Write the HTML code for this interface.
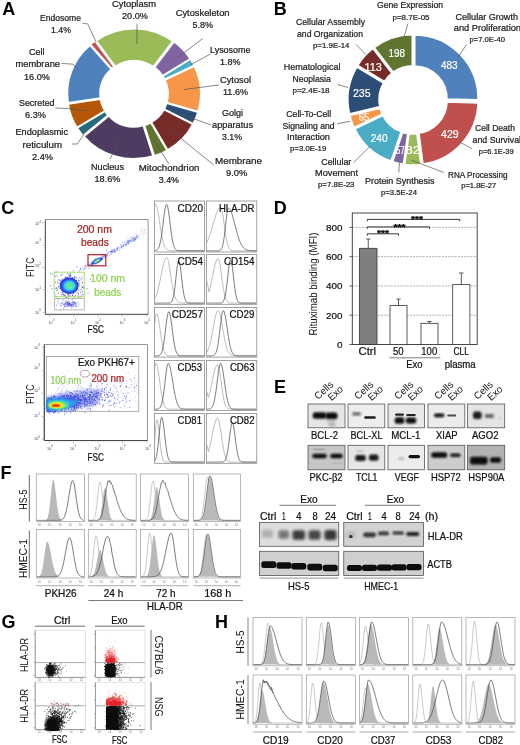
<!DOCTYPE html>
<html><head><meta charset="utf-8"><title>Figure</title>
<style>
html,body{margin:0;padding:0;background:#fff;}
body{width:520px;height:745px;overflow:hidden;font-family:"Liberation Sans",sans-serif;}
svg{display:block;font-family:"Liberation Sans",sans-serif;filter:blur(0.35px);}
</style></head><body>
<svg width="520" height="745" viewBox="0 0 520 745">
<rect width="520" height="745" fill="#fff"/>
<text x="2.20" y="14.80" font-size="18" font-weight="bold" fill="#000">A</text>
<g transform="translate(134 93.8) scale(1.012 0.988) translate(-134 -93.3)">
<path d="M69.01,102.26 A63.85,63.85 0 0 1 90.44,44.24 L111.40,68.56 A31.75,31.75 0 0 0 100.74,97.41 Z" fill="#4F81BD" stroke="#fff" stroke-width="1.5" stroke-linejoin="miter"/>
<path d="M91.08,43.36 A63.85,63.85 0 0 1 95.52,39.87 L114.24,65.94 A31.75,31.75 0 0 0 112.04,67.68 Z" fill="#C0504D" stroke="#fff" stroke-width="1.5" stroke-linejoin="miter"/>
<path d="M96.78,39.44 A63.85,63.85 0 0 1 172.22,40.14 L153.02,65.86 A31.75,31.75 0 0 0 115.50,65.51 Z" fill="#9BBB59" stroke="#fff" stroke-width="1.5" stroke-linejoin="miter"/>
<path d="M173.67,40.78 A63.85,63.85 0 0 1 189.47,57.88 L162.32,75.00 A31.75,31.75 0 0 0 154.47,66.50 Z" fill="#8064A2" stroke="#fff" stroke-width="1.5" stroke-linejoin="miter"/>
<path d="M189.75,58.27 A63.85,63.85 0 0 1 193.27,64.62 L164.35,78.55 A31.75,31.75 0 0 0 162.60,75.39 Z" fill="#4BACC6" stroke="#fff" stroke-width="1.5" stroke-linejoin="miter"/>
<path d="M193.52,65.42 A63.85,63.85 0 0 1 197.28,111.05 L166.47,102.04 A31.75,31.75 0 0 0 164.60,79.36 Z" fill="#F79646" stroke="#fff" stroke-width="1.5" stroke-linejoin="miter"/>
<path d="M197.14,111.96 A63.85,63.85 0 0 1 192.48,123.55 L164.01,108.72 A31.75,31.75 0 0 0 166.33,102.95 Z" fill="#2C4D75" stroke="#fff" stroke-width="1.5" stroke-linejoin="miter"/>
<path d="M192.07,124.18 A63.85,63.85 0 0 1 167.26,150.04 L151.26,122.21 A31.75,31.75 0 0 0 163.60,109.35 Z" fill="#772C2A" stroke="#fff" stroke-width="1.5" stroke-linejoin="miter"/>
<path d="M166.62,150.49 A63.85,63.85 0 0 1 154.08,156.00 L144.39,125.40 A31.75,31.75 0 0 0 150.63,122.66 Z" fill="#5F7530" stroke="#fff" stroke-width="1.5" stroke-linejoin="miter"/>
<path d="M152.72,156.09 A63.85,63.85 0 0 1 84.68,136.44 L109.20,115.72 A31.75,31.75 0 0 0 143.03,125.49 Z" fill="#4D3B62" stroke="#fff" stroke-width="1.5" stroke-linejoin="miter"/>
<path d="M83.62,135.69 A63.85,63.85 0 0 1 77.95,127.85 L105.31,111.07 A31.75,31.75 0 0 0 108.13,114.97 Z" fill="#276A7C" stroke="#fff" stroke-width="1.5" stroke-linejoin="miter"/>
<path d="M77.69,127.37 A63.85,63.85 0 0 1 69.01,103.65 L100.74,98.79 A31.75,31.75 0 0 0 105.06,110.58 Z" fill="#B65708" stroke="#fff" stroke-width="1.5" stroke-linejoin="miter"/>
</g>
<polyline points="82.50,23.40 87.70,23.80 96.20,42.30" fill="none" stroke="#555" stroke-width="0.7" stroke-linejoin="round" />
<polyline points="61.50,63.40 73.00,64.20 79.00,70.00" fill="none" stroke="#555" stroke-width="0.7" stroke-linejoin="round" />
<polyline points="55.20,108.00 67.70,108.50 87.60,110.90" fill="none" stroke="#555" stroke-width="0.7" stroke-linejoin="round" />
<polyline points="72.00,144.00 77.20,144.00 84.10,133.90" fill="none" stroke="#555" stroke-width="0.7" stroke-linejoin="round" />
<line x1="110.10" y1="159.00" x2="118.70" y2="141.40" stroke="#555" stroke-width="0.7" />
<line x1="137.00" y1="24.00" x2="137.00" y2="44.00" stroke="#555" stroke-width="0.7" />
<line x1="202.50" y1="38.75" x2="177.50" y2="57.50" stroke="#555" stroke-width="0.7" />
<line x1="210.50" y1="54.00" x2="191.00" y2="64.50" stroke="#555" stroke-width="0.7" />
<line x1="219.00" y1="85.00" x2="184.00" y2="89.50" stroke="#555" stroke-width="0.7" />
<line x1="211.00" y1="125.00" x2="180.00" y2="113.75" stroke="#555" stroke-width="0.7" />
<line x1="213.75" y1="165.00" x2="170.00" y2="129.50" stroke="#555" stroke-width="0.7" />
<line x1="168.75" y1="163.75" x2="153.75" y2="140.00" stroke="#555" stroke-width="0.7" />
<text x="40.00" y="20.50" font-size="8.6" fill="#1c1c1c" stroke="#1c1c1c" stroke-width="0.22" textLength="41.00" lengthAdjust="spacingAndGlyphs" >Endosome</text>
<text x="51.00" y="33.00" font-size="8.6" fill="#1c1c1c" stroke="#1c1c1c" stroke-width="0.22" textLength="20.00" lengthAdjust="spacingAndGlyphs" >1.4%</text>
<text x="29.00" y="54.50" font-size="8.6" fill="#1c1c1c" stroke="#1c1c1c" stroke-width="0.22" textLength="15.50" lengthAdjust="spacingAndGlyphs" >Cell</text>
<text x="15.50" y="67.00" font-size="8.6" fill="#1c1c1c" stroke="#1c1c1c" stroke-width="0.22" textLength="44.50" lengthAdjust="spacingAndGlyphs" >membrane</text>
<text x="24.00" y="79.50" font-size="8.6" fill="#1c1c1c" stroke="#1c1c1c" stroke-width="0.22" textLength="26.00" lengthAdjust="spacingAndGlyphs" >16.0%</text>
<text x="19.00" y="105.50" font-size="8.6" fill="#1c1c1c" stroke="#1c1c1c" stroke-width="0.22" textLength="35.50" lengthAdjust="spacingAndGlyphs" >Secreted</text>
<text x="25.00" y="118.00" font-size="8.6" fill="#1c1c1c" stroke="#1c1c1c" stroke-width="0.22" textLength="21.00" lengthAdjust="spacingAndGlyphs" >6.3%</text>
<text x="15.50" y="135.00" font-size="8.6" fill="#1c1c1c" stroke="#1c1c1c" stroke-width="0.22" textLength="52.50" lengthAdjust="spacingAndGlyphs" >Endoplasmic</text>
<text x="22.50" y="147.50" font-size="8.6" fill="#1c1c1c" stroke="#1c1c1c" stroke-width="0.22" textLength="39.50" lengthAdjust="spacingAndGlyphs" >reticulum</text>
<text x="32.00" y="160.00" font-size="8.6" fill="#1c1c1c" stroke="#1c1c1c" stroke-width="0.22" textLength="21.00" lengthAdjust="spacingAndGlyphs" >2.4%</text>
<text x="91.00" y="169.50" font-size="8.6" fill="#1c1c1c" stroke="#1c1c1c" stroke-width="0.22" textLength="33.00" lengthAdjust="spacingAndGlyphs" >Nucleus</text>
<text x="94.50" y="182.00" font-size="8.6" fill="#1c1c1c" stroke="#1c1c1c" stroke-width="0.22" textLength="26.00" lengthAdjust="spacingAndGlyphs" >18.6%</text>
<text x="112.00" y="7.00" font-size="8.6" fill="#1c1c1c" stroke="#1c1c1c" stroke-width="0.22" textLength="44.00" lengthAdjust="spacingAndGlyphs" >Cytoplasm</text>
<text x="122.00" y="19.00" font-size="8.6" fill="#1c1c1c" stroke="#1c1c1c" stroke-width="0.22" textLength="26.00" lengthAdjust="spacingAndGlyphs" >20.0%</text>
<text x="175.75" y="15.50" font-size="8.6" fill="#1c1c1c" stroke="#1c1c1c" stroke-width="0.22" textLength="53.75" lengthAdjust="spacingAndGlyphs" >Cytoskeleton</text>
<text x="192.50" y="28.00" font-size="8.6" fill="#1c1c1c" stroke="#1c1c1c" stroke-width="0.22" textLength="20.50" lengthAdjust="spacingAndGlyphs" >5.8%</text>
<text x="210.00" y="52.50" font-size="8.6" fill="#1c1c1c" stroke="#1c1c1c" stroke-width="0.22" textLength="40.50" lengthAdjust="spacingAndGlyphs" >Lysosome</text>
<text x="220.00" y="65.00" font-size="8.6" fill="#1c1c1c" stroke="#1c1c1c" stroke-width="0.22" textLength="20.50" lengthAdjust="spacingAndGlyphs" >1.8%</text>
<text x="220.00" y="82.50" font-size="8.6" fill="#1c1c1c" stroke="#1c1c1c" stroke-width="0.22" textLength="31.00" lengthAdjust="spacingAndGlyphs" >Cytosol</text>
<text x="223.00" y="94.50" font-size="8.6" fill="#1c1c1c" stroke="#1c1c1c" stroke-width="0.22" textLength="25.00" lengthAdjust="spacingAndGlyphs" >11.6%</text>
<text x="222.00" y="115.50" font-size="8.6" fill="#1c1c1c" stroke="#1c1c1c" stroke-width="0.22" textLength="21.00" lengthAdjust="spacingAndGlyphs" >Golgi</text>
<text x="212.00" y="127.50" font-size="8.6" fill="#1c1c1c" stroke="#1c1c1c" stroke-width="0.22" textLength="41.00" lengthAdjust="spacingAndGlyphs" >apparatus</text>
<text x="222.00" y="139.50" font-size="8.6" fill="#1c1c1c" stroke="#1c1c1c" stroke-width="0.22" textLength="20.00" lengthAdjust="spacingAndGlyphs" >3.1%</text>
<text x="215.00" y="163.75" font-size="8.6" fill="#1c1c1c" stroke="#1c1c1c" stroke-width="0.22" textLength="47.00" lengthAdjust="spacingAndGlyphs" >Membrane</text>
<text x="226.00" y="175.75" font-size="8.6" fill="#1c1c1c" stroke="#1c1c1c" stroke-width="0.22" textLength="21.50" lengthAdjust="spacingAndGlyphs" >9.0%</text>
<text x="138.75" y="171.00" font-size="8.6" fill="#1c1c1c" stroke="#1c1c1c" stroke-width="0.22" textLength="60.75" lengthAdjust="spacingAndGlyphs" >Mitochondrion</text>
<text x="158.75" y="183.00" font-size="8.6" fill="#1c1c1c" stroke="#1c1c1c" stroke-width="0.22" textLength="20.25" lengthAdjust="spacingAndGlyphs" >3.4%</text>
<text x="273.69" y="14.80" font-size="18" font-weight="bold" fill="#000">B</text>
<path d="M414.27,34.50 A64.25,64.25 0 0 1 478.50,100.34 L446.51,99.55 A32.25,32.25 0 0 0 414.27,66.50 Z" fill="#4F81BD" stroke="#fff" stroke-width="2.5" stroke-linejoin="miter"/>
<path d="M478.54,102.40 A64.25,64.25 0 0 1 422.57,164.52 L418.46,132.79 A32.25,32.25 0 0 0 446.55,101.60 Z" fill="#C0504D" stroke="#fff" stroke-width="2.5" stroke-linejoin="miter"/>
<path d="M421.44,165.02 A64.25,64.25 0 0 1 404.09,164.90 L408.62,133.23 A32.25,32.25 0 0 0 417.33,133.28 Z" fill="#9BBB59" stroke="#fff" stroke-width="2.5" stroke-linejoin="miter"/>
<path d="M403.75,164.86 A64.25,64.25 0 0 1 392.01,162.03 L402.39,131.76 A32.25,32.25 0 0 0 408.28,133.18 Z" fill="#8064A2" stroke="#fff" stroke-width="2.5" stroke-linejoin="miter"/>
<path d="M391.36,161.70 A64.25,64.25 0 0 1 354.28,128.73 L383.13,114.88 A32.25,32.25 0 0 0 401.74,131.43 Z" fill="#4BACC6" stroke="#fff" stroke-width="2.5" stroke-linejoin="miter"/>
<path d="M353.87,128.11 A64.25,64.25 0 0 1 349.27,115.13 L380.41,107.74 A32.25,32.25 0 0 0 382.71,114.26 Z" fill="#F79646" stroke="#fff" stroke-width="2.5" stroke-linejoin="miter"/>
<path d="M349.20,114.40 A64.25,64.25 0 0 1 356.72,66.35 L384.11,82.89 A32.25,32.25 0 0 0 380.34,107.01 Z" fill="#2C4D75" stroke="#fff" stroke-width="2.5" stroke-linejoin="miter"/>
<path d="M357.09,65.58 A64.25,64.25 0 0 1 372.99,47.81 L392.46,73.21 A32.25,32.25 0 0 0 384.48,82.12 Z" fill="#772C2A" stroke="#fff" stroke-width="2.5" stroke-linejoin="miter"/>
<path d="M373.63,47.39 A64.25,64.25 0 0 1 412.72,34.13 L412.72,66.13 A32.25,32.25 0 0 0 393.10,72.79 Z" fill="#5F7530" stroke="#fff" stroke-width="2.5" stroke-linejoin="miter"/>
<line x1="356.00" y1="44.50" x2="366.00" y2="54.50" stroke="#555" stroke-width="0.7" />
<line x1="337.50" y1="84.50" x2="348.00" y2="87.50" stroke="#555" stroke-width="0.7" />
<line x1="337.00" y1="123.75" x2="350.50" y2="121.25" stroke="#555" stroke-width="0.7" />
<line x1="353.75" y1="162.50" x2="370.00" y2="146.25" stroke="#555" stroke-width="0.7" />
<line x1="398.75" y1="172.50" x2="399.50" y2="162.50" stroke="#555" stroke-width="0.7" />
<line x1="443.75" y1="172.50" x2="411.25" y2="160.00" stroke="#555" stroke-width="0.7" />
<line x1="472.00" y1="148.75" x2="460.50" y2="142.50" stroke="#555" stroke-width="0.7" />
<line x1="466.50" y1="44.50" x2="458.50" y2="56.50" stroke="#555" stroke-width="0.7" />
<line x1="408.00" y1="23.50" x2="404.00" y2="37.00" stroke="#555" stroke-width="0.7" />
<text x="296.00" y="25.00" font-size="8.6" fill="#1c1c1c" stroke="#1c1c1c" stroke-width="0.22" textLength="69.00" lengthAdjust="spacingAndGlyphs" >Cellular Assembly</text>
<text x="297.00" y="37.00" font-size="8.6" fill="#1c1c1c" stroke="#1c1c1c" stroke-width="0.22" textLength="66.00" lengthAdjust="spacingAndGlyphs" >and Organization</text>
<text x="313.00" y="48.00" font-size="7.9" fill="#1c1c1c" stroke="#1c1c1c" stroke-width="0.22" textLength="36.50" lengthAdjust="spacingAndGlyphs" >p=1.9E-14</text>
<text x="283.75" y="70.00" font-size="8.6" fill="#1c1c1c" stroke="#1c1c1c" stroke-width="0.22" textLength="56.75" lengthAdjust="spacingAndGlyphs" >Hematological</text>
<text x="292.50" y="81.75" font-size="8.6" fill="#1c1c1c" stroke="#1c1c1c" stroke-width="0.22" textLength="38.25" lengthAdjust="spacingAndGlyphs" >Neoplasia</text>
<text x="292.50" y="92.50" font-size="7.9" fill="#1c1c1c" stroke="#1c1c1c" stroke-width="0.22" textLength="37.00" lengthAdjust="spacingAndGlyphs" >p=2.4E-18</text>
<text x="286.25" y="117.00" font-size="8.6" fill="#1c1c1c" stroke="#1c1c1c" stroke-width="0.22" textLength="45.00" lengthAdjust="spacingAndGlyphs" >Cell-To-Cell</text>
<text x="282.50" y="128.75" font-size="8.6" fill="#1c1c1c" stroke="#1c1c1c" stroke-width="0.22" textLength="52.00" lengthAdjust="spacingAndGlyphs" >Signaling and</text>
<text x="287.00" y="140.00" font-size="8.6" fill="#1c1c1c" stroke="#1c1c1c" stroke-width="0.22" textLength="43.00" lengthAdjust="spacingAndGlyphs" >Interaction</text>
<text x="290.00" y="151.25" font-size="7.9" fill="#1c1c1c" stroke="#1c1c1c" stroke-width="0.22" textLength="36.25" lengthAdjust="spacingAndGlyphs" >p=3.0E-19</text>
<text x="321.25" y="165.00" font-size="8.6" fill="#1c1c1c" stroke="#1c1c1c" stroke-width="0.22" textLength="30.00" lengthAdjust="spacingAndGlyphs" >Cellular</text>
<text x="315.00" y="176.25" font-size="8.6" fill="#1c1c1c" stroke="#1c1c1c" stroke-width="0.22" textLength="43.00" lengthAdjust="spacingAndGlyphs" >Movement</text>
<text x="318.00" y="187.00" font-size="7.9" fill="#1c1c1c" stroke="#1c1c1c" stroke-width="0.22" textLength="36.50" lengthAdjust="spacingAndGlyphs" >p=7.8E-23</text>
<text x="365.00" y="183.75" font-size="8.6" fill="#1c1c1c" stroke="#1c1c1c" stroke-width="0.22" textLength="69.50" lengthAdjust="spacingAndGlyphs" >Protein Synthesis</text>
<text x="381.00" y="194.50" font-size="7.9" fill="#1c1c1c" stroke="#1c1c1c" stroke-width="0.22" textLength="36.00" lengthAdjust="spacingAndGlyphs" >p=3.5E-24</text>
<text x="448.00" y="177.50" font-size="8.6" fill="#1c1c1c" stroke="#1c1c1c" stroke-width="0.22" textLength="59.50" lengthAdjust="spacingAndGlyphs" >RNA Processing</text>
<text x="461.25" y="188.00" font-size="7.9" fill="#1c1c1c" stroke="#1c1c1c" stroke-width="0.22" textLength="35.00" lengthAdjust="spacingAndGlyphs" >p=1.8E-27</text>
<text x="475.00" y="131.00" font-size="8.6" fill="#1c1c1c" stroke="#1c1c1c" stroke-width="0.22" textLength="40.00" lengthAdjust="spacingAndGlyphs" >Cell Death</text>
<text x="472.50" y="143.00" font-size="8.6" fill="#1c1c1c" stroke="#1c1c1c" stroke-width="0.22" textLength="48.50" lengthAdjust="spacingAndGlyphs" >and Survival</text>
<text x="478.75" y="153.75" font-size="7.9" fill="#1c1c1c" stroke="#1c1c1c" stroke-width="0.22" textLength="35.00" lengthAdjust="spacingAndGlyphs" >p=6.1E-39</text>
<text x="455.50" y="20.00" font-size="8.6" fill="#1c1c1c" stroke="#1c1c1c" stroke-width="0.22" textLength="62.50" lengthAdjust="spacingAndGlyphs" >Cellular Growth</text>
<text x="453.75" y="31.00" font-size="8.6" fill="#1c1c1c" stroke="#1c1c1c" stroke-width="0.22" textLength="67.25" lengthAdjust="spacingAndGlyphs" >and Proliferation</text>
<text x="469.50" y="42.00" font-size="7.9" fill="#1c1c1c" stroke="#1c1c1c" stroke-width="0.22" textLength="35.50" lengthAdjust="spacingAndGlyphs" >p=7.0E-40</text>
<text x="377.00" y="8.00" font-size="8.6" fill="#1c1c1c" stroke="#1c1c1c" stroke-width="0.22" textLength="66.00" lengthAdjust="spacingAndGlyphs" >Gene Expression</text>
<text x="392.50" y="20.00" font-size="7.9" fill="#1c1c1c" stroke="#1c1c1c" stroke-width="0.22" textLength="37.00" lengthAdjust="spacingAndGlyphs" >p=8.7E-05</text>
<text x="441.00" y="68.60" font-size="10.2" fill="#fff" stroke="#fff" stroke-width="0.22" textLength="16.50" lengthAdjust="spacingAndGlyphs" >483</text>
<text x="441.00" y="138.10" font-size="10.2" fill="#fff" stroke="#fff" stroke-width="0.22" textLength="17.75" lengthAdjust="spacingAndGlyphs" >429</text>
<text x="405.50" y="154.35" font-size="10.2" fill="#fff" stroke="#fff" stroke-width="0.22" textLength="14.50" lengthAdjust="spacingAndGlyphs" >82</text>
<text x="395.50" y="154.35" font-size="10.2" fill="#fff" stroke="#fff" stroke-width="0.22" textLength="9.50" lengthAdjust="spacingAndGlyphs" >57</text>
<text x="370.75" y="141.85" font-size="10.2" fill="#fff" stroke="#fff" stroke-width="0.22" textLength="16.75" lengthAdjust="spacingAndGlyphs" >240</text>
<text x="358.75" y="120.60" font-size="10.2" fill="#fff" stroke="#fff" stroke-width="0.22" textLength="10.50" lengthAdjust="spacingAndGlyphs" >65</text>
<text x="353.00" y="96.60" font-size="10.2" fill="#fff" stroke="#fff" stroke-width="0.22" textLength="17.50" lengthAdjust="spacingAndGlyphs" >235</text>
<text x="364.50" y="71.10" font-size="10.2" fill="#fff" stroke="#fff" stroke-width="0.22" textLength="17.25" lengthAdjust="spacingAndGlyphs" >113</text>
<text x="388.50" y="56.90" font-size="10.2" fill="#fff" stroke="#fff" stroke-width="0.22" textLength="16.50" lengthAdjust="spacingAndGlyphs" >198</text>
<text x="1.37" y="213.60" font-size="18" font-weight="bold" fill="#000">C</text>
<rect x="45.40" y="219.60" width="102.70" height="94.70" fill="none" stroke="#7d7d7d" stroke-width="0.8" />
<line x1="45.40" y1="219.60" x2="45.40" y2="314.30" stroke="#555" stroke-width="0.9" />
<line x1="45.40" y1="314.30" x2="148.10" y2="314.30" stroke="#555" stroke-width="0.9" />
<line x1="42.60" y1="222.50" x2="45.40" y2="222.50" stroke="#777" stroke-width="0.45" />
<line x1="44.00" y1="225.00" x2="45.40" y2="225.00" stroke="#777" stroke-width="0.45" />
<line x1="44.00" y1="227.50" x2="45.40" y2="227.50" stroke="#777" stroke-width="0.45" />
<line x1="44.00" y1="230.00" x2="45.40" y2="230.00" stroke="#777" stroke-width="0.45" />
<line x1="44.00" y1="232.50" x2="45.40" y2="232.50" stroke="#777" stroke-width="0.45" />
<line x1="44.00" y1="235.00" x2="45.40" y2="235.00" stroke="#777" stroke-width="0.45" />
<line x1="44.00" y1="237.50" x2="45.40" y2="237.50" stroke="#777" stroke-width="0.45" />
<line x1="44.00" y1="240.00" x2="45.40" y2="240.00" stroke="#777" stroke-width="0.45" />
<line x1="44.00" y1="242.50" x2="45.40" y2="242.50" stroke="#777" stroke-width="0.45" />
<line x1="42.60" y1="245.00" x2="45.40" y2="245.00" stroke="#777" stroke-width="0.45" />
<line x1="44.00" y1="247.50" x2="45.40" y2="247.50" stroke="#777" stroke-width="0.45" />
<line x1="44.00" y1="250.00" x2="45.40" y2="250.00" stroke="#777" stroke-width="0.45" />
<line x1="44.00" y1="252.50" x2="45.40" y2="252.50" stroke="#777" stroke-width="0.45" />
<line x1="44.00" y1="255.00" x2="45.40" y2="255.00" stroke="#777" stroke-width="0.45" />
<line x1="44.00" y1="257.50" x2="45.40" y2="257.50" stroke="#777" stroke-width="0.45" />
<line x1="44.00" y1="260.00" x2="45.40" y2="260.00" stroke="#777" stroke-width="0.45" />
<line x1="44.00" y1="262.50" x2="45.40" y2="262.50" stroke="#777" stroke-width="0.45" />
<line x1="44.00" y1="265.00" x2="45.40" y2="265.00" stroke="#777" stroke-width="0.45" />
<line x1="42.60" y1="267.50" x2="45.40" y2="267.50" stroke="#777" stroke-width="0.45" />
<line x1="44.00" y1="270.00" x2="45.40" y2="270.00" stroke="#777" stroke-width="0.45" />
<line x1="44.00" y1="272.50" x2="45.40" y2="272.50" stroke="#777" stroke-width="0.45" />
<line x1="44.00" y1="275.00" x2="45.40" y2="275.00" stroke="#777" stroke-width="0.45" />
<line x1="44.00" y1="277.50" x2="45.40" y2="277.50" stroke="#777" stroke-width="0.45" />
<line x1="44.00" y1="280.00" x2="45.40" y2="280.00" stroke="#777" stroke-width="0.45" />
<line x1="44.00" y1="282.50" x2="45.40" y2="282.50" stroke="#777" stroke-width="0.45" />
<line x1="44.00" y1="285.00" x2="45.40" y2="285.00" stroke="#777" stroke-width="0.45" />
<line x1="44.00" y1="287.50" x2="45.40" y2="287.50" stroke="#777" stroke-width="0.45" />
<line x1="42.60" y1="290.00" x2="45.40" y2="290.00" stroke="#777" stroke-width="0.45" />
<line x1="44.00" y1="292.50" x2="45.40" y2="292.50" stroke="#777" stroke-width="0.45" />
<line x1="44.00" y1="295.00" x2="45.40" y2="295.00" stroke="#777" stroke-width="0.45" />
<line x1="44.00" y1="297.50" x2="45.40" y2="297.50" stroke="#777" stroke-width="0.45" />
<line x1="44.00" y1="300.00" x2="45.40" y2="300.00" stroke="#777" stroke-width="0.45" />
<line x1="44.00" y1="302.50" x2="45.40" y2="302.50" stroke="#777" stroke-width="0.45" />
<line x1="44.00" y1="305.00" x2="45.40" y2="305.00" stroke="#777" stroke-width="0.45" />
<line x1="44.00" y1="307.50" x2="45.40" y2="307.50" stroke="#777" stroke-width="0.45" />
<line x1="44.00" y1="310.00" x2="45.40" y2="310.00" stroke="#777" stroke-width="0.45" />
<line x1="42.60" y1="312.50" x2="45.40" y2="312.50" stroke="#777" stroke-width="0.45" />
<line x1="49.50" y1="314.30" x2="49.50" y2="317.00" stroke="#777" stroke-width="0.45" />
<line x1="52.20" y1="314.30" x2="52.20" y2="315.60" stroke="#777" stroke-width="0.45" />
<line x1="54.90" y1="314.30" x2="54.90" y2="315.60" stroke="#777" stroke-width="0.45" />
<line x1="57.60" y1="314.30" x2="57.60" y2="315.60" stroke="#777" stroke-width="0.45" />
<line x1="60.30" y1="314.30" x2="60.30" y2="315.60" stroke="#777" stroke-width="0.45" />
<line x1="63.00" y1="314.30" x2="63.00" y2="315.60" stroke="#777" stroke-width="0.45" />
<line x1="65.70" y1="314.30" x2="65.70" y2="315.60" stroke="#777" stroke-width="0.45" />
<line x1="68.40" y1="314.30" x2="68.40" y2="315.60" stroke="#777" stroke-width="0.45" />
<line x1="71.10" y1="314.30" x2="71.10" y2="315.60" stroke="#777" stroke-width="0.45" />
<line x1="73.80" y1="314.30" x2="73.80" y2="317.00" stroke="#777" stroke-width="0.45" />
<line x1="76.50" y1="314.30" x2="76.50" y2="315.60" stroke="#777" stroke-width="0.45" />
<line x1="79.20" y1="314.30" x2="79.20" y2="315.60" stroke="#777" stroke-width="0.45" />
<line x1="81.90" y1="314.30" x2="81.90" y2="315.60" stroke="#777" stroke-width="0.45" />
<line x1="84.60" y1="314.30" x2="84.60" y2="315.60" stroke="#777" stroke-width="0.45" />
<line x1="87.30" y1="314.30" x2="87.30" y2="315.60" stroke="#777" stroke-width="0.45" />
<line x1="90.00" y1="314.30" x2="90.00" y2="315.60" stroke="#777" stroke-width="0.45" />
<line x1="92.70" y1="314.30" x2="92.70" y2="315.60" stroke="#777" stroke-width="0.45" />
<line x1="95.40" y1="314.30" x2="95.40" y2="315.60" stroke="#777" stroke-width="0.45" />
<line x1="98.10" y1="314.30" x2="98.10" y2="317.00" stroke="#777" stroke-width="0.45" />
<line x1="100.80" y1="314.30" x2="100.80" y2="315.60" stroke="#777" stroke-width="0.45" />
<line x1="103.50" y1="314.30" x2="103.50" y2="315.60" stroke="#777" stroke-width="0.45" />
<line x1="106.20" y1="314.30" x2="106.20" y2="315.60" stroke="#777" stroke-width="0.45" />
<line x1="108.90" y1="314.30" x2="108.90" y2="315.60" stroke="#777" stroke-width="0.45" />
<line x1="111.60" y1="314.30" x2="111.60" y2="315.60" stroke="#777" stroke-width="0.45" />
<line x1="114.30" y1="314.30" x2="114.30" y2="315.60" stroke="#777" stroke-width="0.45" />
<line x1="117.00" y1="314.30" x2="117.00" y2="315.60" stroke="#777" stroke-width="0.45" />
<line x1="119.70" y1="314.30" x2="119.70" y2="315.60" stroke="#777" stroke-width="0.45" />
<line x1="122.40" y1="314.30" x2="122.40" y2="317.00" stroke="#777" stroke-width="0.45" />
<line x1="125.10" y1="314.30" x2="125.10" y2="315.60" stroke="#777" stroke-width="0.45" />
<line x1="127.80" y1="314.30" x2="127.80" y2="315.60" stroke="#777" stroke-width="0.45" />
<line x1="130.50" y1="314.30" x2="130.50" y2="315.60" stroke="#777" stroke-width="0.45" />
<line x1="133.20" y1="314.30" x2="133.20" y2="315.60" stroke="#777" stroke-width="0.45" />
<line x1="135.90" y1="314.30" x2="135.90" y2="315.60" stroke="#777" stroke-width="0.45" />
<line x1="138.60" y1="314.30" x2="138.60" y2="315.60" stroke="#777" stroke-width="0.45" />
<line x1="141.30" y1="314.30" x2="141.30" y2="315.60" stroke="#777" stroke-width="0.45" />
<line x1="144.00" y1="314.30" x2="144.00" y2="315.60" stroke="#777" stroke-width="0.45" />
<line x1="146.70" y1="314.30" x2="146.70" y2="317.00" stroke="#777" stroke-width="0.45" />
<text x="48.5" y="323.5" font-size="3.7" fill="#4a4a4a">10</text><text x="52.7" y="321.2" font-size="3" fill="#4a4a4a">0</text>
<text x="70.5" y="323.5" font-size="3.7" fill="#4a4a4a">10</text><text x="74.7" y="321.2" font-size="3" fill="#4a4a4a">1</text>
<text x="95.0" y="323.5" font-size="3.7" fill="#4a4a4a">10</text><text x="99.2" y="321.2" font-size="3" fill="#4a4a4a">2</text>
<text x="119.5" y="323.5" font-size="3.7" fill="#4a4a4a">10</text><text x="123.7" y="321.2" font-size="3" fill="#4a4a4a">3</text>
<text x="144.0" y="323.5" font-size="3.7" fill="#4a4a4a">10</text><text x="148.2" y="321.2" font-size="3" fill="#4a4a4a">4</text>
<text x="35.0" y="225.0" font-size="3.7" fill="#4a4a4a">10</text><text x="39.2" y="222.7" font-size="3" fill="#4a4a4a">4</text>
<text x="35.0" y="243.5" font-size="3.7" fill="#4a4a4a">10</text><text x="39.2" y="241.2" font-size="3" fill="#4a4a4a">3</text>
<text x="35.0" y="267.0" font-size="3.7" fill="#4a4a4a">10</text><text x="39.2" y="264.7" font-size="3" fill="#4a4a4a">2</text>
<text x="35.0" y="291.0" font-size="3.7" fill="#4a4a4a">10</text><text x="39.2" y="288.7" font-size="3" fill="#4a4a4a">1</text>
<text x="35.0" y="313.5" font-size="3.7" fill="#4a4a4a">10</text><text x="39.2" y="311.2" font-size="3" fill="#4a4a4a">0</text>
<defs><filter id="b1" x="-30%" y="-30%" width="160%" height="160%"><feGaussianBlur stdDeviation="1.05"/></filter><filter id="b05" x="-30%" y="-30%" width="160%" height="160%"><feGaussianBlur stdDeviation="0.5"/></filter><filter id="b15" x="-30%" y="-30%" width="160%" height="160%"><feGaussianBlur stdDeviation="1.4"/></filter><filter id="b2" x="-30%" y="-30%" width="160%" height="160%"><feGaussianBlur stdDeviation="2"/></filter></defs>
<path d="M69.3 293.7h0.9M69.3 289.6h0.9M67.0 287.5h0.9M72.4 283.6h0.9M61.7 274.3h0.9M82.4 287.4h0.9M73.6 289.8h0.9M71.4 285.9h0.9M67.2 286.2h0.9M58.1 293.2h0.9M77.4 284.1h0.9M68.9 287.2h0.9M76.6 292.2h0.9M71.1 283.4h0.9M59.4 279.8h0.9M70.7 277.0h0.9M82.6 294.5h0.9M74.3 289.5h0.9M60.6 275.2h0.9M68.4 280.5h0.9M70.7 287.5h0.9M65.2 285.4h0.9M62.3 285.3h0.9M62.6 294.7h0.9M56.1 296.6h0.9M69.9 292.1h0.9M69.5 283.7h0.9M69.7 283.4h0.9M75.0 291.6h0.9M73.4 277.9h0.9M72.1 283.6h0.9M67.7 286.5h0.9M69.1 286.6h0.9M72.4 288.5h0.9M68.2 282.4h0.9M78.0 283.1h0.9M72.4 287.0h0.9M69.5 288.2h0.9M76.9 288.8h0.9M69.7 285.7h0.9M66.1 286.1h0.9M65.4 281.9h0.9M72.6 292.5h0.9M70.4 283.3h0.9M67.9 280.1h0.9M68.9 289.9h0.9M55.1 296.1h0.9M70.5 286.6h0.9M73.5 292.2h0.9M75.0 281.1h0.9M57.0 282.6h0.9M83.2 288.2h0.9M59.7 288.7h0.9M73.3 282.9h0.9M80.2 292.4h0.9M71.0 288.5h0.9M71.0 289.6h0.9M62.4 283.5h0.9M56.9 289.8h0.9M67.9 294.0h0.9M70.0 284.6h0.9M68.1 282.2h0.9M61.0 286.2h0.9M65.9 286.2h0.9M69.1 281.9h0.9M65.9 287.9h0.9M67.3 283.8h0.9M70.0 281.0h0.9M62.7 282.2h0.9M61.8 285.4h0.9M76.6 287.2h0.9M68.0 287.8h0.9M55.0 282.2h0.9M68.2 287.6h0.9M59.7 284.4h0.9M69.0 286.9h0.9M72.7 285.1h0.9M76.1 285.3h0.9M66.1 278.6h0.9M67.4 288.8h0.9M70.6 284.5h0.9M66.8 288.0h0.9M69.8 282.7h0.9M69.4 285.2h0.9M56.4 290.7h0.9M69.4 282.3h0.9M79.6 290.1h0.9M67.4 282.0h0.9M70.0 288.4h0.9M67.1 279.1h0.9M70.7 291.6h0.9M72.7 289.1h0.9M74.8 281.5h0.9M72.7 293.2h0.9M69.6 295.3h0.9M71.8 285.1h0.9M67.1 293.6h0.9M72.9 279.5h0.9M62.6 288.5h0.9M73.8 282.0h0.9M67.0 286.2h0.9M73.2 281.0h0.9M71.2 284.7h0.9M67.6 292.5h0.9M63.4 288.7h0.9M72.5 284.8h0.9M74.1 284.8h0.9M71.3 287.1h0.9M75.6 287.6h0.9M59.5 280.5h0.9M66.3 277.7h0.9M80.0 296.3h0.9M72.4 285.0h0.9M67.8 295.5h0.9M58.4 287.2h0.9M60.7 287.3h0.9M70.0 288.6h0.9M67.3 282.4h0.9M69.1 292.6h0.9M66.1 285.5h0.9M64.8 277.2h0.9M68.7 286.8h0.9M68.2 275.9h0.9M67.2 277.6h0.9M67.5 283.0h0.9M64.7 296.2h0.9M71.7 284.0h0.9M69.1 276.3h0.9M61.4 290.2h0.9M90.1 279.1h0.9M72.1 279.0h0.9M74.8 287.4h0.9M56.7 276.0h0.9M61.9 282.7h0.9M68.3 292.2h0.9M67.1 286.5h0.9M68.7 283.3h0.9M69.9 285.1h0.9M60.6 286.7h0.9M67.1 289.7h0.9M73.5 283.1h0.9M68.4 290.7h0.9M72.2 285.9h0.9M79.1 281.1h0.9M55.7 271.9h0.9M65.4 282.1h0.9M67.5 294.7h0.9M70.6 289.6h0.9M62.8 284.3h0.9M63.4 294.3h0.9M72.0 290.4h0.9M75.3 276.8h0.9M67.5 288.6h0.9M72.4 289.5h0.9M57.9 280.0h0.9M63.6 286.8h0.9M72.5 286.7h0.9M66.0 280.3h0.9M71.7 280.0h0.9M73.2 280.8h0.9M60.1 281.8h0.9M66.4 289.4h0.9M69.6 275.8h0.9M67.5 288.0h0.9M63.9 286.7h0.9M81.3 289.3h0.9M68.5 293.9h0.9M66.6 286.2h0.9M76.8 288.5h0.9M68.3 282.3h0.9M76.6 266.8h0.9M81.5 286.0h0.9M65.4 289.1h0.9M67.0 285.8h0.9M66.0 284.2h0.9M67.2 284.9h0.9M66.1 288.2h0.9M62.8 300.2h0.9M67.2 289.0h0.9M68.6 286.2h0.9M66.7 281.3h0.9M72.9 286.0h0.9M60.8 284.6h0.9M63.1 285.0h0.9M72.1 298.9h0.9M66.0 288.8h0.9M72.2 286.9h0.9M81.6 295.0h0.9M61.3 289.4h0.9M64.3 290.0h0.9M69.5 279.4h0.9M69.8 283.9h0.9M86.6 288.7h0.9M78.1 280.8h0.9M63.7 286.4h0.9M74.4 280.2h0.9M54.4 293.0h0.9M74.4 284.3h0.9M71.9 280.0h0.9M70.8 282.5h0.9M66.5 283.6h0.9M65.6 288.8h0.9M67.3 286.5h0.9M65.3 291.8h0.9M73.4 283.2h0.9M66.8 283.2h0.9M70.0 275.7h0.9M62.2 292.9h0.9M70.9 285.0h0.9M72.0 295.2h0.9M71.2 290.1h0.9M74.1 285.4h0.9M58.2 299.2h0.9M74.3 276.9h0.9M69.4 288.1h0.9M55.2 276.3h0.9M66.1 290.6h0.9M52.3 273.9h0.9M69.6 283.9h0.9M63.7 281.5h0.9M67.3 286.3h0.9M71.8 287.9h0.9M76.3 284.5h0.9M68.4 287.5h0.9M72.4 287.2h0.9M69.3 288.5h0.9M73.8 282.2h0.9M77.9 295.9h0.9M64.0 289.2h0.9M69.4 281.8h0.9M66.9 282.2h0.9M75.5 287.5h0.9M65.5 280.9h0.9M70.4 286.9h0.9M76.7 288.5h0.9M67.8 287.1h0.9M76.1 280.6h0.9M74.2 278.8h0.9M69.5 278.3h0.9M68.4 282.9h0.9M56.3 287.7h0.9M69.1 286.0h0.9M73.5 285.3h0.9M68.8 289.7h0.9M60.9 285.3h0.9M70.1 274.9h0.9M67.0 285.3h0.9M67.2 286.2h0.9M64.3 279.0h0.9M58.4 283.1h0.9M82.2 287.2h0.9M71.5 292.7h0.9M51.6 288.8h0.9M81.6 282.4h0.9M74.0 277.2h0.9M72.0 295.4h0.9M72.0 284.9h0.9M73.1 292.3h0.9M66.7 283.1h0.9M71.2 284.6h0.9M61.6 292.7h0.9M65.1 284.1h0.9M76.2 285.5h0.9M67.4 289.3h0.9M70.0 273.7h0.9M76.7 282.9h0.9M68.5 289.5h0.9M56.3 288.5h0.9M73.9 287.0h0.9M71.0 287.3h0.9M66.1 279.0h0.9M63.2 291.6h0.9M70.2 284.3h0.9M65.3 297.2h0.9M60.8 283.3h0.9M64.8 287.0h0.9M68.8 285.0h0.9M73.1 286.0h0.9M50.4 285.7h0.9M62.6 283.4h0.9M72.3 283.1h0.9M71.7 280.6h0.9M72.7 282.0h0.9M66.8 287.7h0.9M70.5 291.7h0.9M62.2 292.5h0.9M82.4 287.5h0.9M71.4 286.0h0.9M73.6 282.6h0.9M80.7 279.8h0.9M68.9 290.4h0.9M67.7 284.7h0.9M59.8 288.5h0.9M68.3 290.5h0.9M68.0 285.1h0.9M71.5 289.0h0.9M69.0 290.4h0.9M65.9 279.9h0.9M62.4 285.5h0.9M64.0 295.1h0.9M71.7 284.6h0.9M75.3 282.7h0.9M62.8 282.3h0.9M72.0 285.9h0.9M70.0 284.6h0.9M66.4 282.0h0.9M54.8 288.3h0.9M66.3 286.9h0.9M67.7 284.9h0.9M82.1 291.6h0.9M77.0 286.1h0.9M64.8 286.0h0.9M66.5 281.0h0.9M64.1 289.1h0.9M70.3 288.2h0.9M67.2 283.7h0.9M74.4 284.7h0.9M77.9 290.0h0.9M74.2 282.2h0.9M69.4 288.6h0.9M64.7 284.3h0.9M74.5 285.3h0.9M67.8 282.0h0.9M66.9 285.7h0.9M71.1 284.3h0.9M76.2 278.6h0.9M71.8 283.2h0.9M75.3 289.9h0.9M71.6 282.3h0.9M72.9 270.7h0.9M67.5 284.5h0.9M72.6 289.8h0.9M72.9 293.5h0.9M65.1 287.6h0.9M63.2 290.2h0.9M67.3 273.7h0.9M63.9 288.3h0.9M77.1 286.5h0.9M62.0 279.0h0.9M66.8 277.7h0.9M78.1 293.2h0.9M70.8 284.9h0.9M67.0 284.5h0.9M71.8 285.8h0.9M61.1 280.7h0.9M76.3 289.3h0.9M64.5 287.2h0.9M73.8 297.0h0.9M66.4 289.5h0.9M65.2 288.0h0.9M71.3 285.1h0.9M87.6 292.9h0.9M69.8 287.1h0.9M75.0 295.5h0.9M69.7 288.9h0.9M62.9 295.0h0.9M63.0 280.1h0.9M66.6 297.6h0.9M69.2 285.5h0.9M68.1 283.1h0.9M72.9 279.3h0.9M81.6 278.0h0.9M68.6 287.1h0.9M66.1 285.5h0.9M70.4 286.9h0.9M69.1 283.2h0.9M68.7 287.8h0.9M65.3 287.0h0.9M68.4 282.4h0.9M64.8 295.6h0.9M71.5 287.8h0.9M74.1 288.3h0.9M78.6 285.5h0.9M65.7 286.9h0.9M65.2 277.2h0.9M75.2 287.0h0.9M58.2 286.4h0.9M63.5 285.9h0.9M79.4 277.8h0.9M64.2 291.3h0.9M66.8 283.3h0.9M67.2 283.0h0.9M67.5 291.2h0.9M75.4 280.9h0.9M72.4 280.7h0.9M71.9 291.7h0.9M67.2 287.1h0.9M72.5 284.8h0.9M61.7 280.1h0.9M72.8 287.0h0.9M71.7 279.6h0.9M72.2 288.2h0.9M68.8 274.2h0.9M69.7 276.0h0.9M72.1 277.6h0.9M76.4 285.2h0.9M82.0 283.0h0.9M78.9 283.7h0.9M50.2 273.6h0.9M69.1 285.1h0.9M69.6 285.8h0.9M70.1 289.1h0.9M77.8 293.8h0.9M78.0 297.3h0.9M64.3 282.2h0.9M62.2 282.5h0.9M68.0 296.8h0.9M69.6 284.8h0.9M67.9 287.2h0.9M60.8 286.0h0.9M69.7 285.9h0.9M71.6 288.8h0.9M60.3 288.9h0.9M78.0 280.0h0.9M66.3 277.6h0.9M61.2 294.6h0.9M62.6 286.6h0.9M62.5 289.0h0.9M71.2 281.9h0.9M68.3 291.3h0.9" stroke="#2b35d6" stroke-width="0.9" fill="none" opacity="0.85"/>
<g filter="url(#b05)">
<ellipse cx="69.2" cy="285.8" rx="9.5" ry="8.2" fill="#2f3fe0"/>
<ellipse cx="69.4" cy="285.8" rx="7.2" ry="6.2" fill="#2f8cf0"/>
<ellipse cx="69.6" cy="285.8" rx="5.6" ry="4.8" fill="#35d6e6"/>
<ellipse cx="69.8" cy="285.8" rx="3.6" ry="3.1" fill="#5ee89a"/>
</g>
<path d="M129.1 241.1h0.8M100.9 257.2h0.8M122.8 245.3h0.8M85.1 265.6h0.8M95.0 258.8h0.8M95.7 259.2h0.8M110.7 253.4h0.8M125.5 242.7h0.8M88.0 264.2h0.8M94.8 259.2h0.8M130.3 240.0h0.8M117.3 249.5h0.8M93.4 261.3h0.8M114.5 250.3h0.8M95.6 264.7h0.8M106.7 256.6h0.8M127.8 244.3h0.8M103.5 256.5h0.8M85.2 268.6h0.8M110.7 251.5h0.8M123.9 244.5h0.8M127.2 240.7h0.8M99.2 259.8h0.8M94.1 262.5h0.8M116.3 248.7h0.8M134.9 238.2h0.8M117.0 248.8h0.8M135.0 239.7h0.8M121.3 246.7h0.8M105.8 255.1h0.8M136.3 237.9h0.8M83.3 269.6h0.8M134.3 238.4h0.8M84.5 266.2h0.8M120.3 247.0h0.8M91.4 260.9h0.8M121.0 247.6h0.8M126.3 244.4h0.8M99.5 260.5h0.8M93.0 263.5h0.8M123.4 246.2h0.8M97.4 262.4h0.8M98.5 259.9h0.8M132.6 241.1h0.8M90.0 264.7h0.8M117.9 247.9h0.8M127.0 242.1h0.8M91.3 264.2h0.8M122.7 244.8h0.8M130.8 241.8h0.8M91.8 265.6h0.8M103.8 258.1h0.8M102.7 257.1h0.8M138.4 238.5h0.8M121.3 247.7h0.8M100.3 259.3h0.8M109.1 255.6h0.8M134.3 239.6h0.8M133.9 240.5h0.8M101.0 258.2h0.8M127.5 242.9h0.8M80.1 269.5h0.8M91.7 263.2h0.8M95.6 260.7h0.8M94.0 260.5h0.8M95.2 262.0h0.8M117.0 248.2h0.8M94.0 260.2h0.8M127.4 241.8h0.8M85.4 265.9h0.8M125.7 245.6h0.8M104.5 254.8h0.8M114.6 251.9h0.8M111.7 251.5h0.8M94.7 261.1h0.8M91.5 264.2h0.8M78.5 270.4h0.8M114.5 252.3h0.8M129.0 241.3h0.8M121.7 246.5h0.8M87.3 265.2h0.8M110.6 251.5h0.8M117.4 250.7h0.8M96.7 261.2h0.8M98.3 259.5h0.8M87.7 265.0h0.8M80.0 268.7h0.8M113.4 250.2h0.8M130.8 240.2h0.8M88.4 264.7h0.8M100.8 259.6h0.8M88.8 262.8h0.8M89.7 262.8h0.8M94.0 260.5h0.8M104.2 256.1h0.8M111.4 252.4h0.8M125.9 244.0h0.8M100.1 258.2h0.8M129.6 241.3h0.8M131.2 241.7h0.8M135.9 237.8h0.8M107.3 253.1h0.8M115.1 251.1h0.8M113.2 251.4h0.8M136.1 235.0h0.8M120.1 245.1h0.8M133.3 240.5h0.8M98.7 258.4h0.8M116.0 249.4h0.8M96.9 259.6h0.8M134.5 239.3h0.8M121.1 248.1h0.8M134.0 238.1h0.8M109.8 252.4h0.8M90.6 265.3h0.8M107.0 255.3h0.8M85.1 265.5h0.8M116.5 247.4h0.8M94.8 260.3h0.8M113.8 249.1h0.8M101.8 258.5h0.8M111.8 252.2h0.8M79.2 271.9h0.8M96.1 259.7h0.8M101.2 258.5h0.8M126.4 243.7h0.8M130.5 240.7h0.8M104.4 255.8h0.8M89.3 268.2h0.8M125.1 245.2h0.8M103.4 254.8h0.8M130.6 239.8h0.8M124.4 242.3h0.8M111.4 250.4h0.8M134.7 241.1h0.8M79.9 269.0h0.8M113.7 251.2h0.8M108.4 251.7h0.8M117.0 249.1h0.8M109.9 251.8h0.8M105.2 254.6h0.8M103.0 255.0h0.8M111.6 251.7h0.8M102.3 259.1h0.8M118.9 250.4h0.8M103.8 255.3h0.8M135.4 239.3h0.8M133.2 239.5h0.8M113.0 249.5h0.8M122.1 242.3h0.8M111.4 250.7h0.8M105.3 256.3h0.8M105.8 255.7h0.8M114.6 251.4h0.8M105.5 254.0h0.8M132.7 240.0h0.8M106.2 250.5h0.8M101.5 256.1h0.8M91.7 265.8h0.8M128.2 241.8h0.8M131.2 237.8h0.8M137.5 236.5h0.8M91.8 264.7h0.8M112.9 252.0h0.8M118.2 246.8h0.8M136.5 236.9h0.8M107.7 253.3h0.8M123.2 245.7h0.8M128.0 240.4h0.8M93.3 261.8h0.8M98.2 258.0h0.8M135.8 236.5h0.8M90.9 266.4h0.8M89.3 265.8h0.8M114.2 249.3h0.8M128.0 242.4h0.8M125.2 245.1h0.8M104.7 257.0h0.8M89.5 264.7h0.8M102.9 256.7h0.8M85.9 266.7h0.8M133.6 238.7h0.8M100.8 260.6h0.8M129.1 243.4h0.8M127.7 243.6h0.8M132.2 238.2h0.8M96.2 261.3h0.8M95.5 263.1h0.8M111.7 251.1h0.8M92.8 263.2h0.8M135.3 239.3h0.8M88.1 264.7h0.8M107.6 254.8h0.8M128.2 242.6h0.8M94.3 262.8h0.8M82.4 267.7h0.8M92.0 262.8h0.8M99.6 258.5h0.8M110.4 251.4h0.8M91.2 264.7h0.8M106.4 255.2h0.8M133.9 238.3h0.8M111.0 254.3h0.8M100.1 258.5h0.8M105.1 257.4h0.8M96.2 260.7h0.8M112.1 250.8h0.8M124.8 244.5h0.8M115.4 250.5h0.8M88.2 268.3h0.8M102.1 256.8h0.8M114.7 250.6h0.8M101.9 258.5h0.8M98.0 262.0h0.8M97.9 260.1h0.8M128.1 241.7h0.8M90.4 264.6h0.8M121.0 245.1h0.8M106.6 252.7h0.8M98.7 258.9h0.8M119.3 248.1h0.8M132.7 237.5h0.8M84.1 268.6h0.8M94.5 262.8h0.8M82.7 270.0h0.8M94.5 261.1h0.8M123.4 246.2h0.8M121.8 245.9h0.8M129.3 240.6h0.8M84.7 267.0h0.8" stroke="#3a48d8" stroke-width="0.8" fill="none" opacity="0.7"/>
<path d="M126.1 243.1h0.7M143.2 235.1h0.7M143.5 233.7h0.7M133.6 234.7h0.7M134.2 241.0h0.7M136.4 236.1h0.7M142.3 230.8h0.7M137.1 237.4h0.7M131.0 236.7h0.7M127.8 240.8h0.7M140.9 232.1h0.7M139.1 234.9h0.7M137.0 235.9h0.7M132.0 238.5h0.7M133.4 240.4h0.7M139.8 234.7h0.7M133.0 237.0h0.7M131.8 241.0h0.7M126.9 240.5h0.7M140.5 230.8h0.7M127.7 238.9h0.7M135.4 233.7h0.7M127.2 242.8h0.7M130.7 240.6h0.7M128.8 238.7h0.7M126.7 242.9h0.7M133.3 238.4h0.7M127.7 242.7h0.7M126.0 237.7h0.7M138.7 236.2h0.7M135.2 238.7h0.7M127.1 241.8h0.7M140.8 233.3h0.7M130.6 240.3h0.7M126.0 239.8h0.7M132.4 240.8h0.7M144.4 230.8h0.7M143.5 229.9h0.7M133.3 241.0h0.7M130.8 239.9h0.7M133.7 236.9h0.7M124.0 241.6h0.7M142.1 228.4h0.7M144.0 229.8h0.7M127.9 242.7h0.7M126.4 241.0h0.7M135.4 236.7h0.7M125.0 242.8h0.7M143.8 232.9h0.7M144.2 229.5h0.7M130.3 237.5h0.7M133.4 238.5h0.7M141.1 230.8h0.7M128.2 242.3h0.7M136.8 235.9h0.7M126.1 243.3h0.7M144.9 232.5h0.7M137.8 236.3h0.7" stroke="#9aa0e0" stroke-width="0.7" fill="none" opacity="0.7"/>
<g filter="url(#b05)"><ellipse cx="97" cy="261" rx="6.5" ry="2.2" fill="#2f45e0" transform="rotate(-28 97 261)"/><ellipse cx="97" cy="261" rx="4.2" ry="1.3" fill="#39d0d8" transform="rotate(-28 97 261)"/><ellipse cx="97" cy="261" rx="2.4" ry="0.8" fill="#cfe83a" transform="rotate(-28 97 261)"/></g>
<path d="M73.9 303.4h0.8M66.7 302.8h0.8M63.8 307.1h0.8M71.9 304.2h0.8M66.9 302.2h0.8M74.7 305.3h0.8M64.9 305.7h0.8M64.2 305.1h0.8M64.8 303.3h0.8M71.1 304.7h0.8M73.4 302.6h0.8M75.8 306.3h0.8M69.0 304.8h0.8M65.6 303.7h0.8M63.3 304.2h0.8M69.9 306.3h0.8M73.1 305.4h0.8M67.4 303.6h0.8M67.5 304.4h0.8M60.7 305.3h0.8M62.2 303.1h0.8M69.1 303.1h0.8M76.2 303.8h0.8M75.8 306.0h0.8M66.9 304.7h0.8M74.6 303.4h0.8M69.4 303.0h0.8M69.3 303.4h0.8M69.4 305.7h0.8M75.0 304.2h0.8M69.9 305.5h0.8M67.7 302.2h0.8M73.8 302.4h0.8M73.0 302.3h0.8M76.9 302.2h0.8M72.7 306.6h0.8M64.8 306.6h0.8M65.4 301.0h0.8M72.1 305.2h0.8M68.1 299.6h0.8M68.8 303.5h0.8M67.4 303.5h0.8M61.3 303.0h0.8M76.8 306.7h0.8M67.4 302.8h0.8M70.7 305.8h0.8M72.1 302.0h0.8M69.7 304.2h0.8M75.2 306.1h0.8M71.3 306.1h0.8M67.3 306.7h0.8M67.2 304.7h0.8M73.0 302.4h0.8M66.0 301.0h0.8M69.7 303.9h0.8M67.6 304.9h0.8M59.9 304.0h0.8M69.4 303.5h0.8M72.4 307.0h0.8M67.1 302.4h0.8M66.4 304.2h0.8M71.5 302.5h0.8M73.3 302.2h0.8M72.6 304.7h0.8M71.0 307.7h0.8M67.9 303.7h0.8M71.1 305.5h0.8M63.2 304.5h0.8M65.8 305.1h0.8M74.9 304.1h0.8M68.5 304.3h0.8M56.2 305.3h0.8M71.4 304.3h0.8M67.3 302.7h0.8M68.2 306.1h0.8M68.6 306.3h0.8M57.9 303.2h0.8M70.2 304.0h0.8M61.8 302.9h0.8M74.4 301.8h0.8M64.7 302.1h0.8M66.6 305.1h0.8M71.6 300.5h0.8M75.3 303.0h0.8M66.5 306.9h0.8M68.6 301.9h0.8M66.2 302.7h0.8M64.6 303.4h0.8M72.8 304.6h0.8M63.0 308.8h0.8M64.7 304.2h0.8M69.1 305.3h0.8M67.6 304.8h0.8M78.1 304.2h0.8M64.3 304.6h0.8M65.5 303.4h0.8M69.8 304.6h0.8M67.8 305.5h0.8M68.2 301.7h0.8M72.8 303.4h0.8M74.2 302.9h0.8M71.5 304.5h0.8M57.3 301.4h0.8M64.2 306.4h0.8M60.8 305.6h0.8M73.7 304.9h0.8M71.9 303.1h0.8M69.0 304.4h0.8M70.8 305.2h0.8M68.1 302.8h0.8" stroke="#3542d6" stroke-width="0.8" fill="none" opacity="0.8"/>
<rect x="88.00" y="254.70" width="17.80" height="11.10" fill="none" stroke="#b3202a" stroke-width="1.2" />
<rect x="54.20" y="272.20" width="30.10" height="24.60" fill="none" stroke="#9ddc5c" stroke-width="0.9" />
<rect x="54.60" y="298.50" width="29.70" height="11.40" fill="none" stroke="#a9a9a9" stroke-width="0.8" />
<text x="76.90" y="233.00" font-size="10.4" fill="#a82222" stroke="#a82222" stroke-width="0.22" textLength="35.10" lengthAdjust="spacingAndGlyphs" >200 nm</text>
<text x="81.00" y="246.20" font-size="10.4" fill="#a82222" stroke="#a82222" stroke-width="0.22" textLength="27.80" lengthAdjust="spacingAndGlyphs" >beads</text>
<text x="90.30" y="282.00" font-size="10.4" fill="#8fd24e" stroke="#8fd24e" stroke-width="0.22" textLength="34.70" lengthAdjust="spacingAndGlyphs" >100 nm</text>
<text x="94.20" y="295.80" font-size="10.4" fill="#8fd24e" stroke="#8fd24e" stroke-width="0.22" textLength="27.00" lengthAdjust="spacingAndGlyphs" >beads</text>
<text x="0" y="0" font-size="10.2" fill="#111" textLength="19.5" lengthAdjust="spacingAndGlyphs" transform="translate(34.2 277) rotate(-90)">FITC</text>
<text x="87.50" y="332.80" font-size="10.6" fill="#111" stroke="#111" stroke-width="0.22" textLength="16.30" lengthAdjust="spacingAndGlyphs" >FSC</text>
<rect x="44.30" y="344.60" width="103.20" height="95.90" fill="none" stroke="#7d7d7d" stroke-width="0.8" />
<line x1="44.30" y1="344.60" x2="44.30" y2="440.50" stroke="#444" stroke-width="1.0" />
<line x1="44.30" y1="440.50" x2="147.50" y2="440.50" stroke="#444" stroke-width="1.0" />
<line x1="41.60" y1="347.50" x2="44.30" y2="347.50" stroke="#777" stroke-width="0.45" />
<line x1="42.90" y1="350.05" x2="44.30" y2="350.05" stroke="#777" stroke-width="0.45" />
<line x1="42.90" y1="352.60" x2="44.30" y2="352.60" stroke="#777" stroke-width="0.45" />
<line x1="42.90" y1="355.15" x2="44.30" y2="355.15" stroke="#777" stroke-width="0.45" />
<line x1="42.90" y1="357.70" x2="44.30" y2="357.70" stroke="#777" stroke-width="0.45" />
<line x1="42.90" y1="360.25" x2="44.30" y2="360.25" stroke="#777" stroke-width="0.45" />
<line x1="42.90" y1="362.80" x2="44.30" y2="362.80" stroke="#777" stroke-width="0.45" />
<line x1="42.90" y1="365.35" x2="44.30" y2="365.35" stroke="#777" stroke-width="0.45" />
<line x1="42.90" y1="367.90" x2="44.30" y2="367.90" stroke="#777" stroke-width="0.45" />
<line x1="41.60" y1="370.45" x2="44.30" y2="370.45" stroke="#777" stroke-width="0.45" />
<line x1="42.90" y1="373.00" x2="44.30" y2="373.00" stroke="#777" stroke-width="0.45" />
<line x1="42.90" y1="375.55" x2="44.30" y2="375.55" stroke="#777" stroke-width="0.45" />
<line x1="42.90" y1="378.10" x2="44.30" y2="378.10" stroke="#777" stroke-width="0.45" />
<line x1="42.90" y1="380.65" x2="44.30" y2="380.65" stroke="#777" stroke-width="0.45" />
<line x1="42.90" y1="383.20" x2="44.30" y2="383.20" stroke="#777" stroke-width="0.45" />
<line x1="42.90" y1="385.75" x2="44.30" y2="385.75" stroke="#777" stroke-width="0.45" />
<line x1="42.90" y1="388.30" x2="44.30" y2="388.30" stroke="#777" stroke-width="0.45" />
<line x1="42.90" y1="390.85" x2="44.30" y2="390.85" stroke="#777" stroke-width="0.45" />
<line x1="41.60" y1="393.40" x2="44.30" y2="393.40" stroke="#777" stroke-width="0.45" />
<line x1="42.90" y1="395.95" x2="44.30" y2="395.95" stroke="#777" stroke-width="0.45" />
<line x1="42.90" y1="398.50" x2="44.30" y2="398.50" stroke="#777" stroke-width="0.45" />
<line x1="42.90" y1="401.05" x2="44.30" y2="401.05" stroke="#777" stroke-width="0.45" />
<line x1="42.90" y1="403.60" x2="44.30" y2="403.60" stroke="#777" stroke-width="0.45" />
<line x1="42.90" y1="406.15" x2="44.30" y2="406.15" stroke="#777" stroke-width="0.45" />
<line x1="42.90" y1="408.70" x2="44.30" y2="408.70" stroke="#777" stroke-width="0.45" />
<line x1="42.90" y1="411.25" x2="44.30" y2="411.25" stroke="#777" stroke-width="0.45" />
<line x1="42.90" y1="413.80" x2="44.30" y2="413.80" stroke="#777" stroke-width="0.45" />
<line x1="41.60" y1="416.35" x2="44.30" y2="416.35" stroke="#777" stroke-width="0.45" />
<line x1="42.90" y1="418.90" x2="44.30" y2="418.90" stroke="#777" stroke-width="0.45" />
<line x1="42.90" y1="421.45" x2="44.30" y2="421.45" stroke="#777" stroke-width="0.45" />
<line x1="42.90" y1="424.00" x2="44.30" y2="424.00" stroke="#777" stroke-width="0.45" />
<line x1="42.90" y1="426.55" x2="44.30" y2="426.55" stroke="#777" stroke-width="0.45" />
<line x1="42.90" y1="429.10" x2="44.30" y2="429.10" stroke="#777" stroke-width="0.45" />
<line x1="42.90" y1="431.65" x2="44.30" y2="431.65" stroke="#777" stroke-width="0.45" />
<line x1="42.90" y1="434.20" x2="44.30" y2="434.20" stroke="#777" stroke-width="0.45" />
<line x1="42.90" y1="436.75" x2="44.30" y2="436.75" stroke="#777" stroke-width="0.45" />
<line x1="41.60" y1="439.30" x2="44.30" y2="439.30" stroke="#777" stroke-width="0.45" />
<line x1="49.00" y1="440.50" x2="49.00" y2="443.20" stroke="#777" stroke-width="0.45" />
<line x1="51.72" y1="440.50" x2="51.72" y2="441.80" stroke="#777" stroke-width="0.45" />
<line x1="54.44" y1="440.50" x2="54.44" y2="441.80" stroke="#777" stroke-width="0.45" />
<line x1="57.16" y1="440.50" x2="57.16" y2="441.80" stroke="#777" stroke-width="0.45" />
<line x1="59.88" y1="440.50" x2="59.88" y2="441.80" stroke="#777" stroke-width="0.45" />
<line x1="62.60" y1="440.50" x2="62.60" y2="441.80" stroke="#777" stroke-width="0.45" />
<line x1="65.32" y1="440.50" x2="65.32" y2="441.80" stroke="#777" stroke-width="0.45" />
<line x1="68.04" y1="440.50" x2="68.04" y2="441.80" stroke="#777" stroke-width="0.45" />
<line x1="70.76" y1="440.50" x2="70.76" y2="441.80" stroke="#777" stroke-width="0.45" />
<line x1="73.48" y1="440.50" x2="73.48" y2="443.20" stroke="#777" stroke-width="0.45" />
<line x1="76.20" y1="440.50" x2="76.20" y2="441.80" stroke="#777" stroke-width="0.45" />
<line x1="78.92" y1="440.50" x2="78.92" y2="441.80" stroke="#777" stroke-width="0.45" />
<line x1="81.64" y1="440.50" x2="81.64" y2="441.80" stroke="#777" stroke-width="0.45" />
<line x1="84.36" y1="440.50" x2="84.36" y2="441.80" stroke="#777" stroke-width="0.45" />
<line x1="87.08" y1="440.50" x2="87.08" y2="441.80" stroke="#777" stroke-width="0.45" />
<line x1="89.80" y1="440.50" x2="89.80" y2="441.80" stroke="#777" stroke-width="0.45" />
<line x1="92.52" y1="440.50" x2="92.52" y2="441.80" stroke="#777" stroke-width="0.45" />
<line x1="95.24" y1="440.50" x2="95.24" y2="441.80" stroke="#777" stroke-width="0.45" />
<line x1="97.96" y1="440.50" x2="97.96" y2="443.20" stroke="#777" stroke-width="0.45" />
<line x1="100.68" y1="440.50" x2="100.68" y2="441.80" stroke="#777" stroke-width="0.45" />
<line x1="103.40" y1="440.50" x2="103.40" y2="441.80" stroke="#777" stroke-width="0.45" />
<line x1="106.12" y1="440.50" x2="106.12" y2="441.80" stroke="#777" stroke-width="0.45" />
<line x1="108.84" y1="440.50" x2="108.84" y2="441.80" stroke="#777" stroke-width="0.45" />
<line x1="111.56" y1="440.50" x2="111.56" y2="441.80" stroke="#777" stroke-width="0.45" />
<line x1="114.28" y1="440.50" x2="114.28" y2="441.80" stroke="#777" stroke-width="0.45" />
<line x1="117.00" y1="440.50" x2="117.00" y2="441.80" stroke="#777" stroke-width="0.45" />
<line x1="119.72" y1="440.50" x2="119.72" y2="441.80" stroke="#777" stroke-width="0.45" />
<line x1="122.44" y1="440.50" x2="122.44" y2="443.20" stroke="#777" stroke-width="0.45" />
<line x1="125.16" y1="440.50" x2="125.16" y2="441.80" stroke="#777" stroke-width="0.45" />
<line x1="127.88" y1="440.50" x2="127.88" y2="441.80" stroke="#777" stroke-width="0.45" />
<line x1="130.60" y1="440.50" x2="130.60" y2="441.80" stroke="#777" stroke-width="0.45" />
<line x1="133.32" y1="440.50" x2="133.32" y2="441.80" stroke="#777" stroke-width="0.45" />
<line x1="136.04" y1="440.50" x2="136.04" y2="441.80" stroke="#777" stroke-width="0.45" />
<line x1="138.76" y1="440.50" x2="138.76" y2="441.80" stroke="#777" stroke-width="0.45" />
<line x1="141.48" y1="440.50" x2="141.48" y2="441.80" stroke="#777" stroke-width="0.45" />
<line x1="144.20" y1="440.50" x2="144.20" y2="441.80" stroke="#777" stroke-width="0.45" />
<line x1="146.92" y1="440.50" x2="146.92" y2="443.20" stroke="#777" stroke-width="0.45" />
<text x="47.0" y="449.5" font-size="3.7" fill="#4a4a4a">10</text><text x="51.2" y="447.2" font-size="3" fill="#4a4a4a">0</text>
<text x="70.0" y="449.5" font-size="3.7" fill="#4a4a4a">10</text><text x="74.2" y="447.2" font-size="3" fill="#4a4a4a">1</text>
<text x="94.5" y="449.5" font-size="3.7" fill="#4a4a4a">10</text><text x="98.7" y="447.2" font-size="3" fill="#4a4a4a">2</text>
<text x="119.5" y="449.5" font-size="3.7" fill="#4a4a4a">10</text><text x="123.7" y="447.2" font-size="3" fill="#4a4a4a">3</text>
<text x="145.0" y="449.5" font-size="3.7" fill="#4a4a4a">10</text><text x="149.2" y="447.2" font-size="3" fill="#4a4a4a">4</text>
<text x="34.0" y="348.5" font-size="3.7" fill="#4a4a4a">10</text><text x="38.2" y="346.2" font-size="3" fill="#4a4a4a">4</text>
<text x="34.0" y="368.5" font-size="3.7" fill="#4a4a4a">10</text><text x="38.2" y="366.2" font-size="3" fill="#4a4a4a">3</text>
<text x="34.0" y="392.0" font-size="3.7" fill="#4a4a4a">10</text><text x="38.2" y="389.7" font-size="3" fill="#4a4a4a">2</text>
<text x="34.0" y="417.0" font-size="3.7" fill="#4a4a4a">10</text><text x="38.2" y="414.7" font-size="3" fill="#4a4a4a">1</text>
<text x="34.0" y="440.0" font-size="3.7" fill="#4a4a4a">10</text><text x="38.2" y="437.7" font-size="3" fill="#4a4a4a">0</text>
<rect x="46.30" y="356.50" width="92.50" height="54.80" fill="none" stroke="#8c8c8c" stroke-width="0.7" />
<path d="M55.2 405.2h0.9M80.4 405.9h0.9M64.3 404.4h0.9M102.6 405.5h0.9M62.1 408.4h0.9M81.9 403.8h0.9M53.6 405.4h0.9M59.6 404.9h0.9M81.9 393.3h0.9M50.6 399.7h0.9M53.2 404.2h0.9M55.3 399.4h0.9M65.8 401.6h0.9M55.6 404.7h0.9M47.3 403.4h0.9M58.1 401.4h0.9M62.0 402.7h0.9M46.7 408.1h0.9M90.6 384.9h0.9M47.5 402.0h0.9M62.7 402.3h0.9M48.2 402.6h0.9M49.4 407.7h0.9M48.1 408.5h0.9M75.1 396.3h0.9M61.6 404.9h0.9M60.3 400.6h0.9M53.3 400.8h0.9M69.5 401.5h0.9M71.0 407.7h0.9M71.9 398.9h0.9M110.9 405.4h0.9M56.8 403.0h0.9M94.6 404.3h0.9M48.9 407.9h0.9M64.6 402.7h0.9M71.8 393.6h0.9M50.9 411.1h0.9M70.5 402.4h0.9M48.9 405.2h0.9M47.6 401.7h0.9M49.9 404.6h0.9M94.3 396.1h0.9M49.8 405.9h0.9M69.3 403.8h0.9M47.0 404.4h0.9M72.1 401.9h0.9M58.2 412.7h0.9M63.7 399.1h0.9M57.0 408.4h0.9M53.2 405.4h0.9M69.0 400.8h0.9M47.7 403.4h0.9M80.4 396.5h0.9M47.6 402.5h0.9M89.3 396.8h0.9M95.8 395.2h0.9M51.4 403.0h0.9M51.7 402.5h0.9M50.4 405.4h0.9M70.7 399.5h0.9M134.4 387.1h0.9M50.7 403.1h0.9M80.3 399.0h0.9M81.1 399.2h0.9M75.9 407.8h0.9M52.1 402.7h0.9M84.2 404.2h0.9M49.5 403.2h0.9M56.8 399.8h0.9M61.2 404.7h0.9M83.1 397.6h0.9M54.1 405.2h0.9M49.9 399.2h0.9M80.4 403.9h0.9M46.9 405.1h0.9M48.5 405.3h0.9M87.7 398.9h0.9M49.3 404.7h0.9M49.6 403.5h0.9M66.0 405.1h0.9M89.1 401.2h0.9M67.9 409.8h0.9M47.1 400.2h0.9M51.0 405.7h0.9M47.2 401.2h0.9M58.4 403.8h0.9M48.4 407.8h0.9M46.8 407.4h0.9M82.3 399.6h0.9M48.7 403.4h0.9M56.0 403.9h0.9M49.9 404.1h0.9M69.3 399.8h0.9M58.3 405.7h0.9M58.2 405.4h0.9M89.2 396.8h0.9M104.8 399.7h0.9M83.0 399.3h0.9M49.8 402.5h0.9M51.7 405.2h0.9M58.6 403.8h0.9M55.4 401.1h0.9M46.7 404.3h0.9M66.3 399.6h0.9M60.0 399.7h0.9M66.4 409.7h0.9M68.0 401.1h0.9M55.2 402.6h0.9M107.9 401.7h0.9M54.8 401.6h0.9M49.1 406.7h0.9M90.8 398.8h0.9M51.5 402.3h0.9M51.2 402.7h0.9M50.3 408.7h0.9M72.5 406.5h0.9M87.2 406.2h0.9M53.2 405.6h0.9M64.2 399.6h0.9M107.1 394.6h0.9M46.5 405.1h0.9M58.6 397.0h0.9M61.8 405.4h0.9M63.4 402.6h0.9M69.6 397.3h0.9M55.0 407.3h0.9M59.2 399.5h0.9M53.1 401.3h0.9M63.4 400.3h0.9M62.6 402.1h0.9M51.7 407.2h0.9M68.2 399.6h0.9M59.0 401.0h0.9M49.1 405.1h0.9M91.1 392.5h0.9M59.2 402.6h0.9M75.0 401.1h0.9M75.8 403.4h0.9M57.0 399.8h0.9M84.7 392.7h0.9M80.9 404.3h0.9M76.8 401.8h0.9M75.4 402.6h0.9M51.4 405.6h0.9M48.3 401.9h0.9M59.0 408.0h0.9M56.8 406.4h0.9M66.7 398.2h0.9M73.7 402.6h0.9M70.7 405.1h0.9M54.3 407.7h0.9M59.0 403.6h0.9M53.6 407.0h0.9M54.7 406.0h0.9M60.9 403.3h0.9M47.5 406.9h0.9M52.0 408.5h0.9M53.2 404.5h0.9M48.1 410.0h0.9M63.7 404.1h0.9M55.9 402.2h0.9M73.2 398.3h0.9M47.3 403.4h0.9M56.4 400.4h0.9M52.4 407.7h0.9M55.4 400.5h0.9M53.9 399.7h0.9M54.8 397.8h0.9M50.1 401.6h0.9M106.9 394.8h0.9M65.1 399.0h0.9M53.3 408.7h0.9M54.6 406.2h0.9M59.2 396.2h0.9M70.6 401.8h0.9M46.9 402.7h0.9M57.0 401.7h0.9M77.6 396.3h0.9M84.1 402.3h0.9M56.4 400.0h0.9M76.1 401.0h0.9M65.4 402.1h0.9M47.2 402.4h0.9M65.9 396.4h0.9M71.5 399.2h0.9M48.6 405.1h0.9M75.4 402.5h0.9M48.3 408.8h0.9M60.6 406.1h0.9M47.5 403.3h0.9M57.7 398.9h0.9M47.5 404.1h0.9M61.4 399.6h0.9M49.2 399.7h0.9M53.4 403.8h0.9M122.7 393.7h0.9M52.0 404.2h0.9M51.5 406.9h0.9M79.8 395.2h0.9M55.8 402.5h0.9M47.4 403.3h0.9M74.0 408.9h0.9M79.5 400.1h0.9M47.4 406.8h0.9M59.6 400.6h0.9M57.9 406.1h0.9M61.4 398.9h0.9M50.3 408.4h0.9M89.3 397.3h0.9M52.9 403.9h0.9M59.4 399.7h0.9M53.1 406.3h0.9M51.9 405.1h0.9M67.6 399.0h0.9M74.1 397.3h0.9M92.9 395.1h0.9M56.5 404.5h0.9M56.2 403.0h0.9M63.8 409.3h0.9M47.8 406.6h0.9M61.9 406.2h0.9M60.5 410.0h0.9M73.9 394.9h0.9M65.6 402.4h0.9M52.4 405.7h0.9M49.2 409.9h0.9M89.0 399.4h0.9M48.2 406.1h0.9M72.6 405.3h0.9M64.8 401.3h0.9M51.6 408.1h0.9M49.4 402.4h0.9M47.5 404.8h0.9M77.2 399.4h0.9M52.4 404.7h0.9M53.0 408.1h0.9M60.5 407.3h0.9M53.2 409.6h0.9M77.8 405.0h0.9M113.1 404.4h0.9M54.9 406.9h0.9M63.9 403.3h0.9M50.8 403.3h0.9M57.1 403.2h0.9M68.6 396.7h0.9M48.6 406.6h0.9M76.5 407.6h0.9M94.2 393.8h0.9M53.8 403.7h0.9M70.1 392.7h0.9M48.2 405.1h0.9M57.8 406.4h0.9M59.7 399.8h0.9M48.1 406.3h0.9M84.5 402.4h0.9M78.2 401.9h0.9M47.1 411.0h0.9M62.0 406.0h0.9M95.6 396.8h0.9M64.7 405.6h0.9M56.7 404.6h0.9M51.3 404.4h0.9M72.8 398.7h0.9M52.5 407.7h0.9M48.2 406.4h0.9M60.1 404.2h0.9M57.0 399.5h0.9M47.1 403.9h0.9M64.2 402.4h0.9M48.9 402.6h0.9M54.5 402.7h0.9M65.0 403.6h0.9M94.8 400.7h0.9M53.3 407.5h0.9M57.6 398.1h0.9M49.2 409.5h0.9M48.6 408.0h0.9M58.2 401.9h0.9M57.2 403.2h0.9M49.5 401.5h0.9M54.3 403.2h0.9M50.2 403.1h0.9M48.8 405.9h0.9M51.2 406.8h0.9M84.1 395.6h0.9M46.8 408.0h0.9M73.1 399.6h0.9M60.9 402.1h0.9M70.1 399.1h0.9M49.3 404.7h0.9M55.0 404.7h0.9M58.9 401.5h0.9M48.0 410.4h0.9M61.2 403.5h0.9M72.6 406.7h0.9M67.6 404.6h0.9M62.0 403.9h0.9M115.7 403.4h0.9M66.5 403.5h0.9M75.2 396.7h0.9M57.0 408.5h0.9M89.6 410.5h0.9M55.5 404.3h0.9M55.4 405.8h0.9M69.0 403.3h0.9M65.8 404.3h0.9M49.1 406.9h0.9M50.3 405.1h0.9M109.9 401.1h0.9M58.2 399.9h0.9M72.2 407.0h0.9M63.7 399.4h0.9M50.3 400.8h0.9M72.8 395.7h0.9M48.1 404.4h0.9M49.5 402.2h0.9M103.9 392.2h0.9M49.0 400.8h0.9M76.5 409.2h0.9M69.7 398.5h0.9M76.9 402.5h0.9M56.2 399.8h0.9M76.1 402.6h0.9M52.5 398.5h0.9M101.6 383.6h0.9M48.6 403.6h0.9M105.3 397.4h0.9M77.5 397.4h0.9M51.0 405.5h0.9M51.1 407.5h0.9M58.0 407.6h0.9M67.6 398.9h0.9M55.0 405.1h0.9M66.0 395.9h0.9M94.8 400.4h0.9M48.0 402.5h0.9M64.5 404.2h0.9M61.9 400.2h0.9M77.3 400.7h0.9M57.9 403.2h0.9M46.8 408.8h0.9M55.7 407.5h0.9M62.3 399.8h0.9M50.6 405.3h0.9M53.9 406.4h0.9M52.4 401.0h0.9M48.1 404.4h0.9M56.4 408.6h0.9M64.9 403.1h0.9M66.0 400.5h0.9M47.2 405.8h0.9M51.9 402.7h0.9M100.3 394.6h0.9M84.0 402.1h0.9M62.5 405.5h0.9M58.3 401.4h0.9M99.5 380.8h0.9M50.1 404.3h0.9M76.7 403.4h0.9M46.5 407.9h0.9M49.8 407.6h0.9M74.7 399.4h0.9M51.4 403.7h0.9M60.2 404.4h0.9M80.2 395.8h0.9M91.4 398.0h0.9M84.6 398.5h0.9M63.1 401.5h0.9M56.5 406.6h0.9M64.9 401.5h0.9M63.5 399.6h0.9M65.7 405.4h0.9M86.9 394.6h0.9M110.0 395.7h0.9M47.5 407.1h0.9M60.4 398.7h0.9M56.6 403.7h0.9M68.7 393.8h0.9M70.1 405.0h0.9M49.0 405.4h0.9M98.5 399.8h0.9M61.6 401.7h0.9M61.1 406.3h0.9M69.9 402.8h0.9M63.9 401.4h0.9M52.4 409.2h0.9M59.9 395.1h0.9M64.3 407.3h0.9M74.3 399.2h0.9M102.6 391.8h0.9M67.5 400.9h0.9M49.5 402.7h0.9M61.1 405.8h0.9M53.8 399.4h0.9M49.1 399.2h0.9M49.5 404.2h0.9M69.3 403.4h0.9M47.4 407.1h0.9M52.5 398.6h0.9M102.1 406.8h0.9M50.0 402.2h0.9M50.2 410.9h0.9M53.1 402.9h0.9M51.6 405.0h0.9M55.0 398.0h0.9M51.8 409.3h0.9M50.4 407.2h0.9M77.3 398.0h0.9M63.7 403.2h0.9M49.3 402.4h0.9M70.6 396.7h0.9M65.4 403.2h0.9M70.2 401.0h0.9M88.9 403.5h0.9M59.3 402.2h0.9M51.6 408.4h0.9M71.6 408.6h0.9M60.7 404.7h0.9M53.9 406.3h0.9M51.2 403.7h0.9M47.7 400.8h0.9M65.8 400.5h0.9M55.5 404.4h0.9M52.7 402.9h0.9M64.1 407.5h0.9M66.5 401.1h0.9M71.8 393.9h0.9M69.6 407.4h0.9M53.6 399.9h0.9M53.8 407.5h0.9M50.0 407.1h0.9M59.0 400.4h0.9M65.3 404.0h0.9M53.5 403.2h0.9M47.7 402.3h0.9M79.0 403.0h0.9M65.2 399.1h0.9M61.0 401.4h0.9M51.9 407.3h0.9M77.5 394.3h0.9M49.3 402.6h0.9M58.3 398.6h0.9M85.4 405.7h0.9M75.7 396.7h0.9M64.3 403.9h0.9M67.2 400.7h0.9M67.2 399.8h0.9M47.7 403.6h0.9M62.2 404.1h0.9M50.6 402.6h0.9M50.8 408.1h0.9M109.1 400.9h0.9M74.0 397.0h0.9M47.8 408.2h0.9M77.5 400.4h0.9M63.4 402.9h0.9M49.0 404.7h0.9M56.5 404.8h0.9M60.3 403.5h0.9M76.4 399.6h0.9M48.5 405.5h0.9M53.6 408.3h0.9M53.3 402.3h0.9M73.3 400.0h0.9M50.5 407.3h0.9M59.6 398.1h0.9M47.0 405.2h0.9M58.4 402.6h0.9M55.9 407.8h0.9M68.4 404.0h0.9M61.4 399.6h0.9M61.6 405.3h0.9M50.9 410.9h0.9M74.2 391.0h0.9M101.8 389.0h0.9M47.8 411.9h0.9M57.5 405.9h0.9M66.0 405.3h0.9M67.5 398.8h0.9M50.1 405.4h0.9M55.3 403.5h0.9M69.1 404.3h0.9M58.8 401.3h0.9M67.2 403.0h0.9M50.2 404.3h0.9M67.0 406.9h0.9M107.9 395.8h0.9M89.4 386.7h0.9M68.3 401.7h0.9M50.4 403.6h0.9M46.7 407.9h0.9M63.4 398.4h0.9M51.7 403.4h0.9M63.5 404.3h0.9M127.5 392.3h0.9M49.8 405.5h0.9M54.0 408.5h0.9M56.8 400.3h0.9M48.3 406.1h0.9M72.0 402.8h0.9M57.3 410.6h0.9M73.4 400.6h0.9M57.5 404.3h0.9M48.5 403.6h0.9M60.6 400.8h0.9M51.4 404.4h0.9M46.9 408.6h0.9M95.9 393.3h0.9M113.5 385.7h0.9M54.7 405.9h0.9M74.9 402.2h0.9M46.7 404.0h0.9M50.6 402.2h0.9M46.7 403.9h0.9M76.7 401.7h0.9M47.3 402.2h0.9M83.9 397.8h0.9M53.1 404.0h0.9M63.2 405.7h0.9M63.8 399.9h0.9M50.4 404.9h0.9M54.7 410.6h0.9M48.4 403.7h0.9M50.3 403.8h0.9M56.9 399.8h0.9M67.4 399.3h0.9M56.3 408.3h0.9M47.4 406.8h0.9M57.3 399.7h0.9M67.8 405.3h0.9M51.2 401.9h0.9M57.3 399.6h0.9M49.1 407.9h0.9M47.6 403.1h0.9M51.1 406.6h0.9M55.0 403.7h0.9M72.9 403.8h0.9M69.5 396.8h0.9M47.2 411.1h0.9M74.1 407.3h0.9M47.2 407.0h0.9M91.9 399.5h0.9M50.7 401.5h0.9M63.8 395.4h0.9M89.3 398.5h0.9M46.8 406.7h0.9M70.6 410.0h0.9M67.5 408.2h0.9M50.0 405.3h0.9M58.7 401.5h0.9M48.4 406.2h0.9M88.7 388.8h0.9M46.5 407.2h0.9M75.8 396.5h0.9M58.4 400.2h0.9M73.8 397.3h0.9M47.9 408.2h0.9M52.3 405.5h0.9M55.1 409.0h0.9M46.9 405.3h0.9M76.6 402.5h0.9M48.7 402.1h0.9M64.3 403.5h0.9M48.5 407.7h0.9M110.2 390.2h0.9M48.2 404.2h0.9M68.8 406.2h0.9M48.3 400.7h0.9M54.3 402.4h0.9M49.2 409.2h0.9M62.4 408.7h0.9M46.6 404.6h0.9M47.8 408.1h0.9M62.0 406.3h0.9M59.0 400.1h0.9M62.6 403.8h0.9M64.3 407.6h0.9M73.6 397.8h0.9M88.0 403.0h0.9M47.0 401.6h0.9M65.9 404.6h0.9M82.3 395.9h0.9M49.9 407.5h0.9M67.3 400.7h0.9M51.5 403.6h0.9M53.2 406.8h0.9M48.2 397.9h0.9M64.5 406.0h0.9M92.3 399.1h0.9M134.2 377.9h0.9M70.3 401.2h0.9M55.5 406.2h0.9M46.9 405.8h0.9M89.6 409.0h0.9M53.3 404.8h0.9M84.0 391.6h0.9M73.4 399.3h0.9M76.2 400.4h0.9M52.9 402.3h0.9M59.6 401.0h0.9M103.8 400.4h0.9M64.3 406.3h0.9M59.6 406.4h0.9M88.2 397.0h0.9M66.4 403.8h0.9M50.6 404.3h0.9M52.3 404.7h0.9M51.6 404.2h0.9M67.9 404.3h0.9M56.3 403.6h0.9M66.2 400.0h0.9M70.3 395.6h0.9M51.4 404.4h0.9M66.5 403.1h0.9M50.5 404.2h0.9M64.0 411.8h0.9M61.7 400.3h0.9M66.7 398.0h0.9M52.7 405.3h0.9M46.7 405.5h0.9M54.1 405.0h0.9M58.1 404.7h0.9M105.9 394.5h0.9M71.4 398.5h0.9M49.8 406.6h0.9M55.4 405.4h0.9M66.4 396.6h0.9M48.2 406.4h0.9M92.3 393.0h0.9M47.0 409.3h0.9M76.5 401.9h0.9M74.1 409.1h0.9M65.4 402.3h0.9M50.1 405.0h0.9M86.5 403.0h0.9M61.5 407.2h0.9M64.9 403.3h0.9M48.2 406.3h0.9M115.5 388.0h0.9M60.8 406.4h0.9M50.8 405.0h0.9M79.0 400.6h0.9M48.9 407.4h0.9M68.3 401.1h0.9M49.0 405.3h0.9M54.3 401.8h0.9M59.1 405.2h0.9M73.5 403.1h0.9M52.2 400.7h0.9M50.8 407.8h0.9M50.2 405.2h0.9M54.2 407.0h0.9M63.9 395.5h0.9M47.4 406.0h0.9M65.0 403.8h0.9M47.0 403.5h0.9M56.3 406.3h0.9M67.6 404.8h0.9M48.2 407.2h0.9M49.7 406.9h0.9M51.0 403.2h0.9M47.7 405.5h0.9M54.1 397.1h0.9M60.3 404.7h0.9M47.8 405.8h0.9M60.6 408.6h0.9M81.2 408.7h0.9M48.5 403.7h0.9M95.4 394.0h0.9M49.7 404.4h0.9M80.5 400.5h0.9M51.7 405.6h0.9M90.3 390.7h0.9M47.8 406.1h0.9M56.8 402.8h0.9M65.0 404.7h0.9M54.1 410.4h0.9M57.7 409.8h0.9M49.9 408.7h0.9M58.8 403.7h0.9M46.9 400.9h0.9M59.6 404.2h0.9M51.0 400.6h0.9M64.4 402.5h0.9M49.2 407.0h0.9M69.4 393.0h0.9M79.6 393.8h0.9M49.9 409.1h0.9M50.9 399.5h0.9M48.0 401.6h0.9M50.7 407.5h0.9M49.1 405.5h0.9M50.1 404.6h0.9M94.2 391.1h0.9M55.2 403.7h0.9M96.9 396.9h0.9M51.0 401.1h0.9M96.9 398.6h0.9M58.0 408.0h0.9M50.6 404.4h0.9M77.0 405.6h0.9M50.9 407.0h0.9M55.4 403.2h0.9M53.6 403.8h0.9M54.5 403.4h0.9M49.5 404.8h0.9M62.4 402.8h0.9M51.6 400.9h0.9M67.6 403.4h0.9M49.0 404.9h0.9M101.3 399.8h0.9M49.2 407.0h0.9M61.3 406.1h0.9M83.5 402.8h0.9M49.6 405.4h0.9M61.5 399.6h0.9M83.8 401.0h0.9M64.9 408.2h0.9M51.8 398.8h0.9M94.9 396.5h0.9M88.4 399.8h0.9M48.4 407.1h0.9M52.3 404.6h0.9M104.4 400.7h0.9M59.3 400.8h0.9M78.6 402.6h0.9M58.7 398.9h0.9M48.6 405.0h0.9M61.5 408.0h0.9M74.0 409.6h0.9M50.1 400.4h0.9M47.8 407.8h0.9M49.9 402.5h0.9M66.5 402.1h0.9M54.3 406.3h0.9M59.1 402.7h0.9M69.5 400.4h0.9M63.1 397.5h0.9M73.8 402.2h0.9M46.7 401.3h0.9M67.5 402.9h0.9M64.2 406.4h0.9M72.7 410.5h0.9M51.0 398.0h0.9M50.4 407.6h0.9M55.4 410.3h0.9M51.0 403.1h0.9M69.1 398.2h0.9M71.3 406.0h0.9M48.8 405.2h0.9M51.8 406.4h0.9M47.1 406.9h0.9M55.8 406.2h0.9M47.9 399.4h0.9M61.1 399.0h0.9M54.0 403.2h0.9M49.8 401.8h0.9M57.7 408.3h0.9M49.5 405.2h0.9M54.3 409.1h0.9M77.2 398.9h0.9M64.0 398.9h0.9M104.1 389.8h0.9M50.2 404.9h0.9M51.5 402.0h0.9M75.8 394.2h0.9M81.9 394.6h0.9M61.6 403.1h0.9M59.5 403.8h0.9M68.5 401.7h0.9M46.6 406.2h0.9M49.7 404.6h0.9M50.9 404.3h0.9M51.7 402.4h0.9M46.8 397.6h0.9M48.6 411.5h0.9M49.2 401.9h0.9M53.4 401.6h0.9M55.7 403.4h0.9M57.6 403.5h0.9M48.0 405.9h0.9M49.5 408.0h0.9M66.8 405.0h0.9M51.7 405.6h0.9M53.6 399.5h0.9M58.0 406.3h0.9M60.5 410.3h0.9M47.4 407.4h0.9M54.8 407.8h0.9M68.0 402.9h0.9M74.0 408.4h0.9M48.2 403.4h0.9M67.4 400.8h0.9M74.2 401.8h0.9M48.2 403.1h0.9M65.0 400.6h0.9M50.1 404.0h0.9M61.3 406.7h0.9M51.2 407.0h0.9M51.6 401.3h0.9M68.4 404.1h0.9M47.0 404.8h0.9M52.3 402.3h0.9M63.9 400.8h0.9M86.0 393.1h0.9M50.4 403.1h0.9M51.6 408.4h0.9M49.4 405.5h0.9M76.3 407.9h0.9M67.9 408.5h0.9M52.8 402.9h0.9M52.9 404.1h0.9M62.5 401.6h0.9M48.1 408.0h0.9M49.3 405.8h0.9M92.1 402.4h0.9M50.2 402.5h0.9M48.7 401.6h0.9M54.2 403.9h0.9M67.9 395.6h0.9M48.4 404.1h0.9M47.7 402.7h0.9M51.4 406.6h0.9M65.3 402.9h0.9M57.5 406.3h0.9M67.7 402.5h0.9M56.6 400.7h0.9M91.1 404.9h0.9M48.4 403.4h0.9M56.8 402.0h0.9M47.1 403.5h0.9M114.0 397.9h0.9M57.2 402.7h0.9M62.9 402.3h0.9M70.1 403.1h0.9M71.5 399.9h0.9M55.0 404.4h0.9M48.2 405.8h0.9M52.3 404.1h0.9M71.3 402.7h0.9M47.7 406.0h0.9M49.5 399.6h0.9M49.6 403.7h0.9M49.7 405.0h0.9M53.5 401.0h0.9M48.7 405.2h0.9M48.6 412.1h0.9M51.6 404.1h0.9M86.4 389.1h0.9M57.4 407.8h0.9M52.3 403.3h0.9M57.1 402.5h0.9M48.9 400.5h0.9M50.2 405.9h0.9M75.0 400.4h0.9M53.5 404.2h0.9M57.3 406.0h0.9M125.8 401.4h0.9M53.1 408.9h0.9M49.7 404.6h0.9M50.0 402.1h0.9M55.7 406.5h0.9M61.0 396.9h0.9M46.7 405.5h0.9M85.5 392.9h0.9M98.1 392.5h0.9M75.5 408.1h0.9M51.8 402.5h0.9M53.9 406.3h0.9M54.6 405.7h0.9M87.3 401.3h0.9M55.5 399.6h0.9M70.5 395.4h0.9M51.3 409.0h0.9M125.9 387.2h0.9M68.6 402.1h0.9M51.5 399.2h0.9M64.6 397.4h0.9M48.9 408.4h0.9M59.7 400.0h0.9M53.7 408.9h0.9M78.1 405.6h0.9M49.0 400.2h0.9M93.8 397.8h0.9M64.5 397.1h0.9M47.3 407.4h0.9M56.8 400.7h0.9M53.5 405.2h0.9M81.2 392.3h0.9M50.6 403.4h0.9M48.3 406.7h0.9M53.2 409.4h0.9M50.9 405.4h0.9M47.7 409.0h0.9M50.3 406.5h0.9M57.0 398.9h0.9M98.9 403.1h0.9M52.8 400.0h0.9M57.3 398.6h0.9M85.6 398.9h0.9M81.7 396.0h0.9M61.0 406.6h0.9M76.5 404.2h0.9M58.9 399.9h0.9M82.6 400.3h0.9M65.1 403.3h0.9M54.2 406.8h0.9M100.7 396.1h0.9M88.3 396.5h0.9M47.1 402.8h0.9M68.0 399.8h0.9M56.0 407.0h0.9M75.7 403.6h0.9M72.9 399.4h0.9M69.7 403.9h0.9M74.0 402.7h0.9M129.5 407.3h0.9M56.2 400.1h0.9M91.7 403.9h0.9M50.3 403.8h0.9M68.9 405.1h0.9M50.0 401.5h0.9M65.3 401.1h0.9M60.5 399.0h0.9M73.5 404.8h0.9M60.1 409.9h0.9M70.7 404.1h0.9M90.3 395.1h0.9M50.5 407.9h0.9M85.4 400.2h0.9M85.7 404.8h0.9M92.4 396.6h0.9M60.5 406.1h0.9M74.2 405.6h0.9M55.9 401.9h0.9M52.0 403.0h0.9M55.8 400.3h0.9M48.1 404.7h0.9M46.6 403.0h0.9M70.0 406.9h0.9M51.1 404.4h0.9M49.8 408.1h0.9M62.2 404.8h0.9M61.5 401.7h0.9M68.2 401.9h0.9M67.6 396.1h0.9M51.9 407.9h0.9M47.4 399.9h0.9M95.5 395.7h0.9M47.7 405.4h0.9M73.6 400.1h0.9M57.0 402.0h0.9M63.8 405.8h0.9M71.2 401.4h0.9M51.3 405.0h0.9M55.5 405.6h0.9M62.9 402.1h0.9M50.7 406.2h0.9M48.0 405.8h0.9M58.4 406.1h0.9M49.9 401.7h0.9M107.9 396.8h0.9M57.8 406.9h0.9M50.3 403.6h0.9M61.7 404.2h0.9M47.8 406.3h0.9M67.0 405.8h0.9M53.9 403.5h0.9M55.9 400.9h0.9M55.0 407.7h0.9M49.3 407.1h0.9M46.6 402.6h0.9M78.7 399.8h0.9M63.4 399.4h0.9M89.5 394.4h0.9M52.5 406.1h0.9M60.2 400.3h0.9M97.2 390.1h0.9M49.2 401.2h0.9M73.1 407.1h0.9M61.7 401.5h0.9M95.8 393.5h0.9M60.1 401.4h0.9M48.6 405.9h0.9M85.2 399.7h0.9M53.1 403.5h0.9M57.6 400.5h0.9M84.8 399.6h0.9M53.8 397.3h0.9M63.8 401.0h0.9M57.5 402.0h0.9M62.5 405.8h0.9M72.7 401.0h0.9M54.8 406.9h0.9M54.2 407.3h0.9M52.0 402.5h0.9M53.4 404.9h0.9M66.4 400.2h0.9M46.9 405.5h0.9M74.3 402.4h0.9M49.2 404.9h0.9M51.7 405.4h0.9M69.0 400.3h0.9M96.4 386.2h0.9M60.1 404.4h0.9M90.6 397.6h0.9M56.2 405.6h0.9M79.8 407.1h0.9M54.8 409.1h0.9M70.3 406.0h0.9M61.9 403.8h0.9M47.5 404.9h0.9M48.8 409.1h0.9M63.4 403.4h0.9M48.5 405.8h0.9M62.5 404.7h0.9M65.5 405.7h0.9M112.2 394.2h0.9M56.2 401.9h0.9M51.0 405.9h0.9M108.9 405.3h0.9M49.8 404.6h0.9M49.9 406.2h0.9M69.2 404.7h0.9M47.5 401.1h0.9M47.1 404.4h0.9M56.3 404.8h0.9M56.7 399.7h0.9M82.7 396.4h0.9M55.1 402.3h0.9M95.3 405.3h0.9M60.5 397.3h0.9M49.1 406.0h0.9M66.4 405.4h0.9M46.6 406.7h0.9M58.8 397.9h0.9M46.6 406.0h0.9M65.3 398.8h0.9M60.8 402.6h0.9M101.2 391.3h0.9M99.4 404.1h0.9M53.0 402.5h0.9M54.5 403.2h0.9M73.2 409.9h0.9M72.9 406.6h0.9M66.3 392.0h0.9M53.0 404.3h0.9M62.5 400.1h0.9M49.4 406.8h0.9M52.0 401.8h0.9M90.1 408.7h0.9M70.5 406.1h0.9M49.2 405.0h0.9M86.9 392.9h0.9M61.5 395.8h0.9M48.1 407.7h0.9M72.0 403.9h0.9M48.6 406.2h0.9M81.4 393.2h0.9M51.5 406.1h0.9M68.8 400.8h0.9M58.1 402.3h0.9M68.3 403.2h0.9M52.0 408.5h0.9M54.4 410.4h0.9M56.0 398.7h0.9M70.7 398.5h0.9M56.9 405.7h0.9M97.4 393.4h0.9M57.4 407.5h0.9M49.2 407.9h0.9M65.8 412.6h0.9M59.7 406.5h0.9M69.4 405.5h0.9M54.5 407.2h0.9M51.4 404.8h0.9M57.5 402.8h0.9M48.0 408.3h0.9M47.1 400.6h0.9M57.1 398.6h0.9M68.7 403.0h0.9M53.6 405.9h0.9M49.0 404.1h0.9M75.2 402.9h0.9M58.3 404.9h0.9M53.5 407.7h0.9M57.4 409.9h0.9M72.7 401.3h0.9M50.7 410.8h0.9M86.8 389.4h0.9M71.6 394.5h0.9M63.4 395.9h0.9M56.5 402.4h0.9M48.3 409.1h0.9M66.0 398.9h0.9M69.7 402.2h0.9M75.9 405.5h0.9M102.1 399.8h0.9M66.1 401.3h0.9M60.2 401.5h0.9M49.0 405.8h0.9M57.3 401.1h0.9M54.3 404.1h0.9M60.2 403.5h0.9M49.5 401.1h0.9M83.4 391.7h0.9M114.5 406.9h0.9M49.1 398.6h0.9M54.8 400.0h0.9M60.0 402.9h0.9M50.4 405.2h0.9M48.8 404.0h0.9M60.6 407.7h0.9M96.8 395.6h0.9M97.2 392.9h0.9M63.6 395.8h0.9M65.3 400.4h0.9M54.1 402.0h0.9M105.7 393.3h0.9M51.3 405.5h0.9M46.7 405.0h0.9M60.2 404.2h0.9M48.6 408.0h0.9M77.3 397.4h0.9M90.9 391.8h0.9M128.8 387.9h0.9M46.5 401.5h0.9M47.4 398.8h0.9M52.9 407.7h0.9M60.8 406.6h0.9M86.1 399.5h0.9M61.6 403.2h0.9M50.4 404.2h0.9M49.9 405.3h0.9M92.2 396.3h0.9M51.8 407.0h0.9M53.1 401.8h0.9M104.2 389.2h0.9M47.7 407.3h0.9M76.7 402.7h0.9M69.8 401.5h0.9M51.9 406.0h0.9M64.9 405.2h0.9M63.1 402.3h0.9M64.5 405.6h0.9M60.1 407.7h0.9M54.1 405.9h0.9M49.1 403.6h0.9M49.4 406.9h0.9M73.9 405.5h0.9M49.5 401.1h0.9M60.5 403.0h0.9M55.5 403.3h0.9M47.5 404.9h0.9M55.8 404.2h0.9M51.2 409.3h0.9M76.0 400.9h0.9M57.5 405.0h0.9M54.8 401.3h0.9M50.8 408.7h0.9M65.3 404.4h0.9M58.4 400.3h0.9M90.2 396.1h0.9M47.7 404.0h0.9M48.0 404.4h0.9M64.3 403.9h0.9M55.9 402.5h0.9M93.4 404.0h0.9M51.3 405.9h0.9M53.2 406.3h0.9M87.4 397.7h0.9M49.6 401.9h0.9M47.3 408.8h0.9M64.3 407.4h0.9M49.4 404.1h0.9M58.5 402.6h0.9M53.4 408.1h0.9M67.9 405.7h0.9M58.6 405.8h0.9M56.2 407.8h0.9M64.9 409.0h0.9M46.6 408.2h0.9M50.8 403.0h0.9M48.1 406.0h0.9M66.3 405.6h0.9M51.8 404.3h0.9M65.4 403.0h0.9M66.3 405.9h0.9M56.1 404.4h0.9M59.8 404.3h0.9M125.9 396.1h0.9M58.4 402.7h0.9M57.9 405.1h0.9M58.1 408.0h0.9M74.6 398.5h0.9M75.1 410.3h0.9M57.4 405.9h0.9M48.8 407.3h0.9M66.2 400.7h0.9M110.1 388.1h0.9M47.3 404.1h0.9M48.5 400.1h0.9M53.1 407.9h0.9M68.3 403.6h0.9M53.8 403.1h0.9M67.7 398.6h0.9M52.0 407.5h0.9M46.6 404.8h0.9M48.1 404.2h0.9M63.7 395.6h0.9M49.4 407.8h0.9M48.6 401.8h0.9M54.6 403.9h0.9M47.2 404.9h0.9M53.9 411.2h0.9M53.0 397.2h0.9M87.2 401.3h0.9M61.6 396.2h0.9M105.7 387.5h0.9M60.7 396.6h0.9M50.2 401.4h0.9M53.5 403.7h0.9M54.5 400.0h0.9M50.8 404.3h0.9M52.0 400.9h0.9M55.7 403.7h0.9M65.0 404.2h0.9M52.0 407.7h0.9M71.5 399.5h0.9M58.9 397.9h0.9M51.4 407.5h0.9M54.5 402.4h0.9M52.3 400.6h0.9M75.5 404.7h0.9M57.7 403.3h0.9M56.7 401.5h0.9M54.0 403.1h0.9M70.4 405.1h0.9M69.0 402.6h0.9M72.6 404.1h0.9M64.6 400.2h0.9M66.6 397.5h0.9M51.9 406.9h0.9M47.1 406.0h0.9M102.1 388.5h0.9M104.2 395.2h0.9M74.2 401.5h0.9M48.5 407.3h0.9M73.5 400.8h0.9M54.3 400.5h0.9M51.8 399.8h0.9M84.9 400.0h0.9M78.6 403.5h0.9M55.8 401.3h0.9M52.9 406.1h0.9M49.4 404.5h0.9M52.1 409.4h0.9M53.3 401.4h0.9M78.9 403.9h0.9M50.1 402.8h0.9M71.7 400.0h0.9M86.1 401.0h0.9M56.3 400.3h0.9M51.5 406.8h0.9M46.8 403.2h0.9M46.7 406.8h0.9M54.4 404.2h0.9M65.8 399.0h0.9M63.2 403.0h0.9M65.6 403.0h0.9M62.6 402.2h0.9M79.4 403.1h0.9M87.3 399.8h0.9M61.0 407.5h0.9M53.1 406.8h0.9M64.1 403.3h0.9M62.2 401.1h0.9M50.6 404.5h0.9M52.8 401.8h0.9M86.0 401.5h0.9M48.6 406.9h0.9M79.5 400.0h0.9M51.2 402.1h0.9M47.2 403.8h0.9M73.6 402.3h0.9M71.9 398.4h0.9M57.6 404.6h0.9M54.6 403.9h0.9M50.9 401.1h0.9M77.9 395.2h0.9M60.0 398.6h0.9M48.4 408.1h0.9M51.6 404.5h0.9M130.8 384.8h0.9M48.1 403.2h0.9M46.5 405.6h0.9M48.2 407.1h0.9M56.1 405.4h0.9M58.6 402.2h0.9M58.8 408.3h0.9M114.6 398.7h0.9M58.1 406.8h0.9M54.4 405.4h0.9M82.2 397.4h0.9M54.0 401.9h0.9M60.6 407.1h0.9M52.2 410.6h0.9M54.3 407.8h0.9M48.6 403.0h0.9M53.2 401.1h0.9M53.3 405.7h0.9M55.7 401.5h0.9M100.0 393.6h0.9M49.5 406.9h0.9M65.0 400.4h0.9M55.4 401.0h0.9M51.0 405.3h0.9M76.8 396.1h0.9M54.5 403.9h0.9M50.7 403.9h0.9M101.5 393.5h0.9M58.2 399.0h0.9M57.4 404.2h0.9M64.1 404.6h0.9M66.6 401.9h0.9M49.0 408.8h0.9M62.6 404.7h0.9M52.9 407.3h0.9M60.1 405.7h0.9M62.8 405.8h0.9M49.0 403.3h0.9M59.9 407.9h0.9M62.8 403.6h0.9M50.8 400.9h0.9M56.4 405.7h0.9M70.3 397.2h0.9M54.2 396.5h0.9M75.9 404.3h0.9M64.5 406.4h0.9M47.1 407.4h0.9M92.7 406.4h0.9M51.8 403.6h0.9M78.3 404.0h0.9M59.0 408.9h0.9M46.8 407.3h0.9M76.6 397.8h0.9M66.3 395.0h0.9M50.4 403.5h0.9M85.4 398.8h0.9M53.5 404.7h0.9M47.7 408.4h0.9M48.7 406.5h0.9M49.5 404.2h0.9M89.5 402.6h0.9M86.6 409.2h0.9M56.4 396.8h0.9M73.5 399.3h0.9M74.8 410.3h0.9M68.9 402.1h0.9M90.5 400.8h0.9M60.2 398.1h0.9M49.1 401.3h0.9M66.9 395.8h0.9M56.8 404.9h0.9M50.2 406.8h0.9M69.7 400.9h0.9M76.7 400.8h0.9M55.1 408.6h0.9M50.8 406.0h0.9M54.3 411.4h0.9M58.6 402.6h0.9M70.3 401.6h0.9M69.7 404.3h0.9M50.5 402.7h0.9M53.8 403.6h0.9M55.4 399.4h0.9M59.1 407.5h0.9M57.4 409.5h0.9M58.5 403.9h0.9M68.3 399.5h0.9M53.9 404.6h0.9M52.0 403.2h0.9M63.7 399.2h0.9M61.2 403.4h0.9M50.7 404.4h0.9M73.7 401.2h0.9M51.5 406.2h0.9M62.1 399.0h0.9M63.2 407.0h0.9M52.4 407.9h0.9M80.3 401.7h0.9M75.2 394.8h0.9M56.3 400.1h0.9M50.1 398.5h0.9M48.3 402.2h0.9M49.2 406.5h0.9M50.7 406.4h0.9M49.2 402.8h0.9M49.9 403.1h0.9M57.5 402.6h0.9M59.6 399.6h0.9M77.3 402.5h0.9M46.8 406.7h0.9M47.2 404.4h0.9M71.3 397.0h0.9M50.7 403.1h0.9M72.3 399.1h0.9M50.9 408.8h0.9M61.0 401.1h0.9M57.6 401.0h0.9M47.6 402.5h0.9M49.3 401.5h0.9M60.1 403.0h0.9M77.5 398.6h0.9M81.2 403.2h0.9M48.0 405.6h0.9M51.5 407.3h0.9M51.4 406.2h0.9M52.6 401.5h0.9M72.9 402.2h0.9M68.3 404.0h0.9M46.6 406.4h0.9M53.3 407.8h0.9M72.3 405.2h0.9M70.5 402.6h0.9M55.5 406.7h0.9M52.9 403.0h0.9M47.8 408.0h0.9M56.4 402.5h0.9M56.3 404.4h0.9M57.5 397.6h0.9M49.8 399.8h0.9M55.4 407.5h0.9M64.9 398.7h0.9M61.0 401.6h0.9M51.3 399.1h0.9M47.9 403.1h0.9M54.3 410.2h0.9M46.7 400.2h0.9M63.3 398.1h0.9M57.3 399.0h0.9M48.9 403.5h0.9M68.7 407.6h0.9M50.4 402.0h0.9M64.7 398.4h0.9M46.9 403.0h0.9M62.0 404.0h0.9M53.5 407.2h0.9M52.2 407.5h0.9M73.1 399.5h0.9M74.6 405.9h0.9M48.6 404.8h0.9M93.3 396.2h0.9M46.9 404.7h0.9M49.9 402.1h0.9M55.0 400.7h0.9M48.7 404.8h0.9M59.1 400.6h0.9M54.7 411.6h0.9M56.2 404.9h0.9M53.1 411.9h0.9M64.2 404.3h0.9M70.4 398.2h0.9M52.1 405.0h0.9M56.6 404.3h0.9M81.7 401.3h0.9M71.0 405.6h0.9M52.0 406.4h0.9M55.9 406.9h0.9M93.9 401.2h0.9M60.5 401.6h0.9M55.7 407.1h0.9M88.5 400.0h0.9M52.6 400.3h0.9M47.6 402.9h0.9M90.3 401.9h0.9M67.9 404.0h0.9M46.8 404.2h0.9M57.4 404.7h0.9M46.8 406.2h0.9M47.9 406.5h0.9M48.1 406.1h0.9M49.0 407.9h0.9M75.8 398.0h0.9M51.2 405.6h0.9M77.6 407.3h0.9M48.2 406.2h0.9M95.7 391.8h0.9M80.3 403.4h0.9M48.3 408.7h0.9M61.6 405.0h0.9M68.2 401.2h0.9M50.0 407.9h0.9M56.3 402.9h0.9M52.5 408.1h0.9M52.0 403.6h0.9M74.0 399.7h0.9M58.1 403.7h0.9M58.6 405.0h0.9M58.4 402.8h0.9M55.5 400.9h0.9M84.4 397.5h0.9M84.4 412.6h0.9M125.2 398.4h0.9M75.1 399.8h0.9M62.6 406.2h0.9M64.2 414.4h0.9M74.7 399.4h0.9M80.3 399.5h0.9M49.8 404.5h0.9M50.2 408.5h0.9M57.1 403.3h0.9M64.9 400.9h0.9M48.4 401.1h0.9M66.3 403.0h0.9M47.2 407.5h0.9M54.9 411.2h0.9M55.9 400.4h0.9M69.4 406.0h0.9M64.4 398.7h0.9M58.8 405.8h0.9M50.0 411.5h0.9M72.0 398.1h0.9M129.8 379.3h0.9M51.2 405.7h0.9M69.6 399.7h0.9M77.0 390.8h0.9M82.4 398.9h0.9M57.5 409.2h0.9M52.9 400.7h0.9M77.9 406.2h0.9M78.2 399.2h0.9M49.4 403.3h0.9M60.8 403.8h0.9M48.3 407.3h0.9M49.4 404.4h0.9M78.5 397.4h0.9M53.3 405.7h0.9M51.8 402.4h0.9M55.0 407.2h0.9M54.6 404.2h0.9M46.7 406.8h0.9M46.5 403.3h0.9M101.4 397.5h0.9M46.9 407.1h0.9M48.3 404.0h0.9M58.4 399.2h0.9M51.3 402.7h0.9M54.4 411.8h0.9M123.9 396.3h0.9M78.5 398.9h0.9M46.9 404.0h0.9M66.7 395.6h0.9M60.1 403.9h0.9M59.7 401.4h0.9M51.8 402.9h0.9M67.4 403.5h0.9M61.0 403.9h0.9M62.0 398.1h0.9M89.8 401.2h0.9M53.2 400.6h0.9M91.2 396.9h0.9M53.4 405.2h0.9M67.3 407.0h0.9M65.0 400.3h0.9M93.6 399.1h0.9M57.0 400.2h0.9M70.7 400.8h0.9M62.9 404.3h0.9M74.6 401.0h0.9M84.4 406.6h0.9M48.8 406.9h0.9M53.4 406.8h0.9M97.2 403.4h0.9M73.3 401.1h0.9M63.5 407.0h0.9M49.8 411.3h0.9M47.8 404.5h0.9M57.6 403.7h0.9M55.5 406.9h0.9M78.7 399.1h0.9M72.2 398.8h0.9M52.7 403.2h0.9M58.0 399.8h0.9M58.5 406.3h0.9M53.1 396.4h0.9M50.3 398.7h0.9M53.5 405.5h0.9M47.5 405.1h0.9M55.8 406.3h0.9M104.0 388.9h0.9M77.3 395.7h0.9M46.7 403.4h0.9M54.7 403.7h0.9M47.7 408.7h0.9M59.8 400.5h0.9M55.3 406.4h0.9M48.3 404.4h0.9M62.0 396.7h0.9M48.6 400.4h0.9M119.8 386.4h0.9M70.7 409.3h0.9M65.1 404.5h0.9M52.0 409.1h0.9M84.8 395.2h0.9M51.3 402.0h0.9M52.5 403.0h0.9M70.8 398.9h0.9M59.8 401.2h0.9M91.3 388.2h0.9M60.7 400.0h0.9M129.0 400.6h0.9M60.2 403.8h0.9M68.6 407.1h0.9M57.6 402.7h0.9M63.6 397.2h0.9M96.4 396.0h0.9M46.7 402.9h0.9M47.5 410.0h0.9M73.1 407.0h0.9M73.9 402.2h0.9M51.1 403.0h0.9M67.2 403.9h0.9M59.3 401.0h0.9M61.5 401.1h0.9M99.0 399.8h0.9M51.3 397.5h0.9M58.8 401.1h0.9M74.2 403.6h0.9M49.8 400.2h0.9M93.1 395.0h0.9M46.8 404.8h0.9M93.3 404.2h0.9M49.5 406.2h0.9M60.0 400.3h0.9M91.2 402.7h0.9M49.4 405.7h0.9M48.9 403.4h0.9M61.3 408.0h0.9M48.7 405.9h0.9M49.1 401.7h0.9M75.7 402.1h0.9M94.2 394.7h0.9M74.8 401.0h0.9M80.8 400.2h0.9M76.2 406.6h0.9M71.7 405.3h0.9M63.6 407.7h0.9M53.3 396.7h0.9M77.0 403.9h0.9M66.1 400.7h0.9M66.1 405.0h0.9M52.0 401.3h0.9M51.4 403.0h0.9M79.9 399.6h0.9M83.9 399.9h0.9M65.5 408.0h0.9M48.7 405.7h0.9M52.7 399.3h0.9M48.3 404.0h0.9M57.2 409.0h0.9M75.2 402.0h0.9M53.8 405.3h0.9M82.5 400.7h0.9M70.3 402.9h0.9M48.1 404.4h0.9M51.3 403.4h0.9M65.0 405.0h0.9M56.7 401.4h0.9M47.0 404.1h0.9M72.9 403.8h0.9M67.8 403.0h0.9M66.9 397.7h0.9M48.8 403.1h0.9M52.1 406.0h0.9M69.3 402.5h0.9M52.1 406.9h0.9M80.4 396.8h0.9M54.6 401.3h0.9M89.8 403.8h0.9M60.7 401.7h0.9M80.2 400.0h0.9M48.4 407.0h0.9M58.4 403.6h0.9M56.1 401.9h0.9M125.9 386.5h0.9M77.6 401.0h0.9M84.4 397.8h0.9M63.7 403.9h0.9M69.4 406.8h0.9M52.8 402.3h0.9M58.8 402.5h0.9M57.2 407.0h0.9M87.9 408.2h0.9M57.6 399.5h0.9M103.2 405.0h0.9M63.9 408.7h0.9M81.5 388.1h0.9M46.9 409.3h0.9M78.5 402.2h0.9M76.5 397.0h0.9M50.6 404.6h0.9M55.5 400.4h0.9M50.2 406.0h0.9M48.1 400.8h0.9M111.4 396.5h0.9M55.6 406.8h0.9M61.1 409.3h0.9M63.6 397.2h0.9M54.2 404.9h0.9M58.9 404.1h0.9M61.4 393.8h0.9M55.6 406.7h0.9M53.8 402.5h0.9M94.1 399.6h0.9M61.7 399.4h0.9M51.4 403.7h0.9M52.9 401.0h0.9M112.4 395.6h0.9M60.6 403.4h0.9M49.4 405.6h0.9M53.7 405.4h0.9M51.1 398.7h0.9M72.3 396.7h0.9M59.4 404.7h0.9M47.2 408.7h0.9M66.4 404.4h0.9M54.6 408.9h0.9M52.6 401.6h0.9M47.7 401.4h0.9M50.8 403.2h0.9M47.3 404.4h0.9M69.2 401.9h0.9M63.2 402.0h0.9M51.0 407.6h0.9M50.0 406.8h0.9M56.8 408.9h0.9M67.9 398.1h0.9M61.9 408.0h0.9M64.5 398.9h0.9M50.1 406.9h0.9M108.4 392.4h0.9M63.8 398.7h0.9M48.3 403.9h0.9M78.0 403.2h0.9M46.7 400.2h0.9M72.4 404.1h0.9M68.1 401.1h0.9M67.2 404.7h0.9M52.5 403.8h0.9M70.8 398.0h0.9M61.0 407.0h0.9M54.6 395.9h0.9M119.7 407.8h0.9M47.0 405.5h0.9M59.9 398.8h0.9M52.9 407.5h0.9M50.5 405.4h0.9M70.5 396.8h0.9M57.9 408.9h0.9M50.7 405.7h0.9M57.4 406.0h0.9M65.1 402.4h0.9M71.1 398.7h0.9M68.9 398.7h0.9M65.3 403.6h0.9M62.0 407.0h0.9M68.7 402.9h0.9M53.6 406.6h0.9M48.2 402.4h0.9M61.2 407.5h0.9M49.7 404.6h0.9M70.2 399.7h0.9M49.2 406.5h0.9M58.8 404.8h0.9M51.9 409.5h0.9M52.2 399.8h0.9M70.1 400.0h0.9M51.5 401.0h0.9M97.3 398.4h0.9M53.3 404.0h0.9M53.1 405.2h0.9M85.3 404.1h0.9M46.9 406.3h0.9M46.7 403.2h0.9M85.6 398.9h0.9M48.6 406.7h0.9M54.3 405.4h0.9M51.4 405.7h0.9M61.2 400.3h0.9M59.2 404.2h0.9M71.8 400.8h0.9M89.0 394.4h0.9M73.1 396.9h0.9M53.3 402.9h0.9M48.9 407.6h0.9M48.3 402.5h0.9M90.7 399.6h0.9M67.0 401.5h0.9M51.1 399.2h0.9M53.8 402.8h0.9M58.2 402.4h0.9M63.2 400.7h0.9M55.9 405.8h0.9M67.6 401.8h0.9M47.2 404.9h0.9M49.2 406.1h0.9M59.3 406.0h0.9M48.2 409.2h0.9M63.1 403.9h0.9M50.7 403.4h0.9M71.1 392.5h0.9M53.5 405.4h0.9M55.1 406.6h0.9M104.1 395.2h0.9M84.2 401.4h0.9M94.7 404.2h0.9M48.6 407.6h0.9M70.0 396.2h0.9M62.1 409.9h0.9M48.3 408.9h0.9M72.5 400.7h0.9M66.1 399.1h0.9M55.5 403.9h0.9M92.6 396.8h0.9M54.7 405.1h0.9M74.9 396.5h0.9M52.6 403.6h0.9M57.9 403.3h0.9M47.9 407.5h0.9M55.9 400.2h0.9M108.7 410.1h0.9M48.0 402.8h0.9M67.2 401.4h0.9M46.8 401.6h0.9M90.3 392.4h0.9M75.2 403.0h0.9M52.0 410.8h0.9M51.9 405.6h0.9M47.2 410.7h0.9M69.4 411.2h0.9M50.5 408.2h0.9M65.1 408.6h0.9M61.4 405.4h0.9M96.3 401.8h0.9M46.6 404.4h0.9M48.4 409.9h0.9M68.9 399.7h0.9M47.2 404.1h0.9M58.0 399.9h0.9M49.2 399.9h0.9M48.9 404.5h0.9M82.0 396.7h0.9M51.1 405.6h0.9M57.0 401.2h0.9M84.0 394.7h0.9M58.7 393.6h0.9M50.6 403.9h0.9M46.8 404.1h0.9M48.8 406.9h0.9M55.7 410.7h0.9M57.8 405.1h0.9M82.4 397.4h0.9M70.7 395.6h0.9M52.6 404.0h0.9M60.3 400.9h0.9M61.9 403.2h0.9M53.7 402.3h0.9M76.1 404.7h0.9M48.6 397.8h0.9M50.5 408.1h0.9M69.8 405.6h0.9M64.3 403.3h0.9M60.5 399.1h0.9M89.7 394.4h0.9M61.6 398.9h0.9M58.1 403.6h0.9M48.8 401.3h0.9M55.9 400.9h0.9M60.5 404.8h0.9M54.1 401.6h0.9M54.4 406.0h0.9M107.2 397.0h0.9M68.2 402.3h0.9M55.0 400.0h0.9M54.3 405.3h0.9M51.1 410.3h0.9M94.0 399.1h0.9M52.2 401.8h0.9M47.5 405.6h0.9M84.4 401.3h0.9M51.5 402.6h0.9M66.9 403.4h0.9M54.8 400.7h0.9M51.0 406.2h0.9M79.7 391.8h0.9M48.6 398.3h0.9M67.8 395.9h0.9M57.0 404.3h0.9M68.9 402.9h0.9M47.7 406.4h0.9M57.4 399.1h0.9M84.3 405.4h0.9M48.3 403.4h0.9M61.6 400.6h0.9M91.4 400.3h0.9M68.8 403.8h0.9M53.6 405.6h0.9M61.0 401.4h0.9M75.0 404.9h0.9M49.9 404.2h0.9M95.7 393.2h0.9M98.0 394.0h0.9M48.5 408.2h0.9M55.5 400.7h0.9M53.6 401.1h0.9M47.1 407.5h0.9M49.7 407.2h0.9M52.7 399.6h0.9M58.8 398.6h0.9M51.5 402.5h0.9M72.4 399.7h0.9M49.4 404.5h0.9M87.1 404.3h0.9M49.6 405.3h0.9M50.6 406.0h0.9M53.4 400.2h0.9M55.3 407.1h0.9M57.5 399.2h0.9M86.2 404.2h0.9M55.9 405.9h0.9M111.2 393.3h0.9M59.2 402.0h0.9M51.9 401.8h0.9M49.0 406.8h0.9M66.9 399.8h0.9M57.0 401.5h0.9M49.8 404.4h0.9M53.5 402.6h0.9M46.5 402.2h0.9M67.6 400.7h0.9M51.6 404.9h0.9M50.5 406.2h0.9M53.2 400.8h0.9M51.4 403.9h0.9M53.7 406.5h0.9M73.1 402.7h0.9M83.3 392.7h0.9M64.5 403.3h0.9M49.6 405.3h0.9M51.6 399.2h0.9M61.5 401.8h0.9M56.0 404.2h0.9M70.3 412.7h0.9M53.6 412.3h0.9M51.5 406.8h0.9M78.5 405.1h0.9M54.0 407.0h0.9M83.9 399.0h0.9M50.3 405.9h0.9M74.4 406.9h0.9M66.0 401.6h0.9M52.1 404.2h0.9M117.7 397.3h0.9M47.3 403.2h0.9M50.0 403.0h0.9M56.2 405.9h0.9M49.6 403.9h0.9M63.4 400.3h0.9M49.9 401.9h0.9M81.7 402.1h0.9M51.2 405.6h0.9M58.8 399.2h0.9M68.6 402.6h0.9M84.7 398.1h0.9M76.7 400.9h0.9M46.8 404.5h0.9M62.2 404.6h0.9M72.4 403.6h0.9M78.9 403.0h0.9M66.4 406.6h0.9M73.4 405.1h0.9M55.4 406.4h0.9M53.0 407.8h0.9M48.9 406.3h0.9M48.8 407.2h0.9M54.8 400.3h0.9M55.3 402.6h0.9M73.9 404.2h0.9M92.5 400.7h0.9M80.5 406.8h0.9M59.5 400.5h0.9M72.8 399.4h0.9M51.5 403.8h0.9M48.2 406.6h0.9M55.4 401.9h0.9M59.6 407.4h0.9M73.5 404.9h0.9M73.5 403.8h0.9M49.2 403.2h0.9M70.9 400.2h0.9M53.6 401.4h0.9M49.3 406.3h0.9M74.9 396.9h0.9M53.6 402.6h0.9M69.8 405.9h0.9M82.9 395.5h0.9M55.3 407.7h0.9M80.1 400.5h0.9M54.2 400.2h0.9M51.9 408.3h0.9M52.7 400.8h0.9M48.0 407.3h0.9M47.2 411.5h0.9M74.7 395.8h0.9M59.7 402.5h0.9M55.5 402.6h0.9M89.4 398.0h0.9M48.3 407.5h0.9M63.9 406.7h0.9M74.4 397.6h0.9M47.4 399.3h0.9M46.7 405.5h0.9M49.3 409.5h0.9M59.4 403.5h0.9M59.2 401.4h0.9M85.8 399.2h0.9M57.6 400.3h0.9M52.0 409.3h0.9M65.9 400.7h0.9M52.7 403.9h0.9M73.7 396.4h0.9M54.2 407.4h0.9M56.7 400.4h0.9M60.6 404.5h0.9M101.3 390.5h0.9M46.6 408.5h0.9M57.9 400.4h0.9M78.7 402.7h0.9M67.8 404.8h0.9M76.0 391.3h0.9M64.3 410.8h0.9M47.3 405.8h0.9M60.8 404.0h0.9M53.1 404.0h0.9M47.9 407.9h0.9M87.2 402.3h0.9M56.5 400.3h0.9M52.8 402.1h0.9M109.5 392.4h0.9M99.7 395.7h0.9M47.8 400.1h0.9M48.7 404.1h0.9M55.8 405.1h0.9M119.2 402.7h0.9M50.8 398.4h0.9M50.8 406.8h0.9M47.5 405.4h0.9M59.3 401.7h0.9M60.5 407.9h0.9M62.0 401.1h0.9M66.4 407.9h0.9M67.8 397.9h0.9M52.2 404.9h0.9M47.2 401.5h0.9M50.0 405.5h0.9M79.9 406.5h0.9M75.3 395.2h0.9M57.9 404.6h0.9M69.2 404.5h0.9M117.5 395.1h0.9M53.9 404.3h0.9M53.8 402.9h0.9M78.1 399.2h0.9M53.5 406.4h0.9M52.7 402.8h0.9M49.8 408.3h0.9M76.2 399.5h0.9M47.6 400.9h0.9M116.6 391.9h0.9M93.4 402.1h0.9M59.5 405.7h0.9M46.9 404.6h0.9M96.2 397.2h0.9M54.1 407.9h0.9M61.1 410.6h0.9M82.1 395.4h0.9M51.5 404.7h0.9M55.7 403.3h0.9M95.5 397.7h0.9M61.3 406.2h0.9M51.1 403.4h0.9M48.2 401.2h0.9M89.5 405.7h0.9M53.8 406.1h0.9M49.1 413.3h0.9M73.8 407.8h0.9M56.9 406.0h0.9M90.9 385.7h0.9M59.4 402.6h0.9M114.2 402.6h0.9M68.8 398.3h0.9M55.4 398.7h0.9M60.4 404.4h0.9M79.8 397.8h0.9M46.9 401.8h0.9M49.2 404.0h0.9M89.9 395.7h0.9M55.5 404.6h0.9M61.7 402.7h0.9M48.1 405.0h0.9M67.7 404.0h0.9M74.5 403.3h0.9M80.1 402.2h0.9M46.6 404.1h0.9M70.4 398.6h0.9M46.8 403.7h0.9M56.1 404.1h0.9M113.6 403.5h0.9M50.5 408.5h0.9M48.4 406.8h0.9M50.8 396.9h0.9M53.2 407.4h0.9M53.0 402.5h0.9M55.2 404.2h0.9M67.0 399.1h0.9M50.0 409.1h0.9M48.3 402.9h0.9M89.0 394.9h0.9M48.4 404.8h0.9M54.4 399.5h0.9M48.8 401.3h0.9M57.4 400.1h0.9M57.4 401.8h0.9M55.9 399.9h0.9M50.0 401.2h0.9M85.1 400.8h0.9M136.0 385.5h0.9M50.8 403.7h0.9M63.4 402.5h0.9M66.4 399.4h0.9M56.3 408.4h0.9M64.5 404.1h0.9M53.7 402.6h0.9M116.9 399.7h0.9M57.5 404.6h0.9M69.7 395.6h0.9M65.3 396.2h0.9M46.5 405.8h0.9M56.1 404.1h0.9M47.0 401.5h0.9M50.3 404.0h0.9M79.5 390.7h0.9M54.0 408.0h0.9M62.9 400.1h0.9M72.2 400.5h0.9M46.6 405.2h0.9M82.9 403.8h0.9M58.3 406.1h0.9M62.5 403.5h0.9M74.6 406.6h0.9M54.9 407.3h0.9M59.1 400.2h0.9M125.7 396.9h0.9M89.2 405.8h0.9M67.0 399.1h0.9M49.1 409.9h0.9M65.5 403.9h0.9M63.4 401.6h0.9M89.6 402.4h0.9M59.4 406.3h0.9M53.8 404.4h0.9M47.7 410.7h0.9M75.2 399.7h0.9M46.6 404.1h0.9M68.5 402.8h0.9M74.7 402.8h0.9M48.7 400.2h0.9M46.7 409.4h0.9M76.5 405.2h0.9M58.8 404.0h0.9M48.7 410.2h0.9M53.2 412.7h0.9M55.6 403.9h0.9M71.6 403.1h0.9M120.3 385.8h0.9M71.8 410.6h0.9M48.0 401.9h0.9M70.1 402.2h0.9M53.6 406.8h0.9M122.4 400.5h0.9M48.8 405.9h0.9M59.0 403.5h0.9M71.3 399.4h0.9M69.7 405.1h0.9M67.1 404.6h0.9M78.6 398.0h0.9M69.2 398.3h0.9M60.7 401.5h0.9M47.9 406.9h0.9M48.7 406.2h0.9M47.3 404.2h0.9M62.8 397.2h0.9M50.4 403.7h0.9M62.9 396.3h0.9M50.9 401.9h0.9M51.8 403.3h0.9M49.2 407.4h0.9M92.4 392.9h0.9M49.7 404.4h0.9M47.5 408.2h0.9M52.6 401.0h0.9M87.4 397.7h0.9M61.1 400.1h0.9M72.7 397.2h0.9M54.3 412.5h0.9M73.2 401.2h0.9M48.8 406.3h0.9M64.7 404.1h0.9M48.9 408.0h0.9M46.6 405.6h0.9M51.6 403.0h0.9M46.5 406.4h0.9M51.6 404.5h0.9M55.6 406.6h0.9M54.1 403.8h0.9M77.4 401.3h0.9M69.3 401.5h0.9M51.0 404.5h0.9M85.7 396.2h0.9M75.6 401.6h0.9M84.3 403.5h0.9M60.5 405.9h0.9M48.6 403.3h0.9M65.5 406.9h0.9M63.3 400.2h0.9M47.7 403.2h0.9M46.8 407.9h0.9M86.5 391.0h0.9M47.8 405.2h0.9M53.7 402.3h0.9M50.3 407.9h0.9M76.9 394.6h0.9M54.7 406.2h0.9M61.0 402.0h0.9M65.5 402.7h0.9M48.3 407.6h0.9M73.6 402.0h0.9M52.0 405.8h0.9M63.9 399.8h0.9M79.2 396.2h0.9M70.2 402.8h0.9M49.7 408.0h0.9M51.2 405.2h0.9M53.8 405.1h0.9M83.5 398.5h0.9M50.7 403.6h0.9M61.7 402.1h0.9M48.2 404.8h0.9M60.7 402.0h0.9M71.7 400.5h0.9M51.2 401.5h0.9M53.6 402.2h0.9M96.2 393.3h0.9M59.7 405.3h0.9M77.6 407.9h0.9M59.7 402.8h0.9M68.0 395.8h0.9M106.5 384.8h0.9M70.8 402.6h0.9M56.3 407.7h0.9M51.0 404.9h0.9M67.5 399.4h0.9M57.9 399.0h0.9M68.4 404.6h0.9M124.2 405.9h0.9M51.7 404.4h0.9M65.3 393.8h0.9M56.6 403.9h0.9M54.0 407.4h0.9M59.4 403.9h0.9M52.8 406.9h0.9M47.7 406.9h0.9M49.7 402.3h0.9M58.3 404.5h0.9" stroke="#2b35d6" stroke-width="0.9" fill="none" opacity="0.8"/>
<path d="M98.5 396.5h0.7M56.5 379.9h0.7M78.1 395.4h0.7M115.9 385.2h0.7M55.4 401.2h0.7M85.2 393.4h0.7M134.2 390.0h0.7M134.0 383.2h0.7M122.9 398.5h0.7M133.5 386.9h0.7M60.5 384.6h0.7M107.7 392.2h0.7M85.2 392.7h0.7M73.3 396.1h0.7M135.4 401.5h0.7M120.3 402.0h0.7M119.2 376.9h0.7M64.6 381.2h0.7M121.8 384.7h0.7M94.2 398.9h0.7M95.7 403.0h0.7M126.7 381.0h0.7M67.4 390.2h0.7M63.8 393.0h0.7M114.3 387.3h0.7M125.6 373.1h0.7M59.1 386.5h0.7M74.7 399.9h0.7M102.8 390.7h0.7M66.6 381.9h0.7M80.3 368.8h0.7M130.6 386.9h0.7M86.9 393.8h0.7M116.0 386.5h0.7M96.5 364.5h0.7M92.0 401.0h0.7M97.4 387.7h0.7M77.9 388.5h0.7M105.1 400.5h0.7M89.7 383.8h0.7M127.0 400.2h0.7M62.1 402.0h0.7M134.7 391.3h0.7M57.8 388.1h0.7M63.0 387.7h0.7M81.8 374.8h0.7M64.9 402.2h0.7M76.6 376.6h0.7M134.4 387.6h0.7M119.9 382.0h0.7M136.6 392.7h0.7M72.7 399.7h0.7M106.2 390.5h0.7M55.8 381.7h0.7M76.7 387.9h0.7M120.0 375.8h0.7M104.9 403.8h0.7M105.3 380.7h0.7M64.3 396.4h0.7M61.5 401.6h0.7M120.3 390.0h0.7M134.0 391.1h0.7M101.4 381.8h0.7M90.6 378.8h0.7M107.4 398.2h0.7M81.3 387.1h0.7M56.7 391.6h0.7M104.1 380.4h0.7M106.6 397.4h0.7M96.8 392.4h0.7M117.7 391.2h0.7M75.8 369.5h0.7M131.9 399.7h0.7M106.8 403.0h0.7M110.7 394.6h0.7M111.0 399.9h0.7M119.5 382.1h0.7M63.5 399.1h0.7M57.6 383.7h0.7M130.8 380.9h0.7M93.4 391.9h0.7M93.1 376.5h0.7M55.2 396.6h0.7M106.1 389.2h0.7M131.0 390.4h0.7M57.5 381.2h0.7M108.5 395.8h0.7M92.0 376.8h0.7M58.6 398.9h0.7M99.7 398.1h0.7M130.8 374.7h0.7M121.2 401.5h0.7M121.4 397.3h0.7M126.0 393.0h0.7M60.2 380.2h0.7M105.7 387.9h0.7M102.2 399.5h0.7M67.2 396.2h0.7M108.8 377.3h0.7M118.0 401.0h0.7M99.5 376.4h0.7M61.7 389.7h0.7M135.7 381.8h0.7M95.4 392.8h0.7M113.2 393.3h0.7M89.5 388.3h0.7M67.9 387.4h0.7M60.5 392.3h0.7M76.9 385.4h0.7M62.0 384.4h0.7M118.7 402.3h0.7M105.9 387.4h0.7M97.8 397.5h0.7M65.6 391.7h0.7M101.6 385.7h0.7M95.4 392.0h0.7M56.8 398.2h0.7M136.7 373.0h0.7M68.0 383.9h0.7M121.0 382.7h0.7M115.8 393.5h0.7M99.5 374.2h0.7M75.9 393.4h0.7M61.3 373.3h0.7M95.2 381.9h0.7M60.7 391.5h0.7M98.8 392.7h0.7M73.3 387.1h0.7M131.9 365.1h0.7M77.7 394.5h0.7M84.5 401.8h0.7M133.5 384.3h0.7M77.6 388.3h0.7M124.3 389.1h0.7M133.0 386.9h0.7M89.9 385.5h0.7M126.2 381.9h0.7M55.7 377.6h0.7M108.7 402.7h0.7M128.7 393.5h0.7M134.8 397.5h0.7M60.0 383.5h0.7M67.9 371.3h0.7M122.7 370.4h0.7M113.8 382.7h0.7M121.1 382.3h0.7M69.6 395.6h0.7M125.4 385.5h0.7M136.5 403.0h0.7M81.9 400.7h0.7M84.4 388.5h0.7M98.7 386.4h0.7M92.7 381.7h0.7M98.1 394.7h0.7M67.0 384.6h0.7M90.4 401.5h0.7M66.3 389.2h0.7M108.3 400.7h0.7M89.6 383.0h0.7M89.3 391.8h0.7M78.0 384.1h0.7M65.9 390.0h0.7M114.2 402.6h0.7M84.9 381.8h0.7M90.5 394.3h0.7M78.0 385.8h0.7M113.1 395.7h0.7M100.7 379.5h0.7M90.2 402.4h0.7M67.0 400.2h0.7M109.3 389.9h0.7M74.2 398.9h0.7M66.8 382.2h0.7M75.6 375.9h0.7M90.2 383.2h0.7M91.2 401.6h0.7M132.6 391.4h0.7M62.2 372.9h0.7M85.6 392.8h0.7M75.7 400.0h0.7M111.3 382.2h0.7M133.9 366.9h0.7M123.7 403.5h0.7M135.0 375.2h0.7M105.8 392.0h0.7M67.0 391.3h0.7M65.0 376.3h0.7M126.8 394.6h0.7M77.7 386.2h0.7M108.1 390.3h0.7M61.6 389.2h0.7M122.1 399.8h0.7M80.0 386.3h0.7M107.0 403.4h0.7M113.1 394.7h0.7M93.8 379.0h0.7M100.7 391.5h0.7M58.6 375.8h0.7M83.5 398.1h0.7M131.6 381.9h0.7M104.5 392.3h0.7M57.7 389.3h0.7M101.3 403.7h0.7M68.5 382.5h0.7M136.3 384.0h0.7M56.1 375.9h0.7M125.4 402.4h0.7M94.0 398.1h0.7M61.2 391.4h0.7M112.5 397.9h0.7M105.6 373.7h0.7M79.2 385.7h0.7M128.3 373.3h0.7M104.2 393.2h0.7M134.4 380.2h0.7M122.4 377.2h0.7M120.8 391.9h0.7M120.2 383.8h0.7M126.6 403.5h0.7M93.1 400.2h0.7M62.2 384.7h0.7M66.0 377.8h0.7M88.7 385.4h0.7M132.8 388.4h0.7M92.9 389.5h0.7M64.1 375.0h0.7M117.4 390.1h0.7M63.0 401.2h0.7M127.2 386.1h0.7M116.4 380.5h0.7M125.4 399.3h0.7M97.2 383.5h0.7M79.8 380.9h0.7M89.4 397.5h0.7M112.9 391.6h0.7M95.5 403.5h0.7M78.6 380.6h0.7M71.9 402.6h0.7M67.5 378.3h0.7M58.4 395.8h0.7M69.3 391.4h0.7M91.5 396.4h0.7M64.2 386.4h0.7M62.3 390.7h0.7M116.1 378.5h0.7M104.8 400.2h0.7M112.7 390.1h0.7M89.2 395.9h0.7M126.5 383.5h0.7M117.7 394.8h0.7M85.8 389.5h0.7M109.7 397.4h0.7M68.2 391.6h0.7M135.8 388.4h0.7M58.1 383.8h0.7M57.9 388.7h0.7M116.7 403.9h0.7M84.3 401.6h0.7M83.4 382.2h0.7M134.2 386.9h0.7" stroke="#8f95e8" stroke-width="0.7" fill="none" opacity="0.75"/>
<g filter="url(#b1)">
<path d="M46.6,396.5 Q56,393.5 70,392 Q90,388.5 101,389 Q102,398 98,404 Q84,408.5 70,410.5 Q56,412.8 46.6,412 Z" fill="#2a3ce0" opacity="0.32"/>
<path d="M46.8,399.3 Q56,397.5 66,398.5 Q74,399.5 80,401 Q74,406.5 64,409 Q54,411 46.8,410.4 Z" fill="#2f9cf0"/>
<ellipse cx="58" cy="405" rx="11.5" ry="4.6" fill="#3fe0c0"/>
</g><g filter="url(#b05)">
<ellipse cx="57" cy="405.2" rx="8.6" ry="3.6" fill="#a6ee3a"/>
<ellipse cx="56.4" cy="405.3" rx="6.6" ry="2.7" fill="#f5e02a"/>
<ellipse cx="55.9" cy="405.4" rx="4.3" ry="1.5" fill="#f0401c"/>
</g>
<ellipse cx="84.8" cy="373.7" rx="4.6" ry="3.4" fill="none" stroke="#a48c8c" stroke-width="0.8"/>
<text x="78.00" y="365.90" font-size="10.2" fill="#111" stroke="#111" stroke-width="0.22" textLength="56.80" lengthAdjust="spacingAndGlyphs" >Exo PKH67+</text>
<text x="50.20" y="383.80" font-size="10.4" fill="#8fd24e" stroke="#8fd24e" stroke-width="0.22" textLength="31.10" lengthAdjust="spacingAndGlyphs" >100 nm</text>
<text x="91.40" y="381.70" font-size="10.4" fill="#a82222" stroke="#a82222" stroke-width="0.22" textLength="32.80" lengthAdjust="spacingAndGlyphs" >200 nm</text>
<text x="0" y="0" font-size="10.2" fill="#111" textLength="19.5" lengthAdjust="spacingAndGlyphs" transform="translate(34.2 404) rotate(-90)">FITC</text>
<text x="87.50" y="460.50" font-size="10.6" fill="#111" stroke="#111" stroke-width="0.22" textLength="16.30" lengthAdjust="spacingAndGlyphs" >FSC</text>
<rect x="154.40" y="201.00" width="50.00" height="51.00" fill="#fff" stroke="#8a8a8a" stroke-width="0.8" />
<clipPath id="c322"><rect x="154.90" y="201.00" width="49.00" height="51.00"/></clipPath>
<g clip-path="url(#c322)">
<polyline points="154.40,207.42 154.90,205.32 155.40,204.43 155.90,204.61 156.40,205.45 156.90,206.91 157.40,208.91 157.90,211.39 158.40,214.24 158.90,217.36 159.40,220.65 159.90,224.00 160.40,227.31 160.90,230.50 161.40,233.50 161.90,236.27 162.40,238.77 162.90,240.97 163.40,242.89 163.90,244.52 164.40,245.89 164.90,247.01 165.40,247.92 165.90,248.64 166.40,249.20 166.90,249.63 167.40,249.96 167.90,250.21 168.40,250.39 168.90,250.51 169.40,250.61 169.90,250.67 170.40,250.71 170.90,250.74 171.40,250.76 171.90,250.78 172.40,250.79 172.90,250.79 173.40,250.79 173.90,250.80 174.40,250.80 174.90,250.80 175.40,250.80 175.90,250.80 176.40,250.80 176.90,250.80 177.40,250.80 177.90,250.80 178.40,250.80 178.90,250.80 179.40,250.80 179.90,250.80 180.40,250.80 180.90,250.80 181.40,250.80 181.90,250.80 182.40,250.80 182.90,250.80 183.40,250.80 183.90,250.80 184.40,250.80 184.90,250.80 185.40,250.80 185.90,250.80 186.40,250.80 186.90,250.80 187.40,250.80 187.90,250.80 188.40,250.80 188.90,250.80 189.40,250.80 189.90,250.80 190.40,250.80 190.90,250.80 191.40,250.80 191.90,250.80 192.40,250.80 192.90,250.80 193.40,250.80 193.90,250.80 194.40,250.80 194.90,250.80 195.40,250.80 195.90,250.80 196.40,250.80 196.90,250.80 197.40,250.80 197.90,250.80 198.40,250.80 198.90,250.80 199.40,250.80 199.90,250.80 200.40,250.80 200.90,250.80 201.40,250.80 201.90,250.80 202.40,250.80 202.90,250.80 203.40,250.80 203.90,250.80 204.40,250.80" fill="none" stroke="#8e8e8e" stroke-width="0.6" stroke-linejoin="round" />
<polyline points="154.40,250.73 154.90,250.68 155.40,250.60 155.90,250.47 156.40,250.28 156.90,250.01 157.40,249.61 157.90,249.04 158.40,248.27 158.90,247.23 159.40,245.87 159.90,244.14 160.40,242.00 160.90,239.42 161.40,236.39 161.90,232.95 162.40,229.16 162.90,225.13 163.40,221.00 163.90,216.95 164.40,213.16 164.90,209.85 165.40,207.20 165.90,205.37 166.40,204.48 166.90,204.58 167.40,205.67 167.90,207.67 168.40,210.47 168.90,213.89 169.40,217.74 169.90,221.83 170.40,225.95 170.90,229.95 171.40,233.67 171.90,237.03 172.40,239.97 172.90,242.46 173.40,244.52 173.90,246.17 174.40,247.46 174.90,248.44 175.40,249.17 175.90,249.70 176.40,250.07 176.90,250.33 177.40,250.50 177.90,250.61 178.40,250.69 178.90,250.73 179.40,250.76 179.90,250.78 180.40,250.79 180.90,250.79 181.40,250.80 181.90,250.80 182.40,250.80 182.90,250.80 183.40,250.80 183.90,250.80 184.40,250.80 184.90,250.80 185.40,250.80 185.90,250.80 186.40,250.80 186.90,250.80 187.40,250.80 187.90,250.80 188.40,250.80 188.90,250.80 189.40,250.80 189.90,250.80 190.40,250.80 190.90,250.80 191.40,250.80 191.90,250.80 192.40,250.80 192.90,250.80 193.40,250.80 193.90,250.80 194.40,250.80 194.90,250.80 195.40,250.80 195.90,250.80 196.40,250.80 196.90,250.80 197.40,250.80 197.90,250.80 198.40,250.80 198.90,250.80 199.40,250.80 199.90,250.80 200.40,250.80 200.90,250.80 201.40,250.80 201.90,250.80 202.40,250.80 202.90,250.80 203.40,250.80 203.90,250.80 204.40,250.80" fill="none" stroke="#444" stroke-width="0.7" stroke-linejoin="round" />
</g>
<text x="177.60" y="212.10" font-size="10.2" fill="#111" stroke="#111" stroke-width="0.22" textLength="25.40" lengthAdjust="spacingAndGlyphs" >CD20</text>
<rect x="206.50" y="201.00" width="50.30" height="51.00" fill="#fff" stroke="#8a8a8a" stroke-width="0.8" />
<clipPath id="c329"><rect x="207.00" y="201.00" width="49.30" height="51.00"/></clipPath>
<g clip-path="url(#c329)">
<polyline points="206.50,243.04 207.00,242.05 207.50,240.98 208.00,239.82 208.50,238.58 209.00,237.26 209.50,235.86 210.00,234.39 210.50,232.85 211.00,231.26 211.50,229.61 212.00,227.92 212.50,226.21 213.00,224.48 213.50,222.75 214.00,221.03 214.50,219.35 215.00,217.72 215.50,216.15 216.00,214.66 216.50,213.28 217.00,212.01 217.50,210.86 218.00,209.87 218.50,209.03 219.00,208.35 219.50,207.85 220.00,207.54 220.50,207.40 221.00,207.67 221.50,208.74 222.00,210.56 222.50,213.04 223.00,216.05 223.50,219.43 224.00,223.02 224.50,226.67 225.00,230.24 225.50,233.61 226.00,236.71 226.50,239.47 227.00,241.86 227.50,243.89 228.00,245.55 228.50,246.89 229.00,247.95 229.50,248.76 230.00,249.36 230.50,249.81 231.00,250.13 231.50,250.36 232.00,250.51 232.50,250.62 233.00,250.68 233.50,250.73 234.00,250.76 234.50,250.77 235.00,250.79 235.50,250.79 236.00,250.80 236.50,250.80 237.00,250.80 237.50,250.80 238.00,250.80 238.50,250.80 239.00,250.80 239.50,250.80 240.00,250.80 240.50,250.80 241.00,250.80 241.50,250.80 242.00,250.80 242.50,250.80 243.00,250.80 243.50,250.80 244.00,250.80 244.50,250.80 245.00,250.80 245.50,250.80 246.00,250.80 246.50,250.80 247.00,250.80 247.50,250.80 248.00,250.80 248.50,250.80 249.00,250.80 249.50,250.80 250.00,250.80 250.50,250.80 251.00,250.80 251.50,250.80 252.00,250.80 252.50,250.80 253.00,250.80 253.50,250.80 254.00,250.80 254.50,250.80 255.00,250.80 255.50,250.80 256.00,250.80 256.50,250.80" fill="none" stroke="#8e8e8e" stroke-width="0.6" stroke-linejoin="round" />
<polyline points="206.50,250.80 207.00,250.80 207.50,250.80 208.00,250.80 208.50,250.80 209.00,250.80 209.50,250.80 210.00,250.80 210.50,250.80 211.00,250.80 211.50,250.80 212.00,250.80 212.50,250.80 213.00,250.80 213.50,250.80 214.00,250.80 214.50,250.80 215.00,250.80 215.50,250.80 216.00,250.80 216.50,250.79 217.00,250.79 217.50,250.78 218.00,250.76 218.50,250.72 219.00,250.65 219.50,250.53 220.00,250.33 220.50,250.01 221.00,249.51 221.50,248.76 222.00,247.68 222.50,246.18 223.00,244.18 223.50,241.61 224.00,238.44 224.50,234.69 225.00,230.47 225.50,225.94 226.00,221.37 226.50,217.04 227.00,213.29 227.50,210.44 228.00,208.73 228.50,208.30 229.00,208.48 229.50,208.89 230.00,209.53 230.50,210.40 231.00,211.47 231.50,212.74 232.00,214.17 232.50,215.76 233.00,217.46 233.50,219.27 234.00,221.15 234.50,223.07 235.00,225.02 235.50,226.97 236.00,228.90 236.50,230.79 237.00,232.62 237.50,234.37 238.00,236.04 238.50,237.62 239.00,239.10 239.50,240.47 240.00,241.73 240.50,242.88 241.00,243.93 241.50,244.87 242.00,245.71 242.50,246.46 243.00,247.12 243.50,247.70 244.00,248.20 244.50,248.63 245.00,249.00 245.50,249.32 246.00,249.59 246.50,249.81 247.00,250.00 247.50,250.15 248.00,250.28 248.50,250.39 249.00,250.47 249.50,250.54 250.00,250.60 250.50,250.64 251.00,250.68 251.50,250.71 252.00,250.73 252.50,250.75 253.00,250.76 253.50,250.77 254.00,250.78 254.50,250.78 255.00,250.79 255.50,250.79 256.00,250.79 256.50,250.80" fill="none" stroke="#444" stroke-width="0.7" stroke-linejoin="round" />
</g>
<text x="219.00" y="212.10" font-size="10.2" fill="#111" stroke="#111" stroke-width="0.22" textLength="35.40" lengthAdjust="spacingAndGlyphs" >HLA-DR</text>
<rect x="154.40" y="254.60" width="50.00" height="49.70" fill="#fff" stroke="#8a8a8a" stroke-width="0.8" />
<clipPath id="c336"><rect x="154.90" y="254.60" width="49.00" height="49.70"/></clipPath>
<g clip-path="url(#c336)">
<polyline points="154.40,299.20 154.90,298.35 155.40,297.37 155.90,296.23 156.40,294.93 156.90,293.47 157.40,291.84 157.90,290.05 158.40,288.09 158.90,285.99 159.40,283.74 159.90,281.39 160.40,278.94 160.90,276.45 161.40,273.94 161.90,271.45 162.40,269.03 162.90,266.73 163.40,264.60 163.90,262.68 164.40,261.01 164.90,259.63 165.40,258.57 165.90,257.87 166.40,257.53 166.90,257.62 167.40,258.32 167.90,259.63 168.40,261.50 168.90,263.85 169.40,266.59 169.90,269.61 170.40,272.82 170.90,276.10 171.40,279.37 171.90,282.53 172.40,285.53 172.90,288.30 173.40,290.80 173.90,293.03 174.40,294.97 174.90,296.63 175.40,298.02 175.90,299.17 176.40,300.10 176.90,300.85 177.40,301.43 177.90,301.88 178.40,302.22 178.90,302.47 179.40,302.66 179.90,302.80 180.40,302.89 180.90,302.96 181.40,303.01 181.90,303.04 182.40,303.06 182.90,303.08 183.40,303.08 183.90,303.09 184.40,303.09 184.90,303.10 185.40,303.10 185.90,303.10 186.40,303.10 186.90,303.10 187.40,303.10 187.90,303.10 188.40,303.10 188.90,303.10 189.40,303.10 189.90,303.10 190.40,303.10 190.90,303.10 191.40,303.10 191.90,303.10 192.40,303.10 192.90,303.10 193.40,303.10 193.90,303.10 194.40,303.10 194.90,303.10 195.40,303.10 195.90,303.10 196.40,303.10 196.90,303.10 197.40,303.10 197.90,303.10 198.40,303.10 198.90,303.10 199.40,303.10 199.90,303.10 200.40,303.10 200.90,303.10 201.40,303.10 201.90,303.10 202.40,303.10 202.90,303.10 203.40,303.10 203.90,303.10 204.40,303.10" fill="none" stroke="#8e8e8e" stroke-width="0.6" stroke-linejoin="round" />
<polyline points="154.40,303.10 154.90,303.10 155.40,303.10 155.90,303.10 156.40,303.10 156.90,303.10 157.40,303.10 157.90,303.10 158.40,303.10 158.90,303.10 159.40,303.10 159.90,303.10 160.40,303.10 160.90,303.10 161.40,303.10 161.90,303.10 162.40,303.10 162.90,303.10 163.40,303.10 163.90,303.10 164.40,303.10 164.90,303.10 165.40,303.10 165.90,303.10 166.40,303.10 166.90,303.10 167.40,303.09 167.90,303.09 168.40,303.07 168.90,303.04 169.40,302.99 169.90,302.89 170.40,302.72 170.90,302.45 171.40,302.01 171.90,301.33 172.40,300.32 172.90,298.89 173.40,296.94 173.90,294.39 174.40,291.20 174.90,287.39 175.40,283.06 175.90,278.39 176.40,273.67 176.90,269.23 177.40,265.43 177.90,262.62 178.40,261.06 178.90,260.90 179.40,262.01 179.90,264.27 180.40,267.48 180.90,271.38 181.40,275.68 181.90,280.09 182.40,284.36 182.90,288.28 183.40,291.72 183.90,294.62 184.40,296.97 184.90,298.80 185.40,300.17 185.90,301.16 186.40,301.85 186.90,302.32 187.40,302.63 187.90,302.82 188.40,302.94 188.90,303.01 189.40,303.05 189.90,303.08 190.40,303.09 190.90,303.09 191.40,303.10 191.90,303.10 192.40,303.10 192.90,303.10 193.40,303.10 193.90,303.10 194.40,303.10 194.90,303.10 195.40,303.10 195.90,303.10 196.40,303.10 196.90,303.10 197.40,303.10 197.90,303.10 198.40,303.10 198.90,303.10 199.40,303.10 199.90,303.10 200.40,303.10 200.90,303.10 201.40,303.10 201.90,303.10 202.40,303.10 202.90,303.10 203.40,303.10 203.90,303.10 204.40,303.10" fill="none" stroke="#444" stroke-width="0.7" stroke-linejoin="round" />
</g>
<text x="177.60" y="265.20" font-size="10.2" fill="#111" stroke="#111" stroke-width="0.22" textLength="25.40" lengthAdjust="spacingAndGlyphs" >CD54</text>
<rect x="206.50" y="254.60" width="50.30" height="49.70" fill="#fff" stroke="#8a8a8a" stroke-width="0.8" />
<clipPath id="c343"><rect x="207.00" y="254.60" width="49.30" height="49.70"/></clipPath>
<g clip-path="url(#c343)">
<polyline points="206.50,281.03 207.00,281.48 207.50,283.35 208.00,286.25 208.50,289.70 209.00,291.98 209.50,290.18 210.00,288.22 210.50,286.10 211.00,283.85 211.50,281.49 212.00,279.04 212.50,276.55 213.00,274.05 213.50,271.58 214.00,269.20 214.50,266.95 215.00,264.88 215.50,263.03 216.00,261.46 216.50,260.19 217.00,259.26 217.50,258.69 218.00,258.50 218.50,258.93 219.00,260.19 219.50,262.21 220.00,264.88 220.50,268.06 221.00,271.58 221.50,275.30 222.00,279.04 222.50,282.68 223.00,286.10 223.50,289.22 224.00,291.98 224.50,294.36 225.00,296.37 225.50,298.01 226.00,299.32 226.50,300.35 227.00,301.14 227.50,301.73 228.00,302.16 228.50,302.47 229.00,302.68 229.50,302.83 230.00,302.93 230.50,302.99 231.00,303.03 231.50,303.06 232.00,303.08 232.50,303.09 233.00,303.09 233.50,303.10 234.00,303.10 234.50,303.10 235.00,303.10 235.50,303.10 236.00,303.10 236.50,303.10 237.00,303.10 237.50,303.10 238.00,303.10 238.50,303.10 239.00,303.10 239.50,303.10 240.00,303.10 240.50,303.10 241.00,303.10 241.50,303.10 242.00,303.10 242.50,303.10 243.00,303.10 243.50,303.10 244.00,303.10 244.50,303.10 245.00,303.10 245.50,303.10 246.00,303.10 246.50,303.10 247.00,303.10 247.50,303.10 248.00,303.10 248.50,303.10 249.00,303.10 249.50,303.10 250.00,303.10 250.50,303.10 251.00,303.10 251.50,303.10 252.00,303.10 252.50,303.10 253.00,303.10 253.50,303.10 254.00,303.10 254.50,303.10 255.00,303.10 255.50,303.10 256.00,303.10 256.50,303.10" fill="none" stroke="#8e8e8e" stroke-width="0.6" stroke-linejoin="round" />
<polyline points="206.50,303.10 207.00,303.10 207.50,303.10 208.00,303.10 208.50,303.10 209.00,303.10 209.50,303.10 210.00,303.10 210.50,303.10 211.00,303.10 211.50,303.10 212.00,303.10 212.50,303.10 213.00,303.10 213.50,303.10 214.00,303.10 214.50,303.10 215.00,303.10 215.50,303.10 216.00,303.10 216.50,303.10 217.00,303.10 217.50,303.10 218.00,303.10 218.50,303.09 219.00,303.09 219.50,303.07 220.00,303.05 220.50,303.00 221.00,302.92 221.50,302.79 222.00,302.57 222.50,302.23 223.00,301.71 223.50,300.95 224.00,299.87 224.50,298.38 225.00,296.42 225.50,293.92 226.00,290.85 226.50,287.23 227.00,283.15 227.50,278.76 228.00,274.26 228.50,269.94 229.00,266.09 229.50,262.99 230.00,260.91 230.50,260.03 231.00,260.41 231.50,262.03 232.00,264.74 232.50,268.33 233.00,272.50 233.50,276.96 234.00,281.42 234.50,285.65 235.00,289.47 235.50,292.76 236.00,295.49 236.50,297.66 237.00,299.33 237.50,300.56 238.00,301.44 238.50,302.05 239.00,302.45 239.50,302.71 240.00,302.87 240.50,302.97 241.00,303.03 241.50,303.06 242.00,303.08 242.50,303.09 243.00,303.10 243.50,303.10 244.00,303.10 244.50,303.10 245.00,303.10 245.50,303.10 246.00,303.10 246.50,303.10 247.00,303.10 247.50,303.10 248.00,303.10 248.50,303.10 249.00,303.10 249.50,303.10 250.00,303.10 250.50,303.10 251.00,303.10 251.50,303.10 252.00,303.10 252.50,303.10 253.00,303.10 253.50,303.10 254.00,303.10 254.50,303.10 255.00,303.10 255.50,303.10 256.00,303.10 256.50,303.10" fill="none" stroke="#444" stroke-width="0.7" stroke-linejoin="round" />
</g>
<text x="224.00" y="265.20" font-size="10.2" fill="#111" stroke="#111" stroke-width="0.22" textLength="30.40" lengthAdjust="spacingAndGlyphs" >CD154</text>
<rect x="154.40" y="307.50" width="50.00" height="49.60" fill="#fff" stroke="#8a8a8a" stroke-width="0.8" />
<clipPath id="c350"><rect x="154.90" y="307.50" width="49.00" height="49.60"/></clipPath>
<g clip-path="url(#c350)">
<polyline points="154.40,327.18 154.90,322.33 155.40,318.20 155.90,315.23 156.40,313.74 156.90,313.75 157.40,314.63 157.90,316.27 158.40,318.57 158.90,321.41 159.40,324.64 159.90,328.11 160.40,331.67 160.90,335.17 161.40,338.51 161.90,341.59 162.40,344.35 162.90,346.75 163.40,348.79 163.90,350.49 164.40,351.85 164.90,352.93 165.40,353.77 165.90,354.40 166.40,354.86 166.90,355.19 167.40,355.43 167.90,355.59 168.40,355.70 168.90,355.78 169.40,355.82 169.90,355.85 170.40,355.87 170.90,355.88 171.40,355.89 171.90,355.89 172.40,355.90 172.90,355.90 173.40,355.90 173.90,355.90 174.40,355.90 174.90,355.90 175.40,355.90 175.90,355.90 176.40,355.90 176.90,355.90 177.40,355.90 177.90,355.90 178.40,355.90 178.90,355.90 179.40,355.90 179.90,355.90 180.40,355.90 180.90,355.90 181.40,355.90 181.90,355.90 182.40,355.90 182.90,355.90 183.40,355.90 183.90,355.90 184.40,355.90 184.90,355.90 185.40,355.90 185.90,355.90 186.40,355.90 186.90,355.90 187.40,355.90 187.90,355.90 188.40,355.90 188.90,355.90 189.40,355.90 189.90,355.90 190.40,355.90 190.90,355.90 191.40,355.90 191.90,355.90 192.40,355.90 192.90,355.90 193.40,355.90 193.90,355.90 194.40,355.90 194.90,355.90 195.40,355.90 195.90,355.90 196.40,355.90 196.90,355.90 197.40,355.90 197.90,355.90 198.40,355.90 198.90,355.90 199.40,355.90 199.90,355.90 200.40,355.90 200.90,355.90 201.40,355.90 201.90,355.90 202.40,355.90 202.90,355.90 203.40,355.90 203.90,355.90 204.40,355.90" fill="none" stroke="#8e8e8e" stroke-width="0.6" stroke-linejoin="round" />
<polyline points="154.40,355.90 154.90,355.90 155.40,355.89 155.90,355.89 156.40,355.88 156.90,355.86 157.40,355.82 157.90,355.77 158.40,355.68 158.90,355.53 159.40,355.31 159.90,354.98 160.40,354.49 160.90,353.80 161.40,352.85 161.90,351.58 162.40,349.92 162.90,347.82 163.40,345.26 163.90,342.21 164.40,338.73 164.90,334.87 165.40,330.76 165.90,326.59 166.40,322.54 166.90,318.84 167.40,315.73 167.90,313.41 168.40,312.04 168.90,311.72 169.40,312.38 169.90,313.95 170.40,316.33 170.90,319.38 171.40,322.91 171.90,326.73 172.40,330.67 172.90,334.54 173.40,338.20 173.90,341.55 174.40,344.51 174.90,347.06 175.40,349.18 175.90,350.91 176.40,352.27 176.90,353.31 177.40,354.10 177.90,354.67 178.40,355.08 178.90,355.36 179.40,355.56 179.90,355.69 180.40,355.77 180.90,355.82 181.40,355.85 181.90,355.87 182.40,355.89 182.90,355.89 183.40,355.90 183.90,355.90 184.40,355.90 184.90,355.90 185.40,355.90 185.90,355.90 186.40,355.90 186.90,355.90 187.40,355.90 187.90,355.90 188.40,355.90 188.90,355.90 189.40,355.90 189.90,355.90 190.40,355.90 190.90,355.90 191.40,355.90 191.90,355.90 192.40,355.90 192.90,355.90 193.40,355.90 193.90,355.90 194.40,355.90 194.90,355.90 195.40,355.90 195.90,355.90 196.40,355.90 196.90,355.90 197.40,355.90 197.90,355.90 198.40,355.90 198.90,355.90 199.40,355.90 199.90,355.90 200.40,355.90 200.90,355.90 201.40,355.90 201.90,355.90 202.40,355.90 202.90,355.90 203.40,355.90 203.90,355.90 204.40,355.90" fill="none" stroke="#444" stroke-width="0.7" stroke-linejoin="round" />
</g>
<text x="171.70" y="318.30" font-size="10.2" fill="#111" stroke="#111" stroke-width="0.22" textLength="31.30" lengthAdjust="spacingAndGlyphs" >CD257</text>
<rect x="206.50" y="307.50" width="50.30" height="49.60" fill="#fff" stroke="#8a8a8a" stroke-width="0.8" />
<clipPath id="c357"><rect x="207.00" y="307.50" width="49.30" height="49.60"/></clipPath>
<g clip-path="url(#c357)">
<polyline points="206.50,352.83 207.00,352.05 207.50,351.11 208.00,350.01 208.50,348.73 209.00,347.25 209.50,345.58 210.00,343.70 210.50,341.63 211.00,339.37 211.50,336.94 212.00,334.38 212.50,331.71 213.00,328.97 213.50,326.23 214.00,323.53 214.50,320.94 215.00,318.52 215.50,316.33 216.00,314.42 216.50,312.86 217.00,311.68 217.50,310.92 218.00,310.61 218.50,310.77 219.00,311.46 219.50,312.65 220.00,314.30 220.50,316.36 221.00,318.76 221.50,321.43 222.00,324.28 222.50,327.23 223.00,330.21 223.50,333.16 224.00,336.00 224.50,338.69 225.00,341.19 225.50,343.48 226.00,345.53 226.50,347.35 227.00,348.93 227.50,350.29 228.00,351.43 228.50,352.38 229.00,353.17 229.50,353.80 230.00,354.30 230.50,354.70 231.00,355.01 231.50,355.25 232.00,355.43 232.50,355.56 233.00,355.66 233.50,355.73 234.00,355.78 234.50,355.82 235.00,355.85 235.50,355.86 236.00,355.88 236.50,355.88 237.00,355.89 237.50,355.89 238.00,355.90 238.50,355.90 239.00,355.90 239.50,355.90 240.00,355.90 240.50,355.90 241.00,355.90 241.50,355.90 242.00,355.90 242.50,355.90 243.00,355.90 243.50,355.90 244.00,355.90 244.50,355.90 245.00,355.90 245.50,355.90 246.00,355.90 246.50,355.90 247.00,355.90 247.50,355.90 248.00,355.90 248.50,355.90 249.00,355.90 249.50,355.90 250.00,355.90 250.50,355.90 251.00,355.90 251.50,355.90 252.00,355.90 252.50,355.90 253.00,355.90 253.50,355.90 254.00,355.90 254.50,355.90 255.00,355.90 255.50,355.90 256.00,355.90 256.50,355.90" fill="none" stroke="#8e8e8e" stroke-width="0.6" stroke-linejoin="round" />
<polyline points="206.50,355.90 207.00,355.90 207.50,355.90 208.00,355.90 208.50,355.90 209.00,355.90 209.50,355.90 210.00,355.89 210.50,355.88 211.00,355.87 211.50,355.85 212.00,355.81 212.50,355.75 213.00,355.65 213.50,355.48 214.00,355.24 214.50,354.87 215.00,354.33 215.50,353.58 216.00,352.54 216.50,351.16 217.00,349.38 217.50,347.14 218.00,344.41 218.50,341.19 219.00,337.53 219.50,333.52 220.00,329.28 220.50,325.01 221.00,320.91 221.50,317.23 222.00,314.19 222.50,311.99 223.00,310.80 223.50,310.66 224.00,311.32 224.50,312.69 225.00,314.71 225.50,317.26 226.00,320.25 226.50,323.55 227.00,327.02 227.50,330.53 228.00,333.99 228.50,337.28 229.00,340.33 229.50,343.10 230.00,345.54 230.50,347.66 231.00,349.45 231.50,350.93 232.00,352.14 232.50,353.10 233.00,353.84 233.50,354.42 234.00,354.85 234.50,355.17 235.00,355.40 235.50,355.56 236.00,355.67 236.50,355.75 237.00,355.81 237.50,355.84 238.00,355.86 238.50,355.88 239.00,355.89 239.50,355.89 240.00,355.90 240.50,355.90 241.00,355.90 241.50,355.90 242.00,355.90 242.50,355.90 243.00,355.90 243.50,355.90 244.00,355.90 244.50,355.90 245.00,355.90 245.50,355.90 246.00,355.90 246.50,355.90 247.00,355.90 247.50,355.90 248.00,355.90 248.50,355.90 249.00,355.90 249.50,355.90 250.00,355.90 250.50,355.90 251.00,355.90 251.50,355.90 252.00,355.90 252.50,355.90 253.00,355.90 253.50,355.90 254.00,355.90 254.50,355.90 255.00,355.90 255.50,355.90 256.00,355.90 256.50,355.90" fill="none" stroke="#444" stroke-width="0.7" stroke-linejoin="round" />
</g>
<text x="229.60" y="318.30" font-size="10.2" fill="#111" stroke="#111" stroke-width="0.22" textLength="24.80" lengthAdjust="spacingAndGlyphs" >CD29</text>
<rect x="154.40" y="360.40" width="50.00" height="50.00" fill="#fff" stroke="#8a8a8a" stroke-width="0.8" />
<clipPath id="c364"><rect x="154.90" y="360.40" width="49.00" height="50.00"/></clipPath>
<g clip-path="url(#c364)">
<polyline points="154.40,370.94 154.90,366.92 155.40,364.31 155.90,363.40 156.40,363.79 156.90,364.96 157.40,366.83 157.90,369.32 158.40,372.31 158.90,375.66 159.40,379.23 159.90,382.88 160.40,386.48 160.90,389.93 161.40,393.13 161.90,396.03 162.40,398.59 162.90,400.81 163.40,402.67 163.90,404.21 164.40,405.45 164.90,406.43 165.40,407.19 165.90,407.76 166.40,408.19 166.90,408.51 167.40,408.73 167.90,408.89 168.40,409.00 168.90,409.07 169.40,409.12 169.90,409.15 170.40,409.17 170.90,409.18 171.40,409.19 171.90,409.19 172.40,409.20 172.90,409.20 173.40,409.20 173.90,409.20 174.40,409.20 174.90,409.20 175.40,409.20 175.90,409.20 176.40,409.20 176.90,409.20 177.40,409.20 177.90,409.20 178.40,409.20 178.90,409.20 179.40,409.20 179.90,409.20 180.40,409.20 180.90,409.20 181.40,409.20 181.90,409.20 182.40,409.20 182.90,409.20 183.40,409.20 183.90,409.20 184.40,409.20 184.90,409.20 185.40,409.20 185.90,409.20 186.40,409.20 186.90,409.20 187.40,409.20 187.90,409.20 188.40,409.20 188.90,409.20 189.40,409.20 189.90,409.20 190.40,409.20 190.90,409.20 191.40,409.20 191.90,409.20 192.40,409.20 192.90,409.20 193.40,409.20 193.90,409.20 194.40,409.20 194.90,409.20 195.40,409.20 195.90,409.20 196.40,409.20 196.90,409.20 197.40,409.20 197.90,409.20 198.40,409.20 198.90,409.20 199.40,409.20 199.90,409.20 200.40,409.20 200.90,409.20 201.40,409.20 201.90,409.20 202.40,409.20 202.90,409.20 203.40,409.20 203.90,409.20 204.40,409.20" fill="none" stroke="#8e8e8e" stroke-width="0.6" stroke-linejoin="round" />
<polyline points="154.40,409.20 154.90,409.19 155.40,409.19 155.90,409.17 156.40,409.15 156.90,409.12 157.40,409.06 157.90,408.97 158.40,408.82 158.90,408.59 159.40,408.24 159.90,407.74 160.40,407.03 160.90,406.04 161.40,404.72 161.90,403.00 162.40,400.83 162.90,398.17 163.40,395.02 163.90,391.40 164.40,387.41 164.90,383.15 165.40,378.82 165.90,374.63 166.40,370.80 166.90,367.58 167.40,365.18 167.90,363.76 168.40,363.41 168.90,363.82 169.40,364.81 169.90,366.33 170.40,368.33 170.90,370.74 171.40,373.47 171.90,376.43 172.40,379.53 172.90,382.68 173.40,385.80 173.90,388.82 174.40,391.68 174.90,394.33 175.40,396.74 175.90,398.90 176.40,400.79 176.90,402.42 177.40,403.80 177.90,404.96 178.40,405.91 178.90,406.68 179.40,407.30 179.90,407.78 180.40,408.16 180.90,408.44 181.40,408.66 181.90,408.81 182.40,408.93 182.90,409.01 183.40,409.07 183.90,409.11 184.40,409.14 184.90,409.16 185.40,409.18 185.90,409.18 186.40,409.19 186.90,409.19 187.40,409.20 187.90,409.20 188.40,409.20 188.90,409.20 189.40,409.20 189.90,409.20 190.40,409.20 190.90,409.20 191.40,409.20 191.90,409.20 192.40,409.20 192.90,409.20 193.40,409.20 193.90,409.20 194.40,409.20 194.90,409.20 195.40,409.20 195.90,409.20 196.40,409.20 196.90,409.20 197.40,409.20 197.90,409.20 198.40,409.20 198.90,409.20 199.40,409.20 199.90,409.20 200.40,409.20 200.90,409.20 201.40,409.20 201.90,409.20 202.40,409.20 202.90,409.20 203.40,409.20 203.90,409.20 204.40,409.20" fill="none" stroke="#444" stroke-width="0.7" stroke-linejoin="round" />
</g>
<text x="177.50" y="370.50" font-size="10.2" fill="#111" stroke="#111" stroke-width="0.22" textLength="24.50" lengthAdjust="spacingAndGlyphs" >CD53</text>
<rect x="206.50" y="360.40" width="50.30" height="50.00" fill="#fff" stroke="#8a8a8a" stroke-width="0.8" />
<clipPath id="c371"><rect x="207.00" y="360.40" width="49.30" height="50.00"/></clipPath>
<g clip-path="url(#c371)">
<polyline points="206.50,391.52 207.00,392.28 207.50,393.98 208.00,396.35 208.50,397.37 209.00,395.58 209.50,393.64 210.00,391.56 210.50,389.37 211.00,387.08 211.50,384.72 212.00,382.33 212.50,379.94 213.00,377.59 213.50,375.32 214.00,373.17 214.50,371.19 215.00,369.43 215.50,367.91 216.00,366.67 216.50,365.75 217.00,365.15 217.50,364.91 218.00,365.17 218.50,366.26 219.00,368.13 219.50,370.66 220.00,373.73 220.50,377.17 221.00,380.84 221.50,384.56 222.00,388.21 222.50,391.66 223.00,394.82 223.50,397.63 224.00,400.08 224.50,402.14 225.00,403.84 225.50,405.21 226.00,406.29 226.50,407.11 227.00,407.73 227.50,408.19 228.00,408.52 228.50,408.75 229.00,408.91 229.50,409.01 230.00,409.08 230.50,409.13 231.00,409.16 231.50,409.17 232.00,409.19 232.50,409.19 233.00,409.20 233.50,409.20 234.00,409.20 234.50,409.20 235.00,409.20 235.50,409.20 236.00,409.20 236.50,409.20 237.00,409.20 237.50,409.20 238.00,409.20 238.50,409.20 239.00,409.20 239.50,409.20 240.00,409.20 240.50,409.20 241.00,409.20 241.50,409.20 242.00,409.20 242.50,409.20 243.00,409.20 243.50,409.20 244.00,409.20 244.50,409.20 245.00,409.20 245.50,409.20 246.00,409.20 246.50,409.20 247.00,409.20 247.50,409.20 248.00,409.20 248.50,409.20 249.00,409.20 249.50,409.20 250.00,409.20 250.50,409.20 251.00,409.20 251.50,409.20 252.00,409.20 252.50,409.20 253.00,409.20 253.50,409.20 254.00,409.20 254.50,409.20 255.00,409.20 255.50,409.20 256.00,409.20 256.50,409.20" fill="none" stroke="#8e8e8e" stroke-width="0.6" stroke-linejoin="round" />
<polyline points="206.50,409.19 207.00,409.18 207.50,409.17 208.00,409.15 208.50,409.12 209.00,409.06 209.50,408.98 210.00,408.84 210.50,408.64 211.00,408.35 211.50,407.93 212.00,407.33 212.50,406.52 213.00,405.43 213.50,404.02 214.00,402.24 214.50,400.04 215.00,397.40 215.50,394.33 216.00,390.86 216.50,387.06 217.00,383.05 217.50,378.98 218.00,375.01 218.50,371.35 219.00,368.20 219.50,365.74 220.00,364.11 220.50,363.42 221.00,363.65 221.50,364.67 222.00,366.41 222.50,368.78 223.00,371.68 223.50,374.97 224.00,378.51 224.50,382.15 225.00,385.77 225.50,389.26 226.00,392.51 226.50,395.48 227.00,398.11 227.50,400.39 228.00,402.32 228.50,403.92 229.00,405.22 229.50,406.25 230.00,407.05 230.50,407.66 231.00,408.12 231.50,408.45 232.00,408.69 232.50,408.86 233.00,408.98 233.50,409.06 234.00,409.11 234.50,409.14 235.00,409.17 235.50,409.18 236.00,409.19 236.50,409.19 237.00,409.20 237.50,409.20 238.00,409.20 238.50,409.20 239.00,409.20 239.50,409.20 240.00,409.20 240.50,409.20 241.00,409.20 241.50,409.20 242.00,409.20 242.50,409.20 243.00,409.20 243.50,409.20 244.00,409.20 244.50,409.20 245.00,409.20 245.50,409.20 246.00,409.20 246.50,409.20 247.00,409.20 247.50,409.20 248.00,409.20 248.50,409.20 249.00,409.20 249.50,409.20 250.00,409.20 250.50,409.20 251.00,409.20 251.50,409.20 252.00,409.20 252.50,409.20 253.00,409.20 253.50,409.20 254.00,409.20 254.50,409.20 255.00,409.20 255.50,409.20 256.00,409.20 256.50,409.20" fill="none" stroke="#444" stroke-width="0.7" stroke-linejoin="round" />
</g>
<text x="229.90" y="370.50" font-size="10.2" fill="#111" stroke="#111" stroke-width="0.22" textLength="24.60" lengthAdjust="spacingAndGlyphs" >CD63</text>
<rect x="154.40" y="413.50" width="50.00" height="49.80" fill="#fff" stroke="#8a8a8a" stroke-width="0.8" />
<clipPath id="c378"><rect x="154.90" y="413.50" width="49.00" height="49.80"/></clipPath>
<g clip-path="url(#c378)">
<polyline points="154.40,443.93 154.90,437.73 155.40,431.38 155.90,425.74 156.40,421.66 156.90,419.85 157.40,420.34 157.90,422.45 158.40,425.94 158.90,430.41 159.40,435.42 159.90,440.52 160.40,445.32 160.90,449.57 161.40,453.11 161.90,455.90 162.40,458.00 162.90,459.49 163.40,460.50 163.90,461.16 164.40,461.57 164.90,461.81 165.40,461.95 165.90,462.03 166.40,462.06 166.90,462.08 167.40,462.09 167.90,462.10 168.40,462.10 168.90,462.10 169.40,462.10 169.90,462.10 170.40,462.10 170.90,462.10 171.40,462.10 171.90,462.10 172.40,462.10 172.90,462.10 173.40,462.10 173.90,462.10 174.40,462.10 174.90,462.10 175.40,462.10 175.90,462.10 176.40,462.10 176.90,462.10 177.40,462.10 177.90,462.10 178.40,462.10 178.90,462.10 179.40,462.10 179.90,462.10 180.40,462.10 180.90,462.10 181.40,462.10 181.90,462.10 182.40,462.10 182.90,462.10 183.40,462.10 183.90,462.10 184.40,462.10 184.90,462.10 185.40,462.10 185.90,462.10 186.40,462.10 186.90,462.10 187.40,462.10 187.90,462.10 188.40,462.10 188.90,462.10 189.40,462.10 189.90,462.10 190.40,462.10 190.90,462.10 191.40,462.10 191.90,462.10 192.40,462.10 192.90,462.10 193.40,462.10 193.90,462.10 194.40,462.10 194.90,462.10 195.40,462.10 195.90,462.10 196.40,462.10 196.90,462.10 197.40,462.10 197.90,462.10 198.40,462.10 198.90,462.10 199.40,462.10 199.90,462.10 200.40,462.10 200.90,462.10 201.40,462.10 201.90,462.10 202.40,462.10 202.90,462.10 203.40,462.10 203.90,462.10 204.40,462.10" fill="none" stroke="#8e8e8e" stroke-width="0.6" stroke-linejoin="round" />
<polyline points="154.40,461.23 154.90,460.64 155.40,459.73 155.90,458.40 156.40,456.52 156.90,453.99 157.40,450.74 157.90,446.77 158.40,442.17 158.90,437.13 159.40,431.94 159.90,427.00 160.40,422.74 160.90,419.56 161.40,417.80 161.90,417.60 162.40,418.70 162.90,420.93 163.40,424.12 163.90,428.02 164.40,432.35 164.90,436.85 165.40,441.25 165.90,445.36 166.40,449.03 166.90,452.17 167.40,454.76 167.90,456.83 168.40,458.42 168.90,459.60 169.40,460.44 169.90,461.04 170.40,461.43 170.90,461.70 171.40,461.86 171.90,461.96 172.40,462.02 172.90,462.06 173.40,462.08 173.90,462.09 174.40,462.09 174.90,462.10 175.40,462.10 175.90,462.10 176.40,462.10 176.90,462.10 177.40,462.10 177.90,462.10 178.40,462.10 178.90,462.10 179.40,462.10 179.90,462.10 180.40,462.10 180.90,462.10 181.40,462.10 181.90,462.10 182.40,462.10 182.90,462.10 183.40,462.10 183.90,462.10 184.40,462.10 184.90,462.10 185.40,462.10 185.90,462.10 186.40,462.10 186.90,462.10 187.40,462.10 187.90,462.10 188.40,462.10 188.90,462.10 189.40,462.10 189.90,462.10 190.40,462.10 190.90,462.10 191.40,462.10 191.90,462.10 192.40,462.10 192.90,462.10 193.40,462.10 193.90,462.10 194.40,462.10 194.90,462.10 195.40,462.10 195.90,462.10 196.40,462.10 196.90,462.10 197.40,462.10 197.90,462.10 198.40,462.10 198.90,462.10 199.40,462.10 199.90,462.10 200.40,462.10 200.90,462.10 201.40,462.10 201.90,462.10 202.40,462.10 202.90,462.10 203.40,462.10 203.90,462.10 204.40,462.10" fill="none" stroke="#444" stroke-width="0.7" stroke-linejoin="round" />
</g>
<text x="177.50" y="424.00" font-size="10.2" fill="#111" stroke="#111" stroke-width="0.22" textLength="24.50" lengthAdjust="spacingAndGlyphs" >CD81</text>
<rect x="206.50" y="413.50" width="50.30" height="49.80" fill="#fff" stroke="#8a8a8a" stroke-width="0.8" />
<clipPath id="c385"><rect x="207.00" y="413.50" width="49.30" height="49.80"/></clipPath>
<g clip-path="url(#c385)">
<polyline points="206.50,444.62 207.00,445.37 207.50,447.06 208.00,449.39 208.50,451.44 209.00,449.69 209.50,447.78 210.00,445.72 210.50,443.52 211.00,441.20 211.50,438.80 212.00,436.34 212.50,433.87 213.00,431.42 213.50,429.04 214.00,426.79 214.50,424.70 215.00,422.83 215.50,421.21 216.00,419.89 216.50,418.91 217.00,418.27 217.50,418.01 218.00,418.24 218.50,419.22 219.00,420.89 219.50,423.18 220.00,425.97 220.50,429.14 221.00,432.55 221.50,436.06 222.00,439.54 222.50,442.90 223.00,446.03 223.50,448.89 224.00,451.42 224.50,453.62 225.00,455.48 225.50,457.02 226.00,458.27 226.50,459.26 227.00,460.03 227.50,460.62 228.00,461.06 228.50,461.38 229.00,461.61 229.50,461.77 230.00,461.89 230.50,461.96 231.00,462.01 231.50,462.05 232.00,462.07 232.50,462.08 233.00,462.09 233.50,462.09 234.00,462.10 234.50,462.10 235.00,462.10 235.50,462.10 236.00,462.10 236.50,462.10 237.00,462.10 237.50,462.10 238.00,462.10 238.50,462.10 239.00,462.10 239.50,462.10 240.00,462.10 240.50,462.10 241.00,462.10 241.50,462.10 242.00,462.10 242.50,462.10 243.00,462.10 243.50,462.10 244.00,462.10 244.50,462.10 245.00,462.10 245.50,462.10 246.00,462.10 246.50,462.10 247.00,462.10 247.50,462.10 248.00,462.10 248.50,462.10 249.00,462.10 249.50,462.10 250.00,462.10 250.50,462.10 251.00,462.10 251.50,462.10 252.00,462.10 252.50,462.10 253.00,462.10 253.50,462.10 254.00,462.10 254.50,462.10 255.00,462.10 255.50,462.10 256.00,462.10 256.50,462.10" fill="none" stroke="#8e8e8e" stroke-width="0.6" stroke-linejoin="round" />
<polyline points="206.50,462.10 207.00,462.10 207.50,462.10 208.00,462.10 208.50,462.10 209.00,462.10 209.50,462.10 210.00,462.10 210.50,462.10 211.00,462.10 211.50,462.10 212.00,462.10 212.50,462.10 213.00,462.10 213.50,462.10 214.00,462.10 214.50,462.10 215.00,462.10 215.50,462.10 216.00,462.10 216.50,462.10 217.00,462.10 217.50,462.10 218.00,462.10 218.50,462.10 219.00,462.10 219.50,462.10 220.00,462.10 220.50,462.09 221.00,462.08 221.50,462.06 222.00,462.03 222.50,461.97 223.00,461.87 223.50,461.71 224.00,461.45 224.50,461.06 225.00,460.46 225.50,459.61 226.00,458.43 226.50,456.84 227.00,454.78 227.50,452.21 228.00,449.14 228.50,445.61 229.00,441.74 229.50,437.69 230.00,433.70 230.50,430.02 231.00,426.92 231.50,424.65 232.00,423.41 232.50,423.29 233.00,424.24 233.50,426.19 234.00,428.97 234.50,432.37 235.00,436.15 235.50,440.08 236.00,443.92 236.50,447.50 237.00,450.70 237.50,453.44 238.00,455.70 238.50,457.50 239.00,458.89 239.50,459.92 240.00,460.66 240.50,461.17 241.00,461.52 241.50,461.75 242.00,461.89 242.50,461.98 243.00,462.03 243.50,462.06 244.00,462.08 244.50,462.09 245.00,462.10 245.50,462.10 246.00,462.10 246.50,462.10 247.00,462.10 247.50,462.10 248.00,462.10 248.50,462.10 249.00,462.10 249.50,462.10 250.00,462.10 250.50,462.10 251.00,462.10 251.50,462.10 252.00,462.10 252.50,462.10 253.00,462.10 253.50,462.10 254.00,462.10 254.50,462.10 255.00,462.10 255.50,462.10 256.00,462.10 256.50,462.10" fill="none" stroke="#444" stroke-width="0.7" stroke-linejoin="round" />
</g>
<text x="229.90" y="424.00" font-size="10.2" fill="#111" stroke="#111" stroke-width="0.22" textLength="24.60" lengthAdjust="spacingAndGlyphs" >CD82</text>
<text x="273.69" y="213.50" font-size="18" font-weight="bold" fill="#000">D</text>
<line x1="352.30" y1="227.40" x2="477.20" y2="227.40" stroke="#777" stroke-width="0.6" stroke-dasharray="2 1.2"/>
<line x1="352.30" y1="256.60" x2="477.20" y2="256.60" stroke="#777" stroke-width="0.6" stroke-dasharray="2 1.2"/>
<line x1="352.30" y1="285.90" x2="477.20" y2="285.90" stroke="#777" stroke-width="0.6" stroke-dasharray="2 1.2"/>
<line x1="352.30" y1="315.20" x2="477.20" y2="315.20" stroke="#777" stroke-width="0.6" stroke-dasharray="2 1.2"/>
<rect x="352.30" y="213.00" width="124.90" height="131.50" fill="none" stroke="#3c3c3c" stroke-width="0.95" />
<rect x="359.50" y="248.30" width="17.50" height="96.20" fill="#7f7f7f" stroke="#333" stroke-width="0.8" />
<line x1="368.25" y1="248.30" x2="368.25" y2="239.00" stroke="#333" stroke-width="0.8" />
<line x1="366.05" y1="239.00" x2="370.45" y2="239.00" stroke="#333" stroke-width="0.8" />
<rect x="390.00" y="305.60" width="17.00" height="38.90" fill="#fff" stroke="#333" stroke-width="0.8" />
<line x1="398.50" y1="305.60" x2="398.50" y2="299.00" stroke="#333" stroke-width="0.8" />
<line x1="396.30" y1="299.00" x2="400.70" y2="299.00" stroke="#333" stroke-width="0.8" />
<rect x="421.00" y="323.30" width="17.00" height="21.20" fill="#fff" stroke="#333" stroke-width="0.8" />
<line x1="429.50" y1="323.30" x2="429.50" y2="321.50" stroke="#333" stroke-width="0.8" />
<line x1="427.30" y1="321.50" x2="431.70" y2="321.50" stroke="#333" stroke-width="0.8" />
<rect x="452.70" y="284.60" width="17.20" height="59.90" fill="#fff" stroke="#333" stroke-width="0.8" />
<line x1="461.30" y1="284.60" x2="461.30" y2="273.00" stroke="#333" stroke-width="0.8" />
<line x1="459.10" y1="273.00" x2="463.50" y2="273.00" stroke="#333" stroke-width="0.8" />
<text x="326.10" y="230.80" font-size="9.4" fill="#111" stroke="#111" stroke-width="0.22" textLength="16.40" lengthAdjust="spacingAndGlyphs" >800</text>
<line x1="349.30" y1="227.40" x2="352.30" y2="227.40" stroke="#444" stroke-width="0.8" />
<text x="326.10" y="260.00" font-size="9.4" fill="#111" stroke="#111" stroke-width="0.22" textLength="16.40" lengthAdjust="spacingAndGlyphs" >600</text>
<line x1="349.30" y1="256.60" x2="352.30" y2="256.60" stroke="#444" stroke-width="0.8" />
<text x="326.10" y="289.30" font-size="9.4" fill="#111" stroke="#111" stroke-width="0.22" textLength="16.40" lengthAdjust="spacingAndGlyphs" >400</text>
<line x1="349.30" y1="285.90" x2="352.30" y2="285.90" stroke="#444" stroke-width="0.8" />
<text x="326.10" y="318.60" font-size="9.4" fill="#111" stroke="#111" stroke-width="0.22" textLength="16.40" lengthAdjust="spacingAndGlyphs" >200</text>
<line x1="349.30" y1="315.20" x2="352.30" y2="315.20" stroke="#444" stroke-width="0.8" />
<text x="337.00" y="347.90" font-size="9.4" fill="#111" stroke="#111" stroke-width="0.22" textLength="5.50" lengthAdjust="spacingAndGlyphs" >0</text>
<line x1="349.30" y1="344.50" x2="352.30" y2="344.50" stroke="#444" stroke-width="0.8" />
<text x="0" y="0" font-size="10" fill="#111" textLength="103" lengthAdjust="spacingAndGlyphs" transform="translate(317.2 335.5) rotate(-90)">Rituximab binding (MFI)</text>
<text x="358.50" y="355.00" font-size="10.2" fill="#111" stroke="#111" stroke-width="0.22" textLength="17.50" lengthAdjust="spacingAndGlyphs" >Ctrl</text>
<text x="393.00" y="355.00" font-size="10.2" fill="#111" stroke="#111" stroke-width="0.22" textLength="10.60" lengthAdjust="spacingAndGlyphs" >50</text>
<text x="421.30" y="355.00" font-size="10.2" fill="#111" stroke="#111" stroke-width="0.22" textLength="15.90" lengthAdjust="spacingAndGlyphs" >100</text>
<text x="453.50" y="355.00" font-size="10.2" fill="#111" stroke="#111" stroke-width="0.22" textLength="15.50" lengthAdjust="spacingAndGlyphs" >CLL</text>
<line x1="389.40" y1="357.80" x2="440.30" y2="357.80" stroke="#444" stroke-width="0.7" />
<text x="406.20" y="368.40" font-size="10.2" fill="#111" stroke="#111" stroke-width="0.22" textLength="16.40" lengthAdjust="spacingAndGlyphs" >Exo</text>
<text x="444.70" y="368.40" font-size="10.2" fill="#111" stroke="#111" stroke-width="0.22" textLength="31.00" lengthAdjust="spacingAndGlyphs" >plasma</text>
<polyline points="367.30,221.30 367.30,219.40 459.80,219.40 459.80,221.30" fill="none" stroke="#222" stroke-width="0.9" stroke-linejoin="round" />
<text x="411.00" y="222.00" font-size="9" fill="#000" stroke="#000" stroke-width="0.22" textLength="12.00" lengthAdjust="spacingAndGlyphs" font-weight="bold" >***</text>
<polyline points="367.30,228.80 367.30,226.90 429.50,226.90 429.50,228.80" fill="none" stroke="#222" stroke-width="0.9" stroke-linejoin="round" />
<text x="393.40" y="229.50" font-size="9" fill="#000" stroke="#000" stroke-width="0.22" textLength="12.00" lengthAdjust="spacingAndGlyphs" font-weight="bold" >***</text>
<polyline points="367.30,235.70 367.30,233.80 398.50,233.80 398.50,235.70" fill="none" stroke="#222" stroke-width="0.9" stroke-linejoin="round" />
<text x="376.90" y="236.40" font-size="9" fill="#000" stroke="#000" stroke-width="0.22" textLength="12.00" lengthAdjust="spacingAndGlyphs" font-weight="bold" >***</text>
<text x="273.89" y="393.10" font-size="18" font-weight="bold" fill="#000">E</text>
<rect x="308.00" y="404.00" width="37.00" height="23.80" fill="#e6e6e6" stroke="#555" stroke-width="0.8" />
<rect x="348.00" y="404.00" width="36.80" height="23.80" fill="#ededed" stroke="#555" stroke-width="0.8" />
<rect x="388.00" y="404.00" width="36.40" height="23.80" fill="#e9e9e9" stroke="#555" stroke-width="0.8" />
<rect x="428.00" y="404.00" width="36.80" height="23.80" fill="#ececec" stroke="#555" stroke-width="0.8" />
<rect x="467.50" y="404.00" width="37.20" height="23.80" fill="#e4e4e4" stroke="#555" stroke-width="0.8" />
<rect x="308.00" y="445.30" width="37.00" height="24.50" fill="#c6c6c6" stroke="#555" stroke-width="0.8" />
<rect x="348.00" y="445.30" width="36.80" height="24.50" fill="#e6e6e6" stroke="#555" stroke-width="0.8" />
<rect x="388.00" y="445.30" width="36.40" height="24.50" fill="#ececec" stroke="#555" stroke-width="0.8" />
<rect x="428.00" y="445.30" width="36.80" height="24.50" fill="#cdcdcd" stroke="#555" stroke-width="0.8" />
<rect x="467.50" y="445.30" width="37.20" height="24.50" fill="#b2b2b2" stroke="#555" stroke-width="0.8" />
<rect x="312.75" y="412.20" width="13.50" height="6.60" rx="2.50" fill="#0a0a0a" opacity="1.0" filter="url(#b1)"/>
<rect x="325.50" y="412.60" width="12.00" height="6.40" rx="2.50" fill="#0a0a0a" opacity="1.0" filter="url(#b1)"/>
<rect x="327.00" y="418.50" width="9.00" height="5.00" rx="2.50" fill="#0a0a0a" opacity="0.2" filter="url(#b15)"/>
<rect x="328.50" y="424.20" width="7.00" height="1.60" rx="0.80" fill="#0a0a0a" opacity="0.4" filter="url(#b1)"/>
<rect x="352.00" y="412.20" width="9.00" height="3.20" rx="1.60" fill="#0a0a0a" opacity="0.6" filter="url(#b1)"/>
<rect x="364.25" y="416.20" width="11.50" height="2.60" rx="1.30" fill="#0a0a0a" opacity="0.95" filter="url(#b05)"/>
<rect x="395.00" y="413.50" width="9.00" height="2.20" rx="1.10" fill="#0a0a0a" opacity="0.9" filter="url(#b05)"/>
<rect x="394.75" y="417.35" width="9.50" height="6.50" rx="2.50" fill="#0a0a0a" opacity="1.0" filter="url(#b1)"/>
<rect x="406.25" y="413.90" width="9.50" height="2.20" rx="1.10" fill="#0a0a0a" opacity="0.9" filter="url(#b05)"/>
<rect x="405.75" y="417.60" width="10.50" height="6.00" rx="2.50" fill="#0a0a0a" opacity="1.0" filter="url(#b1)"/>
<rect x="433.95" y="413.60" width="10.50" height="3.60" rx="1.80" fill="#0a0a0a" opacity="1.0" filter="url(#b1)"/>
<rect x="447.20" y="414.60" width="9.00" height="2.00" rx="1.00" fill="#0a0a0a" opacity="0.7" filter="url(#b05)"/>
<rect x="473.00" y="411.50" width="8.60" height="7.60" rx="2.50" fill="#0a0a0a" opacity="0.92" filter="url(#b1)"/>
<rect x="484.65" y="414.00" width="9.50" height="4.00" rx="2.00" fill="#0a0a0a" opacity="0.6" filter="url(#b1)"/>
<rect x="498.50" y="417.00" width="3.00" height="2.00" rx="1.00" fill="#0a0a0a" opacity="0.15" filter="url(#b1)"/>
<rect x="312.25" y="453.70" width="14.50" height="4.60" rx="2.30" fill="#0a0a0a" opacity="1.0" filter="url(#b1)"/>
<rect x="330.25" y="453.70" width="12.50" height="4.60" rx="2.30" fill="#0a0a0a" opacity="1.0" filter="url(#b1)"/>
<rect x="313.50" y="448.80" width="11.00" height="1.40" rx="0.70" fill="#0a0a0a" opacity="0.3" filter="url(#b1)"/>
<rect x="332.50" y="462.40" width="9.00" height="1.20" rx="0.60" fill="#0a0a0a" opacity="0.2" filter="url(#b1)"/>
<rect x="355.25" y="455.00" width="10.50" height="6.00" rx="2.50" fill="#0a0a0a" opacity="0.95" filter="url(#b1)"/>
<rect x="368.95" y="454.40" width="9.50" height="6.40" rx="2.50" fill="#0a0a0a" opacity="0.95" filter="url(#b1)"/>
<rect x="356.50" y="450.35" width="7.00" height="1.30" rx="0.65" fill="#0a0a0a" opacity="0.25" filter="url(#b1)"/>
<rect x="398.45" y="457.40" width="5.50" height="2.20" rx="1.10" fill="#0a0a0a" opacity="0.3" filter="url(#b1)"/>
<rect x="408.55" y="454.90" width="11.50" height="3.40" rx="1.70" fill="#0a0a0a" opacity="0.98" filter="url(#b05)"/>
<rect x="431.20" y="452.30" width="16.00" height="5.40" rx="2.50" fill="#0a0a0a" opacity="1.0" filter="url(#b1)"/>
<rect x="450.15" y="453.40" width="10.50" height="3.60" rx="1.80" fill="#0a0a0a" opacity="0.95" filter="url(#b1)"/>
<rect x="470.05" y="456.80" width="17.50" height="7.60" rx="2.50" fill="#0a0a0a" opacity="1.0" filter="url(#b1)"/>
<rect x="490.00" y="457.20" width="11.00" height="5.60" rx="2.50" fill="#0a0a0a" opacity="1.0" filter="url(#b1)"/>
<text x="311.00" y="438.80" font-size="10.2" fill="#111" stroke="#111" stroke-width="0.22" textLength="27.00" lengthAdjust="spacingAndGlyphs" >BCL-2</text>
<text x="350.50" y="438.80" font-size="10.2" fill="#111" stroke="#111" stroke-width="0.22" textLength="32.00" lengthAdjust="spacingAndGlyphs" >BCL-XL</text>
<text x="391.30" y="438.80" font-size="10.2" fill="#111" stroke="#111" stroke-width="0.22" textLength="29.10" lengthAdjust="spacingAndGlyphs" >MCL-1</text>
<text x="436.00" y="438.80" font-size="10.2" fill="#111" stroke="#111" stroke-width="0.22" textLength="21.50" lengthAdjust="spacingAndGlyphs" >XIAP</text>
<text x="472.00" y="438.80" font-size="10.2" fill="#111" stroke="#111" stroke-width="0.22" textLength="26.50" lengthAdjust="spacingAndGlyphs" >AGO2</text>
<text x="309.50" y="481.20" font-size="10.2" fill="#111" stroke="#111" stroke-width="0.22" textLength="33.00" lengthAdjust="spacingAndGlyphs" >PKC-β2</text>
<text x="356.00" y="481.20" font-size="10.2" fill="#111" stroke="#111" stroke-width="0.22" textLength="21.50" lengthAdjust="spacingAndGlyphs" >TCL1</text>
<text x="394.80" y="481.20" font-size="10.2" fill="#111" stroke="#111" stroke-width="0.22" textLength="24.20" lengthAdjust="spacingAndGlyphs" >VEGF</text>
<text x="431.00" y="481.20" font-size="10.2" fill="#111" stroke="#111" stroke-width="0.22" textLength="29.80" lengthAdjust="spacingAndGlyphs" >HSP72</text>
<text x="468.30" y="481.20" font-size="10.2" fill="#111" stroke="#111" stroke-width="0.22" textLength="36.10" lengthAdjust="spacingAndGlyphs" >HSP90A</text>
<text font-size="10" fill="#111" textLength="21.5" lengthAdjust="spacingAndGlyphs" transform="translate(318.0 400) rotate(-42)">Cells</text>
<text font-size="10" fill="#111" textLength="16.5" lengthAdjust="spacingAndGlyphs" transform="translate(331.5 401.2) rotate(-42)">Exo</text>
<text font-size="10" fill="#111" textLength="21.5" lengthAdjust="spacingAndGlyphs" transform="translate(358.0 400) rotate(-42)">Cells</text>
<text font-size="10" fill="#111" textLength="16.5" lengthAdjust="spacingAndGlyphs" transform="translate(371.5 401.2) rotate(-42)">Exo</text>
<text font-size="10" fill="#111" textLength="21.5" lengthAdjust="spacingAndGlyphs" transform="translate(398.0 400) rotate(-42)">Cells</text>
<text font-size="10" fill="#111" textLength="16.5" lengthAdjust="spacingAndGlyphs" transform="translate(411.5 401.2) rotate(-42)">Exo</text>
<text font-size="10" fill="#111" textLength="21.5" lengthAdjust="spacingAndGlyphs" transform="translate(438.0 400) rotate(-42)">Cells</text>
<text font-size="10" fill="#111" textLength="16.5" lengthAdjust="spacingAndGlyphs" transform="translate(451.5 401.2) rotate(-42)">Exo</text>
<text font-size="10" fill="#111" textLength="21.5" lengthAdjust="spacingAndGlyphs" transform="translate(477.5 400) rotate(-42)">Cells</text>
<text font-size="10" fill="#111" textLength="16.5" lengthAdjust="spacingAndGlyphs" transform="translate(491.0 401.2) rotate(-42)">Exo</text>
<text x="0.39" y="479.40" font-size="18" font-weight="bold" fill="#000">F</text>
<line x1="29.30" y1="475.00" x2="29.30" y2="521.60" stroke="#444" stroke-width="0.8" />
<line x1="29.30" y1="530.40" x2="29.30" y2="578.00" stroke="#444" stroke-width="0.8" />
<text font-size="10.2" fill="#111" textLength="20" lengthAdjust="spacingAndGlyphs" transform="translate(26.6 509.7) rotate(-90)">HS-5</text>
<text font-size="10.2" fill="#111" textLength="39" lengthAdjust="spacingAndGlyphs" transform="translate(26.6 578) rotate(-90)">HMEC-1</text>
<rect x="36.30" y="474.00" width="48.10" height="47.60" fill="#fff" stroke="#9a9a9a" stroke-width="0.7" />
<clipPath id="c498"><rect x="36.80" y="474.00" width="47.10" height="47.60"/></clipPath>
<g clip-path="url(#c498)">
<polyline points="36.30,520.40 36.30,520.40 36.80,520.40 37.30,520.40 37.80,520.40 38.30,520.40 38.80,520.40 39.30,520.40 39.80,520.40 40.30,520.40 40.80,520.40 41.30,520.40 41.80,520.40 42.30,520.40 42.80,520.40 43.30,520.39 43.80,520.38 44.30,520.36 44.80,520.31 45.30,520.22 45.80,520.05 46.30,519.74 46.80,519.23 47.30,518.40 47.80,517.13 48.30,515.29 48.80,512.74 49.30,509.42 49.80,505.33 50.30,500.59 50.80,495.47 51.30,490.36 51.80,485.73 52.30,482.09 52.80,479.87 53.30,479.33 53.80,480.23 54.30,482.35 54.80,485.49 55.30,489.38 55.80,493.69 56.30,498.13 56.80,502.42 57.30,506.33 57.80,509.74 58.30,512.58 58.80,514.84 59.30,516.57 59.80,517.85 60.30,518.75 60.80,519.37 61.30,519.77 61.80,520.03 62.30,520.19 62.80,520.28 63.30,520.34 63.80,520.37 64.30,520.38 64.80,520.39 65.30,520.40 65.80,520.40 66.30,520.40 66.80,520.40 67.30,520.40 67.80,520.40 68.30,520.40 68.80,520.40 69.30,520.40 69.80,520.40 70.30,520.40 70.80,520.40 71.30,520.40 71.80,520.40 72.30,520.40 72.80,520.40 73.30,520.40 73.80,520.40 74.30,520.40 74.80,520.40 75.30,520.40 75.80,520.40 76.30,520.40 76.80,520.40 77.30,520.40 77.80,520.40 78.30,520.40 78.80,520.40 79.30,520.40 79.80,520.40 80.30,520.40 80.80,520.40 81.30,520.40 81.80,520.40 82.30,520.40 82.80,520.40 83.30,520.40 83.80,520.40 84.30,520.40 84.40,520.40" fill="#b9b9b9" stroke="none" stroke-width="0" stroke-linejoin="round" />
<polyline points="36.30,520.40 36.80,520.40 37.30,520.40 37.80,520.40 38.30,520.40 38.80,520.40 39.30,520.40 39.80,520.40 40.30,520.40 40.80,520.40 41.30,520.40 41.80,520.40 42.30,520.40 42.80,520.40 43.30,520.40 43.80,520.40 44.30,520.40 44.80,520.40 45.30,520.40 45.80,520.40 46.30,520.40 46.80,520.40 47.30,520.40 47.80,520.40 48.30,520.40 48.80,520.40 49.30,520.40 49.80,520.40 50.30,520.40 50.80,520.40 51.30,520.40 51.80,520.40 52.30,520.40 52.80,520.40 53.30,520.40 53.80,520.40 54.30,520.40 54.80,520.40 55.30,520.40 55.80,520.40 56.30,520.40 56.80,520.39 57.30,520.39 57.80,520.38 58.30,520.37 58.80,520.35 59.30,520.32 59.80,520.27 60.30,520.21 60.80,520.10 61.30,519.96 61.80,519.75 62.30,519.46 62.80,519.06 63.30,518.53 63.80,517.84 64.30,516.94 64.80,515.81 65.30,514.42 65.80,512.75 66.30,510.76 66.80,508.48 67.30,505.90 67.80,503.07 68.30,500.04 68.80,496.90 69.30,493.73 69.80,490.65 70.30,487.80 70.80,485.28 71.30,483.21 71.80,481.70 72.30,480.82 72.80,480.62 73.30,481.25 73.80,482.75 74.30,485.01 74.80,487.90 75.30,491.22 75.80,494.80 76.30,498.45 76.80,502.01 77.30,505.34 77.80,508.34 78.30,510.97 78.80,513.19 79.30,515.01 79.80,516.47 80.30,517.59 80.80,518.44 81.30,519.07 81.80,519.51 82.30,519.82 82.80,520.03 83.30,520.17 83.80,520.26 84.30,520.32" fill="none" stroke="#444" stroke-width="0.7" stroke-linejoin="round" />
</g>
<text x="37.8" y="526.1" font-size="2.8" fill="#777">10</text>
<text x="48.1" y="526.1" font-size="2.8" fill="#777">10</text>
<text x="58.4" y="526.1" font-size="2.8" fill="#777">10</text>
<text x="68.6" y="526.1" font-size="2.8" fill="#777">10</text>
<text x="78.9" y="526.1" font-size="2.8" fill="#777">10</text>
<rect x="88.30" y="474.00" width="47.90" height="47.60" fill="#fff" stroke="#9a9a9a" stroke-width="0.7" />
<clipPath id="c509"><rect x="88.80" y="474.00" width="46.90" height="47.60"/></clipPath>
<g clip-path="url(#c509)">
<polyline points="88.30,520.40 88.80,520.40 89.30,520.40 89.80,520.40 90.30,520.39 90.80,520.38 91.30,520.35 91.80,520.29 92.30,520.18 92.80,519.97 93.30,519.62 93.80,519.03 94.30,518.11 94.80,516.73 95.30,514.76 95.80,512.10 96.30,508.70 96.80,504.61 97.30,500.01 97.80,495.17 98.30,490.52 98.80,486.51 99.30,483.60 99.80,482.13 100.30,482.25 100.80,483.78 101.30,486.51 101.80,490.18 102.30,494.43 102.80,498.90 103.30,503.24 103.80,507.20 104.30,510.62 104.80,513.41 105.30,515.59 105.80,517.21 106.30,518.36 106.80,519.14 107.30,519.65 107.80,519.97 108.30,520.16 108.80,520.28 109.30,520.34 109.80,520.37 110.30,520.38 110.80,520.39 111.30,520.40 111.80,520.40 112.30,520.40 112.80,520.40 113.30,520.40 113.80,520.40 114.30,520.40 114.80,520.40 115.30,520.40 115.80,520.40 116.30,520.40 116.80,520.40 117.30,520.40 117.80,520.40 118.30,520.40 118.80,520.40 119.30,520.40 119.80,520.40 120.30,520.40 120.80,520.40 121.30,520.40 121.80,520.40 122.30,520.40 122.80,520.40 123.30,520.40 123.80,520.40 124.30,520.40 124.80,520.40 125.30,520.40 125.80,520.40 126.30,520.40 126.80,520.40 127.30,520.40 127.80,520.40 128.30,520.40 128.80,520.40 129.30,520.40 129.80,520.40 130.30,520.40 130.80,520.40 131.30,520.40 131.80,520.40 132.30,520.40 132.80,520.40 133.30,520.40 133.80,520.40 134.30,520.40 134.80,520.40 135.30,520.40 135.80,520.40" fill="none" stroke="#a6a6a6" stroke-width="0.6" stroke-linejoin="round" />
<polyline points="88.30,520.40 88.30,520.40 88.80,520.40 89.30,520.40 89.80,520.40 90.30,520.40 90.80,520.40 91.30,520.40 91.80,520.40 92.30,520.40 92.80,520.40 93.30,520.40 93.80,520.40 94.30,520.40 94.80,520.40 95.30,520.39 95.80,520.38 96.30,520.35 96.80,520.31 97.30,520.21 97.80,520.04 98.30,519.74 98.80,519.25 99.30,518.47 99.80,517.30 100.30,515.64 100.80,513.39 101.30,510.53 101.80,507.08 102.30,503.19 102.80,499.11 103.30,495.19 103.80,491.81 104.30,489.35 104.80,488.11 105.30,488.21 105.80,489.50 106.30,491.81 106.80,494.90 107.30,498.49 107.80,502.26 108.30,505.92 108.80,509.26 109.30,512.15 109.80,514.51 110.30,516.34 110.80,517.71 111.30,518.68 111.80,519.34 112.30,519.77 112.80,520.04 113.30,520.20 113.80,520.29 114.30,520.35 114.80,520.37 115.30,520.39 115.80,520.39 116.30,520.40 116.80,520.40 117.30,520.40 117.80,520.40 118.30,520.40 118.80,520.40 119.30,520.40 119.80,520.40 120.30,520.40 120.80,520.40 121.30,520.40 121.80,520.40 122.30,520.40 122.80,520.40 123.30,520.40 123.80,520.40 124.30,520.40 124.80,520.40 125.30,520.40 125.80,520.40 126.30,520.40 126.80,520.40 127.30,520.40 127.80,520.40 128.30,520.40 128.80,520.40 129.30,520.40 129.80,520.40 130.30,520.40 130.80,520.40 131.30,520.40 131.80,520.40 132.30,520.40 132.80,520.40 133.30,520.40 133.80,520.40 134.30,520.40 134.80,520.40 135.30,520.40 135.80,520.40 136.20,520.40" fill="#b9b9b9" stroke="none" stroke-width="0" stroke-linejoin="round" />
<polyline points="88.30,520.40 88.80,520.40 89.30,520.40 89.80,520.40 90.30,520.40 90.80,520.40 91.30,520.40 91.80,520.40 92.30,520.40 92.80,520.40 93.30,520.40 93.80,520.40 94.30,520.39 94.80,520.39 95.30,520.38 95.80,520.36 96.30,520.34 96.80,520.29 97.30,520.22 97.80,520.12 98.30,519.96 98.80,519.72 99.30,519.37 99.80,518.89 100.30,518.22 100.80,517.33 101.30,516.16 101.80,514.68 102.30,512.76 102.80,510.49 103.30,507.88 103.80,504.85 104.30,501.24 104.80,497.58 105.30,494.65 105.80,492.10 106.30,488.82 106.80,486.23 107.30,484.22 107.80,481.52 108.30,480.72 108.80,481.27 109.30,481.80 109.80,480.54 110.30,482.41 110.80,483.35 111.30,482.78 111.80,484.62 112.30,485.04 112.80,486.83 113.30,489.21 113.80,490.86 114.30,490.78 114.80,493.83 115.30,494.94 115.80,495.83 116.30,497.76 116.80,500.34 117.30,501.28 117.80,502.59 118.30,504.92 118.80,505.61 119.30,507.52 119.80,508.72 120.30,509.74 120.80,510.87 121.30,512.11 121.80,513.15 122.30,513.84 122.80,514.85 123.30,515.58 123.80,516.23 124.30,516.81 124.80,517.32 125.30,517.78 125.80,518.18 126.30,518.52 126.80,518.82 127.30,519.08 127.80,519.30 128.30,519.49 128.80,519.65 129.30,519.79 129.80,519.90 130.30,519.99 130.80,520.07 131.30,520.13 131.80,520.19 132.30,520.23 132.80,520.27 133.30,520.29 133.80,520.32 134.30,520.34 134.80,520.35 135.30,520.36 135.80,520.37" fill="none" stroke="#444" stroke-width="0.7" stroke-linejoin="round" />
</g>
<text x="89.8" y="526.1" font-size="2.8" fill="#777">10</text>
<text x="100.0" y="526.1" font-size="2.8" fill="#777">10</text>
<text x="110.2" y="526.1" font-size="2.8" fill="#777">10</text>
<text x="120.5" y="526.1" font-size="2.8" fill="#777">10</text>
<text x="130.7" y="526.1" font-size="2.8" fill="#777">10</text>
<rect x="140.60" y="474.00" width="48.00" height="47.60" fill="#fff" stroke="#9a9a9a" stroke-width="0.7" />
<clipPath id="c521"><rect x="141.10" y="474.00" width="47.00" height="47.60"/></clipPath>
<g clip-path="url(#c521)">
<polyline points="140.60,520.40 141.10,520.40 141.60,520.40 142.10,520.40 142.60,520.40 143.10,520.39 143.60,520.38 144.10,520.36 144.60,520.31 145.10,520.23 145.60,520.06 146.10,519.77 146.60,519.27 147.10,518.48 147.60,517.27 148.10,515.50 148.60,513.06 149.10,509.88 149.60,505.96 150.10,501.41 150.60,496.50 151.10,491.60 151.60,487.16 152.10,483.68 152.60,481.54 153.10,481.03 153.60,482.04 154.10,484.37 154.60,487.80 155.10,491.97 155.60,496.50 156.10,501.04 156.60,505.29 157.10,509.04 157.60,512.16 158.10,514.65 158.60,516.53 159.10,517.89 159.60,518.83 160.10,519.45 160.60,519.85 161.10,520.09 161.60,520.23 162.10,520.31 162.60,520.36 163.10,520.38 163.60,520.39 164.10,520.40 164.60,520.40 165.10,520.40 165.60,520.40 166.10,520.40 166.60,520.40 167.10,520.40 167.60,520.40 168.10,520.40 168.60,520.40 169.10,520.40 169.60,520.40 170.10,520.40 170.60,520.40 171.10,520.40 171.60,520.40 172.10,520.40 172.60,520.40 173.10,520.40 173.60,520.40 174.10,520.40 174.60,520.40 175.10,520.40 175.60,520.40 176.10,520.40 176.60,520.40 177.10,520.40 177.60,520.40 178.10,520.40 178.60,520.40 179.10,520.40 179.60,520.40 180.10,520.40 180.60,520.40 181.10,520.40 181.60,520.40 182.10,520.40 182.60,520.40 183.10,520.40 183.60,520.40 184.10,520.40 184.60,520.40 185.10,520.40 185.60,520.40 186.10,520.40 186.60,520.40 187.10,520.40 187.60,520.40 188.10,520.40 188.60,520.40" fill="none" stroke="#a6a6a6" stroke-width="0.6" stroke-linejoin="round" />
<polyline points="140.60,520.40 140.60,520.40 141.10,520.40 141.60,520.40 142.10,520.40 142.60,520.40 143.10,520.40 143.60,520.40 144.10,520.40 144.60,520.40 145.10,520.40 145.60,520.40 146.10,520.40 146.60,520.39 147.10,520.38 147.60,520.36 148.10,520.31 148.60,520.22 149.10,520.07 149.60,519.81 150.10,519.38 150.60,518.70 151.10,517.68 151.60,516.23 152.10,514.25 152.60,511.70 153.10,508.56 153.60,504.92 154.10,500.95 154.60,496.93 155.10,493.19 155.60,490.08 156.10,487.95 156.60,487.03 157.10,487.36 157.60,488.80 158.10,491.20 158.60,494.33 159.10,497.90 159.60,501.64 160.10,505.28 160.60,508.63 161.10,511.55 161.60,513.96 162.10,515.88 162.60,517.33 163.10,518.39 163.60,519.12 164.10,519.62 164.60,519.94 165.10,520.14 165.60,520.25 166.10,520.32 166.60,520.36 167.10,520.38 167.60,520.39 168.10,520.40 168.60,520.40 169.10,520.40 169.60,520.40 170.10,520.40 170.60,520.40 171.10,520.40 171.60,520.40 172.10,520.40 172.60,520.40 173.10,520.40 173.60,520.40 174.10,520.40 174.60,520.40 175.10,520.40 175.60,520.40 176.10,520.40 176.60,520.40 177.10,520.40 177.60,520.40 178.10,520.40 178.60,520.40 179.10,520.40 179.60,520.40 180.10,520.40 180.60,520.40 181.10,520.40 181.60,520.40 182.10,520.40 182.60,520.40 183.10,520.40 183.60,520.40 184.10,520.40 184.60,520.40 185.10,520.40 185.60,520.40 186.10,520.40 186.60,520.40 187.10,520.40 187.60,520.40 188.10,520.40 188.60,520.40 188.60,520.40" fill="#b9b9b9" stroke="none" stroke-width="0" stroke-linejoin="round" />
<polyline points="140.60,520.40 141.10,520.40 141.60,520.40 142.10,520.40 142.60,520.40 143.10,520.40 143.60,520.40 144.10,520.40 144.60,520.40 145.10,520.40 145.60,520.39 146.10,520.39 146.60,520.39 147.10,520.38 147.60,520.36 148.10,520.34 148.60,520.31 149.10,520.26 149.60,520.19 150.10,520.08 150.60,519.93 151.10,519.73 151.60,519.45 152.10,519.08 152.60,518.58 153.10,517.94 153.60,517.13 154.10,516.11 154.60,514.87 155.10,513.46 155.60,511.44 156.10,509.72 156.60,507.47 157.10,504.81 157.60,502.48 158.10,498.47 158.60,496.40 159.10,493.88 159.60,490.48 160.10,488.42 160.60,486.81 161.10,483.19 161.60,483.43 162.10,481.31 162.60,480.37 163.10,480.42 163.60,481.93 164.10,482.90 164.60,483.40 165.10,482.83 165.60,485.04 166.10,487.29 166.60,488.42 167.10,489.27 167.60,490.12 168.10,491.67 168.60,494.19 169.10,496.01 169.60,497.43 170.10,498.61 170.60,500.68 171.10,501.85 171.60,503.63 172.10,505.21 172.60,506.21 173.10,508.04 173.60,509.64 174.10,510.46 174.60,511.91 175.10,512.62 175.60,513.44 176.10,514.50 176.60,515.28 177.10,515.98 177.60,516.60 178.10,517.15 178.60,517.64 179.10,518.06 179.60,518.43 180.10,518.75 180.60,519.03 181.10,519.26 181.60,519.46 182.10,519.63 182.60,519.77 183.10,519.89 183.60,519.99 184.10,520.07 184.60,520.13 185.10,520.19 185.60,520.23 186.10,520.27 186.60,520.30 187.10,520.32 187.60,520.34 188.10,520.35 188.60,520.36" fill="none" stroke="#444" stroke-width="0.7" stroke-linejoin="round" />
</g>
<text x="142.1" y="526.1" font-size="2.8" fill="#777">10</text>
<text x="152.3" y="526.1" font-size="2.8" fill="#777">10</text>
<text x="162.6" y="526.1" font-size="2.8" fill="#777">10</text>
<text x="172.8" y="526.1" font-size="2.8" fill="#777">10</text>
<text x="183.1" y="526.1" font-size="2.8" fill="#777">10</text>
<rect x="193.30" y="474.00" width="47.20" height="47.60" fill="#fff" stroke="#9a9a9a" stroke-width="0.7" />
<clipPath id="c533"><rect x="193.80" y="474.00" width="46.20" height="47.60"/></clipPath>
<g clip-path="url(#c533)">
<polyline points="193.30,520.40 193.80,520.40 194.30,520.40 194.80,520.40 195.30,520.40 195.80,520.39 196.30,520.39 196.80,520.37 197.30,520.35 197.80,520.31 198.30,520.23 198.80,520.09 199.30,519.86 199.80,519.50 200.30,518.95 200.80,518.13 201.30,516.95 201.80,515.32 202.30,513.16 202.80,510.42 203.30,507.05 203.80,503.12 204.30,498.73 204.80,494.08 205.30,489.43 205.80,485.10 206.30,481.43 206.80,478.74 207.30,477.25 207.80,477.08 208.30,478.03 208.80,479.95 209.30,482.71 209.80,486.13 210.30,490.00 210.80,494.08 211.30,498.16 211.80,502.06 212.30,505.64 212.80,508.81 213.30,511.52 213.80,513.76 214.30,515.55 214.80,516.95 215.30,518.00 215.80,518.77 216.30,519.32 216.80,519.70 217.30,519.96 217.80,520.13 218.30,520.24 218.80,520.31 219.30,520.35 219.80,520.37 220.30,520.38 220.80,520.39 221.30,520.40 221.80,520.40 222.30,520.40 222.80,520.40 223.30,520.40 223.80,520.40 224.30,520.40 224.80,520.40 225.30,520.40 225.80,520.40 226.30,520.40 226.80,520.40 227.30,520.40 227.80,520.40 228.30,520.40 228.80,520.40 229.30,520.40 229.80,520.40 230.30,520.40 230.80,520.40 231.30,520.40 231.80,520.40 232.30,520.40 232.80,520.40 233.30,520.40 233.80,520.40 234.30,520.40 234.80,520.40 235.30,520.40 235.80,520.40 236.30,520.40 236.80,520.40 237.30,520.40 237.80,520.40 238.30,520.40 238.80,520.40 239.30,520.40 239.80,520.40 240.30,520.40" fill="none" stroke="#a6a6a6" stroke-width="0.6" stroke-linejoin="round" />
<polyline points="193.30,520.40 193.30,520.40 193.80,520.40 194.30,520.40 194.80,520.40 195.30,520.40 195.80,520.40 196.30,520.40 196.80,520.40 197.30,520.39 197.80,520.39 198.30,520.38 198.80,520.36 199.30,520.33 199.80,520.27 200.30,520.17 200.80,520.02 201.30,519.77 201.80,519.39 202.30,518.83 202.80,518.02 203.30,516.90 203.80,515.39 204.30,513.43 204.80,510.96 205.30,507.97 205.80,504.49 206.30,500.58 206.80,496.40 207.30,492.12 207.80,488.00 208.30,484.29 208.80,481.26 209.30,479.14 209.80,478.09 210.30,478.15 210.80,479.03 211.30,480.68 211.80,482.98 212.30,485.83 212.80,489.07 213.30,492.55 213.80,496.11 214.30,499.62 214.80,502.97 215.30,506.05 215.80,508.82 216.30,511.23 216.80,513.28 217.30,514.97 217.80,516.35 218.30,517.43 218.80,518.26 219.30,518.89 219.80,519.36 220.30,519.69 220.80,519.93 221.30,520.09 221.80,520.20 222.30,520.28 222.80,520.32 223.30,520.35 223.80,520.37 224.30,520.38 224.80,520.39 225.30,520.39 225.80,520.40 226.30,520.40 226.80,520.40 227.30,520.40 227.80,520.40 228.30,520.40 228.80,520.40 229.30,520.40 229.80,520.40 230.30,520.40 230.80,520.40 231.30,520.40 231.80,520.40 232.30,520.40 232.80,520.40 233.30,520.40 233.80,520.40 234.30,520.40 234.80,520.40 235.30,520.40 235.80,520.40 236.30,520.40 236.80,520.40 237.30,520.40 237.80,520.40 238.30,520.40 238.80,520.40 239.30,520.40 239.80,520.40 240.30,520.40 240.50,520.40" fill="#b9b9b9" stroke="none" stroke-width="0" stroke-linejoin="round" />
<polyline points="193.30,520.40 193.80,520.40 194.30,520.40 194.80,520.40 195.30,520.40 195.80,520.40 196.30,520.40 196.80,520.39 197.30,520.38 197.80,520.37 198.30,520.34 198.80,520.30 199.30,520.23 199.80,520.12 200.30,519.95 200.80,519.69 201.30,519.30 201.80,518.73 202.30,517.94 202.80,516.87 203.30,515.44 203.80,513.60 204.30,511.31 204.80,508.54 205.30,505.30 205.80,501.64 206.30,497.65 206.80,493.47 207.30,489.30 207.80,485.35 208.30,481.84 208.80,479.01 209.30,477.05 209.80,476.09 210.30,476.13 210.80,476.92 211.30,478.40 211.80,480.49 212.30,483.09 212.80,486.09 213.30,489.36 213.80,492.78 214.30,496.22 214.80,499.58 215.30,502.77 215.80,505.71 216.30,508.36 216.80,510.69 217.30,512.70 217.80,514.39 218.30,515.79 218.80,516.92 219.30,517.81 219.80,518.51 220.30,519.04 220.80,519.44 221.30,519.73 221.80,519.94 222.30,520.09 222.80,520.20 223.30,520.27 223.80,520.32 224.30,520.35 224.80,520.37 225.30,520.38 225.80,520.39 226.30,520.39 226.80,520.40 227.30,520.40 227.80,520.40 228.30,520.40 228.80,520.40 229.30,520.40 229.80,520.40 230.30,520.40 230.80,520.40 231.30,520.40 231.80,520.40 232.30,520.40 232.80,520.40 233.30,520.40 233.80,520.40 234.30,520.40 234.80,520.40 235.30,520.40 235.80,520.40 236.30,520.40 236.80,520.40 237.30,520.40 237.80,520.40 238.30,520.40 238.80,520.40 239.30,520.40 239.80,520.40 240.30,520.40" fill="none" stroke="#444" stroke-width="0.7" stroke-linejoin="round" />
</g>
<text x="194.8" y="526.1" font-size="2.8" fill="#777">10</text>
<text x="204.9" y="526.1" font-size="2.8" fill="#777">10</text>
<text x="214.9" y="526.1" font-size="2.8" fill="#777">10</text>
<text x="224.9" y="526.1" font-size="2.8" fill="#777">10</text>
<text x="235.0" y="526.1" font-size="2.8" fill="#777">10</text>
<rect x="36.30" y="529.40" width="48.10" height="48.60" fill="#fff" stroke="#9a9a9a" stroke-width="0.7" />
<clipPath id="c545"><rect x="36.80" y="529.40" width="47.10" height="48.60"/></clipPath>
<g clip-path="url(#c545)">
<polyline points="36.30,576.80 36.30,576.78 36.80,576.76 37.30,576.73 37.80,576.67 38.30,576.57 38.80,576.41 39.30,576.14 39.80,575.73 40.30,575.11 40.80,574.22 41.30,572.98 41.80,571.32 42.30,569.19 42.80,566.56 43.30,563.46 43.80,559.96 44.30,556.21 44.80,552.42 45.30,548.84 45.80,545.74 46.30,543.37 46.80,541.96 47.30,541.61 47.80,541.99 48.30,542.91 48.80,544.31 49.30,546.13 49.80,548.30 50.30,550.73 50.80,553.32 51.30,555.98 51.80,558.63 52.30,561.18 52.80,563.59 53.30,565.80 53.80,567.78 54.30,569.52 54.80,571.01 55.30,572.27 55.80,573.31 56.30,574.15 56.80,574.82 57.30,575.35 57.80,575.75 58.30,576.05 58.80,576.27 59.30,576.44 59.80,576.55 60.30,576.63 60.80,576.69 61.30,576.73 61.80,576.75 62.30,576.77 62.80,576.78 63.30,576.79 63.80,576.79 64.30,576.80 64.80,576.80 65.30,576.80 65.80,576.80 66.30,576.80 66.80,576.80 67.30,576.80 67.80,576.80 68.30,576.80 68.80,576.80 69.30,576.80 69.80,576.80 70.30,576.80 70.80,576.80 71.30,576.80 71.80,576.80 72.30,576.80 72.80,576.80 73.30,576.80 73.80,576.80 74.30,576.80 74.80,576.80 75.30,576.80 75.80,576.80 76.30,576.80 76.80,576.80 77.30,576.80 77.80,576.80 78.30,576.80 78.80,576.80 79.30,576.80 79.80,576.80 80.30,576.80 80.80,576.80 81.30,576.80 81.80,576.80 82.30,576.80 82.80,576.80 83.30,576.80 83.80,576.80 84.30,576.80 84.40,576.80" fill="#b9b9b9" stroke="none" stroke-width="0" stroke-linejoin="round" />
<polyline points="36.30,576.80 36.80,576.80 37.30,576.80 37.80,576.80 38.30,576.80 38.80,576.80 39.30,576.80 39.80,576.80 40.30,576.80 40.80,576.80 41.30,576.80 41.80,576.80 42.30,576.80 42.80,576.80 43.30,576.80 43.80,576.80 44.30,576.80 44.80,576.80 45.30,576.80 45.80,576.80 46.30,576.80 46.80,576.80 47.30,576.80 47.80,576.80 48.30,576.80 48.80,576.80 49.30,576.80 49.80,576.80 50.30,576.80 50.80,576.80 51.30,576.80 51.80,576.80 52.30,576.79 52.80,576.79 53.30,576.78 53.80,576.77 54.30,576.75 54.80,576.72 55.30,576.68 55.80,576.62 56.30,576.54 56.80,576.42 57.30,576.26 57.80,576.04 58.30,575.75 58.80,575.37 59.30,574.87 59.80,574.23 60.30,573.43 60.80,572.45 61.30,571.25 61.80,569.83 62.30,568.17 62.80,566.26 63.30,564.11 63.80,561.73 64.30,559.16 64.80,556.45 65.30,553.65 65.80,550.83 66.30,548.08 66.80,545.49 67.30,543.14 67.80,541.13 68.30,539.53 68.80,538.40 69.30,537.80 69.80,537.75 70.30,538.36 70.80,539.60 71.30,541.42 71.80,543.73 72.30,546.42 72.80,549.37 73.30,552.46 73.80,555.57 74.30,558.60 74.80,561.47 75.30,564.11 75.80,566.47 76.30,568.54 76.80,570.30 77.30,571.78 77.80,572.99 78.30,573.96 78.80,574.71 79.30,575.30 79.80,575.73 80.30,576.06 80.80,576.29 81.30,576.46 81.80,576.57 82.30,576.65 82.80,576.71 83.30,576.74 83.80,576.76 84.30,576.78" fill="none" stroke="#444" stroke-width="0.7" stroke-linejoin="round" />
</g>
<text x="37.8" y="582.5" font-size="2.8" fill="#777">10</text>
<text x="48.1" y="582.5" font-size="2.8" fill="#777">10</text>
<text x="58.4" y="582.5" font-size="2.8" fill="#777">10</text>
<text x="68.6" y="582.5" font-size="2.8" fill="#777">10</text>
<text x="78.9" y="582.5" font-size="2.8" fill="#777">10</text>
<rect x="88.30" y="529.40" width="47.90" height="48.60" fill="#fff" stroke="#9a9a9a" stroke-width="0.7" />
<clipPath id="c556"><rect x="88.80" y="529.40" width="46.90" height="48.60"/></clipPath>
<g clip-path="url(#c556)">
<polyline points="88.30,576.56 88.80,576.35 89.30,575.97 89.80,575.35 90.30,574.37 90.80,572.90 91.30,570.80 91.80,567.98 92.30,564.37 92.80,560.03 93.30,555.13 93.80,550.00 94.30,545.05 94.80,540.79 95.30,537.70 95.80,536.14 96.30,536.23 96.80,537.63 97.30,540.17 97.80,543.62 98.30,547.68 98.80,552.05 99.30,556.43 99.80,560.56 100.30,564.25 100.80,567.41 101.30,570.00 101.80,572.03 102.30,573.55 102.80,574.66 103.30,575.44 103.80,575.96 104.30,576.30 104.80,576.51 105.30,576.64 105.80,576.71 106.30,576.75 106.80,576.78 107.30,576.79 107.80,576.79 108.30,576.80 108.80,576.80 109.30,576.80 109.80,576.80 110.30,576.80 110.80,576.80 111.30,576.80 111.80,576.80 112.30,576.80 112.80,576.80 113.30,576.80 113.80,576.80 114.30,576.80 114.80,576.80 115.30,576.80 115.80,576.80 116.30,576.80 116.80,576.80 117.30,576.80 117.80,576.80 118.30,576.80 118.80,576.80 119.30,576.80 119.80,576.80 120.30,576.80 120.80,576.80 121.30,576.80 121.80,576.80 122.30,576.80 122.80,576.80 123.30,576.80 123.80,576.80 124.30,576.80 124.80,576.80 125.30,576.80 125.80,576.80 126.30,576.80 126.80,576.80 127.30,576.80 127.80,576.80 128.30,576.80 128.80,576.80 129.30,576.80 129.80,576.80 130.30,576.80 130.80,576.80 131.30,576.80 131.80,576.80 132.30,576.80 132.80,576.80 133.30,576.80 133.80,576.80 134.30,576.80 134.80,576.80 135.30,576.80 135.80,576.80" fill="none" stroke="#a6a6a6" stroke-width="0.6" stroke-linejoin="round" />
<polyline points="88.30,576.80 88.30,576.79 88.80,576.77 89.30,576.75 89.80,576.72 90.30,576.66 90.80,576.56 91.30,576.40 91.80,576.16 92.30,575.81 92.80,575.30 93.30,574.59 93.80,573.63 94.30,572.39 94.80,570.83 95.30,568.94 95.80,566.74 96.30,564.27 96.80,561.63 97.30,558.93 97.80,556.32 98.30,553.98 98.80,552.06 99.30,550.72 99.80,550.06 100.30,550.12 100.80,550.82 101.30,552.12 101.80,553.92 102.30,556.10 102.80,558.52 103.30,561.05 103.80,563.56 104.30,565.93 104.80,568.10 105.30,570.00 105.80,571.61 106.30,572.94 106.80,574.00 107.30,574.81 107.80,575.43 108.30,575.87 108.80,576.19 109.30,576.41 109.80,576.55 110.30,576.65 110.80,576.71 111.30,576.75 111.80,576.77 112.30,576.78 112.80,576.79 113.30,576.80 113.80,576.80 114.30,576.80 114.80,576.80 115.30,576.80 115.80,576.80 116.30,576.80 116.80,576.80 117.30,576.80 117.80,576.80 118.30,576.80 118.80,576.80 119.30,576.80 119.80,576.80 120.30,576.80 120.80,576.80 121.30,576.80 121.80,576.80 122.30,576.80 122.80,576.80 123.30,576.80 123.80,576.80 124.30,576.80 124.80,576.80 125.30,576.80 125.80,576.80 126.30,576.80 126.80,576.80 127.30,576.80 127.80,576.80 128.30,576.80 128.80,576.80 129.30,576.80 129.80,576.80 130.30,576.80 130.80,576.80 131.30,576.80 131.80,576.80 132.30,576.80 132.80,576.80 133.30,576.80 133.80,576.80 134.30,576.80 134.80,576.80 135.30,576.80 135.80,576.80 136.20,576.80" fill="#b9b9b9" stroke="none" stroke-width="0" stroke-linejoin="round" />
<polyline points="88.30,576.78 88.80,576.77 89.30,576.75 89.80,576.73 90.30,576.70 90.80,576.67 91.30,576.61 91.80,576.54 92.30,576.44 92.80,576.32 93.30,576.16 93.80,575.94 94.30,575.68 94.80,575.34 95.30,574.92 95.80,574.40 96.30,573.77 96.80,573.01 97.30,572.11 97.80,571.05 98.30,569.77 98.80,568.55 99.30,566.93 99.80,564.87 100.30,563.34 100.80,561.13 101.30,558.83 101.80,556.58 102.30,554.15 102.80,552.08 103.30,548.45 103.80,546.06 104.30,544.26 104.80,542.30 105.30,540.03 105.80,538.16 106.30,538.00 106.80,537.09 107.30,536.85 107.80,536.48 108.30,537.27 108.80,537.66 109.30,538.52 109.80,541.61 110.30,543.36 110.80,545.26 111.30,547.92 111.80,552.06 112.30,554.71 112.80,556.79 113.30,559.93 113.80,562.58 114.30,564.95 114.80,567.26 115.30,568.95 115.80,570.50 116.30,571.79 116.80,572.90 117.30,573.81 117.80,574.54 118.30,575.11 118.80,575.56 119.30,575.90 119.80,576.16 120.30,576.35 120.80,576.49 121.30,576.58 121.80,576.65 122.30,576.70 122.80,576.74 123.30,576.76 123.80,576.77 124.30,576.78 124.80,576.79 125.30,576.79 125.80,576.80 126.30,576.80 126.80,576.80 127.30,576.80 127.80,576.80 128.30,576.80 128.80,576.80 129.30,576.80 129.80,576.80 130.30,576.80 130.80,576.80 131.30,576.80 131.80,576.80 132.30,576.80 132.80,576.80 133.30,576.80 133.80,576.80 134.30,576.80 134.80,576.80 135.30,576.80 135.80,576.80" fill="none" stroke="#444" stroke-width="0.7" stroke-linejoin="round" />
</g>
<text x="89.8" y="582.5" font-size="2.8" fill="#777">10</text>
<text x="100.0" y="582.5" font-size="2.8" fill="#777">10</text>
<text x="110.2" y="582.5" font-size="2.8" fill="#777">10</text>
<text x="120.5" y="582.5" font-size="2.8" fill="#777">10</text>
<text x="130.7" y="582.5" font-size="2.8" fill="#777">10</text>
<rect x="140.60" y="529.40" width="48.00" height="48.60" fill="#fff" stroke="#9a9a9a" stroke-width="0.7" />
<clipPath id="c568"><rect x="141.10" y="529.40" width="47.00" height="48.60"/></clipPath>
<g clip-path="url(#c568)">
<polyline points="140.60,576.79 141.10,576.78 141.60,576.75 142.10,576.69 142.60,576.56 143.10,576.31 143.60,575.86 144.10,575.08 144.60,573.82 145.10,571.88 145.60,569.09 146.10,565.32 146.60,560.57 147.10,555.01 147.60,549.03 148.10,543.18 148.60,538.15 149.10,534.60 149.60,533.05 150.10,533.56 150.60,535.75 151.10,539.36 151.60,543.99 152.10,549.17 152.60,554.45 153.10,559.43 153.60,563.83 154.10,567.49 154.60,570.38 155.10,572.55 155.60,574.10 156.10,575.15 156.60,575.83 157.10,576.25 157.60,576.50 158.10,576.65 158.60,576.72 159.10,576.76 159.60,576.78 160.10,576.79 160.60,576.80 161.10,576.80 161.60,576.80 162.10,576.80 162.60,576.80 163.10,576.80 163.60,576.80 164.10,576.80 164.60,576.80 165.10,576.80 165.60,576.80 166.10,576.80 166.60,576.80 167.10,576.80 167.60,576.80 168.10,576.80 168.60,576.80 169.10,576.80 169.60,576.80 170.10,576.80 170.60,576.80 171.10,576.80 171.60,576.80 172.10,576.80 172.60,576.80 173.10,576.80 173.60,576.80 174.10,576.80 174.60,576.80 175.10,576.80 175.60,576.80 176.10,576.80 176.60,576.80 177.10,576.80 177.60,576.80 178.10,576.80 178.60,576.80 179.10,576.80 179.60,576.80 180.10,576.80 180.60,576.80 181.10,576.80 181.60,576.80 182.10,576.80 182.60,576.80 183.10,576.80 183.60,576.80 184.10,576.80 184.60,576.80 185.10,576.80 185.60,576.80 186.10,576.80 186.60,576.80 187.10,576.80 187.60,576.80 188.10,576.80 188.60,576.80" fill="none" stroke="#a6a6a6" stroke-width="0.6" stroke-linejoin="round" />
<polyline points="140.60,576.80 140.60,576.80 141.10,576.80 141.60,576.80 142.10,576.80 142.60,576.80 143.10,576.79 143.60,576.79 144.10,576.77 144.60,576.74 145.10,576.68 145.60,576.57 146.10,576.39 146.60,576.07 147.10,575.56 147.60,574.78 148.10,573.62 148.60,571.96 149.10,569.72 149.60,566.82 150.10,563.23 150.60,559.02 151.10,554.36 151.60,549.50 152.10,544.80 152.60,540.64 153.10,537.43 153.60,535.49 154.10,535.03 154.60,535.95 155.10,538.10 155.60,541.30 156.10,545.25 156.60,549.64 157.10,554.15 157.60,558.51 158.10,562.49 158.60,565.96 159.10,568.84 159.60,571.14 160.10,572.90 160.60,574.20 161.10,575.12 161.60,575.75 162.10,576.16 162.60,576.43 163.10,576.59 163.60,576.68 164.10,576.74 164.60,576.77 165.10,576.78 165.60,576.79 166.10,576.80 166.60,576.80 167.10,576.80 167.60,576.80 168.10,576.80 168.60,576.80 169.10,576.80 169.60,576.80 170.10,576.80 170.60,576.80 171.10,576.80 171.60,576.80 172.10,576.80 172.60,576.80 173.10,576.80 173.60,576.80 174.10,576.80 174.60,576.80 175.10,576.80 175.60,576.80 176.10,576.80 176.60,576.80 177.10,576.80 177.60,576.80 178.10,576.80 178.60,576.80 179.10,576.80 179.60,576.80 180.10,576.80 180.60,576.80 181.10,576.80 181.60,576.80 182.10,576.80 182.60,576.80 183.10,576.80 183.60,576.80 184.10,576.80 184.60,576.80 185.10,576.80 185.60,576.80 186.10,576.80 186.60,576.80 187.10,576.80 187.60,576.80 188.10,576.80 188.60,576.80 188.60,576.80" fill="#b9b9b9" stroke="none" stroke-width="0" stroke-linejoin="round" />
<polyline points="140.60,576.80 141.10,576.80 141.60,576.80 142.10,576.80 142.60,576.80 143.10,576.80 143.60,576.80 144.10,576.80 144.60,576.80 145.10,576.80 145.60,576.80 146.10,576.80 146.60,576.80 147.10,576.80 147.60,576.80 148.10,576.80 148.60,576.80 149.10,576.79 149.60,576.79 150.10,576.79 150.60,576.78 151.10,576.78 151.60,576.76 152.10,576.75 152.60,576.73 153.10,576.70 153.60,576.66 154.10,576.60 154.60,576.53 155.10,576.44 155.60,576.31 156.10,576.15 156.60,575.95 157.10,575.69 157.60,575.37 158.10,574.97 158.60,574.47 159.10,573.88 159.60,573.16 160.10,572.31 160.60,571.32 161.10,570.16 161.60,568.83 162.10,567.33 162.60,565.64 163.10,563.78 163.60,561.75 164.10,559.56 164.60,557.23 165.10,554.79 165.60,552.27 166.10,549.72 166.60,547.18 167.10,544.70 167.60,542.33 168.10,540.13 168.60,538.15 169.10,536.43 169.60,535.03 170.10,533.97 170.60,533.29 171.10,533.01 171.60,533.30 172.10,534.51 172.60,536.56 173.10,539.33 173.60,542.66 174.10,546.36 174.60,550.23 175.10,554.11 175.60,557.84 176.10,561.30 176.60,564.39 177.10,567.08 177.60,569.35 178.10,571.21 178.60,572.70 179.10,573.85 179.60,574.73 180.10,575.38 180.60,575.84 181.10,576.17 181.60,576.39 182.10,576.54 182.60,576.64 183.10,576.70 183.60,576.74 184.10,576.77 184.60,576.78 185.10,576.79 185.60,576.79 186.10,576.80 186.60,576.80 187.10,576.80 187.60,576.80 188.10,576.80 188.60,576.80" fill="none" stroke="#444" stroke-width="0.7" stroke-linejoin="round" />
</g>
<text x="142.1" y="582.5" font-size="2.8" fill="#777">10</text>
<text x="152.3" y="582.5" font-size="2.8" fill="#777">10</text>
<text x="162.6" y="582.5" font-size="2.8" fill="#777">10</text>
<text x="172.8" y="582.5" font-size="2.8" fill="#777">10</text>
<text x="183.1" y="582.5" font-size="2.8" fill="#777">10</text>
<rect x="193.30" y="529.40" width="47.20" height="48.60" fill="#fff" stroke="#9a9a9a" stroke-width="0.7" />
<clipPath id="c580"><rect x="193.80" y="529.40" width="46.20" height="48.60"/></clipPath>
<g clip-path="url(#c580)">
<polyline points="193.30,576.80 193.80,576.80 194.30,576.80 194.80,576.79 195.30,576.79 195.80,576.77 196.30,576.75 196.80,576.70 197.30,576.61 197.80,576.47 198.30,576.23 198.80,575.85 199.30,575.27 199.80,574.41 200.30,573.20 200.80,571.54 201.30,569.35 201.80,566.58 202.30,563.23 202.80,559.34 203.30,555.05 203.80,550.54 204.30,546.10 204.80,542.04 205.30,538.67 205.80,536.29 206.30,535.11 206.80,535.21 207.30,536.46 207.80,538.75 208.30,541.89 208.80,545.64 209.30,549.76 209.80,553.97 210.30,558.06 210.80,561.84 211.30,565.18 211.80,568.02 212.30,570.35 212.80,572.19 213.30,573.60 213.80,574.64 214.30,575.38 214.80,575.89 215.30,576.23 215.80,576.46 216.30,576.60 216.80,576.68 217.30,576.74 217.80,576.77 218.30,576.78 218.80,576.79 219.30,576.80 219.80,576.80 220.30,576.80 220.80,576.80 221.30,576.80 221.80,576.80 222.30,576.80 222.80,576.80 223.30,576.80 223.80,576.80 224.30,576.80 224.80,576.80 225.30,576.80 225.80,576.80 226.30,576.80 226.80,576.80 227.30,576.80 227.80,576.80 228.30,576.80 228.80,576.80 229.30,576.80 229.80,576.80 230.30,576.80 230.80,576.80 231.30,576.80 231.80,576.80 232.30,576.80 232.80,576.80 233.30,576.80 233.80,576.80 234.30,576.80 234.80,576.80 235.30,576.80 235.80,576.80 236.30,576.80 236.80,576.80 237.30,576.80 237.80,576.80 238.30,576.80 238.80,576.80 239.30,576.80 239.80,576.80 240.30,576.80" fill="none" stroke="#a6a6a6" stroke-width="0.6" stroke-linejoin="round" />
<polyline points="193.30,576.80 193.30,576.80 193.80,576.80 194.30,576.80 194.80,576.80 195.30,576.79 195.80,576.79 196.30,576.77 196.80,576.75 197.30,576.71 197.80,576.64 198.30,576.53 198.80,576.35 199.30,576.06 199.80,575.63 200.30,575.01 200.80,574.12 201.30,572.90 201.80,571.28 202.30,569.20 202.80,566.63 203.30,563.55 203.80,560.03 204.30,556.14 204.80,552.05 205.30,547.97 205.80,544.13 206.30,540.79 206.80,538.20 207.30,536.56 207.80,536.00 208.30,536.50 208.80,537.94 209.30,540.24 209.80,543.24 210.30,546.73 210.80,550.51 211.30,554.37 211.80,558.12 212.30,561.62 212.80,564.76 213.30,567.48 213.80,569.77 214.30,571.62 214.80,573.07 215.30,574.18 215.80,575.01 216.30,575.60 216.80,576.02 217.30,576.30 217.80,576.49 218.30,576.61 218.80,576.69 219.30,576.74 219.80,576.76 220.30,576.78 220.80,576.79 221.30,576.79 221.80,576.80 222.30,576.80 222.80,576.80 223.30,576.80 223.80,576.80 224.30,576.80 224.80,576.80 225.30,576.80 225.80,576.80 226.30,576.80 226.80,576.80 227.30,576.80 227.80,576.80 228.30,576.80 228.80,576.80 229.30,576.80 229.80,576.80 230.30,576.80 230.80,576.80 231.30,576.80 231.80,576.80 232.30,576.80 232.80,576.80 233.30,576.80 233.80,576.80 234.30,576.80 234.80,576.80 235.30,576.80 235.80,576.80 236.30,576.80 236.80,576.80 237.30,576.80 237.80,576.80 238.30,576.80 238.80,576.80 239.30,576.80 239.80,576.80 240.30,576.80 240.50,576.80" fill="#b9b9b9" stroke="none" stroke-width="0" stroke-linejoin="round" />
<polyline points="193.30,576.80 193.80,576.80 194.30,576.79 194.80,576.79 195.30,576.78 195.80,576.76 196.30,576.73 196.80,576.68 197.30,576.60 197.80,576.48 198.30,576.28 198.80,575.98 199.30,575.54 199.80,574.92 200.30,574.05 200.80,572.89 201.30,571.36 201.80,569.42 202.30,567.03 202.80,564.17 203.30,560.88 203.80,557.20 204.30,553.27 204.80,549.22 205.30,545.26 205.80,541.59 206.30,538.45 206.80,536.04 207.30,534.52 207.80,534.00 208.30,534.43 208.80,535.71 209.30,537.76 209.80,540.45 210.30,543.64 210.80,547.16 211.30,550.84 211.80,554.52 212.30,558.07 212.80,561.37 213.30,564.35 213.80,566.95 214.30,569.17 214.80,571.01 215.30,572.49 215.80,573.66 216.30,574.56 216.80,575.23 217.30,575.72 217.80,576.08 218.30,576.32 218.80,576.49 219.30,576.61 219.80,576.68 220.30,576.73 220.80,576.76 221.30,576.77 221.80,576.79 222.30,576.79 222.80,576.80 223.30,576.80 223.80,576.80 224.30,576.80 224.80,576.80 225.30,576.80 225.80,576.80 226.30,576.80 226.80,576.80 227.30,576.80 227.80,576.80 228.30,576.80 228.80,576.80 229.30,576.80 229.80,576.80 230.30,576.80 230.80,576.80 231.30,576.80 231.80,576.80 232.30,576.80 232.80,576.80 233.30,576.80 233.80,576.80 234.30,576.80 234.80,576.80 235.30,576.80 235.80,576.80 236.30,576.80 236.80,576.80 237.30,576.80 237.80,576.80 238.30,576.80 238.80,576.80 239.30,576.80 239.80,576.80 240.30,576.80" fill="none" stroke="#444" stroke-width="0.7" stroke-linejoin="round" />
</g>
<text x="194.8" y="582.5" font-size="2.8" fill="#777">10</text>
<text x="204.9" y="582.5" font-size="2.8" fill="#777">10</text>
<text x="214.9" y="582.5" font-size="2.8" fill="#777">10</text>
<text x="224.9" y="582.5" font-size="2.8" fill="#777">10</text>
<text x="235.0" y="582.5" font-size="2.8" fill="#777">10</text>
<line x1="36.30" y1="585.70" x2="84.40" y2="585.70" stroke="#888" stroke-width="0.7" />
<line x1="88.30" y1="585.70" x2="136.20" y2="585.70" stroke="#888" stroke-width="0.7" />
<line x1="140.60" y1="585.70" x2="188.60" y2="585.70" stroke="#888" stroke-width="0.7" />
<line x1="193.30" y1="585.70" x2="240.50" y2="585.70" stroke="#888" stroke-width="0.7" />
<text x="44.70" y="597.00" font-size="10.2" fill="#111" stroke="#111" stroke-width="0.22" textLength="31.90" lengthAdjust="spacingAndGlyphs" >PKH26</text>
<text x="103.80" y="597.00" font-size="10.2" fill="#111" stroke="#111" stroke-width="0.22" textLength="19.50" lengthAdjust="spacingAndGlyphs" >24 h</text>
<text x="156.20" y="597.00" font-size="10.2" fill="#111" stroke="#111" stroke-width="0.22" textLength="19.40" lengthAdjust="spacingAndGlyphs" >72 h</text>
<text x="204.20" y="597.00" font-size="10.2" fill="#111" stroke="#111" stroke-width="0.22" textLength="27.20" lengthAdjust="spacingAndGlyphs" >168 h</text>
<line x1="88.30" y1="600.50" x2="243.00" y2="600.50" stroke="#444" stroke-width="0.7" />
<text x="147.00" y="610.40" font-size="10.2" fill="#111" stroke="#111" stroke-width="0.22" textLength="35.60" lengthAdjust="spacingAndGlyphs" >HLA-DR</text>
<text x="300.20" y="503.00" font-size="10.2" fill="#111" stroke="#111" stroke-width="0.22" textLength="17.30" lengthAdjust="spacingAndGlyphs" >Exo</text>
<line x1="279.40" y1="505.30" x2="336.00" y2="505.30" stroke="#444" stroke-width="0.7" />
<text x="386.70" y="503.00" font-size="10.2" fill="#111" stroke="#111" stroke-width="0.22" textLength="17.30" lengthAdjust="spacingAndGlyphs" >Exo</text>
<line x1="365.00" y1="505.30" x2="420.50" y2="505.30" stroke="#444" stroke-width="0.7" />
<text x="260.00" y="519.60" font-size="10.2" fill="#111" stroke="#111" stroke-width="0.22" textLength="16.20" lengthAdjust="spacingAndGlyphs" >Ctrl</text>
<text x="282.00" y="519.60" font-size="10.2" fill="#111" stroke="#111" stroke-width="0.22" textLength="3.60" lengthAdjust="spacingAndGlyphs" >1</text>
<text x="296.20" y="519.60" font-size="10.2" fill="#111" stroke="#111" stroke-width="0.22" textLength="5.20" lengthAdjust="spacingAndGlyphs" >4</text>
<text x="312.40" y="519.60" font-size="10.2" fill="#111" stroke="#111" stroke-width="0.22" textLength="5.20" lengthAdjust="spacingAndGlyphs" >8</text>
<text x="325.00" y="519.60" font-size="10.2" fill="#111" stroke="#111" stroke-width="0.22" textLength="11.20" lengthAdjust="spacingAndGlyphs" >24</text>
<text x="346.20" y="519.60" font-size="10.2" fill="#111" stroke="#111" stroke-width="0.22" textLength="16.30" lengthAdjust="spacingAndGlyphs" >Ctrl</text>
<text x="368.00" y="519.60" font-size="10.2" fill="#111" stroke="#111" stroke-width="0.22" textLength="3.70" lengthAdjust="spacingAndGlyphs" >1</text>
<text x="381.50" y="519.60" font-size="10.2" fill="#111" stroke="#111" stroke-width="0.22" textLength="5.20" lengthAdjust="spacingAndGlyphs" >4</text>
<text x="395.40" y="519.60" font-size="10.2" fill="#111" stroke="#111" stroke-width="0.22" textLength="5.20" lengthAdjust="spacingAndGlyphs" >8</text>
<text x="409.20" y="519.60" font-size="10.2" fill="#111" stroke="#111" stroke-width="0.22" textLength="10.60" lengthAdjust="spacingAndGlyphs" >24</text>
<text x="425.00" y="519.60" font-size="10.2" fill="#111" stroke="#111" stroke-width="0.22" textLength="13.00" lengthAdjust="spacingAndGlyphs" >(h)</text>
<rect x="259.50" y="522.50" width="79.25" height="23.80" fill="#dedede" stroke="#555" stroke-width="0.8" />
<rect x="343.75" y="522.50" width="79.75" height="23.80" fill="#d2d2d2" stroke="#555" stroke-width="0.8" />
<rect x="259.50" y="551.30" width="79.25" height="24.30" fill="#cfcfcf" stroke="#555" stroke-width="0.8" />
<rect x="343.75" y="551.30" width="79.75" height="24.30" fill="#cfcfcf" stroke="#555" stroke-width="0.8" />
<rect x="262.00" y="529.80" width="11.00" height="8.00" rx="2.50" fill="#0a0a0a" opacity="0.22" filter="url(#b15)"/>
<rect x="278.45" y="530.25" width="10.50" height="8.50" rx="2.50" fill="#0a0a0a" opacity="0.5" filter="url(#b15)"/>
<rect x="292.55" y="530.25" width="12.50" height="9.50" rx="2.50" fill="#0a0a0a" opacity="0.78" filter="url(#b15)"/>
<rect x="308.50" y="530.25" width="12.00" height="9.50" rx="2.50" fill="#0a0a0a" opacity="0.72" filter="url(#b15)"/>
<rect x="324.50" y="530.10" width="12.00" height="9.80" rx="2.50" fill="#0a0a0a" opacity="0.8" filter="url(#b15)"/>
<rect x="349.05" y="534.90" width="3.50" height="3.20" rx="1.60" fill="#0a0a0a" opacity="0.8" filter="url(#b05)"/>
<rect x="346.50" y="532.00" width="9.00" height="6.00" rx="2.50" fill="#0a0a0a" opacity="0.15" filter="url(#b15)"/>
<rect x="363.10" y="532.40" width="13.00" height="4.80" rx="2.40" fill="#0a0a0a" opacity="0.8" filter="url(#b1)"/>
<rect x="378.00" y="531.50" width="11.00" height="3.80" rx="1.90" fill="#0a0a0a" opacity="0.8" filter="url(#b1)"/>
<rect x="392.45" y="531.40" width="11.50" height="3.20" rx="1.60" fill="#0a0a0a" opacity="0.85" filter="url(#b1)"/>
<rect x="406.30" y="531.90" width="13.00" height="4.20" rx="2.10" fill="#0a0a0a" opacity="0.9" filter="url(#b1)"/>
<rect x="261.30" y="561.30" width="15.00" height="6.60" rx="2.50" fill="#0a0a0a" opacity="1" filter="url(#b05)"/>
<rect x="276.50" y="562.15" width="15.00" height="6.60" rx="2.50" fill="#0a0a0a" opacity="1" filter="url(#b05)"/>
<rect x="291.30" y="563.00" width="15.00" height="6.60" rx="2.50" fill="#0a0a0a" opacity="1" filter="url(#b05)"/>
<rect x="307.30" y="563.85" width="15.00" height="6.60" rx="2.50" fill="#0a0a0a" opacity="1" filter="url(#b05)"/>
<rect x="322.80" y="564.70" width="15.00" height="6.60" rx="2.50" fill="#0a0a0a" opacity="1" filter="url(#b05)"/>
<rect x="347.00" y="564.90" width="15.00" height="6.20" rx="2.50" fill="#0a0a0a" opacity="1" filter="url(#b05)"/>
<rect x="362.00" y="564.70" width="15.00" height="6.20" rx="2.50" fill="#0a0a0a" opacity="1" filter="url(#b05)"/>
<rect x="377.00" y="564.50" width="15.00" height="6.20" rx="2.50" fill="#0a0a0a" opacity="1" filter="url(#b05)"/>
<rect x="391.50" y="564.30" width="15.00" height="6.20" rx="2.50" fill="#0a0a0a" opacity="1" filter="url(#b05)"/>
<rect x="406.50" y="564.10" width="15.00" height="6.20" rx="2.50" fill="#0a0a0a" opacity="1" filter="url(#b05)"/>
<line x1="259.50" y1="578.10" x2="338.75" y2="578.10" stroke="#666" stroke-width="0.7" />
<line x1="343.75" y1="578.10" x2="423.50" y2="578.10" stroke="#666" stroke-width="0.7" />
<text x="288.00" y="589.50" font-size="10.2" fill="#111" stroke="#111" stroke-width="0.22" textLength="21.50" lengthAdjust="spacingAndGlyphs" >HS-5</text>
<text x="364.20" y="589.50" font-size="10.2" fill="#111" stroke="#111" stroke-width="0.22" textLength="34.00" lengthAdjust="spacingAndGlyphs" >HMEC-1</text>
<text x="427.70" y="539.60" font-size="10.2" fill="#111" stroke="#111" stroke-width="0.22" textLength="35.10" lengthAdjust="spacingAndGlyphs" >HLA-DR</text>
<text x="427.20" y="567.80" font-size="10.2" fill="#111" stroke="#111" stroke-width="0.22" textLength="24.80" lengthAdjust="spacingAndGlyphs" >ACTB</text>
<text x="1.47" y="628.00" font-size="18" font-weight="bold" fill="#000">G</text>
<text x="54.00" y="623.70" font-size="10.2" fill="#111" stroke="#111" stroke-width="0.22" textLength="16.30" lengthAdjust="spacingAndGlyphs" >Ctrl</text>
<line x1="35.00" y1="626.20" x2="85.00" y2="626.20" stroke="#444" stroke-width="0.8" />
<text x="111.20" y="623.70" font-size="10.2" fill="#111" stroke="#111" stroke-width="0.22" textLength="16.30" lengthAdjust="spacingAndGlyphs" >Exo</text>
<line x1="95.00" y1="626.20" x2="144.70" y2="626.20" stroke="#444" stroke-width="0.8" />
<rect x="35.20" y="630.20" width="50.40" height="47.20" fill="#fff" stroke="#cfcfcf" stroke-width="0.6" />
<line x1="35.20" y1="630.20" x2="35.20" y2="677.40" stroke="#777" stroke-width="0.7" />
<line x1="35.20" y1="677.40" x2="85.60" y2="677.40" stroke="#777" stroke-width="0.7" />
<line x1="35.20" y1="662.60" x2="85.60" y2="662.60" stroke="#8a8a8a" stroke-width="0.7" />
<text x="37.7" y="681.0" font-size="2.6" fill="#777">10</text>
<text x="48.3" y="681.0" font-size="2.6" fill="#777">10</text>
<text x="58.9" y="681.0" font-size="2.6" fill="#777">10</text>
<text x="69.5" y="681.0" font-size="2.6" fill="#777">10</text>
<text x="80.1" y="681.0" font-size="2.6" fill="#777">10</text>
<line x1="33.70" y1="634.20" x2="35.20" y2="634.20" stroke="#777" stroke-width="0.5" />
<line x1="33.70" y1="647.93" x2="35.20" y2="647.93" stroke="#777" stroke-width="0.5" />
<line x1="33.70" y1="661.67" x2="35.20" y2="661.67" stroke="#777" stroke-width="0.5" />
<line x1="33.70" y1="675.40" x2="35.20" y2="675.40" stroke="#777" stroke-width="0.5" />
<rect x="95.40" y="630.20" width="49.60" height="47.20" fill="#fff" stroke="#cfcfcf" stroke-width="0.6" />
<line x1="95.40" y1="630.20" x2="95.40" y2="677.40" stroke="#777" stroke-width="0.7" />
<line x1="95.40" y1="677.40" x2="145.00" y2="677.40" stroke="#777" stroke-width="0.7" />
<line x1="95.40" y1="662.60" x2="145.00" y2="662.60" stroke="#8a8a8a" stroke-width="0.7" />
<text x="97.9" y="681.0" font-size="2.6" fill="#777">10</text>
<text x="108.3" y="681.0" font-size="2.6" fill="#777">10</text>
<text x="118.7" y="681.0" font-size="2.6" fill="#777">10</text>
<text x="129.1" y="681.0" font-size="2.6" fill="#777">10</text>
<text x="139.5" y="681.0" font-size="2.6" fill="#777">10</text>
<line x1="93.90" y1="634.20" x2="95.40" y2="634.20" stroke="#777" stroke-width="0.5" />
<line x1="93.90" y1="647.93" x2="95.40" y2="647.93" stroke="#777" stroke-width="0.5" />
<line x1="93.90" y1="661.67" x2="95.40" y2="661.67" stroke="#777" stroke-width="0.5" />
<line x1="93.90" y1="675.40" x2="95.40" y2="675.40" stroke="#777" stroke-width="0.5" />
<rect x="35.20" y="682.20" width="50.40" height="47.40" fill="#fff" stroke="#cfcfcf" stroke-width="0.6" />
<line x1="35.20" y1="682.20" x2="35.20" y2="729.60" stroke="#777" stroke-width="0.7" />
<line x1="35.20" y1="729.60" x2="85.60" y2="729.60" stroke="#777" stroke-width="0.7" />
<line x1="35.20" y1="705.80" x2="85.60" y2="705.80" stroke="#8a8a8a" stroke-width="0.7" />
<text x="37.7" y="733.2" font-size="2.6" fill="#777">10</text>
<text x="48.3" y="733.2" font-size="2.6" fill="#777">10</text>
<text x="58.9" y="733.2" font-size="2.6" fill="#777">10</text>
<text x="69.5" y="733.2" font-size="2.6" fill="#777">10</text>
<text x="80.1" y="733.2" font-size="2.6" fill="#777">10</text>
<line x1="33.70" y1="686.20" x2="35.20" y2="686.20" stroke="#777" stroke-width="0.5" />
<line x1="33.70" y1="700.00" x2="35.20" y2="700.00" stroke="#777" stroke-width="0.5" />
<line x1="33.70" y1="713.80" x2="35.20" y2="713.80" stroke="#777" stroke-width="0.5" />
<line x1="33.70" y1="727.60" x2="35.20" y2="727.60" stroke="#777" stroke-width="0.5" />
<rect x="95.40" y="682.20" width="49.60" height="47.40" fill="#fff" stroke="#cfcfcf" stroke-width="0.6" />
<line x1="95.40" y1="682.20" x2="95.40" y2="729.60" stroke="#777" stroke-width="0.7" />
<line x1="95.40" y1="729.60" x2="145.00" y2="729.60" stroke="#777" stroke-width="0.7" />
<line x1="95.40" y1="705.80" x2="145.00" y2="705.80" stroke="#8a8a8a" stroke-width="0.7" />
<text x="97.9" y="733.2" font-size="2.6" fill="#777">10</text>
<text x="108.3" y="733.2" font-size="2.6" fill="#777">10</text>
<text x="118.7" y="733.2" font-size="2.6" fill="#777">10</text>
<text x="129.1" y="733.2" font-size="2.6" fill="#777">10</text>
<text x="139.5" y="733.2" font-size="2.6" fill="#777">10</text>
<line x1="93.90" y1="686.20" x2="95.40" y2="686.20" stroke="#777" stroke-width="0.5" />
<line x1="93.90" y1="700.00" x2="95.40" y2="700.00" stroke="#777" stroke-width="0.5" />
<line x1="93.90" y1="713.80" x2="95.40" y2="713.80" stroke="#777" stroke-width="0.5" />
<line x1="93.90" y1="727.60" x2="95.40" y2="727.60" stroke="#777" stroke-width="0.5" />
<ellipse cx="50.3" cy="670.3" rx="4.0" ry="5.6" fill="#0a0a0a" filter="url(#b1)"/>
<path d="M47.3 671.4h0.8M53.7 668.2h0.8M46.9 669.8h0.8M52.2 674.0h0.8M47.3 665.3h0.8M52.8 671.7h0.8M55.2 673.5h0.8M50.5 669.0h0.8M58.3 669.0h0.8M48.5 665.9h0.8M51.1 670.5h0.8M49.8 669.8h0.8M51.6 672.5h0.8M54.0 670.8h0.8M45.6 672.5h0.8M46.7 669.4h0.8M46.5 670.0h0.8M48.5 670.8h0.8M60.4 669.8h0.8M53.2 665.2h0.8M50.0 672.4h0.8M50.5 671.3h0.8M51.1 666.4h0.8M52.4 667.1h0.8M56.2 668.2h0.8M52.8 670.0h0.8M53.6 667.8h0.8M53.7 669.6h0.8M54.5 672.2h0.8M51.2 667.2h0.8M53.0 671.7h0.8M55.6 668.6h0.8M52.4 671.8h0.8M51.6 670.8h0.8M51.3 667.8h0.8M47.9 668.6h0.8M52.5 675.4h0.8M53.6 673.8h0.8M53.1 672.5h0.8M51.3 672.8h0.8M55.9 668.8h0.8M48.8 677.1h0.8M51.5 673.5h0.8M53.3 665.9h0.8M57.9 676.4h0.8M51.3 672.7h0.8M51.2 666.8h0.8M50.5 671.3h0.8M54.0 672.6h0.8M51.0 674.9h0.8M48.6 672.9h0.8M54.0 668.9h0.8M45.6 666.7h0.8M51.5 671.9h0.8M55.3 666.4h0.8M50.8 672.3h0.8M53.7 666.7h0.8M49.6 670.8h0.8M58.0 672.2h0.8M51.1 675.6h0.8M50.6 676.7h0.8M48.8 668.3h0.8M52.9 675.1h0.8M52.7 671.1h0.8M45.5 667.4h0.8M49.0 668.1h0.8M52.5 668.8h0.8M53.1 670.3h0.8M49.8 670.4h0.8M52.0 673.1h0.8M49.4 669.2h0.8M46.8 675.8h0.8M55.0 669.4h0.8M49.4 665.6h0.8M51.3 670.7h0.8M57.1 670.9h0.8M54.9 670.7h0.8M46.1 670.6h0.8M54.0 672.1h0.8M50.4 664.4h0.8M48.2 674.4h0.8M55.6 665.7h0.8M46.4 673.2h0.8M53.3 666.4h0.8M48.8 667.5h0.8M47.4 667.6h0.8M54.4 672.5h0.8M56.8 669.7h0.8M50.4 666.5h0.8M50.4 665.3h0.8M45.6 672.5h0.8M55.0 673.0h0.8M54.7 670.9h0.8M48.7 670.3h0.8M49.7 666.0h0.8M45.9 664.7h0.8M50.8 670.5h0.8M49.4 675.1h0.8M51.3 672.1h0.8M54.3 667.0h0.8M45.1 672.7h0.8M48.8 674.7h0.8M51.8 673.6h0.8M52.9 667.6h0.8M48.6 668.4h0.8M53.0 673.2h0.8M53.7 664.0h0.8M50.5 672.2h0.8M48.6 670.9h0.8M51.5 673.6h0.8M48.4 667.0h0.8M48.6 676.3h0.8M54.0 669.6h0.8M51.5 670.4h0.8M51.4 669.2h0.8M49.8 665.5h0.8M48.9 675.9h0.8M52.4 670.2h0.8M50.2 670.2h0.8M51.8 667.7h0.8M51.4 670.9h0.8M48.6 667.2h0.8M47.9 666.2h0.8M50.0 667.8h0.8M49.0 670.4h0.8M54.1 670.3h0.8M50.4 667.8h0.8M50.4 673.3h0.8M49.7 665.9h0.8M47.1 666.0h0.8M46.8 674.0h0.8M51.8 669.1h0.8M55.0 667.6h0.8M53.0 672.9h0.8M46.3 664.4h0.8M48.1 673.3h0.8M54.6 665.6h0.8M53.8 668.6h0.8M49.7 668.0h0.8M49.9 663.5h0.8M47.9 665.6h0.8M58.7 668.8h0.8M45.8 668.5h0.8M48.1 677.1h0.8M52.5 667.4h0.8M53.5 671.9h0.8M46.1 668.1h0.8M50.1 670.1h0.8M51.2 668.8h0.8M51.4 667.9h0.8M48.2 675.5h0.8M51.8 671.6h0.8M46.2 669.4h0.8M53.2 665.4h0.8M54.0 668.6h0.8M52.0 669.5h0.8M51.4 674.3h0.8M49.6 675.6h0.8M48.5 666.6h0.8M52.9 666.2h0.8M49.7 673.3h0.8M54.3 663.6h0.8M52.3 676.8h0.8M54.3 669.1h0.8M49.1 668.9h0.8M47.5 669.0h0.8M50.3 669.5h0.8M54.2 669.2h0.8M46.6 673.8h0.8M47.7 668.4h0.8M50.4 668.8h0.8M47.9 669.1h0.8M57.1 667.8h0.8M50.4 674.0h0.8M53.0 672.7h0.8M48.3 670.5h0.8M52.2 674.7h0.8M52.2 669.1h0.8M50.9 669.2h0.8M51.5 672.4h0.8M49.8 667.1h0.8M48.3 673.9h0.8M54.5 673.6h0.8M53.3 673.0h0.8M50.8 672.4h0.8M47.7 669.3h0.8M48.7 672.6h0.8M49.1 669.6h0.8M52.0 674.9h0.8M48.5 666.6h0.8M53.2 666.0h0.8M52.1 667.9h0.8M50.5 663.4h0.8M52.9 668.2h0.8M52.0 668.7h0.8M51.1 675.8h0.8M50.7 671.6h0.8M52.3 666.7h0.8M51.2 668.2h0.8M47.2 673.1h0.8M52.7 670.3h0.8M52.2 669.6h0.8M45.9 669.8h0.8M46.4 669.9h0.8M51.2 671.3h0.8M51.4 670.6h0.8M47.5 668.6h0.8M49.3 669.2h0.8M51.6 672.2h0.8M52.0 669.3h0.8M57.4 673.4h0.8M46.0 671.4h0.8M49.3 673.6h0.8M47.7 669.6h0.8M50.4 669.7h0.8M49.1 663.4h0.8M52.1 673.6h0.8M50.6 666.3h0.8M51.4 672.0h0.8M50.3 669.9h0.8M54.9 666.0h0.8M49.2 663.1h0.8M48.8 667.3h0.8M48.0 667.5h0.8M56.0 669.3h0.8M50.6 663.8h0.8M52.0 666.6h0.8M55.6 665.5h0.8M49.1 664.2h0.8M51.1 666.3h0.8M50.6 668.6h0.8M49.0 673.4h0.8M53.5 670.2h0.8M48.2 666.1h0.8M49.5 667.2h0.8M48.8 666.1h0.8M48.0 669.3h0.8M55.0 670.0h0.8M49.3 664.2h0.8M51.4 669.9h0.8M47.2 666.1h0.8M50.7 673.6h0.8M52.6 670.7h0.8M49.9 671.2h0.8M47.5 668.7h0.8M54.5 669.0h0.8M54.9 669.8h0.8M51.2 668.7h0.8M46.8 666.5h0.8M57.2 672.3h0.8M52.6 673.4h0.8M52.5 673.7h0.8M50.0 669.2h0.8M53.7 668.7h0.8M46.9 669.2h0.8M49.2 672.2h0.8M48.7 666.2h0.8M49.8 675.6h0.8M50.7 670.6h0.8M50.8 671.1h0.8M53.5 675.0h0.8M46.0 674.9h0.8M50.8 668.8h0.8M57.8 669.4h0.8M56.4 673.5h0.8M47.8 671.8h0.8M52.9 669.5h0.8M44.0 668.8h0.8M50.2 666.0h0.8M56.1 669.1h0.8M49.7 668.9h0.8M48.5 667.2h0.8M51.1 671.1h0.8M49.3 669.7h0.8M46.8 671.9h0.8M48.6 670.8h0.8M48.2 668.1h0.8M51.4 665.6h0.8M58.0 669.9h0.8M50.6 667.4h0.8M55.4 675.0h0.8M51.7 665.1h0.8M49.3 672.2h0.8M49.3 665.7h0.8M47.4 667.2h0.8M50.8 667.7h0.8M55.9 666.3h0.8M51.8 670.3h0.8M50.4 673.8h0.8M49.8 668.8h0.8M49.7 669.6h0.8M54.5 672.8h0.8M46.9 668.4h0.8M48.5 672.9h0.8M51.5 673.2h0.8M50.6 663.1h0.8M52.1 670.8h0.8M52.3 665.3h0.8M51.0 667.5h0.8M48.8 671.3h0.8M51.8 666.8h0.8M49.1 674.0h0.8M48.3 671.5h0.8M55.7 674.2h0.8M51.9 670.7h0.8M47.7 668.4h0.8M49.8 667.2h0.8M51.0 668.6h0.8M51.8 675.2h0.8" stroke="#111" stroke-width="0.8" fill="none" opacity="1"/>
<path d="M59.3 670.3h0.7M54.9 664.1h0.7M55.5 670.7h0.7M51.5 673.0h0.7M54.5 670.2h0.7M54.5 665.0h0.7M65.3 665.3h0.7M60.1 667.2h0.7M57.3 666.4h0.7M54.1 671.9h0.7M64.8 666.3h0.7M56.0 672.0h0.7M53.2 671.3h0.7M52.5 670.9h0.7M58.0 672.9h0.7M57.6 665.2h0.7M59.0 665.5h0.7M59.4 673.8h0.7M58.7 667.2h0.7M61.4 669.5h0.7M50.4 667.9h0.7M62.4 668.0h0.7M56.5 667.9h0.7M48.4 667.4h0.7M57.6 669.7h0.7M55.2 662.2h0.7M61.5 671.3h0.7M60.6 673.2h0.7M54.0 667.1h0.7M57.4 674.4h0.7M48.4 668.3h0.7M52.8 670.8h0.7M62.6 668.1h0.7M50.4 669.2h0.7M54.7 664.1h0.7M60.0 667.3h0.7M59.1 664.8h0.7M60.9 664.4h0.7M60.7 663.2h0.7M62.2 667.8h0.7M49.0 668.2h0.7M57.5 665.8h0.7M53.8 669.9h0.7M54.1 670.4h0.7M57.3 672.2h0.7M52.9 677.2h0.7M59.6 670.0h0.7M60.9 672.1h0.7M56.5 667.0h0.7M60.6 670.4h0.7M47.5 665.5h0.7M58.1 669.3h0.7M57.3 671.1h0.7M56.7 674.1h0.7M53.3 667.7h0.7M57.5 671.4h0.7M59.5 673.8h0.7M53.9 672.7h0.7M58.1 665.7h0.7M55.4 675.7h0.7M59.5 667.5h0.7M52.8 669.2h0.7M66.4 671.4h0.7M57.4 666.0h0.7M50.7 668.3h0.7M54.2 667.0h0.7M61.1 669.2h0.7" stroke="#222" stroke-width="0.7" fill="none" opacity="0.7"/>
<rect x="105" y="663.4" width="10.4" height="13.8" rx="3.4" fill="#0a0a0a" filter="url(#b05)"/>
<path d="M106.4 675.2h0.8M109.5 664.7h0.8M111.6 672.0h0.8M109.4 672.8h0.8M113.2 666.5h0.8M110.1 674.9h0.8M113.8 675.6h0.8M116.6 670.1h0.8M114.0 663.9h0.8M112.8 671.6h0.8M110.2 668.2h0.8M106.8 670.6h0.8M114.7 668.5h0.8M112.3 667.3h0.8M111.3 666.0h0.8M111.7 669.1h0.8M111.5 667.6h0.8M106.6 668.7h0.8M113.9 676.3h0.8M109.4 673.2h0.8M113.0 671.6h0.8M105.4 671.3h0.8M107.3 674.7h0.8M113.1 672.5h0.8M112.8 664.9h0.8M113.7 670.3h0.8M109.9 667.1h0.8M107.1 668.3h0.8M120.7 670.8h0.8M111.2 667.4h0.8M108.5 667.8h0.8M107.6 673.5h0.8M109.6 673.5h0.8M106.7 673.7h0.8M110.4 672.7h0.8M110.2 666.4h0.8M114.5 668.3h0.8M110.0 666.5h0.8M111.2 668.4h0.8M111.4 671.4h0.8M108.2 664.4h0.8M111.9 673.7h0.8M112.8 665.4h0.8M112.5 671.5h0.8M111.4 671.7h0.8M109.4 670.9h0.8M113.6 668.0h0.8M105.7 669.6h0.8M108.3 672.4h0.8M110.0 670.4h0.8M106.3 673.6h0.8M116.3 669.2h0.8M108.1 665.4h0.8M113.4 670.4h0.8M107.9 674.9h0.8M113.0 672.4h0.8M104.7 669.6h0.8M112.6 665.1h0.8M113.6 675.7h0.8M113.9 667.1h0.8M108.2 673.8h0.8M113.8 674.9h0.8M114.5 669.6h0.8M109.0 668.1h0.8M112.6 671.5h0.8M106.0 667.1h0.8M108.1 673.4h0.8M115.2 676.5h0.8M106.4 668.6h0.8M108.1 668.8h0.8M119.2 663.3h0.8M112.3 665.1h0.8M114.9 675.2h0.8M110.7 675.2h0.8M111.5 667.8h0.8M109.2 669.5h0.8M112.5 670.5h0.8M118.3 669.2h0.8M109.0 667.1h0.8M107.9 664.2h0.8M107.2 673.6h0.8M110.7 669.3h0.8M111.7 674.3h0.8M112.5 673.1h0.8M108.7 669.0h0.8M107.9 669.6h0.8M107.8 668.5h0.8M109.9 669.1h0.8M109.6 668.0h0.8M114.8 668.6h0.8M107.2 670.8h0.8M106.9 665.7h0.8M110.8 663.3h0.8M113.9 663.3h0.8M107.5 672.3h0.8M103.9 666.5h0.8M106.5 669.2h0.8M104.0 673.6h0.8M110.0 671.2h0.8M110.0 664.6h0.8M110.5 666.6h0.8M109.5 669.2h0.8M113.0 673.1h0.8M107.2 669.9h0.8M115.3 672.0h0.8M108.1 669.5h0.8M109.4 673.8h0.8M110.6 671.5h0.8M117.8 664.5h0.8M107.2 663.1h0.8M105.2 673.4h0.8M111.5 676.5h0.8M104.0 666.5h0.8M115.3 674.1h0.8M113.4 673.5h0.8M110.6 670.0h0.8M110.6 673.4h0.8M110.0 671.3h0.8M115.3 665.5h0.8M108.0 672.3h0.8M109.6 669.4h0.8M117.4 671.7h0.8M109.1 674.4h0.8M118.8 665.6h0.8M108.3 670.5h0.8M112.2 668.4h0.8M112.1 666.8h0.8M108.5 670.4h0.8M111.9 675.4h0.8M112.0 670.6h0.8M110.1 666.6h0.8M115.9 665.3h0.8M110.1 667.9h0.8M109.2 670.5h0.8M111.0 673.4h0.8M110.0 667.4h0.8M111.5 672.7h0.8M107.5 663.9h0.8M107.1 674.2h0.8M113.8 666.5h0.8M110.9 673.4h0.8M114.9 667.4h0.8M109.7 675.6h0.8M118.5 676.1h0.8M106.7 671.8h0.8M109.5 669.8h0.8M108.3 668.1h0.8M112.8 671.7h0.8M110.6 667.0h0.8M109.7 675.0h0.8M111.4 669.9h0.8M105.2 671.6h0.8M104.8 676.1h0.8M108.4 670.0h0.8M106.0 668.0h0.8M107.4 674.5h0.8M111.3 665.3h0.8M104.1 669.7h0.8M108.9 665.6h0.8M112.4 669.3h0.8M110.9 667.6h0.8M108.6 668.2h0.8M105.2 672.5h0.8M111.8 663.1h0.8M110.8 674.6h0.8M111.3 675.2h0.8M109.6 670.0h0.8M106.2 666.4h0.8M104.5 666.4h0.8M111.3 672.1h0.8M114.3 670.5h0.8M107.2 671.7h0.8M110.0 677.1h0.8M117.0 673.8h0.8M106.7 667.9h0.8M111.1 667.2h0.8M112.2 672.7h0.8M113.3 670.9h0.8M107.6 666.6h0.8M110.1 675.3h0.8M115.7 673.9h0.8M111.7 672.7h0.8M113.2 675.2h0.8M113.3 663.9h0.8M113.6 671.5h0.8M109.0 672.1h0.8M111.5 669.8h0.8M104.9 670.4h0.8M112.3 669.8h0.8M105.3 671.8h0.8M112.9 670.7h0.8M111.9 668.6h0.8M108.3 672.1h0.8M109.3 670.7h0.8M121.2 672.8h0.8M110.9 663.5h0.8M110.8 673.0h0.8M108.2 669.0h0.8M108.5 672.7h0.8M115.0 669.4h0.8M113.7 671.0h0.8M109.8 668.9h0.8M107.7 675.1h0.8M113.4 666.0h0.8M113.3 667.1h0.8M105.5 674.8h0.8M106.3 674.7h0.8M111.2 673.6h0.8M112.2 674.6h0.8M111.6 672.3h0.8M111.3 674.4h0.8M109.2 674.1h0.8M115.5 669.7h0.8M112.0 667.9h0.8M109.5 671.0h0.8M109.4 666.5h0.8M110.4 670.8h0.8M111.6 672.8h0.8M104.6 675.7h0.8M109.9 666.9h0.8M109.3 671.8h0.8M113.4 668.5h0.8M111.0 663.6h0.8M111.1 669.6h0.8M109.1 673.5h0.8M116.4 674.1h0.8M107.9 676.1h0.8M109.4 669.8h0.8M108.6 671.8h0.8M112.3 670.6h0.8M109.8 669.4h0.8M109.2 673.9h0.8M108.8 669.4h0.8M109.8 667.0h0.8M109.7 664.1h0.8M111.8 672.2h0.8M109.5 676.2h0.8M107.8 672.2h0.8M112.1 667.9h0.8M109.7 673.6h0.8M110.7 671.1h0.8M115.1 670.9h0.8M105.0 667.1h0.8M113.2 669.5h0.8M111.6 676.0h0.8M112.1 667.8h0.8M109.5 668.7h0.8M107.5 671.8h0.8M113.5 671.5h0.8M108.7 674.1h0.8M110.1 672.3h0.8M107.4 672.6h0.8M112.9 675.1h0.8M110.6 671.8h0.8M108.6 673.5h0.8M113.0 674.3h0.8M109.2 665.2h0.8M110.3 669.2h0.8M108.1 672.4h0.8M113.6 671.6h0.8M114.1 671.6h0.8M107.3 667.7h0.8M109.3 672.7h0.8M113.5 670.5h0.8M113.8 666.8h0.8M110.1 675.9h0.8M112.0 674.1h0.8M104.4 663.4h0.8M107.7 674.0h0.8M115.8 667.6h0.8M107.3 666.0h0.8M107.6 672.2h0.8M112.9 667.3h0.8M111.3 669.4h0.8M113.1 673.6h0.8M109.4 673.5h0.8M112.4 669.7h0.8M111.3 672.7h0.8M109.5 667.4h0.8M114.6 670.0h0.8M108.6 671.8h0.8M105.7 670.2h0.8M106.1 668.3h0.8M104.7 667.2h0.8M113.4 669.3h0.8M106.6 676.8h0.8M108.5 675.8h0.8M108.8 664.3h0.8M116.5 668.3h0.8M113.0 674.7h0.8M106.3 670.3h0.8M108.7 672.4h0.8M110.5 665.1h0.8M110.7 673.0h0.8M109.6 672.2h0.8M108.8 669.8h0.8M111.6 670.6h0.8M114.6 673.7h0.8M113.2 672.9h0.8M111.0 665.5h0.8M114.0 676.8h0.8M111.2 669.0h0.8M110.4 674.8h0.8M111.4 666.2h0.8M110.0 667.0h0.8M109.9 666.5h0.8M107.7 675.8h0.8M113.9 663.7h0.8M107.4 668.3h0.8M109.3 664.6h0.8M113.4 663.7h0.8M112.8 672.8h0.8M109.3 667.5h0.8M110.7 670.6h0.8M112.2 669.6h0.8M109.2 666.1h0.8M108.3 667.0h0.8M119.5 665.1h0.8M115.5 671.9h0.8M111.2 670.8h0.8M109.3 676.3h0.8M112.2 669.9h0.8M110.1 670.8h0.8M106.8 668.8h0.8M108.5 672.5h0.8M109.8 673.9h0.8M106.4 665.4h0.8M113.8 669.5h0.8M109.1 665.3h0.8M111.1 667.9h0.8M111.2 671.7h0.8M112.8 668.8h0.8M108.8 670.1h0.8M110.2 670.7h0.8M108.8 669.1h0.8M108.6 667.7h0.8M111.0 674.5h0.8M108.8 672.3h0.8M111.6 670.5h0.8M112.7 667.9h0.8M112.3 671.2h0.8M107.1 670.4h0.8M111.7 666.2h0.8M114.4 671.8h0.8M108.0 665.3h0.8M104.6 672.6h0.8M110.2 667.5h0.8M112.5 670.4h0.8M111.5 671.1h0.8M107.0 675.2h0.8M109.0 674.5h0.8M112.8 670.2h0.8M111.0 669.8h0.8M104.6 668.8h0.8M111.9 663.7h0.8M105.7 674.3h0.8M113.1 664.0h0.8M112.0 669.8h0.8M113.7 668.8h0.8M109.8 667.1h0.8M111.1 669.5h0.8M108.4 668.7h0.8M108.1 672.5h0.8M107.2 663.9h0.8M107.4 674.3h0.8M108.9 672.6h0.8M112.9 668.0h0.8M113.0 672.0h0.8M110.4 667.2h0.8M110.3 665.0h0.8M109.6 667.7h0.8M111.9 671.4h0.8M108.4 673.4h0.8M114.4 670.3h0.8M108.1 672.0h0.8M108.1 676.0h0.8M111.1 674.0h0.8M109.9 667.6h0.8M109.8 676.0h0.8M113.3 668.9h0.8M111.8 673.4h0.8M112.4 669.9h0.8M108.4 667.1h0.8M109.1 667.8h0.8M105.4 664.4h0.8M113.4 665.6h0.8M106.2 669.8h0.8M115.2 675.0h0.8M109.2 665.9h0.8M108.8 666.4h0.8" stroke="#111" stroke-width="0.8" fill="none" opacity="1"/>
<path d="M114.8 670.6h0.7M112.8 666.4h0.7M116.0 668.9h0.7M114.0 666.3h0.7M112.5 666.5h0.7M119.1 668.2h0.7M104.7 671.1h0.7M116.7 666.1h0.7M110.4 672.9h0.7M125.5 676.4h0.7M114.1 669.1h0.7M120.1 664.8h0.7M124.0 666.6h0.7M118.4 665.1h0.7M118.5 669.0h0.7M121.3 665.1h0.7M117.0 675.2h0.7M112.2 670.2h0.7M118.8 667.3h0.7M115.9 673.8h0.7M121.6 670.9h0.7M118.1 665.2h0.7M117.4 675.1h0.7M121.2 664.4h0.7M108.7 666.7h0.7M117.7 667.1h0.7M115.8 670.2h0.7M120.6 669.7h0.7M122.0 664.2h0.7M118.9 670.4h0.7M111.0 673.3h0.7M110.6 664.1h0.7M127.7 673.4h0.7M118.5 673.6h0.7M121.6 665.2h0.7M118.9 673.8h0.7M116.4 669.3h0.7M115.1 671.5h0.7M114.8 667.0h0.7M112.1 665.8h0.7M117.9 670.6h0.7M115.4 665.4h0.7M118.4 670.2h0.7M122.1 667.3h0.7M115.3 670.8h0.7M123.1 668.8h0.7M116.7 665.8h0.7M115.5 672.2h0.7M120.4 672.8h0.7M110.4 671.9h0.7M113.3 671.0h0.7M107.5 668.7h0.7M113.4 673.4h0.7M117.5 673.5h0.7M115.2 675.7h0.7M115.2 675.5h0.7M115.0 665.6h0.7M120.6 667.6h0.7M116.8 664.4h0.7M115.6 669.4h0.7M114.2 670.3h0.7M107.7 672.1h0.7M115.4 674.0h0.7M115.6 666.8h0.7M115.2 670.0h0.7M119.4 667.4h0.7M113.8 670.5h0.7M120.3 663.0h0.7M112.8 666.7h0.7M123.9 673.2h0.7M120.2 670.7h0.7M112.5 672.9h0.7M115.2 666.3h0.7M124.8 664.0h0.7M122.6 669.7h0.7M113.3 669.6h0.7M113.6 669.6h0.7M114.4 664.9h0.7M127.8 667.3h0.7" stroke="#333" stroke-width="0.7" fill="none" opacity="0.6"/>
<path d="M105.6,662.2 L105.6,658.5 Q110,654.5 114.8,658.5 L114.8,662.2 Z" fill="#e3262c" opacity="0.85" filter="url(#b05)"/>
<path d="M110.1 657.8h0.8M106.8 659.2h0.8M111.4 657.7h0.8M112.5 656.9h0.8M118.2 659.6h0.8M112.7 661.3h0.8M112.3 659.5h0.8M109.1 662.3h0.8M113.6 659.1h0.8M107.1 657.0h0.8M115.1 662.2h0.8M105.6 661.4h0.8M112.3 658.6h0.8M110.7 653.3h0.8M108.2 653.2h0.8M110.6 658.2h0.8M109.5 656.9h0.8M113.3 656.2h0.8M113.2 660.7h0.8M112.7 658.2h0.8M111.0 661.0h0.8M110.0 658.6h0.8M108.2 661.8h0.8M110.7 661.1h0.8M113.1 661.4h0.8M109.1 657.6h0.8M109.2 661.1h0.8M108.9 660.8h0.8M109.6 656.9h0.8M112.3 657.1h0.8M104.9 654.6h0.8M110.4 661.8h0.8M114.3 657.6h0.8M106.0 661.7h0.8M113.0 659.3h0.8M110.4 660.2h0.8M116.9 658.6h0.8M106.1 656.8h0.8M111.0 657.8h0.8M111.2 659.2h0.8M114.1 654.5h0.8M113.0 659.9h0.8M105.6 657.0h0.8M109.0 656.8h0.8M110.2 652.4h0.8M111.6 659.3h0.8M108.1 662.2h0.8M112.3 659.1h0.8M110.6 658.1h0.8M111.5 657.8h0.8M111.8 654.1h0.8M111.5 657.2h0.8M109.4 658.0h0.8M111.4 662.0h0.8M111.9 659.6h0.8M110.4 659.1h0.8M107.1 662.4h0.8M110.4 657.7h0.8M110.1 661.9h0.8M106.4 652.6h0.8M112.9 658.3h0.8M111.9 659.8h0.8M107.9 657.7h0.8M113.1 660.3h0.8M109.7 654.7h0.8M110.6 660.5h0.8M112.3 662.4h0.8M107.5 661.0h0.8M108.1 659.4h0.8M114.2 660.9h0.8M114.2 651.0h0.8M108.1 660.4h0.8M114.8 658.9h0.8M106.4 660.8h0.8M111.8 655.1h0.8M111.3 656.2h0.8M108.2 652.4h0.8M109.8 661.8h0.8M108.4 655.4h0.8M110.1 662.0h0.8M107.4 662.0h0.8M109.7 660.8h0.8M107.3 661.4h0.8M107.6 662.4h0.8M111.1 657.7h0.8M111.8 659.4h0.8M109.2 662.2h0.8M113.6 655.9h0.8M107.3 659.5h0.8M111.1 660.7h0.8M116.4 658.2h0.8M107.9 652.7h0.8M112.9 661.2h0.8M109.0 653.8h0.8M114.0 655.7h0.8M110.3 661.3h0.8M111.3 658.3h0.8M104.7 657.6h0.8M110.4 655.4h0.8M113.2 656.3h0.8M112.9 656.4h0.8M113.3 659.3h0.8M112.6 661.1h0.8M112.3 660.2h0.8M108.4 657.7h0.8M112.5 657.8h0.8M108.1 660.0h0.8M108.6 657.8h0.8M109.9 658.3h0.8M108.3 661.3h0.8M114.6 661.9h0.8M109.3 659.2h0.8M112.2 654.5h0.8M113.2 657.2h0.8M111.7 656.6h0.8M107.5 650.7h0.8M108.6 658.1h0.8M110.4 659.1h0.8M108.9 662.4h0.8M115.1 659.3h0.8M111.1 655.4h0.8M108.8 657.1h0.8M111.5 661.1h0.8M108.8 654.9h0.8M109.1 661.7h0.8M108.3 661.7h0.8M113.4 660.6h0.8M109.3 660.6h0.8M106.6 661.8h0.8M106.6 654.0h0.8M107.8 660.8h0.8M108.9 655.4h0.8M115.4 660.1h0.8M108.1 661.9h0.8M110.7 662.4h0.8M109.7 659.0h0.8M112.2 661.5h0.8M112.5 658.8h0.8M112.4 661.9h0.8M113.4 661.5h0.8M109.1 660.5h0.8M106.1 656.7h0.8M108.1 657.9h0.8M106.9 661.8h0.8M105.1 656.9h0.8M108.1 661.8h0.8M112.3 652.2h0.8M113.8 657.1h0.8M113.1 661.9h0.8M113.4 657.3h0.8M109.1 657.3h0.8M109.2 658.5h0.8M116.8 661.1h0.8M114.3 654.0h0.8M109.3 661.4h0.8M109.5 660.7h0.8M109.7 660.3h0.8M110.0 658.5h0.8M109.5 661.3h0.8M109.3 661.5h0.8M110.9 656.5h0.8M109.8 655.4h0.8M106.5 657.4h0.8M110.1 660.6h0.8M109.9 659.5h0.8M109.8 658.2h0.8M110.2 659.3h0.8M107.5 661.1h0.8M110.3 660.5h0.8M110.5 656.5h0.8M109.6 656.6h0.8M111.9 659.8h0.8M113.8 658.7h0.8M107.4 650.7h0.8M108.3 652.4h0.8M105.3 655.6h0.8M110.6 657.1h0.8M108.0 656.5h0.8M107.8 657.6h0.8M109.7 660.6h0.8M109.4 650.8h0.8M110.5 660.2h0.8M105.2 654.5h0.8M110.3 661.2h0.8M106.6 659.0h0.8M109.8 656.4h0.8M105.3 662.0h0.8M110.2 660.7h0.8M107.8 660.0h0.8M112.3 660.2h0.8M110.6 654.5h0.8M113.8 661.9h0.8M109.8 658.3h0.8M107.6 660.1h0.8M115.8 661.5h0.8M111.6 661.2h0.8M113.3 662.3h0.8M107.8 661.5h0.8M114.1 661.9h0.8M113.5 662.0h0.8M115.7 662.1h0.8M112.0 661.1h0.8M112.5 661.1h0.8M106.2 661.4h0.8M106.9 661.0h0.8M112.4 655.5h0.8M112.1 662.3h0.8M114.4 650.4h0.8M112.0 659.4h0.8M105.8 650.5h0.8M111.1 660.5h0.8M105.6 660.4h0.8M114.3 658.1h0.8M111.7 659.7h0.8M107.7 656.1h0.8M111.0 654.0h0.8M110.5 657.0h0.8M110.9 661.2h0.8M109.4 660.2h0.8M115.5 659.8h0.8M108.7 652.1h0.8M115.4 656.6h0.8M113.5 657.8h0.8M109.6 659.6h0.8M113.3 657.8h0.8M107.3 656.9h0.8M109.3 657.6h0.8M111.2 660.8h0.8M116.5 660.8h0.8M111.0 659.8h0.8M110.9 661.6h0.8M111.8 661.4h0.8M112.5 658.4h0.8M109.3 656.6h0.8M106.9 662.0h0.8M109.8 660.6h0.8M111.3 662.1h0.8M114.5 659.6h0.8M108.7 657.6h0.8M112.2 660.2h0.8M109.3 658.9h0.8M111.1 656.3h0.8M107.7 659.5h0.8M116.2 658.4h0.8M110.1 661.4h0.8M107.5 662.0h0.8M110.7 659.8h0.8M114.1 658.9h0.8M110.7 662.2h0.8M115.0 660.8h0.8M110.2 655.7h0.8M110.6 659.5h0.8M110.4 658.5h0.8M110.7 658.9h0.8M108.4 659.2h0.8M110.8 656.1h0.8M112.5 660.6h0.8M107.8 657.9h0.8M111.9 657.4h0.8M110.8 658.4h0.8M109.2 659.5h0.8M108.1 654.1h0.8M109.1 660.4h0.8M109.8 649.1h0.8M111.8 661.7h0.8M108.3 661.8h0.8M109.4 660.1h0.8M109.5 658.8h0.8M112.6 656.6h0.8M113.0 659.0h0.8M110.3 652.0h0.8M110.0 657.9h0.8M110.2 657.0h0.8M113.7 661.7h0.8M108.0 658.9h0.8M111.9 657.8h0.8M110.6 655.9h0.8M109.8 658.7h0.8M110.6 660.6h0.8M108.3 661.4h0.8M106.0 658.5h0.8M116.0 662.1h0.8M110.1 657.6h0.8M108.0 652.0h0.8M110.4 657.1h0.8M115.2 660.2h0.8M110.2 658.2h0.8M112.0 661.3h0.8M106.0 658.2h0.8M109.4 652.2h0.8M105.8 659.1h0.8M105.4 660.4h0.8M108.6 661.5h0.8M108.1 660.9h0.8M116.3 662.0h0.8M110.7 656.9h0.8M114.2 657.9h0.8M106.4 654.6h0.8M108.6 656.4h0.8M111.8 656.1h0.8M115.1 652.3h0.8M108.5 659.7h0.8M114.0 659.6h0.8M109.2 660.7h0.8M109.3 662.2h0.8M106.8 657.1h0.8M104.8 660.3h0.8M107.5 652.4h0.8M107.8 659.0h0.8M111.9 659.2h0.8M110.4 659.7h0.8M108.3 661.5h0.8M106.4 657.9h0.8M107.1 660.5h0.8M112.2 660.9h0.8M113.8 659.9h0.8M104.3 658.1h0.8M115.6 657.3h0.8M109.0 659.2h0.8M109.1 656.3h0.8M109.1 654.7h0.8M112.1 660.5h0.8M109.8 657.1h0.8M111.4 653.5h0.8M109.5 657.3h0.8" stroke="#e3262c" stroke-width="0.8" fill="none" opacity="0.85"/>
<path d="M108.2 657.8h0.7M113.5 655.3h0.7M112.5 657.7h0.7M110.6 656.1h0.7M112.7 653.1h0.7M109.0 649.2h0.7M111.6 652.3h0.7M113.1 657.3h0.7M109.9 654.8h0.7M111.8 649.0h0.7M106.9 657.4h0.7M105.4 648.3h0.7M109.1 654.0h0.7M109.9 653.9h0.7M109.3 657.8h0.7M112.9 653.2h0.7M114.3 656.5h0.7M107.9 657.2h0.7M106.5 657.0h0.7M107.4 656.0h0.7M110.7 655.2h0.7M111.2 642.0h0.7M109.6 656.3h0.7M111.1 653.4h0.7M107.6 655.6h0.7M112.2 653.2h0.7M108.3 648.4h0.7M112.4 650.3h0.7M106.9 654.2h0.7M111.4 648.2h0.7M110.8 656.5h0.7M110.3 656.8h0.7M111.3 652.2h0.7M110.4 655.0h0.7M108.7 645.8h0.7M110.5 649.4h0.7M117.0 650.5h0.7M111.7 654.0h0.7M115.3 655.6h0.7M110.1 651.3h0.7M113.4 647.1h0.7M114.8 657.5h0.7M107.5 656.2h0.7M112.3 653.4h0.7M110.9 652.6h0.7M108.3 653.2h0.7M114.4 654.3h0.7M111.0 650.9h0.7M108.2 652.8h0.7M114.1 648.1h0.7M109.5 646.7h0.7M112.5 650.1h0.7M108.0 657.7h0.7M103.9 655.4h0.7M107.0 652.6h0.7M111.7 649.3h0.7M114.6 656.3h0.7M108.4 640.4h0.7M113.6 652.4h0.7M110.5 651.3h0.7M108.2 657.5h0.7M109.0 654.5h0.7M115.1 641.4h0.7M115.6 653.3h0.7M111.5 650.0h0.7M105.7 652.6h0.7M112.4 651.3h0.7M105.9 655.4h0.7M106.8 657.8h0.7M114.3 657.9h0.7M109.0 650.4h0.7M110.1 654.5h0.7M107.9 656.9h0.7M103.9 655.7h0.7M113.5 656.7h0.7M109.7 650.5h0.7M113.4 653.5h0.7M107.8 650.5h0.7M114.8 655.1h0.7M110.9 654.8h0.7M108.4 652.3h0.7M107.5 643.4h0.7M113.7 651.4h0.7M111.2 653.1h0.7M106.5 654.4h0.7M108.0 655.0h0.7M112.6 657.1h0.7M110.1 656.6h0.7M112.9 651.3h0.7M112.0 654.7h0.7M105.9 647.5h0.7M111.8 658.0h0.7M110.9 656.0h0.7M106.1 655.1h0.7M113.2 657.3h0.7M109.6 657.5h0.7M105.5 652.6h0.7M114.1 655.6h0.7M108.0 656.2h0.7M108.9 654.7h0.7M110.6 652.4h0.7M111.9 646.9h0.7M108.7 649.9h0.7M110.0 653.4h0.7M113.8 656.5h0.7M115.6 648.2h0.7M112.6 654.2h0.7M112.2 646.9h0.7M108.2 649.6h0.7M112.3 655.1h0.7M108.5 656.8h0.7M106.7 648.2h0.7M112.6 657.1h0.7M114.3 656.6h0.7M111.4 648.4h0.7M112.1 646.5h0.7M109.3 649.7h0.7M110.6 656.4h0.7" stroke="#f08a8c" stroke-width="0.7" fill="none" opacity="0.8"/>
<path d="M45.5,730 L45.5,721 Q51,714.5 56.5,720 Q58,726 58,730 Z" fill="#0a0a0a" filter="url(#b1)"/>
<path d="M72.2 712.2h0.8M53.5 718.2h0.8M54.4 714.4h0.8M54.8 723.0h0.8M55.4 725.3h0.8M54.1 717.4h0.8M53.7 730.4h0.8M52.7 728.6h0.8M54.0 729.9h0.8M48.6 720.8h0.8M54.7 717.2h0.8M56.1 719.8h0.8M58.5 721.6h0.8M47.6 730.2h0.8M44.6 725.2h0.8M51.4 728.3h0.8M47.2 726.3h0.8M61.3 723.8h0.8M46.7 724.0h0.8M52.5 718.9h0.8M61.6 706.8h0.8M55.0 720.6h0.8M56.0 717.6h0.8M55.6 729.7h0.8M51.5 726.3h0.8M54.5 730.4h0.8M56.7 727.2h0.8M49.6 721.0h0.8M51.9 718.9h0.8M59.9 720.1h0.8M56.9 728.1h0.8M48.9 727.9h0.8M53.0 723.1h0.8M59.0 724.4h0.8M60.9 717.2h0.8M50.9 728.7h0.8M46.4 723.9h0.8M57.8 726.9h0.8M54.8 726.0h0.8M44.1 729.3h0.8M54.2 727.0h0.8M52.4 724.6h0.8M53.4 727.6h0.8M54.4 726.5h0.8M55.6 729.0h0.8M53.0 729.7h0.8M52.7 716.8h0.8M53.7 727.8h0.8M54.7 721.4h0.8M50.7 728.5h0.8M50.5 728.0h0.8M51.0 726.1h0.8M54.0 728.1h0.8M51.3 729.4h0.8M51.6 711.0h0.8M45.6 719.3h0.8M52.8 723.4h0.8M63.8 714.8h0.8M59.7 723.8h0.8M51.0 726.4h0.8M50.2 729.3h0.8M54.2 724.2h0.8M53.2 728.0h0.8M52.6 723.3h0.8M48.6 722.4h0.8M54.3 729.0h0.8M53.6 728.6h0.8M55.7 716.2h0.8M54.6 720.6h0.8M48.1 719.5h0.8M52.7 727.5h0.8M51.2 725.9h0.8M53.9 719.9h0.8M53.6 722.3h0.8M61.3 718.2h0.8M52.8 718.7h0.8M53.6 728.6h0.8M67.4 712.1h0.8M57.5 726.4h0.8M70.8 716.2h0.8M46.8 729.2h0.8M60.9 719.6h0.8M65.1 711.0h0.8M50.8 730.4h0.8M55.7 723.9h0.8M52.2 728.3h0.8M51.6 724.6h0.8M59.0 717.6h0.8M44.3 711.2h0.8M53.7 720.5h0.8M52.2 726.4h0.8M51.1 727.2h0.8M53.6 721.1h0.8M52.8 728.9h0.8M60.6 728.6h0.8M55.7 722.4h0.8M55.2 725.0h0.8M50.8 728.1h0.8M67.7 703.7h0.8M53.1 729.0h0.8M54.7 727.1h0.8M46.3 717.9h0.8M55.1 728.8h0.8M55.3 723.3h0.8M51.4 724.4h0.8M50.5 729.0h0.8M52.5 727.9h0.8M56.5 725.1h0.8M52.7 718.7h0.8M51.1 722.4h0.8M50.6 721.6h0.8M45.8 717.9h0.8M55.5 712.9h0.8M52.0 718.6h0.8M47.7 716.3h0.8M56.2 725.3h0.8M57.3 720.6h0.8M59.9 727.6h0.8M48.4 729.8h0.8M56.7 720.0h0.8M52.0 729.2h0.8M52.6 727.0h0.8M56.3 725.1h0.8M53.4 716.2h0.8M51.2 727.5h0.8M53.3 730.1h0.8M54.1 722.6h0.8M57.1 717.0h0.8M56.3 724.3h0.8M52.8 727.8h0.8M59.0 726.8h0.8M53.4 728.3h0.8M61.3 720.8h0.8M54.0 729.6h0.8M58.4 723.3h0.8M62.3 726.6h0.8M57.8 719.9h0.8M62.4 723.3h0.8M56.4 719.8h0.8M63.7 722.1h0.8M56.5 724.0h0.8M53.0 727.9h0.8M56.7 712.8h0.8M48.1 724.9h0.8M53.4 729.3h0.8M50.0 724.8h0.8M51.9 722.6h0.8M57.9 716.4h0.8M52.4 718.7h0.8M51.6 728.7h0.8M54.3 711.1h0.8M57.9 722.9h0.8M53.7 719.2h0.8M51.3 719.7h0.8M55.6 712.4h0.8M56.7 730.4h0.8M55.8 719.4h0.8M55.1 726.7h0.8M53.7 718.8h0.8M57.1 730.0h0.8M57.6 709.2h0.8M55.6 727.9h0.8M51.7 726.6h0.8M48.5 718.3h0.8M53.1 724.4h0.8M50.5 726.8h0.8M49.9 729.4h0.8M61.2 719.8h0.8M63.9 708.1h0.8M54.7 721.2h0.8M59.2 716.9h0.8M53.5 726.7h0.8M55.4 727.2h0.8M46.9 709.5h0.8M47.7 715.4h0.8M52.5 727.5h0.8M46.4 728.5h0.8M48.9 725.4h0.8M55.2 711.5h0.8M55.0 724.6h0.8M48.9 728.2h0.8M50.8 722.7h0.8M62.2 721.2h0.8M62.7 717.3h0.8M55.4 718.5h0.8M48.1 728.8h0.8M49.3 721.1h0.8M52.6 722.6h0.8M54.2 726.0h0.8M70.4 716.9h0.8M54.5 729.9h0.8M59.6 719.9h0.8M55.5 729.6h0.8M52.1 723.9h0.8M59.4 726.2h0.8M52.7 720.5h0.8M57.8 723.5h0.8M48.9 727.1h0.8M48.7 726.0h0.8M54.0 715.2h0.8M50.6 721.4h0.8M52.8 720.5h0.8M55.3 728.4h0.8M56.3 711.8h0.8M50.8 728.8h0.8M57.0 721.4h0.8M53.8 721.8h0.8M53.1 712.7h0.8M54.6 713.8h0.8M54.2 727.1h0.8M58.3 713.5h0.8M54.8 723.2h0.8M63.8 722.6h0.8M51.7 709.1h0.8M53.2 728.1h0.8M50.4 728.7h0.8M61.1 719.8h0.8M61.0 724.1h0.8M54.9 721.1h0.8M58.0 727.6h0.8M52.8 725.5h0.8M57.0 730.0h0.8M52.5 724.1h0.8M59.4 719.3h0.8M51.7 722.5h0.8M51.9 726.2h0.8M51.6 730.0h0.8M54.1 728.0h0.8M50.4 728.8h0.8M54.2 723.3h0.8M52.7 726.1h0.8M49.8 727.6h0.8M53.6 730.1h0.8M50.0 725.3h0.8M55.1 720.1h0.8M62.7 717.0h0.8M52.4 727.4h0.8M50.3 730.3h0.8M56.8 717.2h0.8M62.1 712.4h0.8M62.5 718.9h0.8M57.3 713.4h0.8M53.6 710.1h0.8M44.8 728.3h0.8M59.2 722.2h0.8M52.3 730.1h0.8M55.5 725.4h0.8M57.4 727.9h0.8M59.4 714.3h0.8M57.7 728.2h0.8M50.5 724.5h0.8M67.1 717.5h0.8M61.4 721.6h0.8M56.7 729.4h0.8M50.6 726.7h0.8M53.1 721.4h0.8M55.8 729.9h0.8M50.4 728.8h0.8M62.5 722.7h0.8M58.1 730.1h0.8M54.8 724.7h0.8M47.2 730.1h0.8M46.8 730.0h0.8M62.2 723.8h0.8M58.5 708.3h0.8M67.8 705.6h0.8M62.4 721.4h0.8M51.2 726.7h0.8M53.8 710.7h0.8M69.1 714.7h0.8M54.6 728.8h0.8M48.3 723.5h0.8M51.8 721.1h0.8M50.5 716.9h0.8M58.3 719.4h0.8M47.6 724.9h0.8M50.1 729.9h0.8M56.4 729.4h0.8M59.0 722.3h0.8M63.8 709.6h0.8M52.3 719.7h0.8M52.5 728.4h0.8M54.2 727.5h0.8M51.3 723.4h0.8M54.0 728.8h0.8M59.7 720.6h0.8M52.8 729.8h0.8M56.1 717.6h0.8M53.2 719.6h0.8M54.9 729.8h0.8M61.1 721.2h0.8M54.6 704.1h0.8M50.5 728.8h0.8M59.4 720.6h0.8M65.4 713.8h0.8M64.8 706.1h0.8M53.0 730.2h0.8M60.8 709.3h0.8M52.4 722.3h0.8M51.0 729.7h0.8M47.8 723.3h0.8M62.9 717.1h0.8M51.7 725.3h0.8M57.6 710.4h0.8M59.0 723.1h0.8M67.6 720.4h0.8M55.7 722.2h0.8M56.9 729.3h0.8M54.2 730.1h0.8M58.2 716.9h0.8M65.5 703.9h0.8M64.8 715.3h0.8M55.8 718.8h0.8M53.0 728.3h0.8M52.4 727.9h0.8M58.8 730.4h0.8M48.5 725.4h0.8M51.3 729.7h0.8M52.1 706.9h0.8M55.7 725.8h0.8M60.5 721.9h0.8M49.0 725.3h0.8M61.4 725.4h0.8M53.1 715.9h0.8M51.4 703.5h0.8M54.7 728.8h0.8M54.8 721.0h0.8M53.6 729.7h0.8M47.8 728.5h0.8M62.8 713.1h0.8M50.3 712.4h0.8M53.4 716.4h0.8M52.3 728.1h0.8M45.9 722.9h0.8M66.1 722.7h0.8M50.3 710.0h0.8M50.0 729.6h0.8M61.8 722.5h0.8M51.5 724.8h0.8M57.2 726.1h0.8M51.8 724.6h0.8M56.3 727.0h0.8M58.8 723.7h0.8M54.2 730.1h0.8M48.2 729.6h0.8M44.4 724.9h0.8M57.1 723.5h0.8M58.8 727.9h0.8M50.9 721.9h0.8M66.3 712.7h0.8M59.3 712.9h0.8M58.7 722.4h0.8M52.7 727.9h0.8M61.0 714.1h0.8M58.9 723.1h0.8M56.3 726.8h0.8M61.8 722.1h0.8M56.0 724.7h0.8M59.3 720.9h0.8M56.4 722.6h0.8M58.3 728.8h0.8M49.5 728.0h0.8M54.8 727.5h0.8M60.1 721.8h0.8M58.0 721.7h0.8M47.7 712.9h0.8M59.6 716.1h0.8M54.9 718.6h0.8M56.9 719.7h0.8M56.3 720.9h0.8M59.9 714.8h0.8M52.4 727.2h0.8M51.6 717.3h0.8M52.3 726.8h0.8M50.2 727.6h0.8M50.9 723.8h0.8M56.2 720.6h0.8M51.4 723.1h0.8M54.3 718.7h0.8M64.4 712.1h0.8M52.1 725.6h0.8M53.3 720.5h0.8M51.7 727.5h0.8M55.5 711.7h0.8M55.6 726.1h0.8M58.4 730.2h0.8M57.3 721.3h0.8M56.6 726.1h0.8M66.3 709.3h0.8M62.5 715.8h0.8M51.7 726.5h0.8M53.2 728.2h0.8M59.3 725.5h0.8M56.0 719.4h0.8M60.8 720.6h0.8M57.0 715.6h0.8M54.7 715.6h0.8M56.3 725.9h0.8M52.0 727.1h0.8M51.1 729.1h0.8M47.4 728.8h0.8M56.2 718.4h0.8M54.9 722.3h0.8M53.8 723.2h0.8M64.5 722.6h0.8M58.7 726.8h0.8M57.4 729.2h0.8M52.7 724.0h0.8M53.2 723.5h0.8M54.3 724.1h0.8M53.2 719.4h0.8M55.8 723.8h0.8M57.4 726.9h0.8M56.7 706.0h0.8M55.5 721.7h0.8M54.2 722.7h0.8M72.4 713.8h0.8M59.5 718.3h0.8M50.6 730.1h0.8M53.4 716.5h0.8M59.2 716.3h0.8M48.5 729.8h0.8M55.1 720.6h0.8M55.6 717.2h0.8M55.9 719.9h0.8M55.9 724.2h0.8M54.0 725.6h0.8M57.7 729.0h0.8M59.9 726.7h0.8M52.3 724.3h0.8M60.8 725.4h0.8M57.9 722.8h0.8M54.1 717.4h0.8M62.9 716.8h0.8M58.1 723.7h0.8M57.2 724.3h0.8M53.2 721.9h0.8M49.6 724.1h0.8M53.1 723.8h0.8M61.2 722.4h0.8M62.2 728.2h0.8M55.6 727.8h0.8M53.4 715.8h0.8M69.5 709.7h0.8M58.2 720.7h0.8M48.7 724.5h0.8M69.1 714.0h0.8M52.3 713.4h0.8M50.7 727.0h0.8M45.0 729.3h0.8M52.6 724.2h0.8M51.8 730.2h0.8M56.1 715.6h0.8M59.8 719.4h0.8M55.1 729.9h0.8M55.4 729.9h0.8M55.5 726.7h0.8M50.9 722.6h0.8M56.3 730.1h0.8M55.0 730.0h0.8M54.9 715.5h0.8M54.6 730.2h0.8M56.3 723.9h0.8M52.4 722.8h0.8M54.6 719.2h0.8M56.5 722.8h0.8M62.4 721.0h0.8M48.2 730.0h0.8M45.8 724.6h0.8M53.5 722.8h0.8M56.4 721.8h0.8M64.5 718.1h0.8M62.0 712.9h0.8M55.4 726.6h0.8M56.4 726.1h0.8M57.3 710.6h0.8M57.9 720.8h0.8M55.0 719.1h0.8M51.2 724.6h0.8M51.1 722.5h0.8M51.3 721.4h0.8M58.8 720.4h0.8M53.4 720.8h0.8M56.4 721.7h0.8M49.9 730.1h0.8M53.0 726.7h0.8M61.6 707.9h0.8M56.6 728.3h0.8M50.3 728.8h0.8M57.5 726.6h0.8M52.8 729.7h0.8M49.6 729.5h0.8M53.3 728.9h0.8M52.0 718.7h0.8M51.2 721.6h0.8M58.4 721.9h0.8M52.7 708.1h0.8M58.6 714.6h0.8M53.3 730.4h0.8M51.5 723.8h0.8M49.2 721.8h0.8M59.1 721.6h0.8M56.9 726.7h0.8M51.5 726.9h0.8M46.3 728.4h0.8M50.7 725.2h0.8M49.7 720.9h0.8M51.8 729.5h0.8M53.7 718.7h0.8M48.2 707.4h0.8M58.8 722.3h0.8M58.9 722.5h0.8M60.7 724.6h0.8M57.6 725.1h0.8M45.3 724.8h0.8M57.2 726.7h0.8M57.0 724.2h0.8M63.0 716.3h0.8M58.3 718.6h0.8M50.8 725.9h0.8M54.2 717.7h0.8M52.7 729.1h0.8M58.1 726.5h0.8M51.7 716.2h0.8M48.1 727.9h0.8M56.6 722.2h0.8M52.2 724.0h0.8M64.5 713.5h0.8M53.5 717.5h0.8M61.9 725.4h0.8M70.9 713.9h0.8M49.4 727.8h0.8M51.3 724.4h0.8M55.7 725.4h0.8M60.9 721.5h0.8M68.7 720.4h0.8M61.6 718.1h0.8M51.1 717.9h0.8M50.8 725.9h0.8M53.5 724.3h0.8M51.9 729.6h0.8M57.2 719.8h0.8M61.5 718.1h0.8M60.7 729.1h0.8M50.3 716.9h0.8M60.9 720.8h0.8M47.7 724.1h0.8M53.2 726.5h0.8M46.4 715.7h0.8M51.4 728.4h0.8M52.0 728.5h0.8M55.5 729.3h0.8M52.7 728.4h0.8M57.3 716.4h0.8M48.5 727.7h0.8M50.1 727.8h0.8M57.7 729.0h0.8M61.1 715.4h0.8M49.8 723.6h0.8M49.9 711.6h0.8M52.5 720.9h0.8M50.1 717.2h0.8M58.2 722.0h0.8M49.1 718.9h0.8M47.9 728.0h0.8M52.2 720.4h0.8M63.2 704.4h0.8M57.1 721.4h0.8M53.1 728.4h0.8M50.3 724.9h0.8M56.4 722.0h0.8M50.8 718.7h0.8M52.4 723.1h0.8M50.0 717.3h0.8M56.3 703.1h0.8M51.9 730.4h0.8M47.6 728.9h0.8M48.8 722.5h0.8M53.7 726.5h0.8M54.0 721.4h0.8M53.3 729.8h0.8M51.7 727.0h0.8M57.4 727.0h0.8M61.1 719.5h0.8M50.0 719.1h0.8M53.4 729.8h0.8M51.6 727.9h0.8M60.9 730.2h0.8M57.7 725.1h0.8M52.6 713.5h0.8M59.3 721.5h0.8M49.2 730.3h0.8M63.5 718.9h0.8M52.8 719.7h0.8M52.6 726.0h0.8M56.7 720.0h0.8M53.7 718.7h0.8M46.9 720.0h0.8M51.6 723.7h0.8M54.4 726.2h0.8M56.9 729.7h0.8M52.4 729.9h0.8M60.1 721.0h0.8M50.8 726.4h0.8M64.6 715.3h0.8M51.3 727.8h0.8M49.8 709.2h0.8M59.5 708.3h0.8M64.8 716.5h0.8M51.1 712.3h0.8M50.2 730.1h0.8M55.9 720.7h0.8M60.0 719.4h0.8M58.1 727.5h0.8M45.1 730.0h0.8M53.9 726.8h0.8M56.9 724.8h0.8M50.3 728.8h0.8M58.8 716.4h0.8M57.4 722.5h0.8M51.1 721.6h0.8M48.4 724.5h0.8M50.1 717.0h0.8M62.5 716.3h0.8M55.7 726.5h0.8M47.8 711.7h0.8M54.8 711.9h0.8M51.4 724.1h0.8M53.9 728.4h0.8M60.4 722.1h0.8M51.2 721.1h0.8M60.0 727.4h0.8M53.5 730.1h0.8M54.2 729.2h0.8M55.7 726.3h0.8M59.1 728.0h0.8M56.9 722.2h0.8M58.3 728.5h0.8M52.7 708.7h0.8M54.4 729.6h0.8M48.3 727.5h0.8M52.8 727.9h0.8M53.6 722.6h0.8M52.3 729.6h0.8M57.6 711.6h0.8M51.8 716.6h0.8M53.5 727.1h0.8M52.2 721.0h0.8M60.3 720.7h0.8M53.6 711.1h0.8M52.1 728.8h0.8M55.4 730.1h0.8M53.9 723.4h0.8M51.8 726.0h0.8M49.7 724.3h0.8M51.5 722.8h0.8M51.2 724.2h0.8M45.1 728.3h0.8M56.8 728.0h0.8M54.4 726.1h0.8M56.0 724.3h0.8M58.9 727.7h0.8M51.0 726.0h0.8M54.0 717.3h0.8M50.4 723.3h0.8M56.6 726.1h0.8M59.1 712.1h0.8M56.1 729.0h0.8M54.3 720.2h0.8M54.6 723.6h0.8M55.8 719.1h0.8M59.1 729.6h0.8M59.9 711.6h0.8M58.0 716.5h0.8M49.1 729.9h0.8M60.6 720.8h0.8M55.8 730.4h0.8M61.2 717.3h0.8M49.5 724.4h0.8M55.2 708.6h0.8M54.9 718.2h0.8M55.8 727.3h0.8M55.9 724.2h0.8M55.1 730.0h0.8M57.0 717.9h0.8M53.7 729.5h0.8M60.1 718.3h0.8M47.4 721.0h0.8M66.8 709.3h0.8M55.6 722.8h0.8M51.6 726.5h0.8M63.7 723.1h0.8M57.9 728.7h0.8M51.7 719.7h0.8M53.2 726.4h0.8M49.9 728.6h0.8M57.9 728.1h0.8M52.8 720.1h0.8M57.1 718.4h0.8M52.4 725.9h0.8M55.9 726.7h0.8M53.0 726.5h0.8M49.7 722.9h0.8M54.6 721.7h0.8M67.3 711.8h0.8M56.9 727.3h0.8M55.6 723.8h0.8M56.7 729.1h0.8M52.2 724.8h0.8M59.4 719.7h0.8M51.2 728.7h0.8M53.7 717.3h0.8M56.2 722.8h0.8M52.9 725.7h0.8M56.3 714.6h0.8M62.3 712.9h0.8M63.3 717.1h0.8M64.3 722.1h0.8M58.7 723.2h0.8M58.6 723.6h0.8M52.2 729.7h0.8M54.5 727.0h0.8M53.8 713.6h0.8M51.2 725.4h0.8M51.5 725.9h0.8M49.0 719.2h0.8M51.8 722.0h0.8M54.7 724.7h0.8M57.4 728.9h0.8M49.4 720.9h0.8M52.0 716.9h0.8M53.2 719.7h0.8M52.8 722.8h0.8M59.0 721.3h0.8M51.8 723.0h0.8M59.2 723.9h0.8M51.1 726.2h0.8M45.5 722.1h0.8M46.9 720.0h0.8M51.1 730.2h0.8M58.9 720.8h0.8M58.1 715.1h0.8M60.9 721.2h0.8M54.9 723.2h0.8M51.5 713.9h0.8M61.2 720.7h0.8M53.8 725.5h0.8M45.2 726.5h0.8M52.2 711.2h0.8M60.9 723.6h0.8M52.1 714.0h0.8M50.8 722.4h0.8M47.7 717.5h0.8M60.8 713.1h0.8M57.8 717.8h0.8M52.0 729.1h0.8M57.6 730.1h0.8M51.6 726.8h0.8M54.3 712.5h0.8M57.3 718.1h0.8M48.7 723.2h0.8M57.1 703.5h0.8M66.0 713.0h0.8M53.9 724.3h0.8M69.4 710.5h0.8M52.4 721.0h0.8M51.3 714.3h0.8M58.7 723.1h0.8M60.7 705.7h0.8M54.6 728.5h0.8M56.7 727.6h0.8M54.7 724.9h0.8M55.6 726.2h0.8M68.4 705.3h0.8M59.6 714.5h0.8M54.9 727.3h0.8M50.5 713.6h0.8M50.2 725.9h0.8M59.6 712.7h0.8M56.9 724.9h0.8M62.4 717.3h0.8M52.9 722.2h0.8M51.6 725.0h0.8M47.6 730.1h0.8M52.9 723.3h0.8M54.1 721.7h0.8M60.2 725.4h0.8M54.6 722.9h0.8M48.8 729.2h0.8M53.1 727.1h0.8M55.0 721.5h0.8M54.5 727.5h0.8M55.5 726.7h0.8M57.4 725.7h0.8M59.0 717.2h0.8M56.4 719.1h0.8M69.6 709.7h0.8M51.6 725.2h0.8M53.4 722.6h0.8M57.0 715.8h0.8M51.2 730.2h0.8M52.1 725.9h0.8M55.5 712.1h0.8M56.0 721.5h0.8M47.1 728.7h0.8M51.2 728.4h0.8M58.4 724.5h0.8M52.0 730.4h0.8M49.4 723.0h0.8M59.5 721.9h0.8M62.8 726.0h0.8M55.6 729.1h0.8M49.2 730.1h0.8M50.3 730.4h0.8M54.3 726.5h0.8M53.4 720.7h0.8M75.6 711.9h0.8M53.8 728.3h0.8M52.7 729.2h0.8M61.4 718.3h0.8M49.6 725.4h0.8M74.8 706.0h0.8M46.2 729.1h0.8M50.3 720.0h0.8M56.0 728.4h0.8M55.0 723.6h0.8M50.8 714.3h0.8M51.9 714.4h0.8M50.2 720.2h0.8M51.8 729.1h0.8M56.9 727.4h0.8M54.2 715.9h0.8M55.4 728.1h0.8M58.4 713.9h0.8M54.1 713.6h0.8M59.2 718.9h0.8M54.1 727.5h0.8M53.7 727.4h0.8M48.4 720.0h0.8M53.1 725.3h0.8M59.5 718.2h0.8M54.1 711.1h0.8M50.4 726.5h0.8M50.6 724.7h0.8M49.6 725.2h0.8M51.8 729.0h0.8M45.3 726.2h0.8M51.2 717.9h0.8M48.2 724.0h0.8M54.0 727.8h0.8M52.6 729.6h0.8M49.5 729.1h0.8M49.3 725.6h0.8M59.6 720.6h0.8M58.3 719.8h0.8M48.4 725.1h0.8M57.3 720.1h0.8M55.2 716.5h0.8M63.9 727.0h0.8M58.2 716.4h0.8M70.3 718.7h0.8M46.5 730.2h0.8M49.2 724.6h0.8M50.9 718.3h0.8M50.1 729.4h0.8M55.8 724.6h0.8M58.1 704.7h0.8M49.4 710.2h0.8M54.7 727.4h0.8M53.4 724.3h0.8M48.5 716.2h0.8M54.6 719.7h0.8M56.9 717.8h0.8M58.5 730.5h0.8M57.4 726.4h0.8M55.0 721.3h0.8M57.6 719.4h0.8M53.5 723.4h0.8M51.9 720.5h0.8M58.4 721.5h0.8M50.4 723.6h0.8M52.1 721.1h0.8M65.4 717.2h0.8M57.0 729.9h0.8M60.4 725.0h0.8M49.4 720.9h0.8M48.1 724.4h0.8M51.9 718.0h0.8M55.1 713.9h0.8M57.6 710.1h0.8M48.5 730.1h0.8M56.3 718.8h0.8M55.1 721.2h0.8M52.6 719.7h0.8M52.7 722.0h0.8M53.1 725.4h0.8M57.8 727.9h0.8M55.9 719.1h0.8M55.2 721.9h0.8M60.4 724.7h0.8M52.1 727.7h0.8M57.4 726.7h0.8M55.9 726.7h0.8M48.6 722.3h0.8M49.2 717.0h0.8M60.5 714.3h0.8M52.8 727.2h0.8M52.7 724.8h0.8M56.0 722.1h0.8M53.1 729.9h0.8M56.8 730.4h0.8M63.5 723.2h0.8M53.0 717.6h0.8M65.3 705.9h0.8M59.6 718.7h0.8M52.7 707.5h0.8M56.0 722.9h0.8M53.8 729.6h0.8M57.1 722.1h0.8M48.2 724.4h0.8M59.0 725.3h0.8M55.5 724.1h0.8M61.0 724.7h0.8M50.3 724.5h0.8M58.7 725.4h0.8M51.9 718.0h0.8M57.7 725.4h0.8M62.4 726.0h0.8M55.8 721.7h0.8M56.6 721.7h0.8M53.6 727.8h0.8M58.7 720.1h0.8M54.9 719.3h0.8M49.7 722.0h0.8M51.9 714.2h0.8M52.2 725.7h0.8M56.1 721.6h0.8M48.5 730.2h0.8M46.6 729.6h0.8M55.2 723.6h0.8M54.3 719.4h0.8M51.4 729.3h0.8M49.5 728.3h0.8M58.3 706.7h0.8M54.1 728.7h0.8M48.9 729.2h0.8M57.3 713.2h0.8M50.6 718.8h0.8M58.9 721.8h0.8M48.3 725.4h0.8M51.9 717.4h0.8M53.6 726.1h0.8M53.6 712.5h0.8M45.4 724.4h0.8M48.5 729.7h0.8M56.6 718.6h0.8M58.0 723.0h0.8M50.1 730.2h0.8M48.6 718.5h0.8M60.7 721.4h0.8M48.1 727.4h0.8M53.8 723.5h0.8M55.2 723.7h0.8M54.1 720.5h0.8M56.3 727.3h0.8M54.6 720.8h0.8M49.4 728.3h0.8M60.0 721.6h0.8M60.3 727.9h0.8M55.9 727.1h0.8M53.0 727.8h0.8M56.3 727.8h0.8M53.5 722.9h0.8M52.0 724.3h0.8M47.3 730.1h0.8M53.3 725.9h0.8M56.9 724.7h0.8M52.1 714.8h0.8M56.2 724.7h0.8M58.0 712.6h0.8M52.8 722.8h0.8M52.1 729.5h0.8M74.0 711.3h0.8M51.5 730.3h0.8M68.6 709.1h0.8M50.3 728.8h0.8M52.2 714.0h0.8M54.1 723.8h0.8M54.7 720.4h0.8M63.8 707.7h0.8M58.7 719.6h0.8M55.9 729.2h0.8M56.2 717.1h0.8M53.1 729.9h0.8M52.0 713.4h0.8M49.6 724.8h0.8M62.9 720.8h0.8M56.6 724.7h0.8M54.8 728.7h0.8M58.3 727.7h0.8M52.9 721.5h0.8M50.8 724.4h0.8M58.4 729.3h0.8M48.3 716.7h0.8M49.9 719.9h0.8M48.9 724.2h0.8M51.4 722.0h0.8M56.3 723.4h0.8M49.6 729.3h0.8M53.0 719.4h0.8M51.6 722.9h0.8M52.0 729.9h0.8M51.4 722.5h0.8M48.9 721.0h0.8M54.8 710.7h0.8M57.5 719.5h0.8M50.9 725.5h0.8M54.7 716.9h0.8M54.4 725.9h0.8M57.7 716.9h0.8M52.0 730.5h0.8M54.3 712.0h0.8M47.9 726.4h0.8M59.1 718.5h0.8M52.9 730.4h0.8M58.0 725.7h0.8M55.2 724.6h0.8M54.3 717.5h0.8M68.5 711.1h0.8M52.5 730.0h0.8M54.7 725.2h0.8M56.0 714.5h0.8M59.6 711.2h0.8M56.1 725.2h0.8M51.7 719.3h0.8M51.0 728.7h0.8M55.7 728.9h0.8M60.7 708.2h0.8M59.7 725.7h0.8M61.4 715.0h0.8M51.1 728.3h0.8M53.4 728.2h0.8M52.5 715.5h0.8M66.3 708.5h0.8M51.9 727.5h0.8M60.7 721.6h0.8M51.2 724.7h0.8M53.5 720.6h0.8M51.7 730.5h0.8M51.9 729.2h0.8M53.7 706.4h0.8M53.7 719.4h0.8M56.0 724.9h0.8M46.4 713.8h0.8M58.5 717.8h0.8M48.9 711.7h0.8M78.1 705.2h0.8M55.1 721.5h0.8M56.4 718.2h0.8M64.6 713.5h0.8M60.0 719.9h0.8M57.0 715.2h0.8M51.7 726.6h0.8M56.2 722.0h0.8M55.7 723.3h0.8M56.0 728.2h0.8M56.3 729.3h0.8M61.2 721.3h0.8M61.3 717.0h0.8M48.3 725.7h0.8M51.4 726.9h0.8M58.3 725.2h0.8M62.7 711.5h0.8M54.7 726.8h0.8M56.7 728.8h0.8M50.0 709.4h0.8M52.9 726.2h0.8M52.5 725.8h0.8M55.7 724.6h0.8M55.6 728.1h0.8M59.2 718.8h0.8M55.1 724.6h0.8M57.6 718.2h0.8M69.1 718.0h0.8M56.0 711.9h0.8M56.8 713.3h0.8" stroke="#111" stroke-width="0.8" fill="none" opacity="1"/>
<path d="M66.9 704.9h0.7M64.9 705.1h0.7M52.7 704.6h0.7M53.8 700.4h0.7M66.5 704.9h0.7M57.6 701.4h0.7M61.2 703.9h0.7M54.1 702.1h0.7M63.4 704.5h0.7M65.6 703.9h0.7M53.1 704.4h0.7M61.6 704.7h0.7M53.5 701.4h0.7M58.9 700.6h0.7M60.0 703.6h0.7M52.1 705.0h0.7M62.4 704.5h0.7M52.9 704.2h0.7M64.8 704.2h0.7M56.3 703.8h0.7M55.5 702.6h0.7M52.7 704.5h0.7M53.1 704.1h0.7M63.3 704.0h0.7M53.5 704.6h0.7M67.1 704.8h0.7M60.7 703.3h0.7M62.6 705.0h0.7M54.4 705.2h0.7M60.5 705.1h0.7M61.5 702.9h0.7M60.9 699.3h0.7M52.6 705.3h0.7M63.6 704.8h0.7M66.7 705.0h0.7M51.3 704.9h0.7M66.6 704.3h0.7M68.6 703.9h0.7M66.3 701.7h0.7M50.3 702.4h0.7M56.5 704.9h0.7M60.0 703.8h0.7M50.9 703.8h0.7M63.6 705.0h0.7M57.0 702.9h0.7" stroke="#e88a8c" stroke-width="0.7" fill="none" opacity="0.8"/>
<path d="M106,729.5 L106,706.6 L116.5,706.6 Q118.5,716 119,729.5 Z" fill="#0a0a0a" filter="url(#b05)"/>
<path d="M109.1 718.0h0.8M111.8 716.9h0.8M133.3 721.0h0.8M112.7 717.2h0.8M112.0 714.8h0.8M117.7 729.6h0.8M111.7 723.2h0.8M123.4 726.5h0.8M111.5 721.6h0.8M120.1 710.6h0.8M110.2 726.3h0.8M114.8 716.2h0.8M113.7 717.8h0.8M116.6 710.4h0.8M115.4 710.5h0.8M115.6 728.8h0.8M114.2 708.5h0.8M118.6 712.9h0.8M113.3 721.7h0.8M121.7 729.5h0.8M118.2 712.1h0.8M113.9 718.3h0.8M115.3 707.0h0.8M117.1 709.0h0.8M116.4 728.9h0.8M120.8 718.8h0.8M113.9 708.0h0.8M117.7 729.6h0.8M112.6 714.1h0.8M114.3 713.8h0.8M118.5 711.7h0.8M113.3 713.3h0.8M118.5 729.0h0.8M110.2 725.9h0.8M113.5 713.1h0.8M111.8 710.5h0.8M116.5 710.6h0.8M118.6 711.4h0.8M108.5 709.1h0.8M111.0 707.1h0.8M111.0 715.1h0.8M115.0 721.0h0.8M116.8 709.9h0.8M116.3 721.5h0.8M105.3 725.7h0.8M110.0 706.7h0.8M126.5 707.4h0.8M105.6 716.8h0.8M114.8 710.2h0.8M129.8 712.7h0.8M105.7 729.2h0.8M122.0 710.2h0.8M112.3 713.7h0.8M109.3 725.1h0.8M114.4 708.2h0.8M114.9 728.7h0.8M117.2 724.1h0.8M118.1 711.2h0.8M113.5 714.7h0.8M109.7 721.3h0.8M117.5 720.2h0.8M113.6 724.6h0.8M121.4 722.6h0.8M115.2 727.1h0.8M122.3 721.5h0.8M113.5 715.0h0.8M113.0 727.7h0.8M113.0 725.9h0.8M114.8 721.8h0.8M115.8 719.4h0.8M109.4 715.5h0.8M117.0 721.0h0.8M115.3 707.4h0.8M111.3 726.6h0.8M109.0 708.7h0.8M113.0 729.2h0.8M116.2 706.6h0.8M115.7 719.3h0.8M112.4 709.5h0.8M112.5 717.4h0.8M113.8 710.7h0.8M114.6 712.4h0.8M117.6 708.0h0.8M120.9 716.9h0.8M117.2 706.7h0.8M116.4 713.1h0.8M119.5 722.8h0.8M109.8 708.0h0.8M115.4 717.6h0.8M113.1 709.4h0.8M119.0 721.5h0.8M115.2 711.0h0.8M109.9 713.0h0.8M112.7 713.5h0.8M121.1 727.9h0.8M111.7 717.8h0.8M116.0 718.3h0.8M116.2 707.0h0.8M124.9 717.5h0.8M114.5 726.7h0.8M110.3 713.3h0.8M119.8 715.2h0.8M116.1 723.8h0.8M112.2 725.9h0.8M109.3 716.7h0.8M112.6 728.4h0.8M121.3 719.0h0.8M118.1 726.3h0.8M116.9 713.8h0.8M115.9 720.9h0.8M119.4 706.5h0.8M112.9 723.4h0.8M117.0 728.0h0.8M111.0 725.5h0.8M125.2 711.5h0.8M119.8 714.6h0.8M129.6 707.4h0.8M114.7 718.0h0.8M117.0 713.5h0.8M118.4 728.1h0.8M121.0 706.7h0.8M111.2 729.2h0.8M120.2 710.6h0.8M114.2 718.8h0.8M110.4 709.8h0.8M117.7 717.4h0.8M110.5 711.7h0.8M105.4 711.9h0.8M120.0 707.8h0.8M113.8 712.1h0.8M124.2 717.6h0.8M123.2 723.7h0.8M106.8 709.0h0.8M110.0 709.2h0.8M113.3 710.0h0.8M123.8 724.7h0.8M112.6 723.8h0.8M111.9 717.1h0.8M115.5 729.2h0.8M115.9 720.0h0.8M122.6 715.6h0.8M116.7 707.6h0.8M115.0 727.7h0.8M114.8 706.9h0.8M132.4 714.1h0.8M113.4 719.5h0.8M113.2 712.3h0.8M116.0 707.0h0.8M114.1 711.2h0.8M116.1 728.3h0.8M115.3 719.2h0.8M122.4 725.3h0.8M113.7 724.3h0.8M120.1 722.8h0.8M109.9 707.4h0.8M117.8 721.9h0.8M117.2 721.9h0.8M110.3 719.1h0.8M110.4 717.4h0.8M112.0 719.5h0.8M112.4 723.5h0.8M109.8 728.9h0.8M115.2 717.5h0.8M114.3 714.3h0.8M116.6 716.5h0.8M113.9 725.9h0.8M109.3 712.1h0.8M113.0 708.4h0.8M110.7 717.4h0.8M111.8 726.7h0.8M118.7 712.6h0.8M116.5 709.3h0.8M116.8 723.4h0.8M118.2 712.0h0.8M118.9 725.0h0.8M123.5 712.2h0.8M118.6 706.5h0.8M114.8 711.8h0.8M113.0 724.5h0.8M113.1 727.1h0.8M117.9 722.7h0.8M124.6 716.8h0.8M128.1 722.6h0.8M117.4 721.4h0.8M107.4 710.4h0.8M119.9 725.3h0.8M116.7 721.9h0.8M113.5 716.7h0.8M123.5 709.2h0.8M118.4 707.0h0.8M115.0 711.9h0.8M115.5 722.0h0.8M113.1 708.8h0.8M116.4 719.3h0.8M114.7 714.4h0.8M110.9 713.3h0.8M114.8 717.8h0.8M112.2 710.3h0.8M111.9 706.6h0.8M114.9 712.4h0.8M115.7 720.6h0.8M116.8 728.1h0.8M119.2 719.4h0.8M123.0 718.7h0.8M117.8 718.1h0.8M120.8 717.4h0.8M112.5 724.3h0.8M117.1 723.5h0.8M115.8 722.8h0.8M110.0 711.4h0.8M117.1 729.3h0.8M114.6 711.1h0.8M113.7 713.6h0.8M119.5 723.8h0.8M117.7 720.3h0.8M114.5 726.7h0.8M124.4 729.3h0.8M116.6 726.0h0.8M119.8 725.6h0.8M128.2 725.4h0.8M112.7 708.6h0.8M121.6 710.4h0.8M120.0 725.7h0.8M121.0 722.6h0.8M110.6 714.5h0.8M113.3 720.6h0.8M114.8 723.7h0.8M109.0 718.7h0.8M117.6 718.9h0.8M107.4 729.1h0.8M122.8 726.4h0.8M116.2 728.4h0.8M114.3 707.5h0.8M111.2 720.9h0.8M116.8 708.6h0.8M122.0 711.7h0.8M125.1 729.3h0.8M111.7 723.0h0.8M122.2 720.0h0.8M111.0 707.1h0.8M115.7 724.0h0.8M123.4 724.4h0.8M112.6 724.6h0.8M122.9 719.0h0.8M118.2 716.8h0.8M128.0 721.5h0.8M115.1 725.1h0.8M116.2 718.0h0.8M116.6 711.0h0.8M115.3 729.1h0.8M120.5 715.4h0.8M118.1 722.5h0.8M126.1 717.9h0.8M127.4 718.5h0.8M107.0 707.1h0.8M110.8 718.0h0.8M111.7 719.9h0.8M110.7 719.0h0.8M119.8 712.3h0.8M113.0 719.0h0.8M111.4 724.0h0.8M125.6 713.9h0.8M121.6 708.3h0.8M115.8 713.6h0.8M118.5 709.9h0.8M121.0 724.9h0.8M109.0 710.7h0.8M111.2 717.3h0.8M127.4 711.1h0.8M120.3 714.4h0.8M113.9 707.2h0.8M110.1 712.9h0.8M114.0 714.6h0.8M112.7 713.5h0.8M124.1 715.9h0.8M115.5 712.4h0.8M112.2 725.3h0.8M123.4 715.0h0.8M109.1 717.3h0.8M110.1 727.4h0.8M112.1 726.0h0.8M117.7 713.1h0.8M109.6 719.1h0.8M112.7 709.0h0.8M109.9 718.3h0.8M117.2 710.8h0.8M121.4 723.5h0.8M119.9 712.3h0.8M114.7 725.1h0.8M123.7 723.0h0.8M110.7 712.7h0.8M111.8 718.4h0.8M116.8 727.1h0.8M116.0 719.0h0.8M108.3 722.4h0.8M111.3 710.0h0.8M126.6 706.5h0.8M110.7 717.3h0.8M124.0 707.3h0.8M111.8 721.6h0.8M127.7 722.0h0.8M115.6 720.0h0.8M113.2 713.8h0.8M112.8 729.5h0.8M116.4 720.6h0.8M116.3 707.7h0.8M116.3 726.7h0.8M109.5 723.9h0.8M114.4 707.8h0.8M107.8 711.3h0.8M111.7 722.0h0.8M112.3 720.7h0.8M109.4 727.5h0.8M111.2 708.4h0.8M110.9 726.4h0.8M112.5 725.4h0.8M114.1 706.5h0.8M115.9 718.0h0.8M114.8 706.5h0.8M115.0 723.3h0.8M108.8 723.7h0.8M129.0 718.4h0.8M113.2 711.8h0.8M112.6 714.8h0.8M122.7 715.3h0.8M120.8 726.2h0.8M113.6 712.0h0.8M117.0 714.6h0.8M109.9 714.1h0.8M120.3 724.0h0.8M111.4 707.3h0.8M107.9 724.9h0.8M116.1 722.2h0.8M111.3 724.3h0.8M128.2 721.1h0.8M105.5 727.1h0.8M116.1 718.6h0.8M116.3 714.9h0.8M115.1 726.9h0.8M109.1 727.8h0.8M115.6 720.2h0.8M117.2 714.9h0.8M122.6 719.5h0.8M116.1 727.3h0.8M118.5 716.8h0.8M120.0 721.5h0.8M117.3 721.3h0.8M114.8 711.3h0.8M114.7 711.6h0.8M111.6 712.3h0.8M112.8 726.1h0.8M115.8 724.4h0.8M118.9 706.4h0.8M124.5 717.9h0.8M119.3 708.5h0.8M120.5 721.1h0.8M126.2 713.2h0.8M115.6 726.3h0.8M119.6 711.3h0.8M120.8 719.5h0.8M109.7 724.6h0.8M117.4 722.1h0.8M113.9 714.7h0.8M115.1 718.3h0.8M115.2 725.8h0.8M114.0 714.6h0.8M116.6 726.1h0.8M116.4 725.7h0.8M118.9 724.3h0.8M115.1 720.3h0.8M117.7 724.9h0.8M106.7 709.3h0.8M120.1 721.2h0.8M110.2 707.8h0.8M111.7 718.9h0.8M116.5 727.6h0.8M113.4 724.5h0.8M119.5 728.8h0.8M121.7 716.2h0.8M112.1 707.8h0.8M112.7 728.9h0.8M112.6 709.6h0.8M113.7 714.6h0.8M113.6 711.2h0.8M112.3 727.6h0.8M128.9 716.1h0.8M115.1 710.9h0.8M120.9 717.4h0.8M114.8 709.9h0.8M106.6 716.0h0.8M115.9 720.6h0.8M115.8 713.4h0.8M109.4 719.1h0.8M119.6 707.8h0.8M110.5 725.9h0.8M120.1 709.7h0.8M114.9 719.3h0.8M112.4 712.7h0.8M110.6 729.5h0.8M109.8 706.5h0.8M116.1 722.0h0.8M120.7 720.0h0.8M116.0 726.0h0.8M112.2 726.0h0.8M130.5 725.1h0.8M110.5 710.9h0.8M118.3 709.2h0.8M119.8 724.0h0.8M114.4 719.2h0.8M111.9 710.9h0.8M118.2 729.1h0.8M121.0 716.5h0.8M122.2 716.0h0.8M120.5 712.9h0.8M114.3 713.5h0.8M115.4 722.0h0.8M116.8 721.7h0.8M128.0 715.6h0.8M111.4 713.7h0.8M108.2 724.5h0.8M119.6 720.0h0.8M111.8 719.6h0.8M114.1 711.3h0.8M116.9 711.2h0.8M110.2 716.8h0.8M109.2 708.3h0.8M118.5 714.5h0.8M115.5 713.5h0.8M116.5 713.3h0.8M124.8 723.8h0.8M120.7 720.9h0.8M118.5 712.9h0.8M113.1 718.8h0.8M114.2 707.1h0.8M112.5 723.3h0.8M109.8 710.5h0.8M116.2 718.1h0.8M111.5 716.7h0.8M116.7 728.0h0.8M112.0 713.8h0.8M113.9 715.3h0.8M118.5 714.9h0.8M110.4 714.2h0.8M111.0 709.9h0.8M112.8 722.8h0.8M110.7 724.0h0.8M112.6 727.8h0.8M125.8 729.2h0.8M113.8 715.8h0.8M108.7 722.9h0.8M107.8 724.1h0.8M114.8 724.9h0.8M125.0 719.2h0.8M111.5 721.5h0.8M124.8 713.7h0.8M117.7 726.4h0.8M113.5 718.9h0.8M123.2 707.2h0.8M108.6 725.7h0.8M119.2 711.0h0.8M126.0 728.1h0.8M112.0 723.0h0.8M109.0 714.6h0.8M112.2 710.4h0.8M113.1 712.5h0.8M117.0 708.8h0.8M114.7 709.7h0.8M113.8 708.1h0.8M116.4 723.6h0.8M119.7 709.6h0.8M106.6 722.8h0.8M113.5 710.3h0.8M111.2 724.2h0.8M109.9 716.3h0.8M121.5 721.6h0.8M115.6 716.6h0.8M111.1 712.7h0.8M117.5 727.8h0.8M113.7 716.4h0.8M113.0 722.1h0.8M132.7 713.7h0.8M123.2 707.8h0.8M114.4 728.1h0.8M113.7 716.8h0.8M119.2 710.5h0.8M114.9 729.2h0.8M111.7 711.2h0.8M110.1 726.4h0.8M112.7 713.9h0.8M111.6 708.2h0.8M110.4 709.1h0.8M113.5 710.9h0.8M123.7 714.2h0.8M123.3 720.2h0.8M114.1 728.0h0.8M111.7 725.2h0.8M108.1 723.3h0.8M110.0 728.1h0.8M110.1 718.8h0.8M113.0 721.0h0.8M120.9 720.8h0.8M107.3 707.0h0.8M113.1 727.7h0.8M112.1 717.4h0.8M110.8 717.6h0.8M114.0 707.8h0.8M117.3 709.7h0.8M114.4 706.7h0.8M120.0 723.7h0.8M122.8 722.2h0.8M112.2 712.8h0.8M116.6 721.1h0.8M116.3 714.9h0.8M116.0 723.3h0.8M117.4 720.7h0.8M117.7 725.7h0.8M116.1 720.4h0.8M110.5 718.5h0.8M113.5 714.9h0.8M119.2 710.7h0.8M116.1 716.6h0.8M108.5 728.1h0.8M112.0 721.7h0.8M113.8 709.6h0.8M113.2 728.5h0.8M119.1 706.5h0.8M119.5 713.9h0.8M119.0 716.2h0.8M113.7 707.9h0.8M116.3 724.7h0.8M109.8 707.0h0.8M121.4 727.2h0.8M108.4 715.3h0.8M107.3 717.5h0.8M109.6 712.3h0.8M117.0 716.2h0.8M110.3 715.5h0.8M116.9 723.8h0.8M110.1 728.5h0.8M121.1 720.9h0.8M109.1 726.4h0.8M110.2 721.3h0.8M116.4 724.7h0.8M115.0 715.1h0.8M122.5 722.8h0.8M112.9 723.6h0.8M112.1 728.6h0.8M108.2 719.5h0.8M118.5 707.7h0.8M108.0 712.5h0.8M113.7 713.0h0.8M118.4 712.4h0.8M116.4 723.0h0.8M116.0 707.6h0.8M109.1 710.3h0.8M117.6 707.5h0.8M109.1 721.6h0.8M123.1 727.9h0.8M124.1 720.4h0.8M110.2 721.9h0.8M118.9 717.8h0.8M112.8 717.7h0.8M122.1 723.9h0.8M111.2 710.9h0.8M113.9 710.4h0.8M118.3 728.6h0.8M114.9 708.6h0.8M111.9 726.4h0.8M114.8 708.7h0.8M114.5 722.0h0.8M110.6 721.5h0.8M117.3 727.7h0.8M108.5 727.9h0.8M119.9 716.5h0.8M108.3 708.9h0.8M112.5 717.1h0.8M107.6 716.3h0.8M108.7 724.7h0.8M114.0 710.8h0.8M115.8 713.3h0.8M114.1 729.7h0.8M112.8 715.1h0.8M115.9 710.4h0.8M111.6 722.6h0.8M111.3 727.7h0.8M107.4 720.4h0.8M114.9 716.8h0.8M120.7 718.1h0.8M122.6 712.0h0.8M118.6 728.5h0.8M116.0 726.0h0.8M110.9 711.5h0.8M119.9 707.9h0.8M108.9 725.7h0.8M119.4 728.3h0.8M111.9 714.9h0.8M114.2 729.6h0.8M113.1 727.8h0.8M110.9 718.2h0.8M124.2 725.1h0.8M113.6 721.4h0.8M113.9 720.0h0.8M116.4 714.8h0.8M118.7 718.4h0.8M113.4 708.1h0.8M120.5 717.7h0.8M110.8 728.4h0.8M107.3 717.2h0.8M113.1 714.7h0.8M112.7 717.1h0.8M114.8 720.1h0.8M112.3 718.9h0.8M116.0 713.8h0.8M111.9 706.5h0.8M116.4 714.3h0.8M111.8 717.6h0.8M115.0 712.5h0.8M106.0 721.1h0.8M108.0 721.3h0.8M116.1 718.6h0.8M111.6 727.4h0.8M116.8 710.1h0.8M117.5 709.0h0.8M121.3 724.6h0.8M115.8 718.0h0.8M121.7 712.9h0.8M108.4 712.9h0.8M122.7 719.7h0.8M117.7 717.2h0.8M115.1 719.8h0.8M117.7 709.1h0.8M111.9 721.2h0.8M115.7 706.8h0.8M106.3 711.1h0.8M113.4 709.8h0.8M119.3 721.5h0.8M114.1 717.0h0.8M113.5 710.0h0.8M111.5 724.2h0.8M118.1 712.4h0.8M126.4 718.1h0.8M118.6 714.9h0.8M112.3 712.9h0.8M125.7 716.2h0.8M117.4 714.6h0.8M120.1 728.5h0.8M108.0 714.8h0.8M116.3 725.5h0.8M121.1 726.2h0.8M114.8 715.6h0.8M118.4 726.4h0.8M125.5 719.3h0.8M114.6 714.0h0.8M114.4 717.8h0.8M121.4 722.7h0.8M114.6 727.8h0.8M112.3 714.5h0.8M108.2 717.0h0.8M121.3 708.8h0.8M106.0 729.3h0.8M121.6 708.4h0.8M116.7 714.5h0.8M117.5 722.7h0.8M123.1 706.9h0.8M113.7 716.7h0.8M118.2 727.7h0.8M116.3 726.7h0.8M107.0 709.2h0.8M113.4 718.3h0.8M121.7 711.3h0.8M114.3 713.8h0.8M114.2 724.9h0.8M127.0 725.8h0.8M115.8 728.0h0.8M115.9 726.7h0.8M119.1 713.5h0.8M112.2 728.4h0.8M114.3 706.7h0.8M113.4 713.3h0.8M110.5 718.7h0.8M124.2 718.9h0.8M122.6 712.9h0.8M116.4 716.2h0.8M110.0 719.3h0.8M109.9 710.2h0.8M114.3 710.0h0.8M112.1 714.7h0.8M112.1 714.8h0.8M113.1 713.0h0.8M109.8 718.2h0.8M110.2 725.5h0.8M119.6 707.8h0.8M119.6 707.4h0.8M114.4 721.7h0.8M111.7 717.2h0.8M115.5 712.7h0.8M123.3 720.7h0.8M116.4 711.4h0.8M114.3 725.4h0.8M114.8 716.3h0.8M111.5 718.3h0.8M118.3 723.2h0.8M114.0 712.2h0.8M125.8 723.9h0.8M117.3 724.6h0.8M108.7 726.7h0.8M122.1 711.7h0.8M116.8 713.7h0.8M121.1 722.9h0.8M107.1 719.7h0.8M110.2 726.2h0.8M118.8 726.5h0.8M118.4 710.9h0.8M113.9 726.5h0.8M113.7 718.3h0.8M118.3 720.3h0.8M118.9 724.2h0.8M115.1 712.0h0.8M110.6 712.4h0.8M114.7 722.1h0.8M112.7 722.9h0.8M121.7 706.6h0.8M109.5 708.4h0.8M112.8 722.8h0.8M128.2 707.4h0.8M116.5 723.0h0.8M113.7 709.5h0.8M112.7 716.4h0.8M113.0 728.0h0.8M114.7 723.3h0.8M109.4 722.5h0.8M117.2 715.4h0.8M112.9 719.6h0.8M116.7 714.7h0.8M112.2 712.7h0.8M113.8 728.9h0.8M112.1 715.5h0.8M120.7 710.6h0.8M114.4 726.5h0.8M109.2 707.1h0.8M114.2 707.9h0.8M112.5 717.9h0.8M120.8 725.1h0.8M113.0 720.7h0.8M118.8 727.1h0.8M112.4 712.1h0.8M121.7 723.5h0.8M119.5 713.9h0.8M124.3 724.4h0.8M114.0 712.2h0.8M111.0 706.8h0.8M110.6 724.6h0.8M119.1 719.0h0.8M121.1 723.0h0.8M112.5 725.2h0.8M113.8 713.2h0.8M119.8 712.7h0.8M116.8 723.4h0.8M115.7 724.0h0.8M115.8 718.3h0.8M115.2 725.4h0.8M123.5 715.1h0.8M117.2 728.6h0.8M113.5 720.1h0.8M116.3 720.7h0.8M110.3 709.8h0.8M123.0 713.7h0.8M121.0 720.1h0.8M114.2 729.3h0.8M112.0 710.6h0.8M109.7 715.9h0.8M118.5 725.5h0.8M111.8 726.9h0.8M123.1 712.5h0.8M109.3 725.7h0.8M112.0 719.2h0.8M116.6 728.8h0.8M111.0 710.3h0.8M110.5 706.6h0.8M118.7 708.4h0.8M119.9 708.7h0.8M117.1 729.6h0.8M115.2 728.2h0.8M116.9 726.3h0.8M107.5 726.0h0.8M106.5 727.5h0.8M109.7 714.3h0.8M122.2 713.0h0.8M107.6 717.8h0.8M115.2 718.9h0.8M112.2 721.7h0.8M108.4 716.5h0.8M108.9 714.3h0.8M116.6 712.1h0.8M111.8 715.8h0.8M121.2 713.1h0.8M111.6 714.8h0.8M117.4 726.4h0.8M125.0 728.0h0.8M117.5 723.2h0.8M113.8 725.0h0.8M115.7 720.8h0.8M109.8 728.0h0.8M112.8 708.4h0.8M115.0 726.8h0.8M111.5 724.3h0.8M116.4 709.3h0.8M126.2 716.3h0.8M114.1 720.7h0.8M120.3 724.7h0.8M115.3 707.4h0.8M113.6 726.0h0.8M111.8 718.9h0.8M117.8 708.9h0.8M111.5 712.6h0.8M114.2 713.2h0.8M114.2 728.9h0.8M117.8 728.5h0.8M121.9 717.5h0.8M122.8 713.6h0.8M119.2 713.4h0.8M119.8 724.2h0.8M120.4 728.3h0.8M113.1 720.1h0.8M117.6 712.4h0.8M117.0 719.8h0.8M108.3 708.0h0.8M131.0 720.7h0.8M115.1 708.1h0.8M110.5 712.0h0.8M113.6 724.2h0.8M115.9 720.4h0.8M116.5 727.8h0.8M115.4 716.7h0.8M124.1 713.0h0.8M110.0 723.8h0.8M118.1 717.7h0.8M125.3 727.1h0.8M119.2 714.1h0.8M122.2 718.9h0.8M111.6 717.3h0.8M108.0 718.4h0.8M116.5 726.2h0.8M107.6 710.2h0.8M108.2 723.3h0.8M113.7 712.3h0.8M112.4 714.0h0.8M124.4 713.0h0.8M117.5 723.2h0.8M122.0 725.3h0.8M110.5 723.1h0.8M115.3 713.6h0.8M119.4 708.2h0.8M119.6 707.3h0.8M113.6 714.2h0.8M118.9 724.9h0.8M110.2 722.3h0.8M119.6 717.3h0.8M115.6 727.2h0.8M114.9 720.9h0.8M114.7 715.9h0.8M120.8 727.2h0.8M115.3 717.2h0.8M118.6 716.9h0.8M116.8 713.3h0.8M112.7 711.3h0.8M120.0 726.0h0.8M112.6 721.3h0.8M118.0 709.0h0.8M114.2 717.6h0.8M115.1 711.0h0.8M114.0 714.7h0.8M119.5 718.1h0.8M112.8 720.4h0.8M112.7 721.2h0.8M118.5 729.4h0.8M114.6 725.0h0.8M120.0 718.3h0.8M115.9 724.1h0.8M115.3 723.0h0.8M120.6 716.9h0.8M112.9 718.8h0.8M119.5 723.8h0.8M122.4 718.4h0.8M123.4 708.9h0.8M113.7 712.1h0.8M111.1 724.3h0.8M113.1 709.6h0.8M120.5 725.0h0.8M123.6 708.5h0.8M116.9 708.2h0.8M111.8 721.5h0.8M117.8 710.7h0.8M112.1 726.1h0.8M121.8 728.0h0.8M114.7 711.2h0.8M112.8 724.1h0.8M121.5 711.2h0.8M117.2 709.3h0.8M116.5 721.9h0.8M123.1 713.1h0.8M108.5 715.0h0.8M125.1 716.9h0.8M108.9 722.6h0.8M123.3 711.4h0.8M116.7 707.1h0.8M112.8 720.8h0.8M106.4 714.5h0.8M115.9 713.3h0.8M115.8 717.7h0.8M109.9 708.8h0.8M113.8 727.8h0.8M115.9 716.4h0.8M110.1 717.9h0.8M120.5 716.5h0.8M118.6 718.1h0.8M113.2 715.9h0.8M117.4 714.8h0.8M125.8 708.1h0.8M119.9 706.6h0.8M124.5 707.4h0.8M112.7 708.0h0.8M118.5 713.0h0.8M110.6 706.5h0.8M119.0 725.6h0.8M118.1 707.0h0.8M119.9 728.0h0.8M116.0 722.7h0.8M114.1 716.3h0.8M107.0 721.8h0.8M117.9 718.8h0.8M111.8 715.6h0.8M110.2 717.9h0.8M116.2 708.5h0.8M116.4 723.4h0.8M115.7 728.7h0.8M110.5 726.3h0.8M125.5 725.0h0.8M115.3 716.5h0.8M112.2 722.6h0.8M115.3 711.7h0.8M111.8 722.9h0.8M115.3 729.0h0.8M114.3 729.0h0.8M115.5 718.6h0.8M115.4 725.4h0.8M114.3 718.1h0.8M123.0 721.4h0.8M119.5 713.8h0.8M120.2 725.5h0.8M109.9 709.4h0.8M112.5 721.8h0.8M116.9 718.4h0.8M117.6 712.2h0.8M114.3 728.4h0.8M112.4 718.8h0.8M118.5 718.2h0.8M118.8 718.3h0.8M122.8 708.5h0.8M122.9 727.5h0.8M116.7 720.7h0.8M115.2 713.8h0.8M111.1 727.7h0.8M114.3 721.3h0.8M114.7 711.5h0.8M116.5 709.5h0.8M109.5 723.3h0.8M119.2 712.0h0.8M114.9 723.6h0.8M118.0 720.5h0.8M108.0 724.2h0.8M118.1 721.9h0.8M113.5 711.0h0.8M118.6 707.0h0.8M117.5 723.6h0.8M122.1 721.7h0.8M110.1 716.7h0.8M108.4 717.1h0.8M118.1 712.3h0.8M113.6 706.8h0.8M118.9 709.5h0.8M108.6 706.9h0.8M114.1 706.8h0.8M122.3 729.2h0.8M112.7 711.3h0.8M112.1 724.0h0.8M113.4 729.1h0.8M112.4 717.7h0.8M113.2 707.7h0.8M116.0 708.0h0.8M119.0 707.8h0.8M125.4 716.3h0.8M113.9 710.4h0.8M119.1 725.9h0.8M119.8 718.3h0.8M114.7 725.1h0.8M114.4 711.4h0.8M115.0 707.0h0.8M130.0 713.2h0.8M121.7 716.4h0.8M115.5 712.5h0.8M118.8 717.8h0.8M118.0 712.1h0.8M116.3 709.6h0.8M116.7 709.9h0.8M109.2 718.4h0.8M121.9 713.7h0.8M114.4 726.7h0.8M111.7 726.2h0.8M113.8 715.0h0.8M119.6 725.0h0.8M123.1 710.7h0.8M108.7 714.3h0.8M120.1 713.0h0.8M120.5 724.3h0.8M109.6 725.6h0.8M109.8 710.4h0.8M116.9 712.4h0.8M114.7 716.9h0.8M114.6 722.3h0.8M114.7 718.5h0.8M120.2 717.1h0.8M120.1 713.0h0.8M113.1 720.9h0.8M113.1 714.3h0.8M134.8 708.1h0.8M113.8 706.6h0.8M116.2 729.4h0.8M121.4 717.7h0.8M118.0 722.5h0.8M122.6 727.6h0.8M121.6 727.7h0.8M111.7 713.6h0.8M116.8 725.8h0.8M117.8 721.8h0.8M126.2 716.0h0.8M118.1 715.1h0.8M106.5 724.6h0.8M116.9 718.2h0.8M123.8 713.7h0.8M114.3 709.0h0.8M108.8 722.2h0.8M112.7 727.1h0.8M109.0 708.9h0.8M112.3 713.2h0.8M114.5 707.6h0.8M112.8 708.6h0.8M117.1 710.1h0.8M110.1 722.3h0.8M119.1 713.0h0.8M116.3 708.5h0.8M112.0 706.5h0.8M110.4 708.8h0.8M115.2 715.1h0.8M122.5 724.5h0.8M119.8 722.8h0.8M128.2 714.3h0.8M110.0 708.2h0.8M121.0 719.3h0.8M124.2 714.0h0.8M114.0 709.1h0.8M120.3 713.6h0.8M111.5 719.8h0.8M107.8 716.9h0.8M110.6 729.5h0.8M108.1 707.3h0.8M122.1 713.5h0.8M124.1 717.0h0.8M109.7 724.3h0.8M118.0 708.8h0.8M113.1 729.3h0.8M119.1 712.1h0.8M114.0 719.1h0.8M116.3 715.3h0.8M116.3 724.5h0.8M107.0 728.8h0.8M117.9 709.5h0.8M111.5 714.6h0.8M119.3 729.1h0.8M111.9 723.6h0.8M106.8 724.7h0.8M112.9 718.1h0.8M111.4 727.5h0.8M113.5 715.4h0.8M120.3 713.7h0.8M117.0 719.2h0.8M126.7 716.0h0.8M113.0 718.1h0.8M115.7 710.0h0.8M114.4 708.1h0.8M115.7 724.6h0.8M116.6 713.7h0.8M120.0 727.2h0.8M110.9 706.7h0.8M120.1 718.9h0.8M105.6 719.6h0.8M115.0 723.9h0.8M116.6 719.0h0.8M111.6 706.7h0.8M111.2 726.7h0.8M114.9 712.7h0.8M120.3 713.7h0.8M117.9 717.0h0.8M115.7 718.5h0.8M126.4 709.5h0.8M119.9 712.5h0.8M114.9 710.4h0.8M112.7 710.3h0.8M117.2 726.7h0.8M122.1 721.3h0.8M117.2 713.1h0.8M114.6 707.2h0.8M122.9 729.3h0.8M111.8 720.3h0.8M114.1 715.0h0.8M113.6 722.4h0.8M113.5 707.7h0.8M116.4 729.4h0.8M111.3 726.7h0.8M122.0 718.1h0.8M123.3 719.7h0.8M111.8 714.5h0.8M111.8 715.8h0.8M121.1 725.9h0.8M109.2 720.5h0.8M116.6 710.7h0.8M110.1 709.4h0.8M113.5 729.1h0.8M115.0 729.3h0.8M123.3 714.1h0.8M114.1 719.0h0.8M110.1 715.2h0.8M111.5 718.3h0.8M114.9 710.7h0.8M113.7 715.1h0.8M114.1 714.2h0.8M110.5 726.2h0.8M116.1 710.5h0.8M114.9 724.3h0.8M111.3 722.9h0.8M114.4 709.4h0.8M128.9 723.1h0.8M113.4 709.0h0.8M121.0 709.4h0.8M112.3 710.5h0.8M117.1 719.1h0.8M116.1 714.1h0.8M108.0 720.8h0.8M110.9 708.4h0.8M109.4 708.1h0.8M111.0 718.3h0.8M118.2 717.0h0.8M120.5 726.0h0.8M125.7 715.6h0.8M106.8 711.9h0.8M116.4 727.8h0.8M116.1 714.9h0.8M121.1 710.6h0.8M113.5 729.0h0.8M121.0 713.9h0.8M123.4 725.1h0.8M122.8 718.0h0.8M109.5 723.8h0.8M120.0 719.2h0.8M110.1 711.6h0.8M130.1 716.3h0.8M122.1 728.8h0.8M120.2 724.9h0.8M113.7 726.0h0.8M112.7 727.4h0.8M114.4 714.7h0.8M124.1 710.8h0.8M126.6 707.2h0.8M119.3 725.2h0.8M118.3 710.9h0.8M116.5 727.7h0.8M113.7 706.8h0.8M118.9 708.9h0.8M115.5 729.4h0.8M124.5 708.8h0.8M119.4 709.1h0.8M123.8 720.2h0.8M114.4 717.4h0.8M110.7 719.8h0.8M117.4 713.6h0.8M115.0 725.8h0.8M114.6 728.6h0.8M122.7 709.0h0.8M114.5 715.7h0.8M115.5 708.9h0.8M115.7 710.3h0.8M114.9 724.5h0.8M108.1 714.5h0.8M116.0 715.1h0.8M109.7 711.6h0.8M114.0 727.3h0.8M111.9 708.7h0.8M115.6 714.6h0.8M114.2 707.8h0.8M114.3 711.0h0.8M118.3 709.8h0.8M110.7 712.9h0.8M112.2 711.2h0.8M109.5 709.7h0.8M115.2 713.6h0.8M115.1 718.0h0.8M117.0 726.7h0.8M111.7 729.4h0.8M110.4 725.5h0.8M115.3 717.5h0.8M116.8 729.4h0.8M110.2 725.4h0.8M110.8 725.4h0.8M110.9 727.7h0.8M113.4 727.1h0.8M114.3 718.7h0.8M128.2 708.9h0.8M116.1 714.9h0.8M109.9 720.5h0.8M113.1 706.6h0.8M114.7 723.6h0.8M115.8 706.5h0.8M114.8 728.4h0.8M115.9 710.7h0.8M117.5 711.3h0.8M113.0 729.1h0.8M112.6 707.8h0.8M111.9 720.2h0.8M122.9 710.6h0.8M123.8 727.2h0.8M112.6 713.5h0.8M112.7 720.4h0.8M107.5 726.4h0.8M121.0 722.9h0.8M115.0 713.5h0.8M123.2 713.2h0.8M116.2 729.6h0.8M115.0 724.4h0.8M115.7 726.9h0.8M116.7 714.8h0.8M116.1 716.5h0.8M125.7 726.1h0.8M116.7 709.6h0.8M114.1 707.8h0.8M111.3 706.8h0.8M119.3 719.4h0.8M118.5 726.5h0.8M116.9 711.9h0.8M129.7 715.2h0.8M115.1 724.0h0.8M122.8 723.5h0.8M116.3 727.9h0.8M115.5 708.5h0.8M116.0 711.9h0.8M113.0 717.5h0.8M116.8 729.3h0.8M114.6 710.1h0.8M139.7 725.4h0.8M116.0 707.4h0.8M113.3 725.1h0.8M114.7 727.3h0.8M113.3 724.5h0.8M109.9 714.2h0.8M125.9 728.8h0.8M117.3 723.3h0.8M119.8 729.3h0.8M118.6 720.6h0.8M122.0 717.9h0.8M125.2 715.3h0.8M106.0 713.2h0.8M111.7 708.9h0.8M120.5 707.0h0.8M113.3 721.4h0.8M123.0 716.2h0.8M111.6 724.9h0.8M122.6 706.9h0.8M125.7 707.4h0.8M124.2 714.5h0.8M118.4 710.5h0.8M110.0 712.5h0.8M110.5 728.8h0.8M115.6 709.7h0.8M110.7 712.0h0.8M121.4 720.3h0.8M121.8 726.1h0.8M119.6 728.4h0.8M119.3 718.9h0.8M112.6 724.2h0.8M112.4 709.7h0.8M111.0 709.9h0.8M120.0 719.9h0.8M116.7 728.3h0.8M110.2 729.3h0.8M114.2 716.6h0.8M111.8 727.8h0.8M107.3 716.6h0.8M111.6 720.4h0.8M124.3 713.6h0.8M117.9 710.6h0.8M114.4 723.1h0.8M106.3 724.0h0.8M118.0 714.9h0.8M111.2 708.4h0.8M118.2 708.9h0.8M115.6 716.9h0.8M115.0 707.1h0.8M115.6 719.1h0.8M117.5 717.2h0.8M126.4 717.8h0.8M109.3 708.1h0.8M118.5 713.3h0.8M123.4 723.7h0.8M110.6 726.7h0.8M113.1 720.2h0.8M117.7 717.0h0.8M115.3 725.0h0.8M108.4 706.8h0.8M116.3 713.8h0.8M119.7 727.3h0.8M112.7 713.4h0.8M109.0 726.3h0.8M110.5 720.5h0.8M123.0 722.5h0.8M116.6 727.8h0.8M107.8 709.6h0.8M111.3 718.3h0.8M126.5 728.7h0.8M111.6 713.7h0.8M131.3 717.5h0.8M120.8 729.2h0.8M117.0 708.6h0.8M110.9 724.2h0.8M111.3 725.7h0.8M120.1 707.9h0.8M116.8 707.1h0.8M129.3 714.8h0.8M109.9 711.0h0.8M117.5 722.7h0.8M119.8 722.7h0.8M113.6 715.9h0.8M116.8 719.8h0.8M111.7 718.5h0.8M116.9 727.1h0.8M113.4 710.2h0.8M115.0 717.5h0.8M110.8 711.5h0.8M118.5 720.0h0.8M107.2 721.1h0.8M118.6 720.1h0.8M109.8 707.8h0.8M123.5 718.9h0.8M111.1 721.3h0.8M112.1 727.4h0.8M112.5 720.5h0.8M109.9 722.1h0.8M115.7 712.3h0.8M115.9 717.4h0.8M121.0 725.9h0.8M116.8 711.9h0.8M113.0 723.1h0.8M112.6 724.3h0.8M115.9 724.6h0.8M117.5 716.2h0.8M118.2 706.7h0.8M127.9 720.0h0.8M112.8 709.2h0.8M114.1 724.0h0.8M113.9 714.1h0.8M115.7 715.8h0.8M116.2 720.3h0.8M112.2 725.7h0.8M115.1 711.7h0.8M115.1 711.6h0.8M117.0 714.8h0.8M113.0 714.4h0.8M116.8 712.7h0.8M113.3 719.6h0.8M121.1 715.6h0.8M108.5 728.0h0.8M125.2 710.8h0.8M111.2 706.9h0.8M113.4 710.0h0.8M112.6 716.2h0.8M116.8 722.6h0.8M112.3 720.5h0.8M110.4 728.5h0.8M119.2 727.0h0.8M113.5 723.2h0.8M113.2 715.2h0.8M107.7 714.0h0.8M115.8 707.5h0.8M113.5 717.6h0.8M107.4 724.3h0.8M116.7 726.7h0.8M118.5 715.8h0.8M123.8 724.2h0.8M113.1 725.1h0.8M121.8 718.5h0.8M123.3 714.4h0.8M123.0 711.7h0.8M121.7 706.7h0.8M109.3 707.6h0.8M110.4 714.6h0.8M116.2 714.4h0.8M128.0 719.8h0.8M114.9 721.2h0.8M110.6 709.8h0.8M127.5 707.7h0.8M114.7 714.9h0.8M116.1 719.8h0.8M117.5 709.0h0.8M117.5 726.4h0.8M114.6 715.2h0.8M110.2 709.9h0.8M112.0 713.6h0.8M118.0 717.1h0.8M112.3 713.8h0.8M116.5 728.8h0.8M121.4 710.3h0.8M122.3 716.9h0.8M111.6 720.3h0.8M114.9 714.4h0.8M114.8 729.4h0.8M112.4 721.1h0.8M114.0 711.1h0.8M111.1 718.5h0.8M122.4 722.1h0.8M127.7 726.4h0.8M109.8 727.7h0.8M109.3 706.6h0.8M119.5 714.7h0.8M117.9 715.7h0.8M113.2 722.2h0.8M110.8 716.2h0.8M111.5 714.7h0.8M108.9 713.0h0.8M111.5 724.3h0.8M115.1 714.2h0.8M118.1 714.5h0.8M111.7 719.1h0.8M114.0 725.1h0.8M115.8 725.0h0.8M114.6 717.0h0.8M117.9 707.1h0.8M111.0 707.0h0.8M126.5 709.3h0.8M117.8 729.3h0.8M116.4 715.6h0.8M120.0 717.6h0.8M110.7 711.4h0.8M113.5 715.5h0.8M111.7 716.2h0.8M117.1 728.3h0.8M116.3 719.7h0.8M111.1 719.5h0.8M108.6 714.9h0.8M111.7 722.4h0.8M113.5 725.2h0.8M111.2 723.7h0.8M125.4 719.5h0.8M108.3 718.6h0.8M116.3 728.5h0.8M125.7 719.5h0.8M116.9 722.5h0.8M119.5 721.9h0.8M119.9 726.4h0.8M112.3 711.5h0.8M117.2 724.2h0.8M111.7 728.4h0.8M109.5 724.8h0.8M121.7 715.9h0.8M114.6 710.9h0.8M116.2 717.7h0.8M113.7 723.0h0.8M111.8 712.5h0.8M118.2 716.5h0.8M116.4 727.6h0.8M116.9 718.1h0.8M113.7 712.3h0.8M119.0 720.1h0.8M113.4 714.6h0.8M119.4 712.2h0.8M116.9 715.4h0.8M107.0 714.7h0.8M112.1 711.8h0.8M119.9 722.2h0.8M119.2 723.2h0.8M112.4 721.3h0.8M116.1 721.6h0.8M128.0 719.1h0.8M111.6 718.9h0.8M127.7 712.6h0.8M117.9 725.7h0.8M117.7 728.5h0.8M111.5 711.5h0.8M123.6 716.0h0.8M120.0 719.5h0.8" stroke="#111" stroke-width="0.8" fill="none" opacity="1"/>
<path d="M106,705.2 L106,699.5 Q112,696 119,699 Q121,702 121.5,705.2 Z" fill="#e3262c" opacity="0.88" filter="url(#b05)"/>
<path d="M111.9 704.1h0.8M110.2 699.7h0.8M107.3 704.5h0.8M107.1 703.3h0.8M114.6 703.3h0.8M107.0 705.3h0.8M119.3 702.5h0.8M113.2 703.8h0.8M121.4 704.8h0.8M119.2 705.0h0.8M112.8 704.5h0.8M108.7 702.9h0.8M113.8 701.2h0.8M118.7 701.3h0.8M107.1 704.0h0.8M115.3 703.8h0.8M118.3 703.1h0.8M118.3 700.4h0.8M113.9 703.0h0.8M109.4 701.9h0.8M112.3 702.8h0.8M112.1 696.2h0.8M110.8 702.2h0.8M106.8 703.6h0.8M115.5 701.5h0.8M116.9 704.7h0.8M113.2 702.2h0.8M117.6 702.9h0.8M115.6 700.1h0.8M115.9 704.3h0.8M118.7 702.5h0.8M112.5 699.0h0.8M106.6 699.9h0.8M110.2 700.4h0.8M117.4 704.6h0.8M116.5 704.0h0.8M120.4 704.1h0.8M106.8 704.8h0.8M106.2 704.5h0.8M123.1 703.2h0.8M119.9 702.7h0.8M113.0 704.7h0.8M119.0 702.6h0.8M111.9 705.2h0.8M115.6 703.3h0.8M113.7 705.3h0.8M111.2 702.4h0.8M111.5 698.0h0.8M117.8 702.5h0.8M112.8 703.1h0.8M122.9 703.0h0.8M114.6 700.1h0.8M108.2 702.9h0.8M112.3 704.0h0.8M122.3 701.5h0.8M113.1 705.0h0.8M110.7 704.8h0.8M119.6 700.8h0.8M110.9 700.6h0.8M106.9 701.0h0.8M118.4 704.9h0.8M114.9 699.2h0.8M107.4 704.2h0.8M114.4 704.1h0.8M113.1 703.2h0.8M108.9 705.3h0.8M116.1 700.6h0.8M111.9 702.4h0.8M122.8 701.6h0.8M121.6 703.2h0.8M111.9 702.8h0.8M113.8 702.0h0.8M110.8 703.3h0.8M112.4 696.3h0.8M110.8 701.5h0.8M119.4 701.5h0.8M115.4 701.8h0.8M125.5 702.7h0.8M113.0 701.1h0.8M115.7 695.7h0.8M114.8 701.7h0.8M111.0 704.9h0.8M121.2 705.1h0.8M115.3 702.2h0.8M110.8 702.0h0.8M119.9 704.5h0.8M126.2 702.2h0.8M121.8 702.1h0.8M116.4 705.3h0.8M107.5 701.8h0.8M115.9 701.8h0.8M111.8 698.9h0.8M114.6 700.7h0.8M115.4 704.5h0.8M116.9 704.1h0.8M116.2 704.9h0.8M111.6 704.0h0.8M110.2 702.2h0.8M110.7 703.1h0.8M119.4 699.7h0.8M116.1 700.9h0.8M118.5 698.2h0.8M119.2 698.7h0.8M113.8 703.8h0.8M113.8 698.4h0.8M114.8 700.2h0.8M108.8 698.7h0.8M117.7 702.6h0.8M114.6 700.3h0.8M115.6 700.7h0.8M119.4 704.0h0.8M111.5 699.9h0.8M107.1 701.1h0.8M125.1 703.8h0.8M119.1 704.1h0.8M112.3 702.7h0.8M106.7 704.1h0.8M113.2 701.5h0.8M112.5 702.4h0.8M123.0 702.0h0.8M116.0 704.9h0.8M118.3 697.0h0.8M115.4 703.9h0.8M105.5 703.3h0.8M118.4 705.3h0.8M109.4 702.9h0.8M125.1 704.7h0.8M113.1 700.4h0.8M114.2 701.2h0.8M114.5 704.7h0.8M115.6 700.9h0.8M120.4 700.0h0.8M112.8 702.4h0.8M113.3 704.6h0.8M110.4 704.1h0.8M119.8 698.2h0.8M119.9 699.1h0.8M113.7 705.4h0.8M110.5 703.5h0.8M114.3 704.5h0.8M113.9 705.2h0.8M108.5 701.6h0.8M114.6 697.1h0.8M114.9 703.4h0.8M118.7 701.5h0.8M123.2 703.1h0.8M112.0 702.3h0.8M119.5 700.2h0.8M115.7 704.6h0.8M118.9 700.1h0.8M118.6 704.6h0.8M113.0 702.4h0.8M121.6 698.7h0.8M118.6 700.7h0.8M115.3 703.8h0.8M118.6 699.6h0.8M110.6 704.3h0.8M112.8 697.4h0.8M113.6 700.5h0.8M112.3 698.8h0.8M112.8 700.2h0.8M117.8 703.3h0.8M125.9 704.6h0.8M112.2 704.1h0.8M113.4 703.9h0.8M119.3 702.2h0.8M115.8 701.2h0.8M126.9 700.6h0.8M119.4 703.9h0.8M112.1 704.2h0.8M110.2 705.3h0.8M107.2 704.3h0.8M115.3 695.0h0.8M120.8 701.4h0.8M118.1 698.5h0.8M117.2 698.9h0.8M117.5 704.1h0.8M119.3 698.7h0.8M113.3 704.3h0.8M113.9 700.6h0.8M111.5 700.7h0.8M112.8 703.1h0.8M116.9 703.0h0.8M112.7 702.3h0.8M109.9 704.2h0.8M118.7 704.2h0.8M120.4 695.5h0.8M116.5 702.9h0.8M115.9 702.5h0.8M112.8 702.1h0.8M121.8 704.3h0.8M110.9 702.3h0.8M118.3 704.8h0.8M115.2 699.9h0.8M115.9 703.1h0.8M108.4 703.3h0.8M115.4 705.1h0.8M119.0 697.7h0.8M124.9 703.3h0.8M118.9 702.3h0.8M125.1 703.9h0.8M119.8 702.1h0.8M110.0 704.1h0.8M116.3 702.8h0.8M110.2 698.4h0.8M121.9 697.0h0.8M107.9 701.1h0.8M117.7 698.8h0.8M111.2 701.8h0.8M114.9 698.9h0.8M110.0 700.9h0.8M105.9 699.2h0.8M114.6 697.5h0.8M117.9 703.9h0.8M114.8 702.1h0.8M118.3 701.7h0.8M112.6 704.0h0.8M107.2 705.0h0.8M113.6 705.1h0.8M114.3 693.6h0.8M111.4 703.9h0.8M116.4 701.9h0.8M115.3 701.6h0.8M113.6 700.6h0.8M118.8 704.9h0.8M106.2 699.8h0.8M115.8 700.3h0.8M118.1 700.3h0.8M111.7 703.8h0.8M119.7 704.3h0.8M109.3 703.4h0.8M116.9 698.6h0.8M110.8 701.7h0.8M122.1 702.3h0.8M119.9 705.0h0.8M110.7 704.1h0.8M129.6 703.8h0.8M118.3 697.4h0.8M114.9 702.2h0.8M115.6 703.5h0.8M111.9 702.8h0.8M111.1 703.6h0.8M116.8 701.3h0.8M113.3 704.3h0.8M117.3 700.4h0.8M125.0 703.7h0.8M117.1 701.8h0.8M107.1 703.2h0.8M116.5 704.0h0.8M120.0 701.1h0.8M114.7 701.2h0.8M121.5 702.0h0.8M112.9 704.3h0.8M120.2 700.0h0.8M113.0 703.5h0.8M126.0 701.6h0.8M111.1 702.0h0.8M115.4 703.2h0.8M114.7 701.5h0.8M110.0 702.2h0.8M112.6 704.1h0.8M124.5 700.7h0.8M107.6 699.0h0.8M113.1 699.8h0.8M122.7 699.2h0.8M111.6 697.7h0.8M107.8 697.8h0.8M112.7 703.6h0.8M112.4 704.4h0.8M117.8 699.0h0.8M113.7 704.3h0.8M112.0 701.7h0.8M126.3 701.1h0.8M122.8 703.2h0.8M114.0 702.6h0.8M114.2 699.9h0.8M111.7 698.1h0.8M118.1 704.5h0.8M115.6 700.6h0.8M115.2 705.0h0.8M120.9 701.7h0.8M110.7 704.0h0.8M114.1 693.5h0.8M120.9 702.0h0.8M112.1 700.6h0.8M115.8 704.6h0.8M110.6 699.0h0.8M111.7 704.5h0.8M126.4 704.2h0.8M115.4 701.7h0.8M109.3 702.5h0.8M113.9 704.9h0.8M123.0 700.2h0.8M111.1 705.3h0.8M114.2 701.6h0.8M119.0 696.4h0.8M109.6 700.5h0.8M119.7 704.5h0.8M106.6 703.1h0.8M115.1 701.4h0.8M113.4 704.0h0.8M112.2 703.4h0.8M113.9 702.1h0.8M113.4 704.4h0.8M114.8 699.7h0.8M120.9 702.1h0.8M112.4 703.5h0.8M112.3 701.1h0.8M110.8 704.4h0.8M117.9 704.3h0.8M107.4 704.1h0.8M110.9 704.4h0.8M114.9 705.4h0.8M110.5 699.5h0.8M116.8 698.3h0.8M120.2 700.6h0.8M123.8 704.8h0.8M111.4 698.2h0.8M118.4 699.0h0.8M125.4 705.0h0.8M117.0 704.3h0.8M115.0 699.0h0.8M112.8 699.3h0.8M113.3 703.5h0.8M113.4 702.3h0.8M111.0 700.4h0.8M116.2 702.4h0.8M108.8 704.9h0.8M108.7 701.5h0.8M114.0 701.4h0.8M111.7 703.3h0.8M115.0 704.3h0.8M122.6 699.6h0.8M121.2 704.4h0.8M110.1 701.2h0.8M113.2 701.6h0.8M107.5 701.4h0.8M112.9 701.9h0.8M126.3 704.6h0.8M122.4 701.5h0.8M112.2 704.8h0.8M116.7 703.1h0.8M114.8 700.6h0.8M110.7 703.9h0.8M112.6 698.8h0.8M114.8 704.0h0.8M109.0 705.1h0.8M106.4 701.5h0.8M113.1 697.4h0.8M111.5 704.7h0.8M116.6 701.6h0.8M118.0 705.3h0.8M118.0 703.6h0.8M109.8 705.1h0.8M116.8 705.0h0.8M120.0 704.8h0.8M112.2 705.2h0.8M114.8 705.2h0.8M116.2 703.6h0.8M112.3 705.4h0.8M113.8 705.4h0.8M124.3 702.8h0.8M111.6 705.3h0.8M118.9 696.4h0.8M126.5 702.6h0.8M118.2 705.0h0.8M114.3 703.9h0.8M121.7 701.9h0.8M122.6 703.7h0.8M117.2 705.2h0.8M114.6 701.0h0.8M112.0 703.5h0.8M109.9 704.2h0.8M117.7 704.2h0.8M112.6 696.6h0.8M116.2 702.6h0.8M123.1 698.0h0.8M121.8 703.9h0.8M111.7 698.8h0.8M107.0 704.1h0.8M114.7 702.5h0.8M114.3 703.2h0.8M116.6 701.7h0.8M118.1 702.7h0.8M131.7 705.2h0.8M115.4 700.9h0.8M116.9 700.6h0.8M118.1 697.4h0.8M118.9 701.7h0.8M115.7 705.4h0.8M109.6 702.9h0.8M114.4 697.5h0.8M117.1 702.1h0.8M119.1 698.8h0.8M116.0 705.0h0.8M115.1 704.8h0.8M106.4 703.3h0.8M120.2 703.2h0.8M115.6 704.0h0.8M117.7 700.0h0.8M111.4 704.8h0.8M120.5 702.5h0.8M113.4 703.5h0.8M116.3 704.9h0.8M117.2 700.5h0.8M112.0 703.8h0.8M109.1 699.9h0.8M116.0 705.1h0.8M110.7 701.3h0.8M120.4 702.4h0.8M111.7 704.8h0.8M120.7 703.5h0.8M116.7 702.6h0.8M122.7 699.2h0.8M110.8 702.0h0.8M116.1 700.7h0.8M109.1 704.4h0.8M116.9 702.0h0.8M116.1 700.4h0.8M111.7 699.8h0.8M123.5 702.0h0.8M110.5 704.9h0.8M107.2 705.1h0.8M120.2 705.3h0.8M110.1 705.2h0.8M106.2 703.7h0.8M117.5 702.0h0.8M108.9 704.1h0.8M117.7 703.5h0.8M112.2 702.7h0.8M118.9 703.9h0.8M112.8 705.1h0.8M118.9 700.3h0.8M113.2 703.0h0.8M114.9 705.0h0.8M117.8 704.6h0.8M112.8 699.5h0.8M113.0 705.1h0.8M115.9 701.4h0.8M113.4 701.8h0.8M115.3 702.5h0.8M115.9 698.6h0.8M115.3 703.4h0.8M113.2 703.0h0.8M111.2 699.4h0.8M108.6 698.5h0.8M112.0 701.8h0.8M111.5 701.5h0.8M117.8 699.8h0.8M120.5 700.6h0.8M111.6 704.9h0.8M119.3 703.9h0.8M115.3 704.9h0.8M114.2 698.7h0.8M114.8 702.0h0.8M116.8 704.0h0.8M117.9 703.6h0.8M115.6 700.6h0.8M118.7 701.6h0.8M111.7 702.2h0.8M113.5 702.9h0.8M112.4 704.4h0.8M115.9 695.1h0.8M113.4 702.5h0.8M117.1 700.9h0.8M117.5 704.4h0.8M114.9 705.2h0.8M110.4 703.4h0.8M115.5 704.0h0.8M117.2 703.9h0.8M116.9 704.5h0.8M113.4 696.6h0.8M117.0 705.1h0.8M107.6 700.7h0.8M115.5 704.5h0.8M119.2 703.2h0.8M109.0 700.0h0.8" stroke="#e3262c" stroke-width="0.8" fill="none" opacity="0.85"/>
<path d="M120.3 700.3h0.7M123.0 698.1h0.7M120.4 697.1h0.7M114.9 693.6h0.7M107.3 699.3h0.7M117.9 701.0h0.7M119.0 698.2h0.7M111.8 699.8h0.7M124.8 692.6h0.7M112.6 699.3h0.7M108.5 691.3h0.7M125.9 693.8h0.7M118.7 699.4h0.7M119.0 700.7h0.7M119.6 697.6h0.7M123.9 699.2h0.7M111.5 698.7h0.7M117.8 699.0h0.7M112.7 697.0h0.7M108.5 697.5h0.7M125.7 696.7h0.7M109.8 694.2h0.7M120.3 699.1h0.7M120.1 699.2h0.7M122.9 699.3h0.7M115.3 690.7h0.7M110.0 699.6h0.7M111.7 698.9h0.7M109.3 694.4h0.7M118.9 700.5h0.7M120.6 695.1h0.7M114.1 699.4h0.7M121.7 694.8h0.7M116.0 695.4h0.7M111.4 700.6h0.7M113.9 694.4h0.7M120.7 699.6h0.7M115.8 692.1h0.7M117.5 696.2h0.7M117.9 697.4h0.7M120.2 700.4h0.7M119.6 699.7h0.7M112.6 697.1h0.7M114.8 698.8h0.7M111.1 700.8h0.7M116.6 698.4h0.7M107.8 692.7h0.7M109.1 690.9h0.7M127.5 696.9h0.7M118.8 698.8h0.7M117.1 698.3h0.7M110.7 700.4h0.7M108.2 700.2h0.7M115.1 695.7h0.7M112.3 696.2h0.7M118.8 695.7h0.7M124.5 700.4h0.7M110.0 697.3h0.7M114.3 698.1h0.7M116.5 694.4h0.7M114.8 693.6h0.7M114.8 695.8h0.7M115.7 693.8h0.7M122.7 700.6h0.7M117.6 693.8h0.7M111.3 700.5h0.7M115.6 700.3h0.7M120.2 698.7h0.7M113.1 698.0h0.7M114.9 692.7h0.7M116.1 696.8h0.7M116.9 693.7h0.7M115.0 698.6h0.7M116.8 697.8h0.7M109.1 698.2h0.7M110.3 698.9h0.7M116.8 700.7h0.7M118.9 697.3h0.7M107.5 698.3h0.7M111.9 700.7h0.7M106.5 698.9h0.7M115.1 694.8h0.7M115.7 694.8h0.7M115.2 699.1h0.7M115.8 698.0h0.7M114.8 696.0h0.7M115.9 700.4h0.7M122.0 692.1h0.7M117.8 700.1h0.7M119.6 700.4h0.7M109.5 697.2h0.7M108.4 699.6h0.7M105.7 696.3h0.7M114.3 696.8h0.7M120.0 700.1h0.7M115.0 697.7h0.7M120.5 697.7h0.7M119.0 691.9h0.7M121.6 696.2h0.7M129.8 689.9h0.7M110.9 695.9h0.7M115.3 697.5h0.7M118.2 700.8h0.7M112.9 696.6h0.7M116.3 699.7h0.7M113.7 698.8h0.7M119.4 696.1h0.7M110.3 700.2h0.7M118.3 699.9h0.7M120.4 698.2h0.7M112.9 698.6h0.7M114.4 697.8h0.7M116.0 698.8h0.7M116.7 700.5h0.7M118.8 695.2h0.7M112.2 694.4h0.7M116.3 699.5h0.7M108.3 695.4h0.7M108.7 700.9h0.7" stroke="#f08a8c" stroke-width="0.7" fill="none" opacity="0.8"/>
<text font-size="10.2" fill="#111" textLength="34" lengthAdjust="spacingAndGlyphs" transform="translate(28 672) rotate(-90)">HLA-DR</text>
<text font-size="10.2" fill="#111" textLength="34" lengthAdjust="spacingAndGlyphs" transform="translate(28 722.8) rotate(-90)">HLA-DR</text>
<text x="51.90" y="743.40" font-size="10.4" fill="#111" stroke="#111" stroke-width="0.22" textLength="15.50" lengthAdjust="spacingAndGlyphs" >FSC</text>
<text x="111.90" y="744.40" font-size="10.4" fill="#111" stroke="#111" stroke-width="0.22" textLength="15.50" lengthAdjust="spacingAndGlyphs" >FSC</text>
<line x1="151.00" y1="630.00" x2="151.00" y2="677.60" stroke="#555" stroke-width="0.8" />
<line x1="151.00" y1="682.20" x2="151.00" y2="730.00" stroke="#555" stroke-width="0.8" />
<text font-size="10.2" fill="#111" textLength="39" lengthAdjust="spacingAndGlyphs" transform="translate(154.5 635.5) rotate(90)">C57BL/6</text>
<text font-size="10.2" fill="#111" textLength="19.5" lengthAdjust="spacingAndGlyphs" transform="translate(154.5 697) rotate(90)">NSG</text>
<text x="215.09" y="627.90" font-size="18" font-weight="bold" fill="#000">H</text>
<line x1="248.00" y1="617.50" x2="248.00" y2="665.80" stroke="#555" stroke-width="0.7" />
<line x1="248.00" y1="675.00" x2="248.00" y2="724.20" stroke="#555" stroke-width="0.7" />
<text font-size="10.2" fill="#111" textLength="23" lengthAdjust="spacingAndGlyphs" transform="translate(243.8 653.5) rotate(-90)">HS-5</text>
<text font-size="10.2" fill="#111" textLength="40.6" lengthAdjust="spacingAndGlyphs" transform="translate(243.8 719.6) rotate(-90)">HMEC-1</text>
<rect x="253.00" y="617.50" width="49.00" height="48.30" fill="#fff" stroke="#9a9a9a" stroke-width="0.7" />
<clipPath id="c735"><rect x="253.50" y="617.50" width="48.00" height="48.30"/></clipPath>
<g clip-path="url(#c735)">
<polyline points="253.00,664.60 253.50,664.60 254.00,664.60 254.50,664.60 255.00,664.60 255.50,664.60 256.00,664.60 256.50,664.60 257.00,664.60 257.50,664.60 258.00,664.59 258.50,664.58 259.00,664.56 259.50,664.52 260.00,664.44 260.50,664.28 261.00,664.01 261.50,663.54 262.00,662.77 262.50,661.59 263.00,659.85 263.50,657.43 264.00,654.23 264.50,650.24 265.00,645.55 265.50,640.42 266.00,635.20 266.50,630.38 267.00,626.46 267.50,623.89 268.00,623.00 268.50,623.57 269.00,625.25 269.50,627.89 270.00,631.29 270.50,635.20 271.00,639.37 271.50,643.54 272.00,647.50 272.50,651.09 273.00,654.23 273.50,656.85 274.00,658.97 274.50,660.62 275.00,661.87 275.50,662.77 276.00,663.41 276.50,663.85 277.00,664.14 277.50,664.32 278.00,664.44 278.50,664.51 279.00,664.55 279.50,664.57 280.00,664.59 280.50,664.59 281.00,664.60 281.50,664.60 282.00,664.60 282.50,664.60 283.00,664.60 283.50,664.60 284.00,664.60 284.50,664.60 285.00,664.60 285.50,664.60 286.00,664.60 286.50,664.60 287.00,664.60 287.50,664.60 288.00,664.60 288.50,664.60 289.00,664.60 289.50,664.60 290.00,664.60 290.50,664.60 291.00,664.60 291.50,664.60 292.00,664.60 292.50,664.60 293.00,664.60 293.50,664.60 294.00,664.60 294.50,664.60 295.00,664.60 295.50,664.60 296.00,664.60 296.50,664.60 297.00,664.60 297.50,664.60 298.00,664.60 298.50,664.60 299.00,664.60 299.50,664.60 300.00,664.60 300.50,664.60 301.00,664.60 301.50,664.60 302.00,664.60" fill="none" stroke="#a6a6a6" stroke-width="0.6" stroke-linejoin="round" />
<polyline points="253.00,664.60 253.00,664.60 253.50,664.60 254.00,664.60 254.50,664.60 255.00,664.60 255.50,664.60 256.00,664.60 256.50,664.60 257.00,664.60 257.50,664.60 258.00,664.60 258.50,664.60 259.00,664.59 259.50,664.58 260.00,664.56 260.50,664.52 261.00,664.44 261.50,664.31 262.00,664.08 262.50,663.70 263.00,663.10 263.50,662.20 264.00,660.90 264.50,659.11 265.00,656.74 265.50,653.76 266.00,650.18 266.50,646.13 267.00,641.79 267.50,637.47 268.00,633.49 268.50,630.22 269.00,627.99 269.50,627.03 270.00,627.23 270.50,628.16 271.00,629.74 271.50,631.89 272.00,634.49 272.50,637.42 273.00,640.53 273.50,643.69 274.00,646.78 274.50,649.71 275.00,652.39 275.50,654.78 276.00,656.86 276.50,658.61 277.00,660.05 277.50,661.22 278.00,662.13 278.50,662.83 279.00,663.36 279.50,663.74 280.00,664.02 280.50,664.22 281.00,664.35 281.50,664.44 282.00,664.50 282.50,664.54 283.00,664.56 283.50,664.58 284.00,664.59 284.50,664.59 285.00,664.60 285.50,664.60 286.00,664.60 286.50,664.60 287.00,664.60 287.50,664.60 288.00,664.60 288.50,664.60 289.00,664.60 289.50,664.60 290.00,664.60 290.50,664.60 291.00,664.60 291.50,664.60 292.00,664.60 292.50,664.60 293.00,664.60 293.50,664.60 294.00,664.60 294.50,664.60 295.00,664.60 295.50,664.60 296.00,664.60 296.50,664.60 297.00,664.60 297.50,664.60 298.00,664.60 298.50,664.60 299.00,664.60 299.50,664.60 300.00,664.60 300.50,664.60 301.00,664.60 301.50,664.60 302.00,664.60 302.00,664.60" fill="#b9b9b9" stroke="none" stroke-width="0" stroke-linejoin="round" />
<polyline points="253.00,664.60 253.50,664.60 254.00,664.60 254.50,664.60 255.00,664.60 255.50,664.60 256.00,664.60 256.50,664.60 257.00,664.60 257.50,664.60 258.00,664.60 258.50,664.59 259.00,664.59 259.50,664.57 260.00,664.55 260.50,664.50 261.00,664.43 261.50,664.29 262.00,664.07 262.50,663.72 263.00,663.18 263.50,662.40 264.00,661.27 264.50,659.74 265.00,657.72 265.50,655.16 266.00,652.07 266.50,648.48 267.00,644.51 267.50,640.35 268.00,636.25 268.50,632.50 269.00,629.39 269.50,627.19 270.00,626.10 270.50,626.05 271.00,626.32 271.50,626.84 272.00,627.59 272.50,628.57 273.00,629.74 273.50,631.10 274.00,632.61 274.50,634.25 275.00,636.00 275.50,637.81 276.00,639.68 276.50,641.57 277.00,643.45 277.50,645.30 278.00,647.11 278.50,648.84 279.00,650.50 279.50,652.07 280.00,653.53 280.50,654.89 281.00,656.13 281.50,657.27 282.00,658.29 282.50,659.21 283.00,660.02 283.50,660.73 284.00,661.36 284.50,661.90 285.00,662.37 285.50,662.76 286.00,663.10 286.50,663.38 287.00,663.62 287.50,663.81 288.00,663.97 288.50,664.10 289.00,664.21 289.50,664.30 290.00,664.36 290.50,664.42 291.00,664.46 291.50,664.49 292.00,664.52 292.50,664.54 293.00,664.56 293.50,664.57 294.00,664.58 294.50,664.58 295.00,664.59 295.50,664.59 296.00,664.59 296.50,664.60 297.00,664.60 297.50,664.60 298.00,664.60 298.50,664.60 299.00,664.60 299.50,664.60 300.00,664.60 300.50,664.60 301.00,664.60 301.50,664.60 302.00,664.60" fill="none" stroke="#444" stroke-width="0.7" stroke-linejoin="round" />
</g>
<text x="254.5" y="669.8" font-size="2.8" fill="#777">10</text>
<text x="265.0" y="669.8" font-size="2.8" fill="#777">10</text>
<text x="275.5" y="669.8" font-size="2.8" fill="#777">10</text>
<text x="286.0" y="669.8" font-size="2.8" fill="#777">10</text>
<text x="296.5" y="669.8" font-size="2.8" fill="#777">10</text>
<rect x="306.30" y="617.50" width="49.00" height="48.30" fill="#fff" stroke="#9a9a9a" stroke-width="0.7" />
<clipPath id="c747"><rect x="306.80" y="617.50" width="48.00" height="48.30"/></clipPath>
<g clip-path="url(#c747)">
<polyline points="306.30,664.60 306.80,664.60 307.30,664.60 307.80,664.60 308.30,664.60 308.80,664.60 309.30,664.60 309.80,664.60 310.30,664.60 310.80,664.60 311.30,664.60 311.80,664.60 312.30,664.59 312.80,664.58 313.30,664.54 313.80,664.48 314.30,664.34 314.80,664.07 315.30,663.59 315.80,662.77 316.30,661.46 316.80,659.46 317.30,656.63 317.80,652.86 318.30,648.18 318.80,642.79 319.30,637.08 319.80,631.63 320.30,627.08 320.80,624.06 321.30,623.00 321.80,623.89 322.30,626.46 322.80,630.38 323.30,635.20 323.80,640.42 324.30,645.55 324.80,650.24 325.30,654.23 325.80,657.43 326.30,659.85 326.80,661.59 327.30,662.77 327.80,663.54 328.30,664.01 328.80,664.28 329.30,664.44 329.80,664.52 330.30,664.56 330.80,664.58 331.30,664.59 331.80,664.60 332.30,664.60 332.80,664.60 333.30,664.60 333.80,664.60 334.30,664.60 334.80,664.60 335.30,664.60 335.80,664.60 336.30,664.60 336.80,664.60 337.30,664.60 337.80,664.60 338.30,664.60 338.80,664.60 339.30,664.60 339.80,664.60 340.30,664.60 340.80,664.60 341.30,664.60 341.80,664.60 342.30,664.60 342.80,664.60 343.30,664.60 343.80,664.60 344.30,664.60 344.80,664.60 345.30,664.60 345.80,664.60 346.30,664.60 346.80,664.60 347.30,664.60 347.80,664.60 348.30,664.60 348.80,664.60 349.30,664.60 349.80,664.60 350.30,664.60 350.80,664.60 351.30,664.60 351.80,664.60 352.30,664.60 352.80,664.60 353.30,664.60 353.80,664.60 354.30,664.60 354.80,664.60 355.30,664.60" fill="none" stroke="#a6a6a6" stroke-width="0.6" stroke-linejoin="round" />
<polyline points="306.30,664.60 306.30,664.60 306.80,664.60 307.30,664.60 307.80,664.60 308.30,664.60 308.80,664.60 309.30,664.60 309.80,664.60 310.30,664.60 310.80,664.60 311.30,664.60 311.80,664.60 312.30,664.60 312.80,664.60 313.30,664.60 313.80,664.60 314.30,664.60 314.80,664.60 315.30,664.60 315.80,664.60 316.30,664.60 316.80,664.60 317.30,664.60 317.80,664.60 318.30,664.59 318.80,664.57 319.30,664.54 319.80,664.48 320.30,664.37 320.80,664.16 321.30,663.80 321.80,663.19 322.30,662.24 322.80,660.81 323.30,658.78 323.80,656.04 324.30,652.53 324.80,648.32 325.30,643.57 325.80,638.58 326.30,633.79 326.80,629.65 327.30,626.65 327.80,625.14 328.30,625.20 328.80,626.38 329.30,628.55 329.80,631.52 330.30,635.08 330.80,638.98 331.30,642.98 331.80,646.85 332.30,650.42 332.80,653.59 333.30,656.28 333.80,658.49 334.30,660.23 334.80,661.57 335.30,662.55 335.80,663.25 336.30,663.74 336.80,664.06 337.30,664.28 337.80,664.41 338.30,664.49 338.80,664.54 339.30,664.57 339.80,664.58 340.30,664.59 340.80,664.60 341.30,664.60 341.80,664.60 342.30,664.60 342.80,664.60 343.30,664.60 343.80,664.60 344.30,664.60 344.80,664.60 345.30,664.60 345.80,664.60 346.30,664.60 346.80,664.60 347.30,664.60 347.80,664.60 348.30,664.60 348.80,664.60 349.30,664.60 349.80,664.60 350.30,664.60 350.80,664.60 351.30,664.60 351.80,664.60 352.30,664.60 352.80,664.60 353.30,664.60 353.80,664.60 354.30,664.60 354.80,664.60 355.30,664.60 355.30,664.60" fill="#b9b9b9" stroke="none" stroke-width="0" stroke-linejoin="round" />
<polyline points="306.30,664.60 306.80,664.60 307.30,664.60 307.80,664.60 308.30,664.60 308.80,664.60 309.30,664.60 309.80,664.60 310.30,664.60 310.80,664.60 311.30,664.60 311.80,664.60 312.30,664.60 312.80,664.60 313.30,664.60 313.80,664.60 314.30,664.60 314.80,664.60 315.30,664.60 315.80,664.60 316.30,664.60 316.80,664.60 317.30,664.60 317.80,664.59 318.30,664.58 318.80,664.56 319.30,664.52 319.80,664.45 320.30,664.31 320.80,664.07 321.30,663.66 321.80,662.99 322.30,661.97 322.80,660.47 323.30,658.36 323.80,655.55 324.30,651.98 324.80,647.70 325.30,642.86 325.80,637.73 326.30,632.69 326.80,628.18 327.30,624.67 327.80,622.54 328.30,622.02 328.80,622.74 329.30,624.44 329.80,627.01 330.30,630.25 330.80,633.98 331.30,637.95 331.80,641.98 332.30,645.85 332.80,649.44 333.30,652.64 333.80,655.39 334.30,657.68 334.80,659.52 335.30,660.97 335.80,662.06 336.30,662.87 336.80,663.45 337.30,663.85 337.80,664.13 338.30,664.31 338.80,664.42 339.30,664.50 339.80,664.54 340.30,664.57 340.80,664.58 341.30,664.59 341.80,664.59 342.30,664.60 342.80,664.60 343.30,664.60 343.80,664.60 344.30,664.60 344.80,664.60 345.30,664.60 345.80,664.60 346.30,664.60 346.80,664.60 347.30,664.60 347.80,664.60 348.30,664.60 348.80,664.60 349.30,664.60 349.80,664.60 350.30,664.60 350.80,664.60 351.30,664.60 351.80,664.60 352.30,664.60 352.80,664.60 353.30,664.60 353.80,664.60 354.30,664.60 354.80,664.60 355.30,664.60" fill="none" stroke="#444" stroke-width="0.7" stroke-linejoin="round" />
</g>
<text x="307.8" y="669.8" font-size="2.8" fill="#777">10</text>
<text x="318.3" y="669.8" font-size="2.8" fill="#777">10</text>
<text x="328.8" y="669.8" font-size="2.8" fill="#777">10</text>
<text x="339.3" y="669.8" font-size="2.8" fill="#777">10</text>
<text x="349.8" y="669.8" font-size="2.8" fill="#777">10</text>
<rect x="359.50" y="617.50" width="49.00" height="48.30" fill="#fff" stroke="#9a9a9a" stroke-width="0.7" />
<clipPath id="c759"><rect x="360.00" y="617.50" width="48.00" height="48.30"/></clipPath>
<g clip-path="url(#c759)">
<polyline points="359.50,663.66 360.00,662.90 360.50,661.68 361.00,659.83 361.50,657.21 362.00,653.71 362.50,649.37 363.00,644.36 363.50,639.07 364.00,634.01 364.50,629.79 365.00,626.98 365.50,626.00 366.00,626.71 366.50,628.75 367.00,631.92 367.50,635.89 368.00,640.29 368.50,644.76 369.00,649.00 369.50,652.78 370.00,655.97 370.50,658.53 371.00,660.48 371.50,661.91 372.00,662.90 372.50,663.57 373.00,664.00 373.50,664.26 374.00,664.42 374.50,664.50 375.00,664.55 375.50,664.58 376.00,664.59 376.50,664.59 377.00,664.60 377.50,664.60 378.00,664.60 378.50,664.60 379.00,664.60 379.50,664.60 380.00,664.60 380.50,664.60 381.00,664.60 381.50,664.60 382.00,664.60 382.50,664.60 383.00,664.60 383.50,664.60 384.00,664.60 384.50,664.60 385.00,664.60 385.50,664.60 386.00,664.60 386.50,664.60 387.00,664.60 387.50,664.60 388.00,664.60 388.50,664.60 389.00,664.60 389.50,664.60 390.00,664.60 390.50,664.60 391.00,664.60 391.50,664.60 392.00,664.60 392.50,664.60 393.00,664.60 393.50,664.60 394.00,664.60 394.50,664.60 395.00,664.60 395.50,664.60 396.00,664.60 396.50,664.60 397.00,664.60 397.50,664.60 398.00,664.60 398.50,664.60 399.00,664.60 399.50,664.60 400.00,664.60 400.50,664.60 401.00,664.60 401.50,664.60 402.00,664.60 402.50,664.60 403.00,664.60 403.50,664.60 404.00,664.60 404.50,664.60 405.00,664.60 405.50,664.60 406.00,664.60 406.50,664.60 407.00,664.60 407.50,664.60 408.00,664.60 408.50,664.60" fill="none" stroke="#a6a6a6" stroke-width="0.6" stroke-linejoin="round" />
<polyline points="359.50,664.60 359.50,664.57 360.00,664.54 360.50,664.49 361.00,664.40 361.50,664.27 362.00,664.05 362.50,663.72 363.00,663.22 363.50,662.50 364.00,661.49 364.50,660.12 365.00,658.34 365.50,656.07 366.00,653.31 366.50,650.07 367.00,646.40 367.50,642.43 368.00,638.34 368.50,634.34 369.00,630.69 369.50,627.64 370.00,625.42 370.50,624.20 371.00,624.05 371.50,624.62 372.00,625.79 372.50,627.51 373.00,629.70 373.50,632.27 374.00,635.12 374.50,638.13 375.00,641.21 375.50,644.24 376.00,647.16 376.50,649.89 377.00,652.39 377.50,654.62 378.00,656.57 378.50,658.23 379.00,659.63 379.50,660.79 380.00,661.72 380.50,662.45 381.00,663.03 381.50,663.47 382.00,663.79 382.50,664.04 383.00,664.21 383.50,664.34 384.00,664.42 384.50,664.48 385.00,664.53 385.50,664.55 386.00,664.57 386.50,664.58 387.00,664.59 387.50,664.59 388.00,664.60 388.50,664.60 389.00,664.60 389.50,664.60 390.00,664.60 390.50,664.60 391.00,664.60 391.50,664.60 392.00,664.60 392.50,664.60 393.00,664.60 393.50,664.60 394.00,664.60 394.50,664.60 395.00,664.60 395.50,664.60 396.00,664.60 396.50,664.60 397.00,664.60 397.50,664.60 398.00,664.60 398.50,664.60 399.00,664.60 399.50,664.60 400.00,664.60 400.50,664.60 401.00,664.60 401.50,664.60 402.00,664.60 402.50,664.60 403.00,664.60 403.50,664.60 404.00,664.60 404.50,664.60 405.00,664.60 405.50,664.60 406.00,664.60 406.50,664.60 407.00,664.60 407.50,664.60 408.00,664.60 408.50,664.60 408.50,664.60" fill="#b9b9b9" stroke="none" stroke-width="0" stroke-linejoin="round" />
<polyline points="359.50,664.59 360.00,664.58 360.50,664.56 361.00,664.53 361.50,664.47 362.00,664.37 362.50,664.21 363.00,663.96 363.50,663.58 364.00,663.02 364.50,662.21 365.00,661.08 365.50,659.57 366.00,657.59 366.50,655.12 367.00,652.11 367.50,648.61 368.00,644.69 368.50,640.48 369.00,636.19 369.50,632.04 370.00,628.32 370.50,625.28 371.00,623.14 371.50,622.09 372.00,622.09 372.50,622.64 373.00,623.67 373.50,625.14 374.00,627.01 374.50,629.20 375.00,631.67 375.50,634.32 376.00,637.08 376.50,639.88 377.00,642.66 377.50,645.36 378.00,647.92 378.50,650.31 379.00,652.51 379.50,654.48 380.00,656.24 380.50,657.77 381.00,659.08 381.50,660.20 382.00,661.13 382.50,661.89 383.00,662.52 383.50,663.01 384.00,663.41 384.50,663.71 385.00,663.95 385.50,664.13 386.00,664.26 386.50,664.36 387.00,664.43 387.50,664.48 388.00,664.52 388.50,664.55 389.00,664.56 389.50,664.58 390.00,664.58 390.50,664.59 391.00,664.59 391.50,664.60 392.00,664.60 392.50,664.60 393.00,664.60 393.50,664.60 394.00,664.60 394.50,664.60 395.00,664.60 395.50,664.60 396.00,664.60 396.50,664.60 397.00,664.60 397.50,664.60 398.00,664.60 398.50,664.60 399.00,664.60 399.50,664.60 400.00,664.60 400.50,664.60 401.00,664.60 401.50,664.60 402.00,664.60 402.50,664.60 403.00,664.60 403.50,664.60 404.00,664.60 404.50,664.60 405.00,664.60 405.50,664.60 406.00,664.60 406.50,664.60 407.00,664.60 407.50,664.60 408.00,664.60 408.50,664.60" fill="none" stroke="#444" stroke-width="0.7" stroke-linejoin="round" />
</g>
<text x="361.0" y="669.8" font-size="2.8" fill="#777">10</text>
<text x="371.5" y="669.8" font-size="2.8" fill="#777">10</text>
<text x="382.0" y="669.8" font-size="2.8" fill="#777">10</text>
<text x="392.5" y="669.8" font-size="2.8" fill="#777">10</text>
<text x="403.0" y="669.8" font-size="2.8" fill="#777">10</text>
<rect x="412.80" y="617.50" width="49.00" height="48.30" fill="#fff" stroke="#9a9a9a" stroke-width="0.7" />
<clipPath id="c771"><rect x="413.30" y="617.50" width="48.00" height="48.30"/></clipPath>
<g clip-path="url(#c771)">
<polyline points="412.80,664.60 413.30,664.60 413.80,664.60 414.30,664.60 414.80,664.60 415.30,664.60 415.80,664.60 416.30,664.60 416.80,664.60 417.30,664.60 417.80,664.60 418.30,664.60 418.80,664.60 419.30,664.59 419.80,664.58 420.30,664.55 420.80,664.48 421.30,664.34 421.80,664.08 422.30,663.62 422.80,662.82 423.30,661.53 423.80,659.59 424.30,656.83 424.80,653.15 425.30,648.58 425.80,643.31 426.30,637.74 426.80,632.42 427.30,627.98 427.80,625.04 428.30,624.00 428.80,624.87 429.30,627.38 429.80,631.20 430.30,635.91 430.80,641.00 431.30,646.01 431.80,650.58 432.30,654.48 432.80,657.60 433.30,659.97 433.80,661.66 434.30,662.82 434.80,663.56 435.30,664.02 435.80,664.29 436.30,664.44 436.80,664.52 437.30,664.56 437.80,664.58 438.30,664.59 438.80,664.60 439.30,664.60 439.80,664.60 440.30,664.60 440.80,664.60 441.30,664.60 441.80,664.60 442.30,664.60 442.80,664.60 443.30,664.60 443.80,664.60 444.30,664.60 444.80,664.60 445.30,664.60 445.80,664.60 446.30,664.60 446.80,664.60 447.30,664.60 447.80,664.60 448.30,664.60 448.80,664.60 449.30,664.60 449.80,664.60 450.30,664.60 450.80,664.60 451.30,664.60 451.80,664.60 452.30,664.60 452.80,664.60 453.30,664.60 453.80,664.60 454.30,664.60 454.80,664.60 455.30,664.60 455.80,664.60 456.30,664.60 456.80,664.60 457.30,664.60 457.80,664.60 458.30,664.60 458.80,664.60 459.30,664.60 459.80,664.60 460.30,664.60 460.80,664.60 461.30,664.60 461.80,664.60" fill="none" stroke="#a6a6a6" stroke-width="0.6" stroke-linejoin="round" />
<polyline points="412.80,664.60 412.80,664.60 413.30,664.60 413.80,664.60 414.30,664.60 414.80,664.60 415.30,664.60 415.80,664.60 416.30,664.60 416.80,664.60 417.30,664.60 417.80,664.60 418.30,664.60 418.80,664.60 419.30,664.60 419.80,664.60 420.30,664.60 420.80,664.60 421.30,664.60 421.80,664.60 422.30,664.60 422.80,664.60 423.30,664.60 423.80,664.60 424.30,664.60 424.80,664.60 425.30,664.60 425.80,664.60 426.30,664.60 426.80,664.60 427.30,664.60 427.80,664.60 428.30,664.60 428.80,664.59 429.30,664.58 429.80,664.56 430.30,664.52 430.80,664.45 431.30,664.31 431.80,664.09 432.30,663.72 432.80,663.14 433.30,662.27 433.80,661.00 434.30,659.25 434.80,656.95 435.30,654.04 435.80,650.57 436.30,646.62 436.80,642.40 437.30,638.19 437.80,634.31 438.30,631.13 438.80,628.96 439.30,628.03 439.80,628.23 440.30,629.13 440.80,630.67 441.30,632.76 441.80,635.29 442.30,638.14 442.80,641.17 443.30,644.25 443.80,647.26 444.30,650.11 444.80,652.72 445.30,655.04 445.80,657.06 446.30,658.77 446.80,660.17 447.30,661.31 447.80,662.19 448.30,662.88 448.80,663.39 449.30,663.77 449.80,664.04 450.30,664.23 450.80,664.36 451.30,664.44 451.80,664.50 452.30,664.54 452.80,664.56 453.30,664.58 453.80,664.59 454.30,664.59 454.80,664.60 455.30,664.60 455.80,664.60 456.30,664.60 456.80,664.60 457.30,664.60 457.80,664.60 458.30,664.60 458.80,664.60 459.30,664.60 459.80,664.60 460.30,664.60 460.80,664.60 461.30,664.60 461.80,664.60 461.80,664.60" fill="#b9b9b9" stroke="none" stroke-width="0" stroke-linejoin="round" />
<polyline points="412.80,664.60 413.30,664.60 413.80,664.60 414.30,664.60 414.80,664.60 415.30,664.60 415.80,664.60 416.30,664.60 416.80,664.60 417.30,664.60 417.80,664.60 418.30,664.60 418.80,664.60 419.30,664.60 419.80,664.60 420.30,664.60 420.80,664.60 421.30,664.60 421.80,664.60 422.30,664.60 422.80,664.60 423.30,664.60 423.80,664.60 424.30,664.60 424.80,664.60 425.30,664.60 425.80,664.60 426.30,664.60 426.80,664.60 427.30,664.60 427.80,664.60 428.30,664.60 428.80,664.59 429.30,664.59 429.80,664.58 430.30,664.56 430.80,664.53 431.30,664.47 431.80,664.37 432.30,664.21 432.80,663.96 433.30,663.58 433.80,663.02 434.30,662.21 434.80,661.08 435.30,659.57 435.80,657.59 436.30,655.12 436.80,652.11 437.30,648.61 437.80,644.69 438.30,640.48 438.80,636.19 439.30,632.04 439.80,628.32 440.30,625.28 440.80,623.14 441.30,622.09 441.80,622.05 442.30,622.32 442.80,622.84 443.30,623.60 443.80,624.59 444.30,625.77 444.80,627.15 445.30,628.69 445.80,630.37 446.30,632.17 446.80,634.05 447.30,635.99 447.80,637.97 448.30,639.95 448.80,641.93 449.30,643.86 449.80,645.75 450.30,647.56 450.80,649.29 451.30,650.93 451.80,652.46 452.30,653.89 452.80,655.20 453.30,656.40 453.80,657.49 454.30,658.47 454.80,659.35 455.30,660.13 455.80,660.81 456.30,661.41 456.80,661.93 457.30,662.38 457.80,662.76 458.30,663.09 458.80,663.37 459.30,663.60 459.80,663.79 460.30,663.95 460.80,664.08 461.30,664.19 461.80,664.28" fill="none" stroke="#444" stroke-width="0.7" stroke-linejoin="round" />
</g>
<text x="414.3" y="669.8" font-size="2.8" fill="#777">10</text>
<text x="424.8" y="669.8" font-size="2.8" fill="#777">10</text>
<text x="435.3" y="669.8" font-size="2.8" fill="#777">10</text>
<text x="445.8" y="669.8" font-size="2.8" fill="#777">10</text>
<text x="456.3" y="669.8" font-size="2.8" fill="#777">10</text>
<rect x="466.00" y="617.50" width="49.00" height="48.30" fill="#fff" stroke="#9a9a9a" stroke-width="0.7" />
<clipPath id="c783"><rect x="466.50" y="617.50" width="48.00" height="48.30"/></clipPath>
<g clip-path="url(#c783)">
<polyline points="466.00,664.59 466.50,664.59 467.00,664.56 467.50,664.50 468.00,664.38 468.50,664.12 469.00,663.61 469.50,662.68 470.00,661.13 470.50,658.70 471.00,655.17 471.50,650.45 472.00,644.64 472.50,638.16 473.00,631.69 473.50,626.12 474.00,622.34 474.50,621.00 475.00,622.11 475.50,625.28 476.00,630.04 476.50,635.76 477.00,641.74 477.50,647.39 478.00,652.30 478.50,656.25 479.00,659.22 479.50,661.30 480.00,662.68 480.50,663.54 481.00,664.05 481.50,664.32 482.00,664.47 482.50,664.54 483.00,664.57 483.50,664.59 484.00,664.60 484.50,664.60 485.00,664.60 485.50,664.60 486.00,664.60 486.50,664.60 487.00,664.60 487.50,664.60 488.00,664.60 488.50,664.60 489.00,664.60 489.50,664.60 490.00,664.60 490.50,664.60 491.00,664.60 491.50,664.60 492.00,664.60 492.50,664.60 493.00,664.60 493.50,664.60 494.00,664.60 494.50,664.60 495.00,664.60 495.50,664.60 496.00,664.60 496.50,664.60 497.00,664.60 497.50,664.60 498.00,664.60 498.50,664.60 499.00,664.60 499.50,664.60 500.00,664.60 500.50,664.60 501.00,664.60 501.50,664.60 502.00,664.60 502.50,664.60 503.00,664.60 503.50,664.60 504.00,664.60 504.50,664.60 505.00,664.60 505.50,664.60 506.00,664.60 506.50,664.60 507.00,664.60 507.50,664.60 508.00,664.60 508.50,664.60 509.00,664.60 509.50,664.60 510.00,664.60 510.50,664.60 511.00,664.60 511.50,664.60 512.00,664.60 512.50,664.60 513.00,664.60 513.50,664.60 514.00,664.60 514.50,664.60 515.00,664.60" fill="none" stroke="#a6a6a6" stroke-width="0.6" stroke-linejoin="round" />
<polyline points="466.00,664.60 466.00,664.60 466.50,664.60 467.00,664.60 467.50,664.60 468.00,664.60 468.50,664.60 469.00,664.60 469.50,664.60 470.00,664.60 470.50,664.60 471.00,664.60 471.50,664.60 472.00,664.60 472.50,664.60 473.00,664.60 473.50,664.60 474.00,664.60 474.50,664.60 475.00,664.60 475.50,664.60 476.00,664.60 476.50,664.60 477.00,664.60 477.50,664.60 478.00,664.60 478.50,664.60 479.00,664.60 479.50,664.60 480.00,664.60 480.50,664.59 481.00,664.59 481.50,664.58 482.00,664.56 482.50,664.54 483.00,664.49 483.50,664.43 484.00,664.34 484.50,664.20 485.00,663.99 485.50,663.70 486.00,663.29 486.50,662.74 487.00,662.00 487.50,661.04 488.00,659.81 488.50,658.29 489.00,656.45 489.50,654.26 490.00,651.74 490.50,648.92 491.00,645.84 491.50,642.58 492.00,639.25 492.50,635.97 493.00,632.89 493.50,630.15 494.00,627.88 494.50,626.22 495.00,625.24 495.50,625.01 496.00,625.44 496.50,626.47 497.00,628.04 497.50,630.10 498.00,632.54 498.50,635.27 499.00,638.19 499.50,641.18 500.00,644.16 500.50,647.03 501.00,649.74 501.50,652.22 502.00,654.45 502.50,656.41 503.00,658.09 503.50,659.50 504.00,660.67 504.50,661.62 505.00,662.38 505.50,662.97 506.00,663.42 506.50,663.76 507.00,664.01 507.50,664.19 508.00,664.32 508.50,664.41 509.00,664.48 509.50,664.52 510.00,664.55 510.50,664.57 511.00,664.58 511.50,664.59 512.00,664.59 512.50,664.60 513.00,664.60 513.50,664.60 514.00,664.60 514.50,664.60 515.00,664.60 515.00,664.60" fill="#b9b9b9" stroke="none" stroke-width="0" stroke-linejoin="round" />
<polyline points="466.00,664.60 466.50,664.60 467.00,664.60 467.50,664.60 468.00,664.60 468.50,664.60 469.00,664.60 469.50,664.60 470.00,664.60 470.50,664.60 471.00,664.60 471.50,664.60 472.00,664.60 472.50,664.60 473.00,664.60 473.50,664.60 474.00,664.60 474.50,664.60 475.00,664.60 475.50,664.60 476.00,664.60 476.50,664.60 477.00,664.60 477.50,664.60 478.00,664.60 478.50,664.60 479.00,664.60 479.50,664.60 480.00,664.60 480.50,664.60 481.00,664.60 481.50,664.60 482.00,664.60 482.50,664.60 483.00,664.59 483.50,664.58 484.00,664.57 484.50,664.55 485.00,664.52 485.50,664.46 486.00,664.37 486.50,664.24 487.00,664.04 487.50,663.74 488.00,663.32 488.50,662.73 489.00,661.93 489.50,660.86 490.00,659.48 490.50,657.75 491.00,655.62 491.50,653.09 492.00,650.15 492.50,646.86 493.00,643.28 493.50,639.52 494.00,635.74 494.50,632.09 495.00,628.77 495.50,625.95 496.00,623.80 496.50,622.46 497.00,622.00 497.50,622.37 498.00,623.45 498.50,625.19 499.00,627.51 499.50,630.29 500.00,633.41 500.50,636.73 501.00,640.12 501.50,643.47 502.00,646.67 502.50,649.65 503.00,652.35 503.50,654.74 504.00,656.79 504.50,658.53 505.00,659.96 505.50,661.11 506.00,662.02 506.50,662.73 507.00,663.26 507.50,663.66 508.00,663.95 508.50,664.16 509.00,664.31 509.50,664.41 510.00,664.48 510.50,664.52 511.00,664.55 511.50,664.57 512.00,664.58 512.50,664.59 513.00,664.59 513.50,664.60 514.00,664.60 514.50,664.60 515.00,664.60" fill="none" stroke="#444" stroke-width="0.7" stroke-linejoin="round" />
</g>
<text x="467.5" y="669.8" font-size="2.8" fill="#777">10</text>
<text x="478.0" y="669.8" font-size="2.8" fill="#777">10</text>
<text x="488.5" y="669.8" font-size="2.8" fill="#777">10</text>
<text x="499.0" y="669.8" font-size="2.8" fill="#777">10</text>
<text x="509.5" y="669.8" font-size="2.8" fill="#777">10</text>
<rect x="253.00" y="675.00" width="49.00" height="49.20" fill="#fff" stroke="#9a9a9a" stroke-width="0.7" />
<clipPath id="c795"><rect x="253.50" y="675.00" width="48.00" height="49.20"/></clipPath>
<g clip-path="url(#c795)">
<polyline points="253.00,722.97 253.50,722.91 254.00,722.78 254.50,722.48 255.00,721.86 255.50,720.69 256.00,718.69 256.50,715.55 257.00,711.07 257.50,705.32 258.00,698.74 258.50,692.18 259.00,686.76 259.50,683.55 260.00,683.16 260.50,684.97 261.00,688.53 261.50,693.32 262.00,698.74 262.50,704.16 263.00,709.11 263.50,713.28 264.00,716.53 264.50,718.92 265.00,720.55 265.50,721.61 266.00,722.25 266.50,722.61 267.00,722.81 267.50,722.91 268.00,722.96 268.50,722.98 269.00,722.99 269.50,723.00 270.00,723.00 270.50,723.00 271.00,723.00 271.50,723.00 272.00,723.00 272.50,723.00 273.00,723.00 273.50,723.00 274.00,723.00 274.50,723.00 275.00,723.00 275.50,723.00 276.00,723.00 276.50,723.00 277.00,723.00 277.50,723.00 278.00,723.00 278.50,723.00 279.00,723.00 279.50,723.00 280.00,723.00 280.50,723.00 281.00,723.00 281.50,723.00 282.00,723.00 282.50,723.00 283.00,723.00 283.50,723.00 284.00,723.00 284.50,723.00 285.00,723.00 285.50,723.00 286.00,723.00 286.50,723.00 287.00,723.00 287.50,723.00 288.00,723.00 288.50,723.00 289.00,723.00 289.50,723.00 290.00,723.00 290.50,723.00 291.00,723.00 291.50,723.00 292.00,723.00 292.50,723.00 293.00,723.00 293.50,723.00 294.00,723.00 294.50,723.00 295.00,723.00 295.50,723.00 296.00,723.00 296.50,723.00 297.00,723.00 297.50,723.00 298.00,723.00 298.50,723.00 299.00,723.00 299.50,723.00 300.00,723.00 300.50,723.00 301.00,723.00 301.50,723.00 302.00,723.00" fill="none" stroke="#a6a6a6" stroke-width="0.6" stroke-linejoin="round" />
<polyline points="253.00,723.00 253.00,722.99 253.50,722.98 254.00,722.96 254.50,722.90 255.00,722.79 255.50,722.58 256.00,722.20 256.50,721.55 257.00,720.51 257.50,718.93 258.00,716.68 258.50,713.69 259.00,709.98 259.50,705.70 260.00,701.17 260.50,696.84 261.00,693.24 261.50,690.84 262.00,690.00 262.50,690.40 263.00,691.57 263.50,693.43 264.00,695.85 264.50,698.68 265.00,701.74 265.50,704.86 266.00,707.89 266.50,710.72 267.00,713.26 267.50,715.47 268.00,717.31 268.50,718.81 269.00,719.98 269.50,720.88 270.00,721.55 270.50,722.03 271.00,722.37 271.50,722.60 272.00,722.75 272.50,722.85 273.00,722.91 273.50,722.95 274.00,722.97 274.50,722.98 275.00,722.99 275.50,723.00 276.00,723.00 276.50,723.00 277.00,723.00 277.50,723.00 278.00,723.00 278.50,723.00 279.00,723.00 279.50,723.00 280.00,723.00 280.50,723.00 281.00,723.00 281.50,723.00 282.00,723.00 282.50,723.00 283.00,723.00 283.50,723.00 284.00,723.00 284.50,723.00 285.00,723.00 285.50,723.00 286.00,723.00 286.50,723.00 287.00,723.00 287.50,723.00 288.00,723.00 288.50,723.00 289.00,723.00 289.50,723.00 290.00,723.00 290.50,723.00 291.00,723.00 291.50,723.00 292.00,723.00 292.50,723.00 293.00,723.00 293.50,723.00 294.00,723.00 294.50,723.00 295.00,723.00 295.50,723.00 296.00,723.00 296.50,723.00 297.00,723.00 297.50,723.00 298.00,723.00 298.50,723.00 299.00,723.00 299.50,723.00 300.00,723.00 300.50,723.00 301.00,723.00 301.50,723.00 302.00,723.00 302.00,723.00" fill="#b9b9b9" stroke="none" stroke-width="0" stroke-linejoin="round" />
<polyline points="253.00,722.99 253.50,722.97 254.00,722.95 254.50,722.89 255.00,722.80 255.50,722.63 256.00,722.34 256.50,721.88 257.00,721.15 257.50,720.07 258.00,718.52 258.50,716.25 259.00,713.68 259.50,710.74 260.00,706.67 260.50,701.03 261.00,697.39 261.50,691.23 262.00,687.97 262.50,683.25 263.00,680.62 263.50,679.71 264.00,682.93 264.50,681.12 265.00,683.02 265.50,682.92 266.00,680.94 266.50,682.33 267.00,681.41 267.50,684.48 268.00,682.90 268.50,686.27 269.00,686.82 269.50,685.47 270.00,688.27 270.50,689.29 271.00,686.88 271.50,690.43 272.00,688.79 272.50,692.81 273.00,691.80 273.50,692.48 274.00,694.89 274.50,695.83 275.00,697.47 275.50,697.50 276.00,699.26 276.50,700.15 277.00,700.72 277.50,701.99 278.00,702.61 278.50,703.91 279.00,705.61 279.50,705.63 280.00,707.00 280.50,707.30 281.00,708.92 281.50,709.70 282.00,710.25 282.50,711.21 283.00,712.30 283.50,712.12 284.00,713.29 284.50,713.73 285.00,714.76 285.50,715.20 286.00,716.02 286.50,716.49 287.00,716.83 287.50,717.32 288.00,717.77 288.50,718.21 289.00,718.61 289.50,718.98 290.00,719.33 290.50,719.66 291.00,719.96 291.50,720.24 292.00,720.50 292.50,720.74 293.00,720.95 293.50,721.15 294.00,721.34 294.50,721.51 295.00,721.66 295.50,721.80 296.00,721.93 296.50,722.04 297.00,722.15 297.50,722.24 298.00,722.33 298.50,722.40 299.00,722.47 299.50,722.53 300.00,722.59 300.50,722.64 301.00,722.68 301.50,722.72 302.00,722.76" fill="none" stroke="#444" stroke-width="0.7" stroke-linejoin="round" />
</g>
<text x="254.5" y="728.2" font-size="2.8" fill="#777">10</text>
<text x="265.0" y="728.2" font-size="2.8" fill="#777">10</text>
<text x="275.5" y="728.2" font-size="2.8" fill="#777">10</text>
<text x="286.0" y="728.2" font-size="2.8" fill="#777">10</text>
<text x="296.5" y="728.2" font-size="2.8" fill="#777">10</text>
<rect x="306.30" y="675.00" width="49.00" height="49.20" fill="#fff" stroke="#9a9a9a" stroke-width="0.7" />
<clipPath id="c807"><rect x="306.80" y="675.00" width="48.00" height="49.20"/></clipPath>
<g clip-path="url(#c807)">
<polyline points="306.30,722.76 306.80,722.48 307.30,721.96 307.80,721.01 308.30,719.44 308.80,717.02 309.30,713.57 309.80,709.02 310.30,703.53 310.80,697.53 311.30,691.69 311.80,686.85 312.30,683.79 312.80,683.04 313.30,684.46 313.80,687.70 314.30,692.30 314.80,697.64 315.30,703.10 315.80,708.18 316.30,712.51 316.80,715.96 317.30,718.51 317.80,720.28 318.30,721.43 318.80,722.14 319.30,722.56 319.80,722.78 320.30,722.90 320.80,722.95 321.30,722.98 321.80,722.99 322.30,723.00 322.80,723.00 323.30,723.00 323.80,723.00 324.30,723.00 324.80,723.00 325.30,723.00 325.80,723.00 326.30,723.00 326.80,723.00 327.30,723.00 327.80,723.00 328.30,723.00 328.80,723.00 329.30,723.00 329.80,723.00 330.30,723.00 330.80,723.00 331.30,723.00 331.80,723.00 332.30,723.00 332.80,723.00 333.30,723.00 333.80,723.00 334.30,723.00 334.80,723.00 335.30,723.00 335.80,723.00 336.30,723.00 336.80,723.00 337.30,723.00 337.80,723.00 338.30,723.00 338.80,723.00 339.30,723.00 339.80,723.00 340.30,723.00 340.80,723.00 341.30,723.00 341.80,723.00 342.30,723.00 342.80,723.00 343.30,723.00 343.80,723.00 344.30,723.00 344.80,723.00 345.30,723.00 345.80,723.00 346.30,723.00 346.80,723.00 347.30,723.00 347.80,723.00 348.30,723.00 348.80,723.00 349.30,723.00 349.80,723.00 350.30,723.00 350.80,723.00 351.30,723.00 351.80,723.00 352.30,723.00 352.80,723.00 353.30,723.00 353.80,723.00 354.30,723.00 354.80,723.00 355.30,723.00" fill="none" stroke="#a6a6a6" stroke-width="0.6" stroke-linejoin="round" />
<polyline points="306.30,723.00 306.30,723.00 306.80,723.00 307.30,723.00 307.80,723.00 308.30,723.00 308.80,723.00 309.30,723.00 309.80,723.00 310.30,722.99 310.80,722.98 311.30,722.97 311.80,722.95 312.30,722.91 312.80,722.85 313.30,722.75 313.80,722.60 314.30,722.36 314.80,722.01 315.30,721.50 315.80,720.79 316.30,719.82 316.80,718.53 317.30,716.88 317.80,714.81 318.30,712.32 318.80,709.40 319.30,706.10 319.80,702.50 320.30,698.74 320.80,694.98 321.30,691.42 321.80,688.26 322.30,685.72 322.80,683.95 323.30,683.08 323.80,683.11 324.30,683.79 324.80,685.06 325.30,686.85 325.80,689.09 326.30,691.69 326.80,694.54 327.30,697.53 327.80,700.56 328.30,703.53 328.80,706.37 329.30,709.02 329.80,711.43 330.30,713.57 330.80,715.43 331.30,717.02 331.80,718.35 332.30,719.44 332.80,720.32 333.30,721.01 333.80,721.55 334.30,721.96 334.80,722.26 335.30,722.48 335.80,722.65 336.30,722.76 336.80,722.84 337.30,722.90 337.80,722.93 338.30,722.96 338.80,722.97 339.30,722.98 339.80,722.99 340.30,722.99 340.80,723.00 341.30,723.00 341.80,723.00 342.30,723.00 342.80,723.00 343.30,723.00 343.80,723.00 344.30,723.00 344.80,723.00 345.30,723.00 345.80,723.00 346.30,723.00 346.80,723.00 347.30,723.00 347.80,723.00 348.30,723.00 348.80,723.00 349.30,723.00 349.80,723.00 350.30,723.00 350.80,723.00 351.30,723.00 351.80,723.00 352.30,723.00 352.80,723.00 353.30,723.00 353.80,723.00 354.30,723.00 354.80,723.00 355.30,723.00 355.30,723.00" fill="#b9b9b9" stroke="none" stroke-width="0" stroke-linejoin="round" />
<polyline points="306.30,723.00 306.80,723.00 307.30,723.00 307.80,723.00 308.30,723.00 308.80,723.00 309.30,723.00 309.80,722.99 310.30,722.98 310.80,722.97 311.30,722.95 311.80,722.92 312.30,722.86 312.80,722.78 313.30,722.64 313.80,722.44 314.30,722.15 314.80,721.74 315.30,721.15 315.80,720.36 316.30,719.31 316.80,717.96 317.30,716.25 317.80,714.15 318.30,711.65 318.80,708.76 319.30,705.51 319.80,701.98 320.30,698.27 320.80,694.54 321.30,690.95 321.80,687.67 322.30,684.89 322.80,682.78 323.30,681.45 323.80,681.00 324.30,681.25 324.80,681.98 325.30,683.17 325.80,684.79 326.30,686.77 326.80,689.05 327.30,691.56 327.80,694.22 328.30,696.97 328.80,699.74 329.30,702.45 329.80,705.06 330.30,707.52 330.80,709.81 331.30,711.88 331.80,713.74 332.30,715.38 332.80,716.81 333.30,718.02 333.80,719.05 334.30,719.90 334.80,720.59 335.30,721.15 335.80,721.60 336.30,721.95 336.80,722.23 337.30,722.43 337.80,722.59 338.30,722.71 338.80,722.79 339.30,722.86 339.80,722.90 340.30,722.93 340.80,722.95 341.30,722.97 341.80,722.98 342.30,722.99 342.80,722.99 343.30,722.99 343.80,723.00 344.30,723.00 344.80,723.00 345.30,723.00 345.80,723.00 346.30,723.00 346.80,723.00 347.30,723.00 347.80,723.00 348.30,723.00 348.80,723.00 349.30,723.00 349.80,723.00 350.30,723.00 350.80,723.00 351.30,723.00 351.80,723.00 352.30,723.00 352.80,723.00 353.30,723.00 353.80,723.00 354.30,723.00 354.80,723.00 355.30,723.00" fill="none" stroke="#444" stroke-width="0.7" stroke-linejoin="round" />
</g>
<text x="307.8" y="728.2" font-size="2.8" fill="#777">10</text>
<text x="318.3" y="728.2" font-size="2.8" fill="#777">10</text>
<text x="328.8" y="728.2" font-size="2.8" fill="#777">10</text>
<text x="339.3" y="728.2" font-size="2.8" fill="#777">10</text>
<text x="349.8" y="728.2" font-size="2.8" fill="#777">10</text>
<rect x="359.50" y="675.00" width="49.00" height="49.20" fill="#fff" stroke="#9a9a9a" stroke-width="0.7" />
<clipPath id="c819"><rect x="360.00" y="675.00" width="48.00" height="49.20"/></clipPath>
<g clip-path="url(#c819)">
<polyline points="359.50,722.15 360.00,721.46 360.50,720.35 361.00,718.68 361.50,716.30 362.00,713.13 362.50,709.19 363.00,704.65 363.50,699.85 364.00,695.26 364.50,691.44 365.00,688.89 365.50,688.00 366.00,688.64 366.50,690.50 367.00,693.37 367.50,696.96 368.00,700.96 368.50,705.01 369.00,708.86 369.50,712.28 370.00,715.17 370.50,717.49 371.00,719.26 371.50,720.56 372.00,721.46 372.50,722.07 373.00,722.45 373.50,722.69 374.00,722.83 374.50,722.91 375.00,722.96 375.50,722.98 376.00,722.99 376.50,723.00 377.00,723.00 377.50,723.00 378.00,723.00 378.50,723.00 379.00,723.00 379.50,723.00 380.00,723.00 380.50,723.00 381.00,723.00 381.50,723.00 382.00,723.00 382.50,723.00 383.00,723.00 383.50,723.00 384.00,723.00 384.50,723.00 385.00,723.00 385.50,723.00 386.00,723.00 386.50,723.00 387.00,723.00 387.50,723.00 388.00,723.00 388.50,723.00 389.00,723.00 389.50,723.00 390.00,723.00 390.50,723.00 391.00,723.00 391.50,723.00 392.00,723.00 392.50,723.00 393.00,723.00 393.50,723.00 394.00,723.00 394.50,723.00 395.00,723.00 395.50,723.00 396.00,723.00 396.50,723.00 397.00,723.00 397.50,723.00 398.00,723.00 398.50,723.00 399.00,723.00 399.50,723.00 400.00,723.00 400.50,723.00 401.00,723.00 401.50,723.00 402.00,723.00 402.50,723.00 403.00,723.00 403.50,723.00 404.00,723.00 404.50,723.00 405.00,723.00 405.50,723.00 406.00,723.00 406.50,723.00 407.00,723.00 407.50,723.00 408.00,723.00 408.50,723.00" fill="none" stroke="#a6a6a6" stroke-width="0.6" stroke-linejoin="round" />
<polyline points="359.50,723.00 359.50,722.73 360.00,722.51 360.50,722.16 361.00,721.59 361.50,720.73 362.00,719.47 362.50,717.72 363.00,715.39 363.50,712.42 364.00,708.83 364.50,704.71 365.00,700.25 365.50,695.74 366.00,691.51 366.50,687.94 367.00,685.39 367.50,684.12 368.00,684.11 368.50,684.77 369.00,686.01 369.50,687.76 370.00,689.94 370.50,692.47 371.00,695.25 371.50,698.16 372.00,701.12 372.50,704.02 373.00,706.79 373.50,709.37 374.00,711.72 374.50,713.81 375.00,715.62 375.50,717.17 376.00,718.47 376.50,719.53 377.00,720.39 377.50,721.06 378.00,721.58 378.50,721.98 379.00,722.28 379.50,722.50 380.00,722.66 380.50,722.77 381.00,722.84 381.50,722.90 382.00,722.93 382.50,722.96 383.00,722.97 383.50,722.98 384.00,722.99 384.50,722.99 385.00,723.00 385.50,723.00 386.00,723.00 386.50,723.00 387.00,723.00 387.50,723.00 388.00,723.00 388.50,723.00 389.00,723.00 389.50,723.00 390.00,723.00 390.50,723.00 391.00,723.00 391.50,723.00 392.00,723.00 392.50,723.00 393.00,723.00 393.50,723.00 394.00,723.00 394.50,723.00 395.00,723.00 395.50,723.00 396.00,723.00 396.50,723.00 397.00,723.00 397.50,723.00 398.00,723.00 398.50,723.00 399.00,723.00 399.50,723.00 400.00,723.00 400.50,723.00 401.00,723.00 401.50,723.00 402.00,723.00 402.50,723.00 403.00,723.00 403.50,723.00 404.00,723.00 404.50,723.00 405.00,723.00 405.50,723.00 406.00,723.00 406.50,723.00 407.00,723.00 407.50,723.00 408.00,723.00 408.50,723.00 408.50,723.00" fill="#b9b9b9" stroke="none" stroke-width="0" stroke-linejoin="round" />
<polyline points="359.50,722.78 360.00,722.62 360.50,722.34 361.00,721.92 361.50,721.27 362.00,720.33 362.50,718.99 363.00,717.18 363.50,714.81 364.00,711.85 364.50,708.28 365.00,704.18 365.50,699.70 366.00,695.06 366.50,690.54 367.00,686.48 367.50,683.19 368.00,680.98 368.50,680.03 369.00,680.07 369.50,680.35 370.00,680.85 370.50,681.56 371.00,682.45 371.50,683.54 372.00,684.78 372.50,686.18 373.00,687.71 373.50,689.34 374.00,691.07 374.50,692.86 375.00,694.69 375.50,696.55 376.00,698.41 376.50,700.25 377.00,702.07 377.50,703.84 378.00,705.55 378.50,707.18 379.00,708.74 379.50,710.21 380.00,711.58 380.50,712.86 381.00,714.04 381.50,715.13 382.00,716.12 382.50,717.01 383.00,717.82 383.50,718.54 384.00,719.18 384.50,719.74 385.00,720.24 385.50,720.67 386.00,721.04 386.50,721.36 387.00,721.64 387.50,721.88 388.00,722.08 388.50,722.24 389.00,722.38 389.50,722.50 390.00,722.60 390.50,722.68 391.00,722.74 391.50,722.80 392.00,722.84 392.50,722.87 393.00,722.90 393.50,722.92 394.00,722.94 394.50,722.95 395.00,722.96 395.50,722.97 396.00,722.98 396.50,722.98 397.00,722.99 397.50,722.99 398.00,722.99 398.50,723.00 399.00,723.00 399.50,723.00 400.00,723.00 400.50,723.00 401.00,723.00 401.50,723.00 402.00,723.00 402.50,723.00 403.00,723.00 403.50,723.00 404.00,723.00 404.50,723.00 405.00,723.00 405.50,723.00 406.00,723.00 406.50,723.00 407.00,723.00 407.50,723.00 408.00,723.00 408.50,723.00" fill="none" stroke="#444" stroke-width="0.7" stroke-linejoin="round" />
</g>
<text x="361.0" y="728.2" font-size="2.8" fill="#777">10</text>
<text x="371.5" y="728.2" font-size="2.8" fill="#777">10</text>
<text x="382.0" y="728.2" font-size="2.8" fill="#777">10</text>
<text x="392.5" y="728.2" font-size="2.8" fill="#777">10</text>
<text x="403.0" y="728.2" font-size="2.8" fill="#777">10</text>
<rect x="412.80" y="675.00" width="49.00" height="49.20" fill="#fff" stroke="#9a9a9a" stroke-width="0.7" />
<clipPath id="c831"><rect x="413.30" y="675.00" width="48.00" height="49.20"/></clipPath>
<g clip-path="url(#c831)">
<polyline points="412.80,722.97 413.30,722.92 413.80,722.81 414.30,722.57 414.80,722.08 415.30,721.17 415.80,719.61 416.30,717.14 416.80,713.56 417.30,708.79 417.80,703.05 418.30,696.86 418.80,691.05 419.30,686.56 419.80,684.22 420.30,684.36 420.80,686.50 421.30,690.25 421.80,695.09 422.30,700.42 422.80,705.65 423.30,710.34 423.80,714.23 424.30,717.23 424.80,719.39 425.30,720.86 425.80,721.79 426.30,722.35 426.80,722.67 427.30,722.84 427.80,722.93 428.30,722.97 428.80,722.99 429.30,722.99 429.80,723.00 430.30,723.00 430.80,723.00 431.30,723.00 431.80,723.00 432.30,723.00 432.80,723.00 433.30,723.00 433.80,723.00 434.30,723.00 434.80,723.00 435.30,723.00 435.80,723.00 436.30,723.00 436.80,723.00 437.30,723.00 437.80,723.00 438.30,723.00 438.80,723.00 439.30,723.00 439.80,723.00 440.30,723.00 440.80,723.00 441.30,723.00 441.80,723.00 442.30,723.00 442.80,723.00 443.30,723.00 443.80,723.00 444.30,723.00 444.80,723.00 445.30,723.00 445.80,723.00 446.30,723.00 446.80,723.00 447.30,723.00 447.80,723.00 448.30,723.00 448.80,723.00 449.30,723.00 449.80,723.00 450.30,723.00 450.80,723.00 451.30,723.00 451.80,723.00 452.30,723.00 452.80,723.00 453.30,723.00 453.80,723.00 454.30,723.00 454.80,723.00 455.30,723.00 455.80,723.00 456.30,723.00 456.80,723.00 457.30,723.00 457.80,723.00 458.30,723.00 458.80,723.00 459.30,723.00 459.80,723.00 460.30,723.00 460.80,723.00 461.30,723.00 461.80,723.00" fill="none" stroke="#a6a6a6" stroke-width="0.6" stroke-linejoin="round" />
<polyline points="412.80,723.00 412.80,723.00 413.30,723.00 413.80,723.00 414.30,723.00 414.80,723.00 415.30,723.00 415.80,723.00 416.30,723.00 416.80,723.00 417.30,723.00 417.80,723.00 418.30,723.00 418.80,723.00 419.30,723.00 419.80,723.00 420.30,723.00 420.80,723.00 421.30,723.00 421.80,723.00 422.30,723.00 422.80,723.00 423.30,723.00 423.80,722.99 424.30,722.99 424.80,722.96 425.30,722.92 425.80,722.83 426.30,722.64 426.80,722.30 427.30,721.71 427.80,720.74 428.30,719.22 428.80,717.02 429.30,714.01 429.80,710.15 430.30,705.58 430.80,700.56 431.30,695.55 431.80,691.11 432.30,687.83 432.80,686.15 433.30,686.25 433.80,687.71 434.30,690.35 434.80,693.88 435.30,697.98 435.80,702.28 436.30,706.47 436.80,710.28 437.30,713.58 437.80,716.27 438.30,718.37 438.80,719.93 439.30,721.04 439.80,721.79 440.30,722.28 440.80,722.59 441.30,722.77 441.80,722.88 442.30,722.94 442.80,722.97 443.30,722.99 443.80,722.99 444.30,723.00 444.80,723.00 445.30,723.00 445.80,723.00 446.30,723.00 446.80,723.00 447.30,723.00 447.80,723.00 448.30,723.00 448.80,723.00 449.30,723.00 449.80,723.00 450.30,723.00 450.80,723.00 451.30,723.00 451.80,723.00 452.30,723.00 452.80,723.00 453.30,723.00 453.80,723.00 454.30,723.00 454.80,723.00 455.30,723.00 455.80,723.00 456.30,723.00 456.80,723.00 457.30,723.00 457.80,723.00 458.30,723.00 458.80,723.00 459.30,723.00 459.80,723.00 460.30,723.00 460.80,723.00 461.30,723.00 461.80,723.00 461.80,723.00" fill="#b9b9b9" stroke="none" stroke-width="0" stroke-linejoin="round" />
<polyline points="412.80,723.00 413.30,723.00 413.80,723.00 414.30,723.00 414.80,723.00 415.30,723.00 415.80,723.00 416.30,722.99 416.80,722.99 417.30,722.99 417.80,722.98 418.30,722.98 418.80,722.97 419.30,722.96 419.80,722.95 420.30,722.93 420.80,722.91 421.30,722.88 421.80,722.84 422.30,722.79 422.80,722.72 423.30,722.64 423.80,722.54 424.30,722.42 424.80,722.27 425.30,722.08 425.80,721.86 426.30,721.58 426.80,721.26 427.30,720.87 427.80,720.41 428.30,719.88 428.80,719.26 429.30,718.54 429.80,717.72 430.30,716.80 430.80,715.75 431.30,714.59 431.80,713.30 432.30,711.89 432.80,710.35 433.30,708.70 433.80,706.93 434.30,705.07 434.80,703.11 435.30,701.09 435.80,699.02 436.30,696.92 436.80,694.82 437.30,692.75 437.80,690.74 438.30,688.82 438.80,687.01 439.30,685.36 439.80,683.89 440.30,682.62 440.80,681.59 441.30,680.80 441.80,680.27 442.30,680.02 442.80,680.05 443.30,680.38 443.80,681.00 444.30,681.89 444.80,683.05 445.30,684.44 445.80,686.04 446.30,687.81 446.80,689.74 447.30,691.78 447.80,693.89 448.30,696.05 448.80,698.22 449.30,700.38 449.80,702.49 450.30,704.53 450.80,706.48 451.30,708.33 451.80,710.06 452.30,711.67 452.80,713.15 453.30,714.49 453.80,715.70 454.30,716.78 454.80,717.74 455.30,718.58 455.80,719.31 456.30,719.95 456.80,720.49 457.30,720.95 457.80,721.33 458.30,721.66 458.80,721.93 459.30,722.15 459.80,722.33 460.30,722.47 460.80,722.59 461.30,722.68 461.80,722.76" fill="none" stroke="#444" stroke-width="0.7" stroke-linejoin="round" />
</g>
<text x="414.3" y="728.2" font-size="2.8" fill="#777">10</text>
<text x="424.8" y="728.2" font-size="2.8" fill="#777">10</text>
<text x="435.3" y="728.2" font-size="2.8" fill="#777">10</text>
<text x="445.8" y="728.2" font-size="2.8" fill="#777">10</text>
<text x="456.3" y="728.2" font-size="2.8" fill="#777">10</text>
<rect x="466.00" y="675.00" width="49.00" height="49.20" fill="#fff" stroke="#9a9a9a" stroke-width="0.7" />
<clipPath id="c843"><rect x="466.50" y="675.00" width="48.00" height="49.20"/></clipPath>
<g clip-path="url(#c843)">
<polyline points="466.00,722.94 466.50,722.85 467.00,722.66 467.50,722.28 468.00,721.57 468.50,720.35 469.00,718.37 469.50,715.41 470.00,711.32 470.50,706.12 471.00,700.06 471.50,693.73 472.00,687.92 472.50,683.50 473.00,681.21 473.50,681.39 474.00,683.69 474.50,687.73 475.00,692.95 475.50,698.68 476.00,704.31 476.50,709.36 477.00,713.55 477.50,716.78 478.00,719.11 478.50,720.69 479.00,721.70 479.50,722.30 480.00,722.65 480.50,722.83 481.00,722.92 481.50,722.97 482.00,722.99 482.50,722.99 483.00,723.00 483.50,723.00 484.00,723.00 484.50,723.00 485.00,723.00 485.50,723.00 486.00,723.00 486.50,723.00 487.00,723.00 487.50,723.00 488.00,723.00 488.50,723.00 489.00,723.00 489.50,723.00 490.00,723.00 490.50,723.00 491.00,723.00 491.50,723.00 492.00,723.00 492.50,723.00 493.00,723.00 493.50,723.00 494.00,723.00 494.50,723.00 495.00,723.00 495.50,723.00 496.00,723.00 496.50,723.00 497.00,723.00 497.50,723.00 498.00,723.00 498.50,723.00 499.00,723.00 499.50,723.00 500.00,723.00 500.50,723.00 501.00,723.00 501.50,723.00 502.00,723.00 502.50,723.00 503.00,723.00 503.50,723.00 504.00,723.00 504.50,723.00 505.00,723.00 505.50,723.00 506.00,723.00 506.50,723.00 507.00,723.00 507.50,723.00 508.00,723.00 508.50,723.00 509.00,723.00 509.50,723.00 510.00,723.00 510.50,723.00 511.00,723.00 511.50,723.00 512.00,723.00 512.50,723.00 513.00,723.00 513.50,723.00 514.00,723.00 514.50,723.00 515.00,723.00" fill="none" stroke="#a6a6a6" stroke-width="0.6" stroke-linejoin="round" />
<polyline points="466.00,723.00 466.00,723.00 466.50,723.00 467.00,723.00 467.50,723.00 468.00,723.00 468.50,723.00 469.00,723.00 469.50,723.00 470.00,722.99 470.50,722.99 471.00,722.99 471.50,722.98 472.00,722.97 472.50,722.95 473.00,722.93 473.50,722.89 474.00,722.84 474.50,722.77 475.00,722.67 475.50,722.54 476.00,722.35 476.50,722.11 477.00,721.79 477.50,721.38 478.00,720.86 478.50,720.20 479.00,719.39 479.50,718.41 480.00,717.23 480.50,715.84 481.00,714.23 481.50,712.39 482.00,710.34 482.50,708.08 483.00,705.65 483.50,703.08 484.00,700.42 484.50,697.74 485.00,695.09 485.50,692.57 486.00,690.25 486.50,688.20 487.00,686.50 487.50,685.20 488.00,684.36 488.50,684.01 489.00,684.14 489.50,684.68 490.00,685.62 490.50,686.94 491.00,688.58 491.50,690.51 492.00,692.65 492.50,694.96 493.00,697.38 493.50,699.84 494.00,702.29 494.50,704.68 495.00,706.97 495.50,709.12 496.00,711.12 496.50,712.93 497.00,714.57 497.50,716.01 498.00,717.27 498.50,718.35 499.00,719.27 499.50,720.04 500.00,720.68 500.50,721.20 501.00,721.61 501.50,721.95 502.00,722.21 502.50,722.41 503.00,722.57 503.50,722.68 504.00,722.77 504.50,722.84 505.00,722.89 505.50,722.92 506.00,722.95 506.50,722.96 507.00,722.97 507.50,722.98 508.00,722.99 508.50,722.99 509.00,723.00 509.50,723.00 510.00,723.00 510.50,723.00 511.00,723.00 511.50,723.00 512.00,723.00 512.50,723.00 513.00,723.00 513.50,723.00 514.00,723.00 514.50,723.00 515.00,723.00 515.00,723.00" fill="#b9b9b9" stroke="none" stroke-width="0" stroke-linejoin="round" />
<polyline points="466.00,723.00 466.50,723.00 467.00,723.00 467.50,723.00 468.00,723.00 468.50,723.00 469.00,723.00 469.50,723.00 470.00,723.00 470.50,723.00 471.00,723.00 471.50,723.00 472.00,723.00 472.50,723.00 473.00,723.00 473.50,723.00 474.00,723.00 474.50,723.00 475.00,722.99 475.50,722.99 476.00,722.98 476.50,722.96 477.00,722.94 477.50,722.91 478.00,722.85 478.50,722.77 479.00,722.65 479.50,722.48 480.00,722.24 480.50,721.91 481.00,721.45 481.50,720.85 482.00,720.06 482.50,719.04 483.00,717.77 483.50,716.21 484.00,714.33 484.50,712.12 485.00,709.58 485.50,706.74 486.00,703.64 486.50,700.33 487.00,696.92 487.50,693.51 488.00,690.22 488.50,687.20 489.00,684.56 489.50,682.44 490.00,680.94 490.50,680.13 491.00,680.04 491.50,680.45 492.00,681.32 492.50,682.61 493.00,684.29 493.50,686.29 494.00,688.57 494.50,691.05 495.00,693.68 495.50,696.38 496.00,699.09 496.50,701.75 497.00,704.33 497.50,706.77 498.00,709.04 498.50,711.12 499.00,713.01 499.50,714.68 500.00,716.15 500.50,717.42 501.00,718.50 501.50,719.42 502.00,720.17 502.50,720.80 503.00,721.30 503.50,721.70 504.00,722.02 504.50,722.27 505.00,722.46 505.50,722.60 506.00,722.71 506.50,722.80 507.00,722.86 507.50,722.90 508.00,722.93 508.50,722.95 509.00,722.97 509.50,722.98 510.00,722.99 510.50,722.99 511.00,722.99 511.50,723.00 512.00,723.00 512.50,723.00 513.00,723.00 513.50,723.00 514.00,723.00 514.50,723.00 515.00,723.00" fill="none" stroke="#444" stroke-width="0.7" stroke-linejoin="round" />
</g>
<text x="467.5" y="728.2" font-size="2.8" fill="#777">10</text>
<text x="478.0" y="728.2" font-size="2.8" fill="#777">10</text>
<text x="488.5" y="728.2" font-size="2.8" fill="#777">10</text>
<text x="499.0" y="728.2" font-size="2.8" fill="#777">10</text>
<text x="509.5" y="728.2" font-size="2.8" fill="#777">10</text>
<line x1="253.00" y1="732.00" x2="302.00" y2="732.00" stroke="#888" stroke-width="0.7" />
<text x="262.80" y="743.60" font-size="10.2" fill="#111" stroke="#111" stroke-width="0.22" textLength="25.90" lengthAdjust="spacingAndGlyphs" >CD19</text>
<line x1="306.30" y1="732.00" x2="355.30" y2="732.00" stroke="#888" stroke-width="0.7" />
<text x="317.30" y="743.60" font-size="10.2" fill="#111" stroke="#111" stroke-width="0.22" textLength="25.50" lengthAdjust="spacingAndGlyphs" >CD20</text>
<line x1="359.50" y1="732.00" x2="408.50" y2="732.00" stroke="#888" stroke-width="0.7" />
<text x="370.80" y="743.60" font-size="10.2" fill="#111" stroke="#111" stroke-width="0.22" textLength="24.60" lengthAdjust="spacingAndGlyphs" >CD37</text>
<line x1="412.80" y1="732.00" x2="461.80" y2="732.00" stroke="#888" stroke-width="0.7" />
<text x="425.50" y="743.60" font-size="10.2" fill="#111" stroke="#111" stroke-width="0.22" textLength="25.90" lengthAdjust="spacingAndGlyphs" >CD53</text>
<line x1="466.00" y1="732.00" x2="515.00" y2="732.00" stroke="#888" stroke-width="0.7" />
<text x="478.50" y="743.60" font-size="10.2" fill="#111" stroke="#111" stroke-width="0.22" textLength="24.50" lengthAdjust="spacingAndGlyphs" >CD82</text>
</svg>
</body></html>
